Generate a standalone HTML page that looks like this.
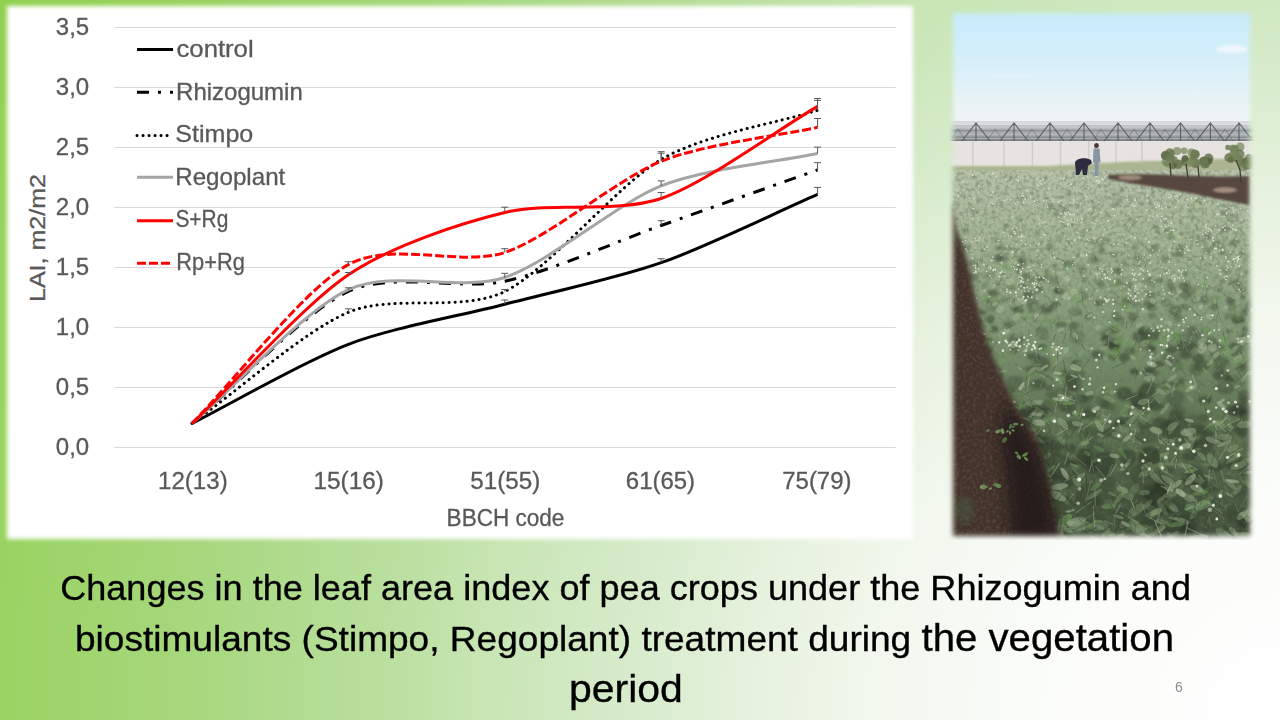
<!DOCTYPE html>
<html><head><meta charset="utf-8"><title>LAI of pea crops</title>
<style>
html,body{margin:0;padding:0;}
body{width:1280px;height:720px;overflow:hidden;position:relative;background:radial-gradient(circle 1470px at 1280px 720px, #ffffff 0px, #fafcf8 250px, #f2f8ee 400px, #e7f2df 520px, #d6ebca 660px, #c8e5b3 800px, #b9df9e 900px, #a6d77c 1100px, #9bd363 1280px, #92d050 1470px);}
.box{position:absolute;left:7px;top:6px;width:906px;height:533px;background:#fff;filter:blur(2px);}
svg{position:absolute;left:0;top:0;}
</style></head><body>
<div class="box"></div>
<svg width="1280" height="720" viewBox="0 0 1280 720">
<defs>
<filter id="soft" x="-10%" y="-10%" width="120%" height="120%"><feGaussianBlur stdDeviation="2.6"/></filter>
<filter id="b05"><feGaussianBlur stdDeviation="0.5"/></filter>
<filter id="b1"><feGaussianBlur stdDeviation="1"/></filter>
<filter id="b2" x="-20%" y="-20%" width="140%" height="140%"><feGaussianBlur stdDeviation="2.5"/></filter>
<filter id="b4" x="-40%" y="-30%" width="180%" height="160%"><feGaussianBlur stdDeviation="7"/></filter>
<filter id="noise" x="0" y="0" width="100%" height="100%">
 <feTurbulence type="fractalNoise" baseFrequency="0.25" numOctaves="3" seed="3" result="n"/>
 <feColorMatrix in="n" type="matrix" values="0 0 0 0 0.16  0 0 0 0 0.2  0 0 0 0 0.13  0 0 0 1.4 -0.6" />
</filter>
<filter id="snoise" x="0" y="0" width="100%" height="100%">
 <feTurbulence type="fractalNoise" baseFrequency="0.3" numOctaves="2" seed="5" result="n"/>
 <feColorMatrix in="n" type="matrix" values="0 0 0 0 0.12  0 0 0 0 0.08  0 0 0 0 0.07  0 0 0 1.6 -0.7" />
</filter>
<mask id="pm"><rect x="953" y="13.3" width="297" height="522.7" fill="#fff" filter="url(#soft)"/></mask>
<clipPath id="fc"><rect x="945" y="170" width="312" height="370"/></clipPath>
<linearGradient id="sky" x1="0" y1="0" x2="0" y2="1">
<stop offset="0" stop-color="#c5ebfc"/><stop offset="0.45" stop-color="#d5effa"/><stop offset="0.8" stop-color="#e8f3f6"/><stop offset="1" stop-color="#f0f5f4"/>
</linearGradient>
<linearGradient id="field" x1="0" y1="0" x2="0" y2="1">
<stop offset="0" stop-color="#b6c2aa"/><stop offset="0.2" stop-color="#a2b393"/><stop offset="0.45" stop-color="#7c9470"/><stop offset="0.7" stop-color="#5a6f4e"/><stop offset="1" stop-color="#3e4a37"/>
</linearGradient>
</defs>
<g mask="url(#pm)">
<rect x="945" y="5" width="312" height="118" fill="url(#sky)"/>
<ellipse cx="1232" cy="49" rx="16" ry="4" fill="#eef6fb" filter="url(#b1)"/>
<ellipse cx="1010" cy="76" rx="22" ry="1.5" fill="#e6f3fa" filter="url(#b1)"/>
<rect x="945" y="121.5" width="312" height="20" fill="#a7abaf"/>
<rect x="945" y="121.5" width="312" height="4" fill="#d9dcde"/>
<rect x="945" y="125.5" width="312" height="3" fill="#c3c6c9"/>
<rect x="945" y="130" width="312" height="1.2" fill="#8d9196"/>
<rect x="945" y="133.5" width="312" height="1.5" fill="#b4b7ba"/>
<rect x="945" y="136.5" width="312" height="1.3" fill="#868a8f"/>
<rect x="945" y="139.3" width="312" height="1.8" fill="#7b7f84"/>
<path d="M962.0,141 L976.0,123 L990.0,141 M976.0,123 L976.0,141 M1000.0,141 L1014.0,123 L1028.0,141 M1014.0,123 L1014.0,141 M1036.0,141 L1050.0,123 L1064.0,141 M1050.0,123 L1050.0,141 M1070.0,141 L1084.0,123 L1098.0,141 M1084.0,123 L1084.0,141 M1104.0,141 L1118.0,123 L1132.0,141 M1118.0,123 L1118.0,141 M1136.0,141 L1150.0,123 L1164.0,141 M1150.0,123 L1150.0,141 M1166.5,141 L1180.5,123 L1194.5,141 M1180.5,123 L1180.5,141 M1196.4,141 L1210.4,123 L1224.4,141 M1210.4,123 L1210.4,141 M1225.0,141 L1239.0,123 L1253.0,141 M1239.0,123 L1239.0,141" fill="none" stroke="#4c525a" stroke-width="1.1" opacity="0.85"/>
<path d="M950.0,141 L958.0,129 L966.0,141 M987.0,141 L995.0,129 L1003.0,141 M1024.0,141 L1032.0,129 L1040.0,141 M1059.0,141 L1067.0,129 L1075.0,141 M1093.0,141 L1101.0,129 L1109.0,141 M1126.0,141 L1134.0,129 L1142.0,141 M1157.0,141 L1165.0,129 L1173.0,141 M1187.0,141 L1195.0,129 L1203.0,141 M1217.0,141 L1225.0,129 L1233.0,141" fill="none" stroke="#5c626a" stroke-width="0.9" opacity="0.6"/>
<rect x="945" y="141" width="312" height="28" fill="#e6e3e0"/>
<rect x="972.2" y="141" width="1.4" height="28" fill="#cfccc9"/>
<rect x="1003.2" y="141" width="1.4" height="28" fill="#cfccc9"/>
<rect x="1031.7" y="141" width="1.4" height="28" fill="#cfccc9"/>
<rect x="1059.8" y="141" width="1.4" height="28" fill="#cfccc9"/>
<rect x="1087.95" y="141" width="1.4" height="28" fill="#cfccc9"/>
<rect x="1115.2" y="141" width="1.4" height="28" fill="#cfccc9"/>
<rect x="1141.2" y="141" width="1.4" height="28" fill="#cfccc9"/>
<path d="M945,166 L1050,166 C1100,162 1180,160 1257,158 L1257,178 L945,178 Z" fill="#acb592" filter="url(#b1)"/>
<g clip-path="url(#fc)">
<rect x="945" y="170" width="312" height="370" fill="url(#field)"/>
<rect x="945" y="170" width="312" height="370" filter="url(#noise)"/>
<g filter="url(#b1)"><ellipse cx="992.1" cy="292.8" rx="5.0" ry="2.7" fill="#2f3829" opacity="0.29"/><ellipse cx="1228.8" cy="389.4" rx="5.3" ry="2.9" fill="#4b5a43" opacity="0.38"/><ellipse cx="1077.4" cy="205.8" rx="3.0" ry="1.7" fill="#44523c" opacity="0.26"/><ellipse cx="964.3" cy="389.5" rx="7.3" ry="3.8" fill="#44523c" opacity="0.37"/><ellipse cx="1035.4" cy="492.2" rx="6.7" ry="3.7" fill="#36422f" opacity="0.64"/><ellipse cx="977.2" cy="426.4" rx="8.2" ry="4.9" fill="#3d4a37" opacity="0.55"/><ellipse cx="963.6" cy="195.4" rx="1.6" ry="1.4" fill="#4b5a43" opacity="0.27"/><ellipse cx="1233.1" cy="345.7" rx="5.1" ry="3.2" fill="#44523c" opacity="0.47"/><ellipse cx="1124.2" cy="263.0" rx="3.8" ry="3.6" fill="#4b5a43" opacity="0.29"/><ellipse cx="981.8" cy="537.6" rx="9.8" ry="8.6" fill="#44523c" opacity="0.82"/><ellipse cx="1245.1" cy="329.3" rx="3.6" ry="2.8" fill="#36422f" opacity="0.37"/><ellipse cx="1100.0" cy="302.6" rx="5.8" ry="3.1" fill="#3d4a37" opacity="0.45"/><ellipse cx="1152.2" cy="348.8" rx="3.8" ry="3.2" fill="#2f3829" opacity="0.54"/><ellipse cx="1033.8" cy="478.6" rx="8.2" ry="6.8" fill="#3d4a37" opacity="0.73"/><ellipse cx="1135.6" cy="304.6" rx="4.7" ry="2.9" fill="#36422f" opacity="0.31"/><ellipse cx="1067.0" cy="264.4" rx="4.9" ry="2.7" fill="#4b5a43" opacity="0.31"/><ellipse cx="987.7" cy="275.6" rx="3.8" ry="3.0" fill="#4b5a43" opacity="0.42"/><ellipse cx="1063.7" cy="426.7" rx="6.1" ry="3.3" fill="#44523c" opacity="0.46"/><ellipse cx="1096.3" cy="259.0" rx="3.9" ry="2.5" fill="#3d4a37" opacity="0.26"/><ellipse cx="1135.3" cy="371.4" rx="5.5" ry="3.1" fill="#2f3829" opacity="0.57"/><ellipse cx="1175.8" cy="416.3" rx="7.2" ry="6.8" fill="#2f3829" opacity="0.49"/><ellipse cx="977.3" cy="320.8" rx="5.7" ry="3.0" fill="#3d4a37" opacity="0.49"/><ellipse cx="979.3" cy="336.4" rx="6.0" ry="3.3" fill="#2f3829" opacity="0.34"/><ellipse cx="1058.4" cy="209.8" rx="1.5" ry="1.4" fill="#2f3829" opacity="0.24"/><ellipse cx="1243.1" cy="408.6" rx="7.9" ry="5.8" fill="#3d4a37" opacity="0.60"/><ellipse cx="1090.4" cy="542.4" rx="10.4" ry="5.7" fill="#3d4a37" opacity="0.77"/><ellipse cx="1094.3" cy="448.2" rx="9.5" ry="7.2" fill="#44523c" opacity="0.69"/><ellipse cx="990.7" cy="369.0" rx="6.6" ry="3.4" fill="#2f3829" opacity="0.41"/><ellipse cx="973.4" cy="411.8" rx="9.4" ry="7.2" fill="#44523c" opacity="0.48"/><ellipse cx="1114.0" cy="255.1" rx="3.6" ry="2.9" fill="#2f3829" opacity="0.36"/><ellipse cx="1211.0" cy="539.4" rx="13.1" ry="11.9" fill="#44523c" opacity="0.58"/><ellipse cx="1173.1" cy="355.8" rx="8.4" ry="7.5" fill="#4b5a43" opacity="0.39"/><ellipse cx="1243.4" cy="430.3" rx="7.5" ry="7.3" fill="#36422f" opacity="0.66"/><ellipse cx="1013.8" cy="308.0" rx="3.8" ry="2.3" fill="#44523c" opacity="0.38"/><ellipse cx="1135.4" cy="539.5" rx="6.3" ry="6.0" fill="#36422f" opacity="0.78"/><ellipse cx="1151.1" cy="203.6" rx="3.1" ry="2.7" fill="#44523c" opacity="0.24"/><ellipse cx="1191.2" cy="238.6" rx="2.7" ry="2.5" fill="#4b5a43" opacity="0.28"/><ellipse cx="971.5" cy="449.3" rx="6.0" ry="6.0" fill="#3d4a37" opacity="0.46"/><ellipse cx="1196.6" cy="509.5" rx="7.0" ry="6.4" fill="#4b5a43" opacity="0.69"/><ellipse cx="1116.2" cy="302.7" rx="3.3" ry="1.7" fill="#3d4a37" opacity="0.38"/><ellipse cx="1080.3" cy="520.2" rx="13.0" ry="11.9" fill="#44523c" opacity="0.50"/><ellipse cx="1101.4" cy="251.4" rx="4.2" ry="2.8" fill="#2f3829" opacity="0.29"/><ellipse cx="1228.9" cy="220.9" rx="2.4" ry="1.8" fill="#2f3829" opacity="0.31"/><ellipse cx="1203.1" cy="364.8" rx="8.1" ry="4.6" fill="#44523c" opacity="0.46"/><ellipse cx="1082.3" cy="179.0" rx="1.3" ry="0.6" fill="#44523c" opacity="0.18"/><ellipse cx="1171.3" cy="348.6" rx="6.1" ry="4.1" fill="#2f3829" opacity="0.44"/><ellipse cx="1187.3" cy="352.0" rx="7.7" ry="4.1" fill="#44523c" opacity="0.39"/><ellipse cx="1103.4" cy="460.1" rx="9.0" ry="7.9" fill="#3d4a37" opacity="0.56"/><ellipse cx="1102.7" cy="400.5" rx="7.2" ry="6.1" fill="#4b5a43" opacity="0.50"/><ellipse cx="1103.4" cy="473.1" rx="7.1" ry="5.4" fill="#36422f" opacity="0.72"/><ellipse cx="1008.2" cy="505.0" rx="9.2" ry="6.5" fill="#4b5a43" opacity="0.62"/><ellipse cx="1020.1" cy="199.1" rx="1.5" ry="1.2" fill="#3d4a37" opacity="0.28"/><ellipse cx="1168.4" cy="229.6" rx="3.3" ry="1.9" fill="#44523c" opacity="0.34"/><ellipse cx="1242.2" cy="253.9" rx="3.3" ry="2.4" fill="#44523c" opacity="0.26"/><ellipse cx="1105.9" cy="333.0" rx="4.8" ry="2.8" fill="#36422f" opacity="0.33"/><ellipse cx="1050.4" cy="308.5" rx="4.7" ry="4.0" fill="#4b5a43" opacity="0.35"/><ellipse cx="1104.8" cy="404.7" rx="4.7" ry="4.7" fill="#44523c" opacity="0.62"/><ellipse cx="1027.9" cy="211.1" rx="1.6" ry="1.4" fill="#36422f" opacity="0.29"/><ellipse cx="1210.1" cy="477.8" rx="10.3" ry="10.0" fill="#4b5a43" opacity="0.49"/><ellipse cx="1123.0" cy="514.9" rx="11.5" ry="6.3" fill="#3d4a37" opacity="0.74"/><ellipse cx="1224.3" cy="240.4" rx="2.6" ry="1.3" fill="#3d4a37" opacity="0.34"/><ellipse cx="1212.1" cy="203.2" rx="1.5" ry="1.4" fill="#4b5a43" opacity="0.18"/><ellipse cx="1075.3" cy="542.9" rx="14.1" ry="11.4" fill="#3d4a37" opacity="0.69"/><ellipse cx="979.1" cy="260.9" rx="2.7" ry="1.4" fill="#44523c" opacity="0.39"/><ellipse cx="1110.7" cy="406.5" rx="5.5" ry="4.0" fill="#44523c" opacity="0.45"/><ellipse cx="1255.3" cy="471.8" rx="5.6" ry="2.8" fill="#2f3829" opacity="0.61"/><ellipse cx="1093.1" cy="242.7" rx="4.4" ry="2.4" fill="#4b5a43" opacity="0.32"/><ellipse cx="1222.3" cy="375.6" rx="8.9" ry="5.9" fill="#44523c" opacity="0.58"/><ellipse cx="1204.7" cy="299.8" rx="5.4" ry="4.4" fill="#4b5a43" opacity="0.46"/><ellipse cx="1206.1" cy="538.2" rx="6.4" ry="5.2" fill="#36422f" opacity="0.65"/><ellipse cx="1152.6" cy="192.7" rx="1.9" ry="1.4" fill="#36422f" opacity="0.24"/><ellipse cx="959.1" cy="430.4" rx="5.9" ry="3.7" fill="#3d4a37" opacity="0.47"/><ellipse cx="1248.5" cy="530.7" rx="10.7" ry="6.6" fill="#36422f" opacity="0.57"/><ellipse cx="1049.6" cy="240.2" rx="2.1" ry="1.4" fill="#44523c" opacity="0.25"/><ellipse cx="973.3" cy="461.5" rx="10.8" ry="6.2" fill="#2f3829" opacity="0.45"/><ellipse cx="1039.9" cy="180.4" rx="1.4" ry="1.1" fill="#2f3829" opacity="0.25"/><ellipse cx="1223.6" cy="229.9" rx="3.6" ry="2.9" fill="#36422f" opacity="0.31"/><ellipse cx="1033.7" cy="356.3" rx="6.6" ry="3.8" fill="#2f3829" opacity="0.47"/><ellipse cx="1198.4" cy="445.7" rx="5.8" ry="4.4" fill="#2f3829" opacity="0.58"/><ellipse cx="950.0" cy="475.2" rx="10.3" ry="9.2" fill="#44523c" opacity="0.47"/><ellipse cx="1143.8" cy="187.6" rx="2.6" ry="1.8" fill="#4b5a43" opacity="0.23"/><ellipse cx="1140.4" cy="406.2" rx="8.3" ry="6.2" fill="#3d4a37" opacity="0.50"/><ellipse cx="1235.9" cy="198.2" rx="2.9" ry="1.6" fill="#2f3829" opacity="0.19"/><ellipse cx="1023.7" cy="446.8" rx="5.4" ry="3.4" fill="#44523c" opacity="0.48"/><ellipse cx="1088.6" cy="414.4" rx="9.5" ry="5.1" fill="#36422f" opacity="0.59"/><ellipse cx="1145.5" cy="402.1" rx="4.7" ry="2.7" fill="#36422f" opacity="0.54"/><ellipse cx="1138.8" cy="430.4" rx="5.5" ry="4.1" fill="#4b5a43" opacity="0.48"/><ellipse cx="1161.0" cy="422.7" rx="8.7" ry="5.6" fill="#2f3829" opacity="0.47"/><ellipse cx="1184.4" cy="345.8" rx="8.1" ry="6.2" fill="#36422f" opacity="0.53"/><ellipse cx="950.5" cy="521.2" rx="9.7" ry="8.8" fill="#4b5a43" opacity="0.82"/><ellipse cx="1231.0" cy="316.3" rx="6.8" ry="3.7" fill="#3d4a37" opacity="0.32"/><ellipse cx="1242.3" cy="367.5" rx="4.5" ry="4.1" fill="#2f3829" opacity="0.41"/><ellipse cx="1058.9" cy="214.0" rx="2.6" ry="2.4" fill="#4b5a43" opacity="0.20"/><ellipse cx="1098.4" cy="173.3" rx="1.5" ry="1.0" fill="#44523c" opacity="0.20"/><ellipse cx="982.7" cy="312.3" rx="4.3" ry="2.8" fill="#36422f" opacity="0.45"/><ellipse cx="1234.0" cy="216.8" rx="3.1" ry="2.9" fill="#36422f" opacity="0.23"/><ellipse cx="1066.7" cy="196.2" rx="2.8" ry="1.5" fill="#4b5a43" opacity="0.26"/><ellipse cx="1032.6" cy="490.6" rx="6.0" ry="5.0" fill="#44523c" opacity="0.54"/><ellipse cx="1104.4" cy="271.1" rx="3.0" ry="2.0" fill="#4b5a43" opacity="0.39"/><ellipse cx="1141.8" cy="474.9" rx="11.9" ry="11.5" fill="#2f3829" opacity="0.51"/><ellipse cx="1236.2" cy="202.1" rx="2.1" ry="1.7" fill="#44523c" opacity="0.26"/><ellipse cx="960.3" cy="278.8" rx="5.6" ry="3.1" fill="#4b5a43" opacity="0.33"/><ellipse cx="1024.8" cy="277.1" rx="4.9" ry="4.0" fill="#4b5a43" opacity="0.37"/><ellipse cx="1118.9" cy="284.2" rx="3.9" ry="2.3" fill="#44523c" opacity="0.27"/><ellipse cx="1198.3" cy="358.7" rx="6.3" ry="4.6" fill="#36422f" opacity="0.56"/><ellipse cx="988.6" cy="339.8" rx="4.2" ry="2.3" fill="#36422f" opacity="0.43"/><ellipse cx="1059.9" cy="291.1" rx="5.5" ry="3.3" fill="#3d4a37" opacity="0.40"/><ellipse cx="1074.1" cy="326.0" rx="5.4" ry="3.7" fill="#36422f" opacity="0.45"/><ellipse cx="1124.2" cy="357.8" rx="5.4" ry="4.5" fill="#2f3829" opacity="0.47"/><ellipse cx="1012.4" cy="493.8" rx="7.7" ry="4.8" fill="#4b5a43" opacity="0.67"/><ellipse cx="1042.3" cy="333.1" rx="6.8" ry="6.7" fill="#44523c" opacity="0.32"/><ellipse cx="1224.5" cy="436.6" rx="7.8" ry="6.2" fill="#3d4a37" opacity="0.43"/><ellipse cx="1234.6" cy="519.0" rx="10.2" ry="7.5" fill="#4b5a43" opacity="0.57"/><ellipse cx="993.2" cy="212.7" rx="2.6" ry="2.2" fill="#4b5a43" opacity="0.20"/><ellipse cx="945.4" cy="461.8" rx="6.0" ry="4.7" fill="#3d4a37" opacity="0.62"/><ellipse cx="984.9" cy="285.3" rx="3.5" ry="2.8" fill="#3d4a37" opacity="0.28"/><ellipse cx="1239.4" cy="284.0" rx="3.2" ry="2.0" fill="#2f3829" opacity="0.26"/><ellipse cx="1255.9" cy="372.5" rx="5.3" ry="3.5" fill="#44523c" opacity="0.46"/><ellipse cx="1022.1" cy="259.6" rx="5.0" ry="4.3" fill="#36422f" opacity="0.25"/><ellipse cx="1221.1" cy="244.4" rx="3.7" ry="2.0" fill="#44523c" opacity="0.32"/><ellipse cx="1015.8" cy="517.1" rx="6.2" ry="4.2" fill="#4b5a43" opacity="0.61"/><ellipse cx="947.1" cy="319.8" rx="4.3" ry="4.0" fill="#3d4a37" opacity="0.34"/><ellipse cx="1042.3" cy="533.8" rx="13.0" ry="8.0" fill="#44523c" opacity="0.59"/><ellipse cx="979.0" cy="503.7" rx="10.6" ry="8.5" fill="#44523c" opacity="0.63"/><ellipse cx="962.6" cy="511.6" rx="10.6" ry="10.1" fill="#3d4a37" opacity="0.55"/><ellipse cx="989.3" cy="535.3" rx="6.7" ry="3.5" fill="#4b5a43" opacity="0.66"/><ellipse cx="1043.0" cy="437.6" rx="5.5" ry="3.0" fill="#44523c" opacity="0.50"/><ellipse cx="1237.0" cy="241.2" rx="3.9" ry="2.0" fill="#4b5a43" opacity="0.34"/><ellipse cx="1083.0" cy="539.4" rx="7.2" ry="3.9" fill="#3d4a37" opacity="0.63"/><ellipse cx="983.6" cy="528.4" rx="14.0" ry="8.5" fill="#36422f" opacity="0.75"/><ellipse cx="1195.8" cy="287.1" rx="2.9" ry="2.5" fill="#44523c" opacity="0.33"/><ellipse cx="1005.2" cy="515.0" rx="8.8" ry="8.4" fill="#3d4a37" opacity="0.69"/><ellipse cx="1140.1" cy="264.5" rx="3.5" ry="2.4" fill="#4b5a43" opacity="0.25"/><ellipse cx="1025.2" cy="515.2" rx="11.9" ry="11.3" fill="#36422f" opacity="0.60"/><ellipse cx="1242.6" cy="296.9" rx="2.9" ry="2.5" fill="#36422f" opacity="0.44"/><ellipse cx="1170.1" cy="282.9" rx="4.6" ry="4.1" fill="#3d4a37" opacity="0.26"/><ellipse cx="1093.3" cy="259.2" rx="5.0" ry="4.9" fill="#4b5a43" opacity="0.36"/><ellipse cx="1199.2" cy="512.8" rx="6.9" ry="5.2" fill="#3d4a37" opacity="0.74"/><ellipse cx="1201.7" cy="447.5" rx="10.0" ry="8.1" fill="#36422f" opacity="0.66"/><ellipse cx="1189.6" cy="343.9" rx="6.2" ry="4.7" fill="#4b5a43" opacity="0.48"/><ellipse cx="965.2" cy="264.2" rx="2.4" ry="1.8" fill="#36422f" opacity="0.27"/><ellipse cx="977.8" cy="331.1" rx="3.6" ry="2.9" fill="#44523c" opacity="0.33"/><ellipse cx="1166.4" cy="357.9" rx="5.8" ry="3.6" fill="#4b5a43" opacity="0.44"/><ellipse cx="1018.3" cy="504.4" rx="9.9" ry="8.8" fill="#3d4a37" opacity="0.72"/><ellipse cx="1032.2" cy="281.6" rx="3.4" ry="2.2" fill="#36422f" opacity="0.29"/><ellipse cx="1021.5" cy="264.3" rx="2.7" ry="2.6" fill="#2f3829" opacity="0.27"/><ellipse cx="1023.5" cy="196.2" rx="1.7" ry="1.3" fill="#3d4a37" opacity="0.25"/><ellipse cx="976.9" cy="541.6" rx="10.3" ry="9.4" fill="#4b5a43" opacity="0.82"/><ellipse cx="1036.6" cy="187.1" rx="1.3" ry="0.8" fill="#2f3829" opacity="0.19"/><ellipse cx="1105.0" cy="200.0" rx="1.7" ry="1.3" fill="#3d4a37" opacity="0.19"/><ellipse cx="1138.4" cy="394.4" rx="5.4" ry="3.7" fill="#44523c" opacity="0.38"/><ellipse cx="956.9" cy="545.0" rx="12.6" ry="12.1" fill="#3d4a37" opacity="0.80"/><ellipse cx="1061.0" cy="324.6" rx="5.8" ry="3.1" fill="#3d4a37" opacity="0.46"/><ellipse cx="964.7" cy="376.4" rx="4.4" ry="3.1" fill="#2f3829" opacity="0.39"/><ellipse cx="1148.8" cy="371.2" rx="5.9" ry="3.7" fill="#36422f" opacity="0.50"/><ellipse cx="961.0" cy="327.9" rx="6.4" ry="6.0" fill="#4b5a43" opacity="0.39"/><ellipse cx="1255.9" cy="494.4" rx="8.4" ry="5.0" fill="#4b5a43" opacity="0.53"/><ellipse cx="1226.3" cy="174.2" rx="1.5" ry="1.4" fill="#4b5a43" opacity="0.21"/><ellipse cx="1186.2" cy="308.0" rx="3.4" ry="1.8" fill="#44523c" opacity="0.41"/><ellipse cx="972.8" cy="511.4" rx="10.8" ry="7.4" fill="#2f3829" opacity="0.54"/><ellipse cx="995.5" cy="301.8" rx="3.5" ry="1.9" fill="#4b5a43" opacity="0.37"/><ellipse cx="1246.7" cy="472.2" rx="6.7" ry="3.8" fill="#3d4a37" opacity="0.73"/><ellipse cx="961.7" cy="352.1" rx="7.9" ry="5.5" fill="#2f3829" opacity="0.48"/><ellipse cx="1144.8" cy="504.4" rx="12.4" ry="10.0" fill="#2f3829" opacity="0.74"/><ellipse cx="1002.1" cy="481.3" rx="7.0" ry="4.9" fill="#2f3829" opacity="0.50"/><ellipse cx="991.6" cy="306.0" rx="6.6" ry="6.0" fill="#44523c" opacity="0.29"/><ellipse cx="1181.3" cy="381.8" rx="4.2" ry="3.9" fill="#3d4a37" opacity="0.45"/><ellipse cx="1209.9" cy="342.0" rx="6.9" ry="5.7" fill="#36422f" opacity="0.44"/><ellipse cx="1150.6" cy="330.8" rx="5.2" ry="3.7" fill="#3d4a37" opacity="0.31"/><ellipse cx="1090.2" cy="539.8" rx="10.0" ry="8.1" fill="#4b5a43" opacity="0.79"/><ellipse cx="1069.9" cy="474.3" rx="5.8" ry="4.0" fill="#36422f" opacity="0.47"/><ellipse cx="1104.2" cy="336.9" rx="3.5" ry="2.9" fill="#3d4a37" opacity="0.50"/><ellipse cx="1169.8" cy="289.0" rx="2.9" ry="2.6" fill="#4b5a43" opacity="0.38"/><ellipse cx="953.1" cy="464.5" rx="5.7" ry="4.6" fill="#3d4a37" opacity="0.49"/><ellipse cx="1098.5" cy="538.2" rx="14.3" ry="13.7" fill="#44523c" opacity="0.74"/><ellipse cx="1014.0" cy="441.0" rx="10.2" ry="8.3" fill="#36422f" opacity="0.46"/><ellipse cx="1030.8" cy="506.4" rx="12.1" ry="6.9" fill="#2f3829" opacity="0.78"/><ellipse cx="1129.7" cy="351.1" rx="6.5" ry="4.0" fill="#36422f" opacity="0.33"/><ellipse cx="995.3" cy="239.9" rx="4.3" ry="3.6" fill="#4b5a43" opacity="0.24"/><ellipse cx="980.9" cy="464.8" rx="8.9" ry="7.3" fill="#36422f" opacity="0.72"/><ellipse cx="1107.7" cy="341.0" rx="6.5" ry="6.2" fill="#36422f" opacity="0.53"/><ellipse cx="1068.0" cy="406.9" rx="9.0" ry="5.7" fill="#36422f" opacity="0.53"/><ellipse cx="1183.6" cy="306.4" rx="4.6" ry="2.7" fill="#3d4a37" opacity="0.34"/><ellipse cx="1041.7" cy="364.5" rx="8.6" ry="8.0" fill="#36422f" opacity="0.51"/><ellipse cx="1014.2" cy="450.7" rx="6.9" ry="5.6" fill="#4b5a43" opacity="0.57"/><ellipse cx="986.2" cy="506.0" rx="7.6" ry="6.3" fill="#3d4a37" opacity="0.49"/><ellipse cx="1039.8" cy="383.5" rx="6.8" ry="5.2" fill="#4b5a43" opacity="0.50"/><ellipse cx="1008.7" cy="391.7" rx="7.6" ry="5.6" fill="#44523c" opacity="0.37"/><ellipse cx="1165.7" cy="471.0" rx="8.5" ry="4.5" fill="#44523c" opacity="0.70"/><ellipse cx="1070.4" cy="463.7" rx="7.0" ry="3.5" fill="#2f3829" opacity="0.70"/><ellipse cx="1125.5" cy="393.8" rx="7.5" ry="5.7" fill="#4b5a43" opacity="0.43"/><ellipse cx="958.7" cy="509.0" rx="10.0" ry="7.0" fill="#44523c" opacity="0.53"/><ellipse cx="977.7" cy="512.1" rx="10.7" ry="8.9" fill="#44523c" opacity="0.53"/><ellipse cx="1134.7" cy="246.4" rx="3.4" ry="2.8" fill="#2f3829" opacity="0.25"/><ellipse cx="1038.7" cy="287.4" rx="2.8" ry="2.6" fill="#4b5a43" opacity="0.39"/><ellipse cx="1208.5" cy="174.4" rx="1.9" ry="1.4" fill="#4b5a43" opacity="0.17"/><ellipse cx="1026.6" cy="543.7" rx="11.8" ry="6.6" fill="#36422f" opacity="0.76"/><ellipse cx="1117.8" cy="271.2" rx="3.8" ry="3.4" fill="#2f3829" opacity="0.41"/><ellipse cx="1234.7" cy="282.3" rx="5.6" ry="3.0" fill="#2f3829" opacity="0.26"/><ellipse cx="1018.7" cy="269.1" rx="4.7" ry="4.5" fill="#36422f" opacity="0.28"/><ellipse cx="1132.6" cy="317.0" rx="4.6" ry="4.2" fill="#2f3829" opacity="0.38"/><ellipse cx="1162.7" cy="485.2" rx="11.8" ry="8.5" fill="#44523c" opacity="0.63"/><ellipse cx="1011.1" cy="286.8" rx="4.8" ry="2.6" fill="#44523c" opacity="0.29"/><ellipse cx="978.3" cy="182.0" rx="2.4" ry="1.6" fill="#44523c" opacity="0.24"/><ellipse cx="988.2" cy="183.5" rx="2.0" ry="1.1" fill="#3d4a37" opacity="0.24"/><ellipse cx="1129.2" cy="196.5" rx="1.9" ry="1.7" fill="#2f3829" opacity="0.28"/><ellipse cx="1215.8" cy="196.6" rx="2.9" ry="2.8" fill="#3d4a37" opacity="0.20"/><ellipse cx="955.6" cy="247.8" rx="4.6" ry="4.4" fill="#3d4a37" opacity="0.35"/><ellipse cx="1034.7" cy="407.6" rx="4.9" ry="2.7" fill="#44523c" opacity="0.46"/><ellipse cx="1026.5" cy="297.5" rx="4.1" ry="3.9" fill="#3d4a37" opacity="0.40"/><ellipse cx="1045.1" cy="309.3" rx="6.7" ry="5.0" fill="#36422f" opacity="0.40"/><ellipse cx="1073.8" cy="183.6" rx="1.7" ry="1.5" fill="#36422f" opacity="0.21"/><ellipse cx="1121.6" cy="189.9" rx="2.3" ry="2.1" fill="#2f3829" opacity="0.26"/><ellipse cx="945.4" cy="235.5" rx="2.4" ry="2.1" fill="#3d4a37" opacity="0.21"/><ellipse cx="1098.3" cy="355.1" rx="7.4" ry="4.4" fill="#4b5a43" opacity="0.46"/><ellipse cx="1105.7" cy="529.0" rx="10.9" ry="6.3" fill="#44523c" opacity="0.81"/><ellipse cx="996.7" cy="258.4" rx="4.9" ry="4.4" fill="#4b5a43" opacity="0.36"/><ellipse cx="1190.5" cy="432.0" rx="8.7" ry="5.9" fill="#4b5a43" opacity="0.66"/><ellipse cx="1177.5" cy="504.7" rx="9.0" ry="7.4" fill="#36422f" opacity="0.54"/><ellipse cx="1226.2" cy="270.2" rx="3.9" ry="2.7" fill="#44523c" opacity="0.40"/><ellipse cx="1130.4" cy="219.3" rx="3.1" ry="2.5" fill="#3d4a37" opacity="0.24"/><ellipse cx="993.5" cy="293.8" rx="5.8" ry="4.8" fill="#36422f" opacity="0.30"/><ellipse cx="1186.3" cy="335.7" rx="5.9" ry="3.3" fill="#4b5a43" opacity="0.44"/><ellipse cx="1103.4" cy="431.8" rx="6.4" ry="5.6" fill="#2f3829" opacity="0.45"/><ellipse cx="1022.2" cy="230.2" rx="2.6" ry="1.9" fill="#44523c" opacity="0.24"/><ellipse cx="1025.7" cy="528.5" rx="13.9" ry="13.9" fill="#44523c" opacity="0.82"/><ellipse cx="1064.9" cy="209.9" rx="3.4" ry="3.1" fill="#36422f" opacity="0.24"/><ellipse cx="1144.1" cy="245.2" rx="2.3" ry="1.4" fill="#4b5a43" opacity="0.29"/><ellipse cx="1211.6" cy="176.7" rx="1.6" ry="1.0" fill="#36422f" opacity="0.20"/><ellipse cx="1133.4" cy="224.9" rx="2.6" ry="2.3" fill="#4b5a43" opacity="0.30"/><ellipse cx="1146.9" cy="391.1" rx="8.8" ry="7.3" fill="#2f3829" opacity="0.57"/><ellipse cx="1145.2" cy="425.5" rx="7.4" ry="4.9" fill="#3d4a37" opacity="0.64"/><ellipse cx="1069.8" cy="262.4" rx="4.4" ry="2.5" fill="#4b5a43" opacity="0.32"/><ellipse cx="1212.9" cy="179.3" rx="1.8" ry="1.5" fill="#44523c" opacity="0.25"/><ellipse cx="948.3" cy="294.4" rx="5.7" ry="5.5" fill="#3d4a37" opacity="0.28"/><ellipse cx="995.2" cy="374.7" rx="7.9" ry="7.7" fill="#2f3829" opacity="0.43"/><ellipse cx="1087.5" cy="488.0" rx="7.1" ry="5.2" fill="#3d4a37" opacity="0.66"/><ellipse cx="1107.8" cy="481.2" rx="8.4" ry="8.2" fill="#44523c" opacity="0.75"/><ellipse cx="1105.3" cy="240.6" rx="4.3" ry="3.7" fill="#2f3829" opacity="0.27"/><ellipse cx="1030.6" cy="193.1" rx="1.9" ry="1.0" fill="#4b5a43" opacity="0.28"/><ellipse cx="1155.6" cy="406.5" rx="7.7" ry="4.3" fill="#36422f" opacity="0.57"/><ellipse cx="1109.4" cy="522.6" rx="7.8" ry="7.0" fill="#4b5a43" opacity="0.64"/><ellipse cx="1235.0" cy="233.4" rx="2.0" ry="1.8" fill="#44523c" opacity="0.28"/><ellipse cx="1015.5" cy="381.6" rx="9.1" ry="6.2" fill="#4b5a43" opacity="0.47"/><ellipse cx="1116.1" cy="281.8" rx="3.0" ry="2.7" fill="#36422f" opacity="0.39"/><ellipse cx="1164.7" cy="258.0" rx="4.2" ry="4.1" fill="#44523c" opacity="0.31"/><ellipse cx="1194.3" cy="472.4" rx="7.9" ry="6.5" fill="#36422f" opacity="0.59"/><ellipse cx="1143.8" cy="331.8" rx="6.1" ry="4.2" fill="#36422f" opacity="0.48"/><ellipse cx="1203.3" cy="193.3" rx="2.7" ry="2.4" fill="#44523c" opacity="0.23"/><ellipse cx="1126.7" cy="300.7" rx="5.3" ry="3.2" fill="#3d4a37" opacity="0.40"/><ellipse cx="976.7" cy="265.3" rx="2.7" ry="1.7" fill="#4b5a43" opacity="0.30"/><ellipse cx="1227.1" cy="228.9" rx="3.6" ry="2.1" fill="#2f3829" opacity="0.34"/><ellipse cx="1226.3" cy="205.7" rx="2.5" ry="2.0" fill="#36422f" opacity="0.21"/><ellipse cx="1110.6" cy="430.4" rx="9.4" ry="6.7" fill="#3d4a37" opacity="0.55"/><ellipse cx="1018.1" cy="270.7" rx="2.8" ry="2.1" fill="#3d4a37" opacity="0.33"/><ellipse cx="1163.5" cy="509.7" rx="7.8" ry="4.5" fill="#2f3829" opacity="0.76"/><ellipse cx="1207.3" cy="174.5" rx="1.6" ry="1.2" fill="#36422f" opacity="0.24"/><ellipse cx="1075.7" cy="311.9" rx="6.8" ry="3.6" fill="#36422f" opacity="0.41"/><ellipse cx="1135.2" cy="182.6" rx="2.1" ry="2.0" fill="#36422f" opacity="0.25"/><ellipse cx="1096.1" cy="207.1" rx="2.9" ry="1.7" fill="#44523c" opacity="0.28"/><ellipse cx="1050.6" cy="405.2" rx="9.3" ry="6.4" fill="#4b5a43" opacity="0.58"/><ellipse cx="1229.6" cy="378.7" rx="5.4" ry="3.7" fill="#36422f" opacity="0.48"/><ellipse cx="1036.4" cy="480.4" rx="11.4" ry="8.0" fill="#2f3829" opacity="0.75"/><ellipse cx="1052.6" cy="497.6" rx="7.2" ry="5.4" fill="#3d4a37" opacity="0.57"/><ellipse cx="1038.4" cy="290.3" rx="4.7" ry="3.9" fill="#3d4a37" opacity="0.34"/><ellipse cx="1071.7" cy="378.8" rx="7.0" ry="4.9" fill="#3d4a37" opacity="0.35"/><ellipse cx="1232.5" cy="242.8" rx="3.6" ry="2.9" fill="#2f3829" opacity="0.35"/><ellipse cx="1137.4" cy="400.2" rx="7.8" ry="6.6" fill="#2f3829" opacity="0.59"/><ellipse cx="957.3" cy="203.0" rx="2.5" ry="2.1" fill="#44523c" opacity="0.19"/><ellipse cx="956.5" cy="239.6" rx="3.9" ry="3.7" fill="#3d4a37" opacity="0.27"/><ellipse cx="1190.4" cy="478.8" rx="9.5" ry="6.0" fill="#36422f" opacity="0.51"/><ellipse cx="951.4" cy="184.8" rx="2.0" ry="1.5" fill="#3d4a37" opacity="0.22"/><ellipse cx="1202.3" cy="366.8" rx="7.7" ry="5.4" fill="#4b5a43" opacity="0.44"/><ellipse cx="1065.8" cy="177.3" rx="1.8" ry="1.7" fill="#44523c" opacity="0.21"/><ellipse cx="976.8" cy="325.8" rx="5.9" ry="3.6" fill="#44523c" opacity="0.43"/><ellipse cx="947.9" cy="331.3" rx="6.2" ry="6.1" fill="#3d4a37" opacity="0.35"/><ellipse cx="1092.4" cy="217.3" rx="2.2" ry="1.7" fill="#4b5a43" opacity="0.29"/><ellipse cx="960.6" cy="241.9" rx="4.0" ry="3.4" fill="#44523c" opacity="0.33"/><ellipse cx="1141.1" cy="203.4" rx="2.7" ry="2.0" fill="#36422f" opacity="0.29"/><ellipse cx="955.0" cy="191.6" rx="1.3" ry="1.2" fill="#2f3829" opacity="0.18"/><ellipse cx="1172.6" cy="288.0" rx="3.2" ry="3.0" fill="#4b5a43" opacity="0.37"/><ellipse cx="1241.0" cy="290.0" rx="5.2" ry="3.8" fill="#44523c" opacity="0.29"/><ellipse cx="1058.3" cy="469.4" rx="9.8" ry="8.0" fill="#4b5a43" opacity="0.58"/><ellipse cx="1086.3" cy="462.2" rx="7.0" ry="6.2" fill="#36422f" opacity="0.52"/><ellipse cx="1248.9" cy="194.6" rx="2.4" ry="2.2" fill="#36422f" opacity="0.27"/><ellipse cx="949.8" cy="442.7" rx="5.9" ry="5.4" fill="#2f3829" opacity="0.53"/><ellipse cx="1062.5" cy="503.3" rx="11.0" ry="8.8" fill="#44523c" opacity="0.73"/><ellipse cx="945.5" cy="277.7" rx="3.3" ry="2.4" fill="#2f3829" opacity="0.41"/><ellipse cx="1189.3" cy="456.7" rx="7.0" ry="4.0" fill="#2f3829" opacity="0.47"/><ellipse cx="1193.7" cy="535.8" rx="10.8" ry="9.6" fill="#4b5a43" opacity="0.62"/><ellipse cx="1117.7" cy="203.7" rx="2.9" ry="1.7" fill="#44523c" opacity="0.22"/><ellipse cx="1068.4" cy="193.5" rx="2.4" ry="2.3" fill="#2f3829" opacity="0.26"/><ellipse cx="1088.4" cy="467.3" rx="5.9" ry="5.3" fill="#3d4a37" opacity="0.51"/><ellipse cx="1224.8" cy="388.2" rx="8.9" ry="6.8" fill="#4b5a43" opacity="0.48"/><ellipse cx="1011.4" cy="247.3" rx="2.3" ry="2.1" fill="#36422f" opacity="0.28"/><ellipse cx="1070.6" cy="382.5" rx="6.8" ry="3.9" fill="#3d4a37" opacity="0.58"/><ellipse cx="1215.3" cy="356.0" rx="5.4" ry="4.0" fill="#3d4a37" opacity="0.37"/><ellipse cx="1052.6" cy="394.8" rx="7.1" ry="3.6" fill="#3d4a37" opacity="0.42"/><ellipse cx="1121.4" cy="496.8" rx="10.1" ry="6.1" fill="#36422f" opacity="0.60"/><ellipse cx="1184.4" cy="525.0" rx="12.7" ry="12.5" fill="#36422f" opacity="0.77"/><ellipse cx="1255.3" cy="298.4" rx="4.2" ry="2.1" fill="#3d4a37" opacity="0.38"/><ellipse cx="1088.0" cy="496.8" rx="12.8" ry="12.3" fill="#3d4a37" opacity="0.74"/><ellipse cx="1232.7" cy="410.7" rx="8.6" ry="4.7" fill="#36422f" opacity="0.53"/><ellipse cx="1243.4" cy="411.0" rx="8.4" ry="5.8" fill="#4b5a43" opacity="0.60"/><ellipse cx="1018.4" cy="310.3" rx="5.8" ry="3.4" fill="#36422f" opacity="0.47"/><ellipse cx="1117.5" cy="194.1" rx="1.3" ry="1.2" fill="#36422f" opacity="0.26"/><ellipse cx="1146.8" cy="436.7" rx="11.1" ry="5.9" fill="#44523c" opacity="0.50"/><ellipse cx="1007.1" cy="174.2" rx="1.9" ry="1.5" fill="#4b5a43" opacity="0.23"/><ellipse cx="1046.1" cy="211.3" rx="2.0" ry="1.1" fill="#4b5a43" opacity="0.24"/><ellipse cx="1197.0" cy="336.6" rx="7.4" ry="7.0" fill="#4b5a43" opacity="0.46"/><ellipse cx="956.2" cy="244.8" rx="4.5" ry="2.7" fill="#2f3829" opacity="0.35"/><ellipse cx="988.6" cy="503.5" rx="9.2" ry="5.0" fill="#4b5a43" opacity="0.74"/><ellipse cx="1086.1" cy="406.4" rx="6.3" ry="5.8" fill="#4b5a43" opacity="0.41"/><ellipse cx="1048.6" cy="308.5" rx="5.8" ry="3.4" fill="#4b5a43" opacity="0.39"/><ellipse cx="1216.7" cy="226.0" rx="2.3" ry="1.6" fill="#44523c" opacity="0.21"/><ellipse cx="1037.5" cy="385.0" rx="8.4" ry="5.3" fill="#3d4a37" opacity="0.44"/><ellipse cx="980.6" cy="508.9" rx="13.5" ry="7.1" fill="#44523c" opacity="0.66"/><ellipse cx="982.2" cy="483.6" rx="11.0" ry="10.8" fill="#4b5a43" opacity="0.76"/><ellipse cx="1233.6" cy="544.3" rx="7.2" ry="4.6" fill="#44523c" opacity="0.53"/><ellipse cx="1036.6" cy="443.0" rx="11.3" ry="5.7" fill="#2f3829" opacity="0.51"/><ellipse cx="945.6" cy="224.3" rx="3.6" ry="2.7" fill="#44523c" opacity="0.25"/><ellipse cx="1072.6" cy="187.1" rx="1.6" ry="0.9" fill="#44523c" opacity="0.22"/><ellipse cx="999.8" cy="257.9" rx="3.9" ry="3.6" fill="#2f3829" opacity="0.35"/><ellipse cx="999.7" cy="456.0" rx="6.0" ry="5.0" fill="#44523c" opacity="0.59"/><ellipse cx="965.5" cy="247.5" rx="4.0" ry="2.8" fill="#3d4a37" opacity="0.30"/><ellipse cx="1032.9" cy="301.7" rx="5.2" ry="5.1" fill="#3d4a37" opacity="0.28"/><ellipse cx="1093.7" cy="511.5" rx="12.7" ry="8.1" fill="#44523c" opacity="0.66"/><ellipse cx="956.4" cy="539.7" rx="12.2" ry="9.6" fill="#3d4a37" opacity="0.63"/><ellipse cx="1247.2" cy="519.7" rx="6.6" ry="4.5" fill="#44523c" opacity="0.76"/><ellipse cx="1045.1" cy="494.8" rx="11.0" ry="7.6" fill="#3d4a37" opacity="0.56"/><ellipse cx="1173.1" cy="212.2" rx="2.4" ry="1.2" fill="#2f3829" opacity="0.21"/><ellipse cx="972.6" cy="262.8" rx="4.1" ry="2.4" fill="#36422f" opacity="0.28"/><ellipse cx="954.4" cy="476.8" rx="6.1" ry="5.2" fill="#44523c" opacity="0.53"/><ellipse cx="1143.7" cy="484.3" rx="8.9" ry="5.5" fill="#4b5a43" opacity="0.49"/><ellipse cx="1168.7" cy="496.3" rx="6.0" ry="3.4" fill="#4b5a43" opacity="0.65"/><ellipse cx="979.3" cy="456.0" rx="5.9" ry="5.6" fill="#2f3829" opacity="0.60"/><ellipse cx="990.9" cy="493.2" rx="9.9" ry="8.7" fill="#44523c" opacity="0.76"/><ellipse cx="1143.1" cy="178.9" rx="2.0" ry="1.6" fill="#2f3829" opacity="0.21"/><ellipse cx="1238.7" cy="319.6" rx="6.3" ry="4.2" fill="#44523c" opacity="0.46"/><ellipse cx="1208.0" cy="438.9" rx="8.5" ry="8.4" fill="#36422f" opacity="0.64"/><ellipse cx="961.7" cy="488.2" rx="9.4" ry="9.2" fill="#36422f" opacity="0.54"/><ellipse cx="1142.4" cy="329.5" rx="4.8" ry="3.7" fill="#3d4a37" opacity="0.37"/><ellipse cx="1153.8" cy="246.9" rx="2.6" ry="1.9" fill="#4b5a43" opacity="0.34"/><ellipse cx="1142.6" cy="521.5" rx="12.5" ry="11.8" fill="#3d4a37" opacity="0.50"/><ellipse cx="1027.9" cy="411.3" rx="8.4" ry="5.4" fill="#2f3829" opacity="0.59"/><ellipse cx="976.4" cy="185.3" rx="1.3" ry="0.7" fill="#44523c" opacity="0.27"/><ellipse cx="1040.3" cy="279.2" rx="4.6" ry="2.6" fill="#2f3829" opacity="0.42"/><ellipse cx="1226.2" cy="515.6" rx="6.6" ry="5.3" fill="#44523c" opacity="0.63"/><ellipse cx="1221.2" cy="362.8" rx="8.2" ry="6.5" fill="#36422f" opacity="0.39"/><ellipse cx="1115.5" cy="204.8" rx="3.0" ry="2.4" fill="#2f3829" opacity="0.21"/><ellipse cx="1116.2" cy="316.2" rx="4.5" ry="4.3" fill="#36422f" opacity="0.41"/><ellipse cx="1041.9" cy="346.9" rx="4.6" ry="2.8" fill="#2f3829" opacity="0.44"/><ellipse cx="1068.7" cy="533.7" rx="13.9" ry="8.1" fill="#44523c" opacity="0.61"/><ellipse cx="1029.2" cy="293.4" rx="5.9" ry="3.6" fill="#3d4a37" opacity="0.41"/><ellipse cx="965.8" cy="231.1" rx="3.9" ry="2.8" fill="#3d4a37" opacity="0.28"/><ellipse cx="1055.5" cy="483.2" rx="11.0" ry="8.4" fill="#44523c" opacity="0.58"/><ellipse cx="988.8" cy="421.3" rx="5.8" ry="4.7" fill="#36422f" opacity="0.61"/><ellipse cx="1175.5" cy="365.1" rx="7.5" ry="6.6" fill="#4b5a43" opacity="0.40"/><ellipse cx="1142.2" cy="407.2" rx="8.5" ry="6.0" fill="#3d4a37" opacity="0.38"/><ellipse cx="1127.8" cy="457.6" rx="8.5" ry="8.3" fill="#2f3829" opacity="0.47"/><ellipse cx="1032.1" cy="489.0" rx="10.2" ry="5.6" fill="#4b5a43" opacity="0.67"/><ellipse cx="1055.0" cy="279.4" rx="3.7" ry="2.8" fill="#2f3829" opacity="0.32"/><ellipse cx="1190.6" cy="292.1" rx="5.7" ry="4.3" fill="#4b5a43" opacity="0.32"/><ellipse cx="1195.5" cy="372.3" rx="6.1" ry="4.2" fill="#44523c" opacity="0.37"/><ellipse cx="1046.0" cy="515.2" rx="12.6" ry="11.6" fill="#36422f" opacity="0.55"/><ellipse cx="1229.1" cy="331.1" rx="3.3" ry="1.7" fill="#2f3829" opacity="0.49"/><ellipse cx="1112.4" cy="283.8" rx="3.6" ry="2.9" fill="#4b5a43" opacity="0.35"/><ellipse cx="1158.8" cy="364.9" rx="5.7" ry="3.9" fill="#2f3829" opacity="0.49"/><ellipse cx="948.2" cy="341.0" rx="3.7" ry="2.3" fill="#4b5a43" opacity="0.40"/><ellipse cx="1120.1" cy="321.5" rx="5.5" ry="5.2" fill="#4b5a43" opacity="0.39"/><ellipse cx="1139.9" cy="336.2" rx="7.7" ry="5.2" fill="#2f3829" opacity="0.47"/><ellipse cx="1058.2" cy="206.4" rx="2.1" ry="1.1" fill="#36422f" opacity="0.25"/><ellipse cx="1224.1" cy="213.2" rx="2.9" ry="2.7" fill="#2f3829" opacity="0.31"/><ellipse cx="993.8" cy="329.0" rx="4.5" ry="3.4" fill="#2f3829" opacity="0.49"/><ellipse cx="963.8" cy="325.8" rx="5.6" ry="3.1" fill="#2f3829" opacity="0.50"/><ellipse cx="958.2" cy="409.4" rx="6.8" ry="6.1" fill="#36422f" opacity="0.56"/><ellipse cx="1231.1" cy="378.2" rx="6.0" ry="3.3" fill="#3d4a37" opacity="0.51"/><ellipse cx="1100.3" cy="245.4" rx="3.5" ry="2.2" fill="#2f3829" opacity="0.30"/><ellipse cx="1006.9" cy="225.6" rx="3.1" ry="1.8" fill="#2f3829" opacity="0.31"/><ellipse cx="976.2" cy="211.8" rx="1.9" ry="1.4" fill="#4b5a43" opacity="0.27"/><ellipse cx="964.4" cy="472.9" rx="5.4" ry="4.8" fill="#36422f" opacity="0.49"/><ellipse cx="1030.9" cy="260.9" rx="2.3" ry="1.9" fill="#2f3829" opacity="0.25"/><ellipse cx="1139.7" cy="243.5" rx="2.0" ry="1.2" fill="#4b5a43" opacity="0.31"/><ellipse cx="1082.2" cy="529.9" rx="11.2" ry="7.0" fill="#3d4a37" opacity="0.55"/><ellipse cx="999.1" cy="390.9" rx="4.2" ry="3.9" fill="#4b5a43" opacity="0.44"/><ellipse cx="1244.5" cy="396.8" rx="7.0" ry="6.8" fill="#44523c" opacity="0.54"/><ellipse cx="1127.5" cy="423.7" rx="7.1" ry="5.0" fill="#4b5a43" opacity="0.40"/><ellipse cx="972.3" cy="495.8" rx="6.9" ry="4.8" fill="#3d4a37" opacity="0.77"/><ellipse cx="1120.2" cy="280.4" rx="2.9" ry="2.2" fill="#4b5a43" opacity="0.32"/><ellipse cx="1244.9" cy="414.9" rx="7.0" ry="6.7" fill="#2f3829" opacity="0.45"/><ellipse cx="1033.5" cy="243.3" rx="2.6" ry="1.3" fill="#3d4a37" opacity="0.27"/><ellipse cx="1165.2" cy="230.1" rx="2.0" ry="1.3" fill="#44523c" opacity="0.29"/><ellipse cx="1193.0" cy="346.2" rx="4.6" ry="3.1" fill="#44523c" opacity="0.48"/><ellipse cx="1244.0" cy="312.6" rx="3.8" ry="3.7" fill="#2f3829" opacity="0.33"/><ellipse cx="1155.7" cy="492.2" rx="12.6" ry="12.6" fill="#2f3829" opacity="0.74"/><ellipse cx="1059.8" cy="391.2" rx="5.5" ry="4.4" fill="#44523c" opacity="0.40"/><ellipse cx="1156.5" cy="452.0" rx="5.6" ry="5.2" fill="#4b5a43" opacity="0.43"/><ellipse cx="990.3" cy="439.9" rx="4.9" ry="4.2" fill="#44523c" opacity="0.63"/><ellipse cx="1003.8" cy="258.4" rx="4.8" ry="2.6" fill="#36422f" opacity="0.36"/><ellipse cx="1005.2" cy="454.9" rx="9.9" ry="5.4" fill="#36422f" opacity="0.46"/><ellipse cx="1033.1" cy="439.3" rx="7.4" ry="7.1" fill="#44523c" opacity="0.67"/><ellipse cx="1059.4" cy="237.8" rx="3.9" ry="3.3" fill="#4b5a43" opacity="0.22"/><ellipse cx="1089.3" cy="434.5" rx="11.1" ry="7.8" fill="#3d4a37" opacity="0.46"/><ellipse cx="1229.8" cy="215.0" rx="3.1" ry="2.6" fill="#3d4a37" opacity="0.25"/><ellipse cx="1079.4" cy="399.0" rx="8.5" ry="4.9" fill="#3d4a37" opacity="0.51"/><ellipse cx="1238.8" cy="406.8" rx="7.6" ry="4.7" fill="#4b5a43" opacity="0.56"/><ellipse cx="1080.7" cy="267.0" rx="4.4" ry="3.0" fill="#3d4a37" opacity="0.26"/><ellipse cx="1149.5" cy="456.9" rx="11.2" ry="10.5" fill="#2f3829" opacity="0.60"/><ellipse cx="1021.3" cy="189.7" rx="1.4" ry="1.2" fill="#44523c" opacity="0.26"/><ellipse cx="1230.1" cy="300.9" rx="4.4" ry="3.8" fill="#2f3829" opacity="0.43"/><ellipse cx="973.1" cy="276.9" rx="5.6" ry="4.0" fill="#36422f" opacity="0.37"/><ellipse cx="1204.0" cy="447.5" rx="9.1" ry="6.6" fill="#3d4a37" opacity="0.61"/><ellipse cx="1155.0" cy="248.8" rx="4.4" ry="3.9" fill="#4b5a43" opacity="0.34"/><ellipse cx="1164.3" cy="188.3" rx="2.4" ry="1.5" fill="#2f3829" opacity="0.19"/><ellipse cx="1018.6" cy="463.3" rx="7.0" ry="6.9" fill="#44523c" opacity="0.54"/><ellipse cx="1007.8" cy="325.5" rx="4.5" ry="2.5" fill="#4b5a43" opacity="0.44"/><ellipse cx="1020.4" cy="260.7" rx="3.8" ry="2.7" fill="#36422f" opacity="0.35"/><ellipse cx="1165.8" cy="221.8" rx="3.0" ry="1.8" fill="#3d4a37" opacity="0.27"/><ellipse cx="997.8" cy="455.7" rx="9.6" ry="7.7" fill="#4b5a43" opacity="0.67"/><ellipse cx="1009.4" cy="323.5" rx="6.0" ry="3.1" fill="#4b5a43" opacity="0.34"/><ellipse cx="1032.6" cy="194.5" rx="1.6" ry="1.4" fill="#4b5a43" opacity="0.29"/><ellipse cx="1083.9" cy="232.2" rx="3.2" ry="2.0" fill="#2f3829" opacity="0.22"/><ellipse cx="1254.5" cy="176.0" rx="2.0" ry="1.1" fill="#36422f" opacity="0.26"/><ellipse cx="978.9" cy="382.2" rx="6.6" ry="4.7" fill="#44523c" opacity="0.54"/><ellipse cx="1057.1" cy="292.0" rx="3.0" ry="1.9" fill="#2f3829" opacity="0.44"/><ellipse cx="1023.4" cy="415.4" rx="6.0" ry="3.4" fill="#3d4a37" opacity="0.40"/><ellipse cx="990.3" cy="319.4" rx="4.6" ry="4.5" fill="#2f3829" opacity="0.46"/><ellipse cx="997.6" cy="517.7" rx="12.2" ry="11.2" fill="#2f3829" opacity="0.59"/><ellipse cx="1202.5" cy="240.8" rx="2.8" ry="1.9" fill="#2f3829" opacity="0.35"/><ellipse cx="1024.1" cy="484.5" rx="5.9" ry="3.3" fill="#4b5a43" opacity="0.73"/><ellipse cx="1099.2" cy="524.5" rx="10.1" ry="5.9" fill="#36422f" opacity="0.69"/><ellipse cx="989.3" cy="405.7" rx="5.7" ry="3.2" fill="#4b5a43" opacity="0.40"/><ellipse cx="1082.1" cy="186.9" rx="1.4" ry="1.2" fill="#3d4a37" opacity="0.17"/><ellipse cx="1205.1" cy="399.8" rx="7.2" ry="4.1" fill="#3d4a37" opacity="0.54"/><ellipse cx="1076.4" cy="364.0" rx="5.4" ry="3.9" fill="#44523c" opacity="0.54"/><ellipse cx="1037.3" cy="233.3" rx="2.9" ry="2.3" fill="#36422f" opacity="0.29"/><ellipse cx="1114.3" cy="346.9" rx="5.9" ry="4.2" fill="#2f3829" opacity="0.52"/><ellipse cx="1249.0" cy="494.8" rx="12.9" ry="10.4" fill="#3d4a37" opacity="0.69"/><ellipse cx="1150.4" cy="295.7" rx="4.8" ry="3.4" fill="#36422f" opacity="0.36"/><ellipse cx="1038.4" cy="413.5" rx="6.5" ry="6.1" fill="#3d4a37" opacity="0.61"/><ellipse cx="1175.8" cy="255.0" rx="4.1" ry="2.4" fill="#2f3829" opacity="0.29"/><ellipse cx="1074.9" cy="388.6" rx="7.0" ry="5.5" fill="#4b5a43" opacity="0.43"/><ellipse cx="1247.2" cy="256.8" rx="2.8" ry="2.4" fill="#44523c" opacity="0.37"/><ellipse cx="974.6" cy="266.6" rx="3.9" ry="2.5" fill="#4b5a43" opacity="0.28"/><ellipse cx="1113.9" cy="342.9" rx="6.6" ry="5.7" fill="#2f3829" opacity="0.44"/><ellipse cx="1157.0" cy="489.6" rx="11.5" ry="6.5" fill="#2f3829" opacity="0.63"/><ellipse cx="1181.2" cy="438.5" rx="5.6" ry="5.5" fill="#2f3829" opacity="0.44"/><ellipse cx="1067.3" cy="481.7" rx="6.7" ry="6.6" fill="#2f3829" opacity="0.60"/><ellipse cx="1061.5" cy="206.7" rx="2.6" ry="1.8" fill="#3d4a37" opacity="0.23"/><ellipse cx="1130.4" cy="177.7" rx="1.3" ry="0.8" fill="#44523c" opacity="0.20"/><ellipse cx="1138.8" cy="503.5" rx="12.5" ry="9.7" fill="#36422f" opacity="0.53"/><ellipse cx="1051.5" cy="450.0" rx="10.1" ry="8.5" fill="#36422f" opacity="0.46"/><ellipse cx="1175.0" cy="311.1" rx="6.7" ry="5.8" fill="#3d4a37" opacity="0.44"/><ellipse cx="1056.0" cy="303.8" rx="4.1" ry="3.3" fill="#3d4a37" opacity="0.45"/><ellipse cx="1024.4" cy="423.9" rx="5.8" ry="4.2" fill="#2f3829" opacity="0.51"/><ellipse cx="1097.3" cy="467.1" rx="5.8" ry="3.6" fill="#44523c" opacity="0.60"/><ellipse cx="1159.4" cy="280.2" rx="3.8" ry="2.2" fill="#36422f" opacity="0.35"/><ellipse cx="1197.2" cy="429.2" rx="10.6" ry="5.4" fill="#36422f" opacity="0.67"/><ellipse cx="1096.0" cy="353.7" rx="3.7" ry="3.4" fill="#3d4a37" opacity="0.37"/><ellipse cx="1157.0" cy="477.2" rx="8.2" ry="6.1" fill="#44523c" opacity="0.66"/><ellipse cx="1016.5" cy="339.3" rx="7.7" ry="5.8" fill="#36422f" opacity="0.38"/><ellipse cx="1223.9" cy="252.7" rx="3.8" ry="2.0" fill="#44523c" opacity="0.36"/><ellipse cx="1048.4" cy="443.3" rx="7.9" ry="7.7" fill="#36422f" opacity="0.42"/><ellipse cx="1049.1" cy="388.0" rx="4.2" ry="3.1" fill="#2f3829" opacity="0.37"/><ellipse cx="1154.3" cy="226.4" rx="2.3" ry="1.5" fill="#2f3829" opacity="0.34"/><ellipse cx="1123.9" cy="305.1" rx="5.1" ry="2.9" fill="#3d4a37" opacity="0.45"/><ellipse cx="974.7" cy="508.7" rx="7.4" ry="5.3" fill="#2f3829" opacity="0.68"/><ellipse cx="1032.9" cy="307.4" rx="6.0" ry="5.6" fill="#44523c" opacity="0.41"/><ellipse cx="1183.2" cy="285.4" rx="5.1" ry="3.9" fill="#44523c" opacity="0.32"/><ellipse cx="1071.7" cy="377.4" rx="4.2" ry="2.8" fill="#36422f" opacity="0.56"/><ellipse cx="1102.2" cy="463.9" rx="11.4" ry="10.3" fill="#36422f" opacity="0.48"/><ellipse cx="1222.3" cy="248.6" rx="3.9" ry="2.7" fill="#4b5a43" opacity="0.31"/><ellipse cx="997.7" cy="284.8" rx="2.8" ry="1.8" fill="#36422f" opacity="0.31"/><ellipse cx="1150.6" cy="385.3" rx="9.2" ry="5.0" fill="#44523c" opacity="0.50"/><ellipse cx="1000.8" cy="201.9" rx="2.4" ry="2.4" fill="#36422f" opacity="0.30"/><ellipse cx="1170.0" cy="429.5" rx="10.4" ry="9.6" fill="#36422f" opacity="0.64"/><ellipse cx="1025.4" cy="274.9" rx="2.5" ry="1.5" fill="#36422f" opacity="0.29"/><ellipse cx="959.9" cy="179.5" rx="1.7" ry="1.6" fill="#36422f" opacity="0.25"/><ellipse cx="1006.4" cy="413.7" rx="8.8" ry="8.7" fill="#2f3829" opacity="0.40"/><ellipse cx="1199.7" cy="199.4" rx="2.3" ry="2.0" fill="#3d4a37" opacity="0.20"/><ellipse cx="1218.1" cy="372.3" rx="7.1" ry="6.9" fill="#44523c" opacity="0.42"/><ellipse cx="953.5" cy="495.7" rx="9.3" ry="7.5" fill="#36422f" opacity="0.52"/><ellipse cx="1193.4" cy="494.0" rx="6.3" ry="5.1" fill="#4b5a43" opacity="0.77"/><ellipse cx="1238.4" cy="321.0" rx="6.7" ry="3.4" fill="#36422f" opacity="0.41"/><ellipse cx="962.5" cy="540.3" rx="11.5" ry="9.9" fill="#36422f" opacity="0.56"/><ellipse cx="1010.7" cy="178.9" rx="1.8" ry="1.6" fill="#36422f" opacity="0.24"/><ellipse cx="1113.1" cy="329.9" rx="5.8" ry="4.5" fill="#2f3829" opacity="0.42"/><ellipse cx="1138.0" cy="257.8" rx="4.5" ry="3.4" fill="#3d4a37" opacity="0.36"/><ellipse cx="1186.1" cy="287.4" rx="6.0" ry="4.4" fill="#36422f" opacity="0.33"/><ellipse cx="1030.5" cy="369.6" rx="5.1" ry="4.0" fill="#3d4a37" opacity="0.49"/><ellipse cx="1058.1" cy="460.8" rx="11.9" ry="7.3" fill="#3d4a37" opacity="0.70"/><ellipse cx="983.1" cy="405.0" rx="7.5" ry="4.5" fill="#44523c" opacity="0.44"/><ellipse cx="1175.1" cy="398.1" rx="9.3" ry="8.7" fill="#44523c" opacity="0.50"/><ellipse cx="1166.4" cy="302.9" rx="4.5" ry="4.2" fill="#44523c" opacity="0.40"/><ellipse cx="1194.8" cy="300.4" rx="4.5" ry="3.0" fill="#3d4a37" opacity="0.30"/><ellipse cx="965.4" cy="445.6" rx="9.2" ry="6.4" fill="#36422f" opacity="0.43"/><ellipse cx="1072.9" cy="382.4" rx="8.9" ry="8.7" fill="#44523c" opacity="0.36"/><ellipse cx="1166.3" cy="179.7" rx="1.4" ry="0.9" fill="#36422f" opacity="0.24"/><ellipse cx="1038.1" cy="411.7" rx="10.3" ry="6.3" fill="#2f3829" opacity="0.59"/><ellipse cx="1236.4" cy="350.1" rx="7.1" ry="7.0" fill="#44523c" opacity="0.50"/><ellipse cx="1048.4" cy="277.4" rx="4.1" ry="3.8" fill="#44523c" opacity="0.31"/><ellipse cx="1243.5" cy="399.6" rx="5.5" ry="2.9" fill="#44523c" opacity="0.59"/><ellipse cx="959.4" cy="446.3" rx="10.0" ry="7.2" fill="#4b5a43" opacity="0.66"/><ellipse cx="1037.9" cy="543.1" rx="6.6" ry="3.6" fill="#3d4a37" opacity="0.56"/><ellipse cx="1101.8" cy="284.9" rx="3.8" ry="3.3" fill="#4b5a43" opacity="0.38"/><ellipse cx="1050.9" cy="205.7" rx="3.2" ry="2.7" fill="#36422f" opacity="0.31"/><ellipse cx="1018.2" cy="184.3" rx="2.3" ry="1.9" fill="#3d4a37" opacity="0.18"/><ellipse cx="1124.4" cy="394.0" rx="8.1" ry="7.0" fill="#3d4a37" opacity="0.61"/><ellipse cx="1219.1" cy="290.1" rx="3.1" ry="2.3" fill="#44523c" opacity="0.36"/><ellipse cx="1014.9" cy="173.0" rx="1.6" ry="1.3" fill="#2f3829" opacity="0.20"/><ellipse cx="1055.3" cy="213.9" rx="2.6" ry="2.5" fill="#36422f" opacity="0.32"/><ellipse cx="1248.3" cy="490.2" rx="7.2" ry="3.9" fill="#44523c" opacity="0.47"/><ellipse cx="1246.5" cy="272.3" rx="3.0" ry="1.6" fill="#2f3829" opacity="0.41"/><ellipse cx="1046.6" cy="271.7" rx="2.5" ry="1.8" fill="#36422f" opacity="0.34"/><ellipse cx="1251.5" cy="429.5" rx="10.1" ry="8.7" fill="#4b5a43" opacity="0.52"/><ellipse cx="1064.5" cy="373.4" rx="4.6" ry="4.1" fill="#4b5a43" opacity="0.53"/><ellipse cx="1143.1" cy="507.0" rx="7.7" ry="5.8" fill="#36422f" opacity="0.70"/><ellipse cx="1254.2" cy="444.3" rx="10.3" ry="8.6" fill="#3d4a37" opacity="0.65"/><ellipse cx="1228.5" cy="464.4" rx="5.5" ry="4.7" fill="#36422f" opacity="0.64"/><ellipse cx="1153.4" cy="337.0" rx="5.4" ry="4.2" fill="#4b5a43" opacity="0.47"/><ellipse cx="1104.2" cy="490.3" rx="10.0" ry="10.0" fill="#44523c" opacity="0.72"/><ellipse cx="1216.3" cy="467.2" rx="7.7" ry="4.1" fill="#2f3829" opacity="0.52"/><ellipse cx="1202.8" cy="418.0" rx="5.0" ry="4.5" fill="#44523c" opacity="0.63"/><ellipse cx="1026.8" cy="457.5" rx="10.8" ry="10.0" fill="#36422f" opacity="0.58"/><ellipse cx="1014.0" cy="349.8" rx="4.2" ry="4.0" fill="#2f3829" opacity="0.40"/><ellipse cx="997.8" cy="248.4" rx="3.0" ry="2.5" fill="#44523c" opacity="0.35"/><ellipse cx="1144.8" cy="343.7" rx="7.2" ry="6.8" fill="#3d4a37" opacity="0.39"/><ellipse cx="1214.4" cy="306.9" rx="4.6" ry="3.2" fill="#36422f" opacity="0.35"/><ellipse cx="1151.9" cy="308.1" rx="4.9" ry="3.2" fill="#3d4a37" opacity="0.34"/><ellipse cx="1084.2" cy="280.4" rx="2.9" ry="2.4" fill="#44523c" opacity="0.39"/><ellipse cx="1157.2" cy="227.9" rx="2.6" ry="2.0" fill="#44523c" opacity="0.29"/><ellipse cx="1195.1" cy="367.2" rx="5.1" ry="3.9" fill="#3d4a37" opacity="0.47"/><ellipse cx="1000.7" cy="193.5" rx="2.4" ry="1.6" fill="#36422f" opacity="0.20"/><ellipse cx="1081.7" cy="271.0" rx="4.0" ry="3.0" fill="#3d4a37" opacity="0.28"/><ellipse cx="1192.2" cy="329.8" rx="5.9" ry="4.0" fill="#3d4a37" opacity="0.45"/><ellipse cx="958.0" cy="312.1" rx="6.0" ry="5.9" fill="#4b5a43" opacity="0.41"/><ellipse cx="1054.9" cy="474.4" rx="8.1" ry="6.4" fill="#2f3829" opacity="0.50"/><ellipse cx="1167.1" cy="534.3" rx="9.3" ry="7.7" fill="#36422f" opacity="0.79"/><ellipse cx="1084.0" cy="201.8" rx="2.1" ry="1.5" fill="#3d4a37" opacity="0.19"/><ellipse cx="1236.7" cy="382.2" rx="7.7" ry="5.6" fill="#4b5a43" opacity="0.40"/><ellipse cx="1069.1" cy="196.3" rx="1.5" ry="1.3" fill="#3d4a37" opacity="0.25"/><ellipse cx="1070.3" cy="448.2" rx="5.2" ry="4.4" fill="#2f3829" opacity="0.51"/><ellipse cx="1088.5" cy="316.5" rx="3.4" ry="3.1" fill="#2f3829" opacity="0.45"/><ellipse cx="972.5" cy="209.9" rx="3.0" ry="2.3" fill="#3d4a37" opacity="0.29"/><ellipse cx="1049.7" cy="246.5" rx="4.3" ry="3.4" fill="#4b5a43" opacity="0.35"/><ellipse cx="1072.0" cy="224.3" rx="1.8" ry="1.5" fill="#36422f" opacity="0.25"/><ellipse cx="946.9" cy="365.3" rx="8.7" ry="5.5" fill="#36422f" opacity="0.36"/><ellipse cx="1152.2" cy="315.1" rx="4.2" ry="2.9" fill="#4b5a43" opacity="0.42"/><ellipse cx="1022.5" cy="286.5" rx="3.9" ry="2.8" fill="#2f3829" opacity="0.31"/><ellipse cx="961.3" cy="247.3" rx="3.5" ry="2.4" fill="#4b5a43" opacity="0.32"/><ellipse cx="989.1" cy="436.8" rx="10.7" ry="7.2" fill="#4b5a43" opacity="0.66"/><ellipse cx="961.0" cy="379.4" rx="5.6" ry="4.3" fill="#4b5a43" opacity="0.58"/><ellipse cx="956.0" cy="479.1" rx="7.0" ry="5.0" fill="#44523c" opacity="0.66"/><ellipse cx="1129.7" cy="471.3" rx="8.5" ry="8.2" fill="#4b5a43" opacity="0.50"/><ellipse cx="1001.2" cy="247.8" rx="4.4" ry="2.5" fill="#44523c" opacity="0.36"/><ellipse cx="1131.0" cy="198.8" rx="1.6" ry="1.6" fill="#2f3829" opacity="0.27"/><ellipse cx="1013.9" cy="233.2" rx="3.6" ry="3.1" fill="#44523c" opacity="0.29"/><ellipse cx="1187.6" cy="231.3" rx="3.5" ry="2.7" fill="#4b5a43" opacity="0.22"/><ellipse cx="1241.7" cy="464.5" rx="8.1" ry="6.7" fill="#36422f" opacity="0.64"/><ellipse cx="1077.5" cy="337.0" rx="7.2" ry="6.9" fill="#44523c" opacity="0.32"/><ellipse cx="1036.6" cy="483.9" rx="7.2" ry="5.7" fill="#36422f" opacity="0.67"/><ellipse cx="1041.6" cy="440.3" rx="6.5" ry="5.0" fill="#44523c" opacity="0.45"/><ellipse cx="1250.8" cy="470.2" rx="8.0" ry="4.2" fill="#4b5a43" opacity="0.49"/><ellipse cx="1149.3" cy="280.6" rx="4.8" ry="2.9" fill="#44523c" opacity="0.38"/><ellipse cx="1156.8" cy="332.3" rx="3.8" ry="3.4" fill="#3d4a37" opacity="0.44"/><ellipse cx="1149.7" cy="250.5" rx="3.5" ry="1.9" fill="#4b5a43" opacity="0.28"/><ellipse cx="1099.9" cy="451.9" rx="11.2" ry="6.1" fill="#4b5a43" opacity="0.50"/><ellipse cx="1127.2" cy="285.0" rx="5.2" ry="3.1" fill="#4b5a43" opacity="0.31"/><ellipse cx="1208.8" cy="505.1" rx="7.5" ry="7.3" fill="#3d4a37" opacity="0.66"/><ellipse cx="945.4" cy="209.5" rx="1.9" ry="1.1" fill="#36422f" opacity="0.19"/><ellipse cx="1085.3" cy="296.3" rx="3.6" ry="3.2" fill="#44523c" opacity="0.29"/><ellipse cx="1197.4" cy="482.3" rx="10.7" ry="7.8" fill="#2f3829" opacity="0.49"/><ellipse cx="1067.7" cy="232.2" rx="1.9" ry="1.0" fill="#2f3829" opacity="0.22"/><ellipse cx="986.2" cy="413.3" rx="7.9" ry="5.3" fill="#36422f" opacity="0.57"/><ellipse cx="1057.1" cy="445.9" rx="9.3" ry="5.1" fill="#3d4a37" opacity="0.65"/><ellipse cx="1094.8" cy="497.8" rx="6.8" ry="3.7" fill="#44523c" opacity="0.51"/><ellipse cx="1112.2" cy="357.1" rx="4.2" ry="3.1" fill="#44523c" opacity="0.46"/><ellipse cx="1024.9" cy="187.7" rx="2.6" ry="1.7" fill="#2f3829" opacity="0.19"/><ellipse cx="1019.8" cy="219.4" rx="3.5" ry="2.6" fill="#3d4a37" opacity="0.20"/><ellipse cx="1097.4" cy="523.9" rx="12.5" ry="9.8" fill="#44523c" opacity="0.52"/><ellipse cx="1207.4" cy="235.9" rx="4.3" ry="3.1" fill="#2f3829" opacity="0.29"/><ellipse cx="1222.8" cy="280.9" rx="2.8" ry="2.2" fill="#44523c" opacity="0.30"/><ellipse cx="1105.0" cy="461.1" rx="10.8" ry="9.8" fill="#3d4a37" opacity="0.61"/><ellipse cx="957.9" cy="538.6" rx="11.5" ry="9.7" fill="#36422f" opacity="0.62"/><ellipse cx="1089.1" cy="474.3" rx="11.9" ry="6.0" fill="#4b5a43" opacity="0.68"/><ellipse cx="1191.0" cy="184.0" rx="1.3" ry="1.0" fill="#44523c" opacity="0.18"/><ellipse cx="988.8" cy="300.4" rx="3.5" ry="2.2" fill="#36422f" opacity="0.41"/><ellipse cx="945.9" cy="196.9" rx="2.8" ry="1.5" fill="#2f3829" opacity="0.27"/><ellipse cx="1179.5" cy="510.7" rx="10.9" ry="6.5" fill="#3d4a37" opacity="0.75"/><ellipse cx="973.8" cy="465.4" rx="10.2" ry="6.9" fill="#44523c" opacity="0.67"/><ellipse cx="1185.9" cy="355.7" rx="6.0" ry="3.8" fill="#36422f" opacity="0.53"/><ellipse cx="1204.7" cy="449.9" rx="10.3" ry="8.2" fill="#4b5a43" opacity="0.53"/><ellipse cx="1237.5" cy="410.6" rx="7.4" ry="6.5" fill="#2f3829" opacity="0.52"/><ellipse cx="981.1" cy="524.8" rx="13.9" ry="12.4" fill="#36422f" opacity="0.74"/><ellipse cx="1019.9" cy="488.1" rx="9.9" ry="7.7" fill="#4b5a43" opacity="0.64"/><ellipse cx="1222.5" cy="520.1" rx="6.4" ry="5.3" fill="#4b5a43" opacity="0.75"/><ellipse cx="1238.8" cy="426.7" rx="9.8" ry="6.9" fill="#3d4a37" opacity="0.46"/><ellipse cx="1192.0" cy="422.6" rx="8.6" ry="8.2" fill="#4b5a43" opacity="0.61"/><ellipse cx="1097.6" cy="173.7" rx="1.0" ry="0.5" fill="#4b5a43" opacity="0.20"/><ellipse cx="1087.7" cy="397.6" rx="6.1" ry="3.7" fill="#36422f" opacity="0.47"/><ellipse cx="955.2" cy="345.8" rx="5.0" ry="5.0" fill="#44523c" opacity="0.47"/><ellipse cx="1151.2" cy="336.9" rx="6.9" ry="3.9" fill="#3d4a37" opacity="0.39"/><ellipse cx="1066.6" cy="506.4" rx="8.4" ry="4.8" fill="#44523c" opacity="0.55"/><ellipse cx="1135.4" cy="503.9" rx="12.7" ry="8.8" fill="#4b5a43" opacity="0.58"/><ellipse cx="1191.7" cy="498.8" rx="10.3" ry="9.6" fill="#44523c" opacity="0.59"/><ellipse cx="1211.3" cy="175.4" rx="1.1" ry="0.7" fill="#2f3829" opacity="0.24"/><ellipse cx="1054.9" cy="265.6" rx="2.6" ry="2.0" fill="#2f3829" opacity="0.35"/><ellipse cx="1180.0" cy="222.4" rx="2.2" ry="1.6" fill="#2f3829" opacity="0.28"/><ellipse cx="1243.8" cy="337.6" rx="5.0" ry="4.1" fill="#4b5a43" opacity="0.51"/><ellipse cx="963.6" cy="473.6" rx="10.0" ry="7.5" fill="#3d4a37" opacity="0.46"/><ellipse cx="1158.3" cy="483.4" rx="9.5" ry="6.9" fill="#2f3829" opacity="0.73"/><ellipse cx="1178.9" cy="443.9" rx="5.1" ry="3.4" fill="#44523c" opacity="0.42"/><ellipse cx="1029.7" cy="521.3" rx="7.5" ry="7.2" fill="#2f3829" opacity="0.51"/><ellipse cx="1178.2" cy="318.3" rx="5.7" ry="3.6" fill="#44523c" opacity="0.35"/><ellipse cx="1076.3" cy="375.0" rx="9.0" ry="7.4" fill="#4b5a43" opacity="0.46"/><ellipse cx="1057.4" cy="535.5" rx="13.7" ry="9.1" fill="#2f3829" opacity="0.67"/><ellipse cx="1111.1" cy="190.0" rx="2.6" ry="1.6" fill="#3d4a37" opacity="0.19"/><ellipse cx="998.3" cy="447.4" rx="7.0" ry="3.7" fill="#36422f" opacity="0.69"/><ellipse cx="1057.4" cy="461.9" rx="9.9" ry="6.3" fill="#4b5a43" opacity="0.49"/><ellipse cx="1081.7" cy="291.7" rx="3.1" ry="1.9" fill="#4b5a43" opacity="0.33"/><ellipse cx="1092.4" cy="467.9" rx="6.0" ry="5.8" fill="#2f3829" opacity="0.57"/><ellipse cx="1143.8" cy="484.2" rx="11.2" ry="7.4" fill="#44523c" opacity="0.54"/><ellipse cx="1151.3" cy="371.8" rx="8.2" ry="5.8" fill="#3d4a37" opacity="0.41"/><ellipse cx="1231.3" cy="307.3" rx="5.0" ry="3.2" fill="#3d4a37" opacity="0.33"/><ellipse cx="957.9" cy="459.7" rx="10.8" ry="8.4" fill="#36422f" opacity="0.61"/><ellipse cx="1250.9" cy="306.2" rx="6.3" ry="5.9" fill="#3d4a37" opacity="0.42"/><ellipse cx="1073.8" cy="424.9" rx="9.6" ry="5.3" fill="#36422f" opacity="0.44"/><ellipse cx="1170.6" cy="237.8" rx="3.8" ry="2.1" fill="#4b5a43" opacity="0.27"/><ellipse cx="1176.6" cy="522.8" rx="8.8" ry="6.1" fill="#36422f" opacity="0.61"/><ellipse cx="1216.9" cy="241.3" rx="3.3" ry="2.5" fill="#36422f" opacity="0.24"/><ellipse cx="965.6" cy="298.3" rx="4.3" ry="3.2" fill="#2f3829" opacity="0.40"/><ellipse cx="1070.9" cy="387.5" rx="7.2" ry="4.6" fill="#44523c" opacity="0.40"/><ellipse cx="1180.3" cy="422.5" rx="7.6" ry="7.3" fill="#3d4a37" opacity="0.59"/><ellipse cx="1147.4" cy="478.2" rx="11.7" ry="6.6" fill="#4b5a43" opacity="0.63"/><ellipse cx="966.0" cy="274.6" rx="4.4" ry="4.0" fill="#36422f" opacity="0.35"/><ellipse cx="1041.5" cy="509.2" rx="8.7" ry="6.8" fill="#3d4a37" opacity="0.60"/><ellipse cx="967.5" cy="432.9" rx="10.0" ry="6.6" fill="#3d4a37" opacity="0.53"/><ellipse cx="1084.4" cy="457.0" rx="8.5" ry="8.4" fill="#2f3829" opacity="0.59"/><ellipse cx="957.4" cy="473.2" rx="11.2" ry="6.2" fill="#44523c" opacity="0.53"/><ellipse cx="1246.0" cy="521.2" rx="10.3" ry="6.3" fill="#2f3829" opacity="0.75"/><ellipse cx="1206.9" cy="250.0" rx="4.3" ry="3.3" fill="#3d4a37" opacity="0.26"/><ellipse cx="1198.0" cy="236.5" rx="2.5" ry="1.7" fill="#36422f" opacity="0.32"/><ellipse cx="1069.8" cy="390.2" rx="6.9" ry="5.5" fill="#44523c" opacity="0.53"/><ellipse cx="962.1" cy="500.9" rx="8.6" ry="6.6" fill="#36422f" opacity="0.49"/><ellipse cx="986.7" cy="350.2" rx="5.7" ry="4.8" fill="#2f3829" opacity="0.42"/><ellipse cx="1004.3" cy="299.4" rx="4.3" ry="2.7" fill="#44523c" opacity="0.29"/><ellipse cx="950.2" cy="506.7" rx="11.8" ry="10.6" fill="#44523c" opacity="0.72"/><ellipse cx="1180.7" cy="247.0" rx="4.3" ry="2.8" fill="#3d4a37" opacity="0.36"/><ellipse cx="1169.5" cy="441.5" rx="5.3" ry="3.2" fill="#3d4a37" opacity="0.64"/><ellipse cx="1178.2" cy="411.3" rx="7.6" ry="5.9" fill="#44523c" opacity="0.53"/><ellipse cx="1055.6" cy="289.7" rx="3.0" ry="2.6" fill="#36422f" opacity="0.34"/><ellipse cx="1167.5" cy="183.0" rx="2.2" ry="1.5" fill="#44523c" opacity="0.20"/><ellipse cx="1096.6" cy="501.8" rx="6.4" ry="4.3" fill="#36422f" opacity="0.62"/><ellipse cx="985.0" cy="478.6" rx="6.2" ry="4.8" fill="#2f3829" opacity="0.57"/><ellipse cx="1149.8" cy="304.0" rx="6.4" ry="3.8" fill="#36422f" opacity="0.46"/><ellipse cx="1081.3" cy="537.7" rx="12.4" ry="8.6" fill="#4b5a43" opacity="0.55"/><ellipse cx="1011.8" cy="176.8" rx="1.8" ry="1.2" fill="#3d4a37" opacity="0.24"/><ellipse cx="971.8" cy="535.0" rx="12.7" ry="7.6" fill="#2f3829" opacity="0.69"/><ellipse cx="1045.9" cy="198.5" rx="2.4" ry="2.3" fill="#4b5a43" opacity="0.27"/><ellipse cx="947.3" cy="509.2" rx="7.4" ry="5.0" fill="#3d4a37" opacity="0.51"/><ellipse cx="1239.8" cy="499.3" rx="9.1" ry="7.1" fill="#4b5a43" opacity="0.71"/><ellipse cx="1169.4" cy="384.7" rx="8.7" ry="5.1" fill="#44523c" opacity="0.53"/><ellipse cx="1219.8" cy="347.1" rx="6.3" ry="3.5" fill="#4b5a43" opacity="0.45"/><ellipse cx="1019.4" cy="195.4" rx="2.9" ry="1.8" fill="#4b5a43" opacity="0.24"/><ellipse cx="1014.9" cy="450.0" rx="9.9" ry="8.2" fill="#44523c" opacity="0.45"/><ellipse cx="1195.4" cy="536.1" rx="6.6" ry="3.4" fill="#44523c" opacity="0.82"/><ellipse cx="1186.9" cy="529.9" rx="6.5" ry="5.1" fill="#2f3829" opacity="0.81"/><ellipse cx="992.9" cy="270.1" rx="2.4" ry="2.1" fill="#3d4a37" opacity="0.37"/><ellipse cx="975.1" cy="501.1" rx="6.8" ry="5.2" fill="#2f3829" opacity="0.63"/><ellipse cx="1190.5" cy="211.5" rx="3.3" ry="3.2" fill="#3d4a37" opacity="0.20"/><ellipse cx="1147.3" cy="183.1" rx="1.2" ry="0.9" fill="#2f3829" opacity="0.23"/><ellipse cx="969.2" cy="470.2" rx="5.7" ry="4.4" fill="#36422f" opacity="0.58"/><ellipse cx="1119.7" cy="422.2" rx="5.9" ry="3.5" fill="#2f3829" opacity="0.61"/><ellipse cx="983.1" cy="342.8" rx="6.4" ry="3.9" fill="#4b5a43" opacity="0.53"/><ellipse cx="971.9" cy="400.5" rx="7.2" ry="6.1" fill="#3d4a37" opacity="0.56"/><ellipse cx="1209.7" cy="488.9" rx="6.3" ry="4.3" fill="#36422f" opacity="0.56"/><ellipse cx="1099.2" cy="282.3" rx="4.5" ry="3.0" fill="#44523c" opacity="0.26"/><ellipse cx="980.5" cy="200.0" rx="2.6" ry="2.1" fill="#2f3829" opacity="0.23"/><ellipse cx="1233.2" cy="538.9" rx="11.1" ry="6.7" fill="#3d4a37" opacity="0.82"/><ellipse cx="1168.6" cy="484.3" rx="5.7" ry="4.8" fill="#4b5a43" opacity="0.70"/><ellipse cx="1138.0" cy="192.4" rx="1.7" ry="1.1" fill="#44523c" opacity="0.20"/><ellipse cx="1053.7" cy="284.1" rx="3.7" ry="2.0" fill="#4b5a43" opacity="0.29"/><ellipse cx="1149.6" cy="525.1" rx="9.9" ry="8.1" fill="#36422f" opacity="0.59"/><ellipse cx="1073.7" cy="265.2" rx="2.4" ry="1.4" fill="#36422f" opacity="0.39"/><ellipse cx="1185.4" cy="294.6" rx="5.5" ry="5.2" fill="#3d4a37" opacity="0.37"/><ellipse cx="1202.5" cy="211.1" rx="2.1" ry="1.7" fill="#36422f" opacity="0.20"/><ellipse cx="1087.9" cy="217.5" rx="2.0" ry="1.1" fill="#2f3829" opacity="0.23"/><ellipse cx="1235.6" cy="514.2" rx="10.0" ry="8.9" fill="#3d4a37" opacity="0.69"/><ellipse cx="1180.6" cy="253.3" rx="4.6" ry="4.0" fill="#4b5a43" opacity="0.34"/><ellipse cx="1000.0" cy="541.2" rx="10.0" ry="8.4" fill="#36422f" opacity="0.77"/><ellipse cx="1025.2" cy="264.7" rx="2.4" ry="2.0" fill="#44523c" opacity="0.35"/><ellipse cx="1149.7" cy="402.6" rx="8.5" ry="4.9" fill="#3d4a37" opacity="0.53"/><ellipse cx="1039.8" cy="431.2" rx="5.1" ry="2.7" fill="#3d4a37" opacity="0.42"/><ellipse cx="1118.9" cy="199.8" rx="2.6" ry="2.2" fill="#2f3829" opacity="0.26"/><ellipse cx="1185.1" cy="274.0" rx="3.0" ry="1.6" fill="#36422f" opacity="0.32"/><ellipse cx="999.0" cy="431.9" rx="11.0" ry="10.3" fill="#4b5a43" opacity="0.50"/><ellipse cx="954.6" cy="482.4" rx="11.5" ry="7.0" fill="#44523c" opacity="0.70"/><ellipse cx="1031.6" cy="422.2" rx="4.6" ry="2.8" fill="#3d4a37" opacity="0.44"/><ellipse cx="1128.1" cy="417.9" rx="8.5" ry="5.0" fill="#44523c" opacity="0.52"/><ellipse cx="962.9" cy="484.2" rx="7.3" ry="4.0" fill="#2f3829" opacity="0.52"/></g>
<g filter="url(#b05)"><ellipse cx="949.6" cy="196.2" rx="2.0" ry="0.9" fill="#77a060" opacity="0.49" transform="rotate(-39 949.6 196.2)"/><ellipse cx="1175.0" cy="309.8" rx="3.1" ry="1.5" fill="#7f9670" opacity="0.62" transform="rotate(-40 1175.0 309.8)"/><ellipse cx="1235.9" cy="455.8" rx="3.5" ry="1.1" fill="#77a060" opacity="0.60" transform="rotate(47 1235.9 455.8)"/><ellipse cx="947.4" cy="270.1" rx="1.8" ry="1.1" fill="#8aa07a" opacity="0.31" transform="rotate(-7 947.4 270.1)"/><ellipse cx="1088.5" cy="215.2" rx="2.2" ry="1.0" fill="#b4c3a6" opacity="0.62" transform="rotate(49 1088.5 215.2)"/><ellipse cx="963.9" cy="330.8" rx="2.8" ry="1.5" fill="#7f9670" opacity="0.63" transform="rotate(7 963.9 330.8)"/><ellipse cx="1014.4" cy="198.7" rx="1.9" ry="1.3" fill="#77a060" opacity="0.34" transform="rotate(53 1014.4 198.7)"/><ellipse cx="1019.8" cy="367.8" rx="3.1" ry="1.2" fill="#a9ba98" opacity="0.47" transform="rotate(54 1019.8 367.8)"/><ellipse cx="986.1" cy="464.8" rx="7.8" ry="2.6" fill="#b4c3a6" opacity="0.53" transform="rotate(-46 986.1 464.8)"/><ellipse cx="1095.3" cy="539.1" rx="5.3" ry="2.2" fill="#748c64" opacity="0.62" transform="rotate(22 1095.3 539.1)"/><ellipse cx="1147.3" cy="184.0" rx="1.6" ry="1.2" fill="#b4c3a6" opacity="0.35" transform="rotate(36 1147.3 184.0)"/><ellipse cx="1176.0" cy="524.7" rx="9.4" ry="2.4" fill="#6a9254" opacity="0.54" transform="rotate(-5 1176.0 524.7)"/><ellipse cx="1085.2" cy="442.0" rx="7.5" ry="2.5" fill="#6a9254" opacity="0.41" transform="rotate(-36 1085.2 442.0)"/><ellipse cx="952.8" cy="196.7" rx="1.1" ry="0.6" fill="#7f9670" opacity="0.47" transform="rotate(1 952.8 196.7)"/><ellipse cx="1098.5" cy="525.7" rx="10.3" ry="5.1" fill="#8aa07a" opacity="0.37" transform="rotate(-5 1098.5 525.7)"/><ellipse cx="1244.9" cy="256.4" rx="2.1" ry="1.3" fill="#9fb28f" opacity="0.55" transform="rotate(8 1244.9 256.4)"/><ellipse cx="1019.4" cy="459.2" rx="7.8" ry="3.0" fill="#5f8a4c" opacity="0.46" transform="rotate(25 1019.4 459.2)"/><ellipse cx="1020.0" cy="223.4" rx="1.3" ry="1.2" fill="#a9ba98" opacity="0.65" transform="rotate(-44 1020.0 223.4)"/><ellipse cx="1180.0" cy="291.8" rx="2.2" ry="1.4" fill="#b4c3a6" opacity="0.58" transform="rotate(-30 1180.0 291.8)"/><ellipse cx="1014.6" cy="384.7" rx="3.3" ry="0.9" fill="#5f8a4c" opacity="0.44" transform="rotate(50 1014.6 384.7)"/><ellipse cx="950.5" cy="210.8" rx="1.4" ry="0.8" fill="#6a9254" opacity="0.45" transform="rotate(4 950.5 210.8)"/><ellipse cx="1196.8" cy="488.6" rx="7.4" ry="2.8" fill="#a9ba98" opacity="0.47" transform="rotate(22 1196.8 488.6)"/><ellipse cx="1107.8" cy="309.8" rx="3.6" ry="2.2" fill="#8aa07a" opacity="0.50" transform="rotate(-38 1107.8 309.8)"/><ellipse cx="1024.8" cy="430.2" rx="4.2" ry="1.8" fill="#748c64" opacity="0.59" transform="rotate(-53 1024.8 430.2)"/><ellipse cx="1011.2" cy="426.5" rx="4.6" ry="2.0" fill="#8aa07a" opacity="0.54" transform="rotate(18 1011.2 426.5)"/><ellipse cx="1244.0" cy="239.2" rx="2.8" ry="1.5" fill="#7f9670" opacity="0.49" transform="rotate(-12 1244.0 239.2)"/><ellipse cx="1178.1" cy="222.0" rx="1.7" ry="1.3" fill="#b4c3a6" opacity="0.57" transform="rotate(-45 1178.1 222.0)"/><ellipse cx="1012.1" cy="255.0" rx="2.0" ry="0.8" fill="#b4c3a6" opacity="0.52" transform="rotate(18 1012.1 255.0)"/><ellipse cx="1086.7" cy="347.2" rx="3.5" ry="2.3" fill="#8aa07a" opacity="0.41" transform="rotate(37 1086.7 347.2)"/><ellipse cx="1156.1" cy="430.5" rx="6.9" ry="3.2" fill="#9fb28f" opacity="0.57" transform="rotate(17 1156.1 430.5)"/><ellipse cx="1164.9" cy="408.7" rx="7.3" ry="2.1" fill="#8aa07a" opacity="0.53" transform="rotate(-52 1164.9 408.7)"/><ellipse cx="1152.8" cy="341.7" rx="5.0" ry="2.1" fill="#5f8a4c" opacity="0.49" transform="rotate(27 1152.8 341.7)"/><ellipse cx="966.9" cy="273.6" rx="1.6" ry="0.8" fill="#7f9670" opacity="0.36" transform="rotate(-39 966.9 273.6)"/><ellipse cx="1190.0" cy="507.9" rx="5.2" ry="1.5" fill="#a9ba98" opacity="0.64" transform="rotate(-20 1190.0 507.9)"/><ellipse cx="1044.9" cy="366.8" rx="4.1" ry="1.3" fill="#a9ba98" opacity="0.62" transform="rotate(-28 1044.9 366.8)"/><ellipse cx="961.3" cy="195.6" rx="2.2" ry="1.0" fill="#77a060" opacity="0.42" transform="rotate(-1 961.3 195.6)"/><ellipse cx="1234.8" cy="242.3" rx="2.4" ry="1.0" fill="#9fb28f" opacity="0.45" transform="rotate(-25 1234.8 242.3)"/><ellipse cx="1042.2" cy="178.2" rx="0.8" ry="0.5" fill="#a9ba98" opacity="0.37" transform="rotate(25 1042.2 178.2)"/><ellipse cx="1191.9" cy="471.9" rx="4.7" ry="1.2" fill="#748c64" opacity="0.45" transform="rotate(52 1191.9 471.9)"/><ellipse cx="1207.1" cy="252.5" rx="2.4" ry="1.9" fill="#748c64" opacity="0.49" transform="rotate(27 1207.1 252.5)"/><ellipse cx="1171.0" cy="183.5" rx="1.0" ry="0.5" fill="#748c64" opacity="0.46" transform="rotate(-37 1171.0 183.5)"/><ellipse cx="1252.7" cy="240.6" rx="3.3" ry="2.8" fill="#a9ba98" opacity="0.38" transform="rotate(33 1252.7 240.6)"/><ellipse cx="1168.5" cy="480.5" rx="9.0" ry="2.9" fill="#8aa07a" opacity="0.48" transform="rotate(33 1168.5 480.5)"/><ellipse cx="1036.6" cy="289.7" rx="2.6" ry="1.4" fill="#9fb28f" opacity="0.61" transform="rotate(-5 1036.6 289.7)"/><ellipse cx="982.3" cy="245.7" rx="2.4" ry="1.6" fill="#9fb28f" opacity="0.47" transform="rotate(-23 982.3 245.7)"/><ellipse cx="1150.6" cy="200.0" rx="1.8" ry="1.1" fill="#9fb28f" opacity="0.48" transform="rotate(-6 1150.6 200.0)"/><ellipse cx="1237.7" cy="489.9" rx="6.1" ry="2.4" fill="#748c64" opacity="0.63" transform="rotate(-47 1237.7 489.9)"/><ellipse cx="1143.7" cy="342.0" rx="3.2" ry="1.3" fill="#5f8a4c" opacity="0.35" transform="rotate(-4 1143.7 342.0)"/><ellipse cx="1038.6" cy="403.0" rx="3.1" ry="0.9" fill="#8aa07a" opacity="0.48" transform="rotate(24 1038.6 403.0)"/><ellipse cx="1174.6" cy="439.0" rx="3.3" ry="0.9" fill="#748c64" opacity="0.34" transform="rotate(-40 1174.6 439.0)"/><ellipse cx="1204.9" cy="370.4" rx="3.2" ry="1.1" fill="#8aa07a" opacity="0.55" transform="rotate(47 1204.9 370.4)"/><ellipse cx="1117.2" cy="342.9" rx="2.6" ry="2.2" fill="#5f8a4c" opacity="0.62" transform="rotate(-3 1117.2 342.9)"/><ellipse cx="1133.5" cy="528.7" rx="5.8" ry="2.6" fill="#748c64" opacity="0.58" transform="rotate(50 1133.5 528.7)"/><ellipse cx="1215.6" cy="355.2" rx="4.3" ry="2.1" fill="#9fb28f" opacity="0.46" transform="rotate(-42 1215.6 355.2)"/><ellipse cx="1045.2" cy="490.7" rx="4.6" ry="1.2" fill="#7f9670" opacity="0.53" transform="rotate(-60 1045.2 490.7)"/><ellipse cx="1052.3" cy="258.4" rx="3.2" ry="1.7" fill="#a9ba98" opacity="0.63" transform="rotate(-21 1052.3 258.4)"/><ellipse cx="1200.5" cy="488.5" rx="5.2" ry="1.7" fill="#8aa07a" opacity="0.44" transform="rotate(53 1200.5 488.5)"/><ellipse cx="1155.8" cy="176.7" rx="1.5" ry="1.2" fill="#7f9670" opacity="0.59" transform="rotate(17 1155.8 176.7)"/><ellipse cx="1222.5" cy="191.5" rx="1.0" ry="0.5" fill="#9fb28f" opacity="0.53" transform="rotate(-14 1222.5 191.5)"/><ellipse cx="986.7" cy="485.2" rx="6.7" ry="2.0" fill="#77a060" opacity="0.61" transform="rotate(-22 986.7 485.2)"/><ellipse cx="1212.4" cy="460.8" rx="8.5" ry="3.9" fill="#7f9670" opacity="0.58" transform="rotate(58 1212.4 460.8)"/><ellipse cx="1091.7" cy="524.9" rx="6.9" ry="2.1" fill="#5f8a4c" opacity="0.42" transform="rotate(-48 1091.7 524.9)"/><ellipse cx="953.1" cy="294.0" rx="4.0" ry="2.1" fill="#a9ba98" opacity="0.47" transform="rotate(-54 953.1 294.0)"/><ellipse cx="1144.7" cy="492.7" rx="5.5" ry="2.6" fill="#748c64" opacity="0.52" transform="rotate(-4 1144.7 492.7)"/><ellipse cx="1173.9" cy="507.6" rx="5.7" ry="2.8" fill="#7f9670" opacity="0.51" transform="rotate(48 1173.9 507.6)"/><ellipse cx="1084.2" cy="197.5" rx="0.9" ry="0.8" fill="#a9ba98" opacity="0.43" transform="rotate(-16 1084.2 197.5)"/><ellipse cx="1162.1" cy="529.6" rx="4.8" ry="1.2" fill="#9fb28f" opacity="0.50" transform="rotate(-44 1162.1 529.6)"/><ellipse cx="1002.3" cy="544.5" rx="6.1" ry="2.6" fill="#7f9670" opacity="0.38" transform="rotate(36 1002.3 544.5)"/><ellipse cx="1220.5" cy="253.7" rx="3.6" ry="2.2" fill="#748c64" opacity="0.33" transform="rotate(-10 1220.5 253.7)"/><ellipse cx="1254.4" cy="294.1" rx="3.2" ry="2.9" fill="#748c64" opacity="0.30" transform="rotate(45 1254.4 294.1)"/><ellipse cx="1062.9" cy="397.6" rx="6.4" ry="2.5" fill="#a9ba98" opacity="0.62" transform="rotate(31 1062.9 397.6)"/><ellipse cx="1057.9" cy="495.9" rx="9.1" ry="3.9" fill="#9fb28f" opacity="0.60" transform="rotate(26 1057.9 495.9)"/><ellipse cx="1089.3" cy="252.2" rx="1.7" ry="0.9" fill="#b4c3a6" opacity="0.58" transform="rotate(-9 1089.3 252.2)"/><ellipse cx="1025.9" cy="396.6" rx="4.0" ry="1.8" fill="#8aa07a" opacity="0.32" transform="rotate(36 1025.9 396.6)"/><ellipse cx="996.6" cy="508.9" rx="8.6" ry="2.5" fill="#7f9670" opacity="0.38" transform="rotate(45 996.6 508.9)"/><ellipse cx="1170.1" cy="536.1" rx="4.8" ry="2.2" fill="#7f9670" opacity="0.40" transform="rotate(51 1170.1 536.1)"/><ellipse cx="1239.6" cy="191.6" rx="1.4" ry="0.6" fill="#9fb28f" opacity="0.54" transform="rotate(-43 1239.6 191.6)"/><ellipse cx="1144.3" cy="343.6" rx="5.8" ry="3.3" fill="#7f9670" opacity="0.65" transform="rotate(-33 1144.3 343.6)"/><ellipse cx="1056.2" cy="496.2" rx="6.3" ry="1.9" fill="#8aa07a" opacity="0.33" transform="rotate(-22 1056.2 496.2)"/><ellipse cx="1002.3" cy="360.2" rx="4.2" ry="1.4" fill="#77a060" opacity="0.47" transform="rotate(2 1002.3 360.2)"/><ellipse cx="1103.8" cy="348.0" rx="4.1" ry="2.1" fill="#8aa07a" opacity="0.64" transform="rotate(-12 1103.8 348.0)"/><ellipse cx="1077.7" cy="304.1" rx="2.9" ry="2.2" fill="#7f9670" opacity="0.46" transform="rotate(40 1077.7 304.1)"/><ellipse cx="958.0" cy="376.4" rx="5.8" ry="2.0" fill="#748c64" opacity="0.62" transform="rotate(-8 958.0 376.4)"/><ellipse cx="1117.9" cy="283.2" rx="3.4" ry="2.6" fill="#6a9254" opacity="0.52" transform="rotate(21 1117.9 283.2)"/><ellipse cx="1046.9" cy="320.7" rx="3.9" ry="2.0" fill="#6a9254" opacity="0.49" transform="rotate(-12 1046.9 320.7)"/><ellipse cx="981.0" cy="240.0" rx="3.1" ry="2.5" fill="#b4c3a6" opacity="0.58" transform="rotate(-7 981.0 240.0)"/><ellipse cx="1107.7" cy="274.5" rx="1.6" ry="1.1" fill="#77a060" opacity="0.52" transform="rotate(-3 1107.7 274.5)"/><ellipse cx="1065.8" cy="296.1" rx="3.5" ry="2.8" fill="#b4c3a6" opacity="0.58" transform="rotate(-52 1065.8 296.1)"/><ellipse cx="1141.0" cy="474.3" rx="3.5" ry="1.5" fill="#8aa07a" opacity="0.36" transform="rotate(-57 1141.0 474.3)"/><ellipse cx="963.6" cy="244.0" rx="3.0" ry="1.4" fill="#a9ba98" opacity="0.45" transform="rotate(-45 963.6 244.0)"/><ellipse cx="1228.0" cy="534.3" rx="4.7" ry="1.4" fill="#7f9670" opacity="0.57" transform="rotate(41 1228.0 534.3)"/><ellipse cx="1100.0" cy="186.9" rx="1.6" ry="1.0" fill="#748c64" opacity="0.56" transform="rotate(12 1100.0 186.9)"/><ellipse cx="956.9" cy="536.3" rx="4.4" ry="1.3" fill="#9fb28f" opacity="0.54" transform="rotate(-4 956.9 536.3)"/><ellipse cx="1006.6" cy="212.0" rx="1.6" ry="1.4" fill="#a9ba98" opacity="0.64" transform="rotate(-8 1006.6 212.0)"/><ellipse cx="1024.0" cy="317.8" rx="2.7" ry="2.4" fill="#5f8a4c" opacity="0.62" transform="rotate(-40 1024.0 317.8)"/><ellipse cx="1192.6" cy="505.0" rx="7.5" ry="1.9" fill="#748c64" opacity="0.54" transform="rotate(-7 1192.6 505.0)"/><ellipse cx="1124.6" cy="467.0" rx="5.9" ry="2.2" fill="#8aa07a" opacity="0.53" transform="rotate(-42 1124.6 467.0)"/><ellipse cx="1190.4" cy="189.9" rx="1.4" ry="0.9" fill="#7f9670" opacity="0.54" transform="rotate(-59 1190.4 189.9)"/><ellipse cx="1190.2" cy="471.2" rx="6.3" ry="1.9" fill="#77a060" opacity="0.55" transform="rotate(-14 1190.2 471.2)"/><ellipse cx="1049.1" cy="419.2" rx="5.2" ry="1.8" fill="#6a9254" opacity="0.41" transform="rotate(-28 1049.1 419.2)"/><ellipse cx="1192.2" cy="509.1" rx="8.6" ry="3.5" fill="#5f8a4c" opacity="0.41" transform="rotate(7 1192.2 509.1)"/><ellipse cx="1050.1" cy="470.8" rx="6.6" ry="3.0" fill="#6a9254" opacity="0.47" transform="rotate(-54 1050.1 470.8)"/><ellipse cx="970.8" cy="331.7" rx="3.5" ry="1.9" fill="#748c64" opacity="0.63" transform="rotate(-50 970.8 331.7)"/><ellipse cx="977.1" cy="461.9" rx="4.8" ry="2.2" fill="#77a060" opacity="0.61" transform="rotate(-50 977.1 461.9)"/><ellipse cx="1059.9" cy="339.4" rx="2.3" ry="1.9" fill="#7f9670" opacity="0.53" transform="rotate(-27 1059.9 339.4)"/><ellipse cx="1232.0" cy="310.2" rx="4.8" ry="4.3" fill="#748c64" opacity="0.54" transform="rotate(18 1232.0 310.2)"/><ellipse cx="1145.6" cy="275.6" rx="2.4" ry="1.8" fill="#7f9670" opacity="0.32" transform="rotate(40 1145.6 275.6)"/><ellipse cx="1037.1" cy="474.6" rx="6.8" ry="3.2" fill="#7f9670" opacity="0.42" transform="rotate(43 1037.1 474.6)"/><ellipse cx="1103.0" cy="268.9" rx="2.6" ry="1.1" fill="#a9ba98" opacity="0.38" transform="rotate(12 1103.0 268.9)"/><ellipse cx="970.1" cy="498.8" rx="5.4" ry="2.4" fill="#7f9670" opacity="0.53" transform="rotate(17 970.1 498.8)"/><ellipse cx="1026.2" cy="484.7" rx="4.5" ry="2.2" fill="#7f9670" opacity="0.39" transform="rotate(-33 1026.2 484.7)"/><ellipse cx="1136.2" cy="510.1" rx="9.7" ry="4.8" fill="#748c64" opacity="0.52" transform="rotate(-35 1136.2 510.1)"/><ellipse cx="1091.5" cy="327.3" rx="3.1" ry="1.3" fill="#748c64" opacity="0.46" transform="rotate(39 1091.5 327.3)"/><ellipse cx="1233.0" cy="530.8" rx="5.0" ry="2.4" fill="#8aa07a" opacity="0.61" transform="rotate(48 1233.0 530.8)"/><ellipse cx="1236.2" cy="347.1" rx="4.3" ry="1.9" fill="#748c64" opacity="0.41" transform="rotate(-19 1236.2 347.1)"/><ellipse cx="1063.5" cy="207.6" rx="1.1" ry="1.0" fill="#8aa07a" opacity="0.64" transform="rotate(-14 1063.5 207.6)"/><ellipse cx="1042.9" cy="376.2" rx="2.7" ry="0.9" fill="#b4c3a6" opacity="0.46" transform="rotate(33 1042.9 376.2)"/><ellipse cx="1162.0" cy="521.9" rx="7.0" ry="2.4" fill="#748c64" opacity="0.53" transform="rotate(13 1162.0 521.9)"/><ellipse cx="1247.4" cy="284.0" rx="2.3" ry="2.1" fill="#a9ba98" opacity="0.37" transform="rotate(-51 1247.4 284.0)"/><ellipse cx="1151.7" cy="364.1" rx="5.4" ry="2.7" fill="#b4c3a6" opacity="0.62" transform="rotate(21 1151.7 364.1)"/><ellipse cx="945.6" cy="438.0" rx="3.4" ry="1.4" fill="#77a060" opacity="0.61" transform="rotate(2 945.6 438.0)"/><ellipse cx="1166.6" cy="302.6" rx="3.4" ry="1.7" fill="#7f9670" opacity="0.62" transform="rotate(-33 1166.6 302.6)"/><ellipse cx="982.9" cy="250.5" rx="2.6" ry="2.0" fill="#5f8a4c" opacity="0.64" transform="rotate(-11 982.9 250.5)"/><ellipse cx="966.0" cy="432.1" rx="7.2" ry="2.7" fill="#9fb28f" opacity="0.61" transform="rotate(-9 966.0 432.1)"/><ellipse cx="951.9" cy="496.8" rx="3.9" ry="1.1" fill="#748c64" opacity="0.53" transform="rotate(27 951.9 496.8)"/><ellipse cx="1057.0" cy="377.6" rx="6.3" ry="1.7" fill="#a9ba98" opacity="0.35" transform="rotate(36 1057.0 377.6)"/><ellipse cx="1041.5" cy="218.5" rx="2.0" ry="0.9" fill="#8aa07a" opacity="0.49" transform="rotate(-58 1041.5 218.5)"/><ellipse cx="1076.9" cy="193.7" rx="1.1" ry="0.9" fill="#b4c3a6" opacity="0.38" transform="rotate(-49 1076.9 193.7)"/><ellipse cx="1065.9" cy="350.1" rx="3.5" ry="2.8" fill="#9fb28f" opacity="0.65" transform="rotate(-54 1065.9 350.1)"/><ellipse cx="1019.5" cy="540.4" rx="4.4" ry="1.4" fill="#8aa07a" opacity="0.33" transform="rotate(-49 1019.5 540.4)"/><ellipse cx="1077.2" cy="414.0" rx="4.3" ry="1.3" fill="#6a9254" opacity="0.54" transform="rotate(-8 1077.2 414.0)"/><ellipse cx="978.1" cy="519.5" rx="7.1" ry="3.3" fill="#8aa07a" opacity="0.34" transform="rotate(18 978.1 519.5)"/><ellipse cx="1140.1" cy="230.4" rx="1.3" ry="0.8" fill="#a9ba98" opacity="0.48" transform="rotate(30 1140.1 230.4)"/><ellipse cx="1071.2" cy="243.3" rx="1.8" ry="0.9" fill="#b4c3a6" opacity="0.33" transform="rotate(48 1071.2 243.3)"/><ellipse cx="1014.5" cy="173.3" rx="1.0" ry="0.5" fill="#9fb28f" opacity="0.40" transform="rotate(-16 1014.5 173.3)"/><ellipse cx="1151.4" cy="264.6" rx="2.3" ry="1.0" fill="#8aa07a" opacity="0.32" transform="rotate(-50 1151.4 264.6)"/><ellipse cx="1004.9" cy="193.2" rx="1.2" ry="0.8" fill="#9fb28f" opacity="0.47" transform="rotate(-37 1004.9 193.2)"/><ellipse cx="1099.6" cy="421.8" rx="6.8" ry="1.8" fill="#77a060" opacity="0.34" transform="rotate(-8 1099.6 421.8)"/><ellipse cx="952.8" cy="418.2" rx="3.8" ry="1.0" fill="#748c64" opacity="0.58" transform="rotate(36 952.8 418.2)"/><ellipse cx="1014.0" cy="261.5" rx="3.7" ry="2.0" fill="#b4c3a6" opacity="0.44" transform="rotate(39 1014.0 261.5)"/><ellipse cx="1081.6" cy="232.4" rx="1.5" ry="0.7" fill="#8aa07a" opacity="0.60" transform="rotate(16 1081.6 232.4)"/><ellipse cx="1217.1" cy="230.0" rx="2.5" ry="1.1" fill="#9fb28f" opacity="0.38" transform="rotate(-42 1217.1 230.0)"/><ellipse cx="971.3" cy="498.0" rx="5.5" ry="2.6" fill="#5f8a4c" opacity="0.58" transform="rotate(11 971.3 498.0)"/><ellipse cx="1146.0" cy="533.6" rx="10.2" ry="4.4" fill="#748c64" opacity="0.37" transform="rotate(-45 1146.0 533.6)"/><ellipse cx="1119.4" cy="304.3" rx="4.8" ry="3.4" fill="#7f9670" opacity="0.48" transform="rotate(-10 1119.4 304.3)"/><ellipse cx="1002.9" cy="419.7" rx="5.5" ry="1.9" fill="#748c64" opacity="0.46" transform="rotate(-3 1002.9 419.7)"/><ellipse cx="1217.0" cy="434.7" rx="5.8" ry="1.8" fill="#748c64" opacity="0.31" transform="rotate(-22 1217.0 434.7)"/><ellipse cx="1172.5" cy="426.3" rx="7.2" ry="3.1" fill="#7f9670" opacity="0.56" transform="rotate(-35 1172.5 426.3)"/><ellipse cx="1189.7" cy="259.2" rx="3.0" ry="2.2" fill="#748c64" opacity="0.31" transform="rotate(6 1189.7 259.2)"/><ellipse cx="1072.8" cy="299.5" rx="3.1" ry="2.2" fill="#77a060" opacity="0.58" transform="rotate(-32 1072.8 299.5)"/><ellipse cx="978.9" cy="297.7" rx="4.1" ry="3.2" fill="#8aa07a" opacity="0.37" transform="rotate(48 978.9 297.7)"/><ellipse cx="985.9" cy="188.1" rx="1.2" ry="0.7" fill="#77a060" opacity="0.45" transform="rotate(-22 985.9 188.1)"/><ellipse cx="1002.2" cy="535.4" rx="5.1" ry="2.4" fill="#6a9254" opacity="0.42" transform="rotate(47 1002.2 535.4)"/><ellipse cx="1005.0" cy="331.4" rx="4.8" ry="2.8" fill="#b4c3a6" opacity="0.45" transform="rotate(-12 1005.0 331.4)"/><ellipse cx="1024.6" cy="394.0" rx="2.8" ry="0.8" fill="#7f9670" opacity="0.56" transform="rotate(-21 1024.6 394.0)"/><ellipse cx="955.9" cy="219.3" rx="2.3" ry="1.2" fill="#748c64" opacity="0.51" transform="rotate(-25 955.9 219.3)"/><ellipse cx="1211.9" cy="246.7" rx="3.3" ry="1.7" fill="#748c64" opacity="0.61" transform="rotate(-45 1211.9 246.7)"/><ellipse cx="1106.0" cy="385.2" rx="6.2" ry="2.0" fill="#7f9670" opacity="0.37" transform="rotate(-10 1106.0 385.2)"/><ellipse cx="1226.5" cy="307.5" rx="2.3" ry="2.0" fill="#b4c3a6" opacity="0.39" transform="rotate(10 1226.5 307.5)"/><ellipse cx="956.8" cy="312.7" rx="4.4" ry="3.6" fill="#9fb28f" opacity="0.47" transform="rotate(58 956.8 312.7)"/><ellipse cx="1063.7" cy="192.3" rx="1.1" ry="0.8" fill="#8aa07a" opacity="0.49" transform="rotate(-14 1063.7 192.3)"/><ellipse cx="977.6" cy="470.3" rx="4.9" ry="2.3" fill="#7f9670" opacity="0.41" transform="rotate(23 977.6 470.3)"/><ellipse cx="1227.4" cy="197.2" rx="1.1" ry="0.4" fill="#b4c3a6" opacity="0.40" transform="rotate(24 1227.4 197.2)"/><ellipse cx="1251.3" cy="364.5" rx="3.1" ry="1.2" fill="#8aa07a" opacity="0.40" transform="rotate(-34 1251.3 364.5)"/><ellipse cx="1209.5" cy="316.6" rx="3.9" ry="2.7" fill="#a9ba98" opacity="0.52" transform="rotate(26 1209.5 316.6)"/><ellipse cx="1059.2" cy="486.6" rx="9.3" ry="3.1" fill="#9fb28f" opacity="0.60" transform="rotate(-10 1059.2 486.6)"/><ellipse cx="1057.6" cy="528.9" rx="6.6" ry="2.2" fill="#748c64" opacity="0.49" transform="rotate(-29 1057.6 528.9)"/><ellipse cx="1164.8" cy="236.3" rx="1.5" ry="1.3" fill="#6a9254" opacity="0.31" transform="rotate(-34 1164.8 236.3)"/><ellipse cx="1157.9" cy="530.3" rx="8.3" ry="2.2" fill="#7f9670" opacity="0.49" transform="rotate(-39 1157.9 530.3)"/><ellipse cx="1198.1" cy="241.5" rx="2.3" ry="1.7" fill="#748c64" opacity="0.48" transform="rotate(-22 1198.1 241.5)"/><ellipse cx="986.8" cy="377.4" rx="4.5" ry="1.4" fill="#b4c3a6" opacity="0.41" transform="rotate(57 986.8 377.4)"/><ellipse cx="1238.4" cy="465.7" rx="7.9" ry="3.5" fill="#8aa07a" opacity="0.50" transform="rotate(-16 1238.4 465.7)"/><ellipse cx="1247.6" cy="339.3" rx="5.1" ry="3.7" fill="#9fb28f" opacity="0.52" transform="rotate(11 1247.6 339.3)"/><ellipse cx="1104.8" cy="429.0" rx="3.8" ry="1.5" fill="#9fb28f" opacity="0.31" transform="rotate(-32 1104.8 429.0)"/><ellipse cx="1202.7" cy="204.4" rx="1.6" ry="0.8" fill="#b4c3a6" opacity="0.61" transform="rotate(-19 1202.7 204.4)"/><ellipse cx="1050.0" cy="181.7" rx="0.8" ry="0.3" fill="#7f9670" opacity="0.32" transform="rotate(24 1050.0 181.7)"/><ellipse cx="1038.8" cy="422.5" rx="6.5" ry="3.2" fill="#b4c3a6" opacity="0.51" transform="rotate(6 1038.8 422.5)"/><ellipse cx="963.4" cy="174.1" rx="0.9" ry="0.5" fill="#5f8a4c" opacity="0.49" transform="rotate(13 963.4 174.1)"/><ellipse cx="989.8" cy="493.5" rx="7.8" ry="3.8" fill="#77a060" opacity="0.59" transform="rotate(-34 989.8 493.5)"/><ellipse cx="1242.5" cy="273.0" rx="2.9" ry="1.3" fill="#a9ba98" opacity="0.38" transform="rotate(-34 1242.5 273.0)"/><ellipse cx="1059.9" cy="527.9" rx="7.2" ry="3.1" fill="#9fb28f" opacity="0.58" transform="rotate(-12 1059.9 527.9)"/><ellipse cx="1099.8" cy="231.7" rx="2.9" ry="2.5" fill="#a9ba98" opacity="0.45" transform="rotate(-38 1099.8 231.7)"/><ellipse cx="1010.4" cy="534.0" rx="10.2" ry="2.8" fill="#748c64" opacity="0.58" transform="rotate(-27 1010.4 534.0)"/><ellipse cx="1095.5" cy="409.1" rx="4.6" ry="2.1" fill="#b4c3a6" opacity="0.58" transform="rotate(-24 1095.5 409.1)"/><ellipse cx="988.0" cy="467.8" rx="6.4" ry="2.1" fill="#5f8a4c" opacity="0.57" transform="rotate(44 988.0 467.8)"/><ellipse cx="1156.6" cy="465.3" rx="7.8" ry="2.2" fill="#8aa07a" opacity="0.37" transform="rotate(-11 1156.6 465.3)"/><ellipse cx="991.5" cy="362.1" rx="3.3" ry="1.4" fill="#7f9670" opacity="0.33" transform="rotate(41 991.5 362.1)"/><ellipse cx="1128.0" cy="232.1" rx="1.6" ry="1.1" fill="#7f9670" opacity="0.31" transform="rotate(52 1128.0 232.1)"/><ellipse cx="957.0" cy="246.3" rx="2.9" ry="2.0" fill="#7f9670" opacity="0.60" transform="rotate(58 957.0 246.3)"/><ellipse cx="1130.5" cy="407.1" rx="7.1" ry="1.9" fill="#7f9670" opacity="0.47" transform="rotate(17 1130.5 407.1)"/><ellipse cx="992.9" cy="429.8" rx="5.8" ry="1.5" fill="#9fb28f" opacity="0.60" transform="rotate(-30 992.9 429.8)"/><ellipse cx="1023.8" cy="203.4" rx="1.0" ry="0.7" fill="#b4c3a6" opacity="0.62" transform="rotate(-33 1023.8 203.4)"/><ellipse cx="1219.0" cy="262.5" rx="2.5" ry="1.9" fill="#6a9254" opacity="0.42" transform="rotate(-47 1219.0 262.5)"/><ellipse cx="1188.5" cy="432.0" rx="8.0" ry="3.9" fill="#b4c3a6" opacity="0.44" transform="rotate(-13 1188.5 432.0)"/><ellipse cx="967.7" cy="288.6" rx="4.3" ry="2.8" fill="#8aa07a" opacity="0.50" transform="rotate(4 967.7 288.6)"/><ellipse cx="1030.6" cy="454.6" rx="7.7" ry="3.0" fill="#6a9254" opacity="0.53" transform="rotate(-5 1030.6 454.6)"/><ellipse cx="1021.5" cy="386.4" rx="5.0" ry="1.8" fill="#b4c3a6" opacity="0.61" transform="rotate(-59 1021.5 386.4)"/><ellipse cx="1097.3" cy="268.6" rx="1.9" ry="1.0" fill="#77a060" opacity="0.45" transform="rotate(16 1097.3 268.6)"/><ellipse cx="989.5" cy="520.2" rx="6.4" ry="2.1" fill="#8aa07a" opacity="0.45" transform="rotate(12 989.5 520.2)"/><ellipse cx="985.0" cy="297.6" rx="3.7" ry="2.0" fill="#77a060" opacity="0.58" transform="rotate(23 985.0 297.6)"/><ellipse cx="973.6" cy="232.6" rx="2.4" ry="2.2" fill="#9fb28f" opacity="0.62" transform="rotate(25 973.6 232.6)"/><ellipse cx="1143.6" cy="401.8" rx="6.1" ry="3.0" fill="#b4c3a6" opacity="0.41" transform="rotate(-14 1143.6 401.8)"/><ellipse cx="1016.2" cy="334.4" rx="5.5" ry="3.1" fill="#8aa07a" opacity="0.44" transform="rotate(31 1016.2 334.4)"/><ellipse cx="979.2" cy="276.0" rx="1.7" ry="1.1" fill="#6a9254" opacity="0.35" transform="rotate(-13 979.2 276.0)"/><ellipse cx="1057.8" cy="399.4" rx="5.4" ry="1.7" fill="#b4c3a6" opacity="0.61" transform="rotate(7 1057.8 399.4)"/><ellipse cx="955.6" cy="327.3" rx="3.6" ry="3.1" fill="#748c64" opacity="0.45" transform="rotate(32 955.6 327.3)"/><ellipse cx="1194.7" cy="210.2" rx="1.6" ry="1.1" fill="#77a060" opacity="0.43" transform="rotate(36 1194.7 210.2)"/><ellipse cx="953.5" cy="205.1" rx="1.7" ry="1.2" fill="#5f8a4c" opacity="0.37" transform="rotate(2 953.5 205.1)"/><ellipse cx="1201.2" cy="223.1" rx="1.8" ry="1.0" fill="#a9ba98" opacity="0.50" transform="rotate(57 1201.2 223.1)"/><ellipse cx="1149.8" cy="374.6" rx="3.8" ry="1.6" fill="#b4c3a6" opacity="0.32" transform="rotate(11 1149.8 374.6)"/><ellipse cx="1031.7" cy="440.9" rx="5.7" ry="1.9" fill="#8aa07a" opacity="0.46" transform="rotate(6 1031.7 440.9)"/><ellipse cx="1103.9" cy="410.1" rx="3.3" ry="1.2" fill="#8aa07a" opacity="0.34" transform="rotate(0 1103.9 410.1)"/><ellipse cx="1061.6" cy="440.4" rx="5.2" ry="2.6" fill="#748c64" opacity="0.61" transform="rotate(53 1061.6 440.4)"/><ellipse cx="1199.1" cy="267.9" rx="3.0" ry="1.5" fill="#5f8a4c" opacity="0.34" transform="rotate(37 1199.1 267.9)"/><ellipse cx="1025.3" cy="177.7" rx="1.4" ry="0.8" fill="#7f9670" opacity="0.44" transform="rotate(-39 1025.3 177.7)"/><ellipse cx="1038.7" cy="414.7" rx="6.7" ry="1.7" fill="#748c64" opacity="0.54" transform="rotate(-37 1038.7 414.7)"/><ellipse cx="1067.0" cy="530.1" rx="6.7" ry="2.2" fill="#748c64" opacity="0.64" transform="rotate(19 1067.0 530.1)"/><ellipse cx="1068.5" cy="321.1" rx="3.3" ry="1.6" fill="#8aa07a" opacity="0.65" transform="rotate(-4 1068.5 321.1)"/><ellipse cx="1020.1" cy="485.0" rx="7.8" ry="2.5" fill="#77a060" opacity="0.61" transform="rotate(34 1020.1 485.0)"/><ellipse cx="1042.5" cy="349.3" rx="3.6" ry="2.9" fill="#5f8a4c" opacity="0.53" transform="rotate(-40 1042.5 349.3)"/><ellipse cx="1122.2" cy="230.1" rx="1.6" ry="0.9" fill="#a9ba98" opacity="0.35" transform="rotate(6 1122.2 230.1)"/><ellipse cx="1198.4" cy="537.3" rx="10.4" ry="2.6" fill="#a9ba98" opacity="0.44" transform="rotate(-8 1198.4 537.3)"/><ellipse cx="948.9" cy="313.7" rx="4.7" ry="2.7" fill="#a9ba98" opacity="0.44" transform="rotate(-31 948.9 313.7)"/><ellipse cx="1089.1" cy="393.4" rx="4.5" ry="2.2" fill="#b4c3a6" opacity="0.40" transform="rotate(-15 1089.1 393.4)"/><ellipse cx="1221.6" cy="541.1" rx="4.9" ry="2.3" fill="#9fb28f" opacity="0.51" transform="rotate(-2 1221.6 541.1)"/><ellipse cx="1069.4" cy="226.6" rx="2.8" ry="1.7" fill="#a9ba98" opacity="0.37" transform="rotate(25 1069.4 226.6)"/><ellipse cx="1188.1" cy="385.8" rx="5.3" ry="1.8" fill="#77a060" opacity="0.50" transform="rotate(51 1188.1 385.8)"/><ellipse cx="976.9" cy="310.4" rx="3.0" ry="2.2" fill="#5f8a4c" opacity="0.39" transform="rotate(-27 976.9 310.4)"/><ellipse cx="1108.4" cy="332.4" rx="3.7" ry="2.3" fill="#7f9670" opacity="0.54" transform="rotate(-39 1108.4 332.4)"/><ellipse cx="1176.8" cy="214.3" rx="2.1" ry="1.6" fill="#a9ba98" opacity="0.47" transform="rotate(-20 1176.8 214.3)"/><ellipse cx="1256.0" cy="526.1" rx="6.8" ry="1.8" fill="#7f9670" opacity="0.58" transform="rotate(-6 1256.0 526.1)"/><ellipse cx="954.6" cy="197.1" rx="2.1" ry="1.6" fill="#7f9670" opacity="0.44" transform="rotate(42 954.6 197.1)"/><ellipse cx="1127.9" cy="462.9" rx="4.7" ry="2.2" fill="#8aa07a" opacity="0.32" transform="rotate(-59 1127.9 462.9)"/><ellipse cx="1190.8" cy="185.9" rx="1.3" ry="0.6" fill="#6a9254" opacity="0.33" transform="rotate(-53 1190.8 185.9)"/><ellipse cx="1206.0" cy="329.7" rx="4.5" ry="3.9" fill="#5f8a4c" opacity="0.43" transform="rotate(-22 1206.0 329.7)"/><ellipse cx="1141.0" cy="529.6" rx="6.6" ry="2.5" fill="#748c64" opacity="0.43" transform="rotate(-11 1141.0 529.6)"/><ellipse cx="1173.2" cy="210.1" rx="2.2" ry="1.6" fill="#9fb28f" opacity="0.46" transform="rotate(32 1173.2 210.1)"/><ellipse cx="1039.9" cy="488.1" rx="7.1" ry="3.2" fill="#748c64" opacity="0.62" transform="rotate(47 1039.9 488.1)"/><ellipse cx="1125.0" cy="264.3" rx="2.4" ry="1.3" fill="#748c64" opacity="0.32" transform="rotate(-23 1125.0 264.3)"/><ellipse cx="1202.7" cy="259.6" rx="2.4" ry="2.0" fill="#5f8a4c" opacity="0.31" transform="rotate(-5 1202.7 259.6)"/><ellipse cx="1171.8" cy="378.0" rx="6.5" ry="1.7" fill="#748c64" opacity="0.62" transform="rotate(-25 1171.8 378.0)"/><ellipse cx="991.1" cy="420.5" rx="6.3" ry="2.6" fill="#7f9670" opacity="0.31" transform="rotate(36 991.1 420.5)"/><ellipse cx="1063.9" cy="260.8" rx="2.0" ry="1.5" fill="#748c64" opacity="0.57" transform="rotate(14 1063.9 260.8)"/><ellipse cx="1196.3" cy="224.9" rx="2.6" ry="1.2" fill="#8aa07a" opacity="0.63" transform="rotate(-42 1196.3 224.9)"/><ellipse cx="1208.4" cy="339.2" rx="5.6" ry="3.0" fill="#748c64" opacity="0.39" transform="rotate(-1 1208.4 339.2)"/><ellipse cx="995.9" cy="521.3" rx="9.2" ry="3.1" fill="#748c64" opacity="0.32" transform="rotate(-41 995.9 521.3)"/><ellipse cx="1039.7" cy="221.9" rx="2.3" ry="1.6" fill="#b4c3a6" opacity="0.48" transform="rotate(-43 1039.7 221.9)"/><ellipse cx="1201.1" cy="478.0" rx="4.7" ry="1.2" fill="#6a9254" opacity="0.62" transform="rotate(50 1201.1 478.0)"/><ellipse cx="1225.3" cy="268.3" rx="2.0" ry="1.2" fill="#8aa07a" opacity="0.64" transform="rotate(-44 1225.3 268.3)"/><ellipse cx="1165.3" cy="241.1" rx="2.1" ry="1.0" fill="#8aa07a" opacity="0.40" transform="rotate(-30 1165.3 241.1)"/><ellipse cx="987.2" cy="374.5" rx="6.0" ry="2.8" fill="#9fb28f" opacity="0.31" transform="rotate(-36 987.2 374.5)"/><ellipse cx="947.0" cy="286.2" rx="2.6" ry="2.0" fill="#5f8a4c" opacity="0.46" transform="rotate(38 947.0 286.2)"/><ellipse cx="978.2" cy="231.5" rx="1.8" ry="1.5" fill="#a9ba98" opacity="0.63" transform="rotate(-59 978.2 231.5)"/><ellipse cx="1070.2" cy="511.0" rx="4.6" ry="1.3" fill="#b4c3a6" opacity="0.52" transform="rotate(-12 1070.2 511.0)"/><ellipse cx="1128.4" cy="247.0" rx="2.3" ry="1.3" fill="#8aa07a" opacity="0.54" transform="rotate(-45 1128.4 247.0)"/><ellipse cx="1036.4" cy="315.6" rx="2.9" ry="2.2" fill="#b4c3a6" opacity="0.46" transform="rotate(-37 1036.4 315.6)"/><ellipse cx="1193.2" cy="498.6" rx="5.5" ry="2.2" fill="#a9ba98" opacity="0.46" transform="rotate(44 1193.2 498.6)"/><ellipse cx="1025.7" cy="267.6" rx="1.8" ry="1.2" fill="#7f9670" opacity="0.48" transform="rotate(-37 1025.7 267.6)"/><ellipse cx="1219.6" cy="174.3" rx="1.5" ry="1.3" fill="#9fb28f" opacity="0.34" transform="rotate(16 1219.6 174.3)"/><ellipse cx="1233.0" cy="448.2" rx="6.6" ry="3.0" fill="#8aa07a" opacity="0.41" transform="rotate(-25 1233.0 448.2)"/><ellipse cx="1186.7" cy="496.9" rx="7.2" ry="2.9" fill="#7f9670" opacity="0.62" transform="rotate(45 1186.7 496.9)"/><ellipse cx="1254.2" cy="326.2" rx="2.2" ry="1.8" fill="#77a060" opacity="0.61" transform="rotate(45 1254.2 326.2)"/><ellipse cx="951.3" cy="331.3" rx="5.5" ry="4.2" fill="#748c64" opacity="0.56" transform="rotate(-49 951.3 331.3)"/><ellipse cx="1014.0" cy="536.8" rx="6.5" ry="2.7" fill="#748c64" opacity="0.63" transform="rotate(-16 1014.0 536.8)"/><ellipse cx="966.5" cy="212.1" rx="1.8" ry="1.3" fill="#8aa07a" opacity="0.53" transform="rotate(8 966.5 212.1)"/><ellipse cx="1019.8" cy="408.0" rx="5.7" ry="1.9" fill="#77a060" opacity="0.39" transform="rotate(-1 1019.8 408.0)"/><ellipse cx="1250.5" cy="338.5" rx="4.2" ry="2.1" fill="#a9ba98" opacity="0.32" transform="rotate(-24 1250.5 338.5)"/><ellipse cx="1012.2" cy="201.3" rx="1.6" ry="0.9" fill="#77a060" opacity="0.49" transform="rotate(-55 1012.2 201.3)"/><ellipse cx="1153.3" cy="196.7" rx="1.8" ry="1.1" fill="#5f8a4c" opacity="0.41" transform="rotate(-52 1153.3 196.7)"/><ellipse cx="1149.2" cy="378.4" rx="3.5" ry="1.2" fill="#7f9670" opacity="0.60" transform="rotate(27 1149.2 378.4)"/><ellipse cx="1252.2" cy="310.5" rx="2.8" ry="1.7" fill="#b4c3a6" opacity="0.63" transform="rotate(48 1252.2 310.5)"/><ellipse cx="986.9" cy="455.1" rx="7.1" ry="3.5" fill="#7f9670" opacity="0.37" transform="rotate(21 986.9 455.1)"/><ellipse cx="1144.3" cy="370.6" rx="2.9" ry="1.0" fill="#b4c3a6" opacity="0.30" transform="rotate(44 1144.3 370.6)"/><ellipse cx="1169.3" cy="463.9" rx="5.0" ry="2.0" fill="#8aa07a" opacity="0.37" transform="rotate(7 1169.3 463.9)"/><ellipse cx="1056.1" cy="350.2" rx="4.9" ry="4.2" fill="#a9ba98" opacity="0.50" transform="rotate(30 1056.1 350.2)"/><ellipse cx="1161.1" cy="391.8" rx="5.4" ry="2.1" fill="#8aa07a" opacity="0.57" transform="rotate(31 1161.1 391.8)"/><ellipse cx="956.4" cy="354.5" rx="5.2" ry="2.7" fill="#7f9670" opacity="0.54" transform="rotate(-25 956.4 354.5)"/><ellipse cx="987.7" cy="428.7" rx="6.7" ry="2.5" fill="#7f9670" opacity="0.40" transform="rotate(-38 987.7 428.7)"/><ellipse cx="1253.2" cy="510.6" rx="6.3" ry="1.8" fill="#748c64" opacity="0.37" transform="rotate(-10 1253.2 510.6)"/><ellipse cx="1061.5" cy="278.5" rx="3.2" ry="2.8" fill="#9fb28f" opacity="0.44" transform="rotate(17 1061.5 278.5)"/><ellipse cx="1223.4" cy="341.7" rx="4.9" ry="3.7" fill="#77a060" opacity="0.39" transform="rotate(54 1223.4 341.7)"/><ellipse cx="949.1" cy="528.8" rx="6.1" ry="2.0" fill="#8aa07a" opacity="0.39" transform="rotate(28 949.1 528.8)"/><ellipse cx="1033.0" cy="413.4" rx="5.3" ry="1.8" fill="#b4c3a6" opacity="0.34" transform="rotate(-46 1033.0 413.4)"/><ellipse cx="1023.0" cy="239.0" rx="2.4" ry="1.5" fill="#9fb28f" opacity="0.48" transform="rotate(39 1023.0 239.0)"/><ellipse cx="1076.3" cy="187.8" rx="1.5" ry="0.8" fill="#b4c3a6" opacity="0.42" transform="rotate(-44 1076.3 187.8)"/><ellipse cx="1134.8" cy="502.3" rx="4.3" ry="1.7" fill="#6a9254" opacity="0.37" transform="rotate(-44 1134.8 502.3)"/><ellipse cx="1099.2" cy="425.9" rx="7.2" ry="2.6" fill="#9fb28f" opacity="0.52" transform="rotate(58 1099.2 425.9)"/><ellipse cx="1166.8" cy="242.0" rx="1.4" ry="0.7" fill="#a9ba98" opacity="0.48" transform="rotate(47 1166.8 242.0)"/><ellipse cx="1142.0" cy="527.7" rx="7.3" ry="3.2" fill="#8aa07a" opacity="0.38" transform="rotate(-4 1142.0 527.7)"/><ellipse cx="1050.4" cy="519.7" rx="6.4" ry="1.9" fill="#8aa07a" opacity="0.61" transform="rotate(5 1050.4 519.7)"/><ellipse cx="981.6" cy="523.1" rx="9.3" ry="3.1" fill="#748c64" opacity="0.57" transform="rotate(-42 981.6 523.1)"/><ellipse cx="1119.3" cy="243.0" rx="2.6" ry="1.5" fill="#a9ba98" opacity="0.56" transform="rotate(-55 1119.3 243.0)"/><ellipse cx="1064.9" cy="520.2" rx="8.9" ry="4.1" fill="#77a060" opacity="0.59" transform="rotate(-37 1064.9 520.2)"/><ellipse cx="1008.7" cy="238.2" rx="1.9" ry="1.3" fill="#9fb28f" opacity="0.63" transform="rotate(55 1008.7 238.2)"/><ellipse cx="1164.7" cy="202.8" rx="2.0" ry="1.4" fill="#b4c3a6" opacity="0.45" transform="rotate(11 1164.7 202.8)"/><ellipse cx="1030.9" cy="475.9" rx="3.7" ry="1.3" fill="#7f9670" opacity="0.39" transform="rotate(-35 1030.9 475.9)"/><ellipse cx="1020.9" cy="493.7" rx="3.8" ry="1.4" fill="#8aa07a" opacity="0.35" transform="rotate(54 1020.9 493.7)"/><ellipse cx="1075.8" cy="173.2" rx="0.7" ry="0.6" fill="#9fb28f" opacity="0.59" transform="rotate(28 1075.8 173.2)"/><ellipse cx="1162.0" cy="187.8" rx="1.4" ry="0.9" fill="#9fb28f" opacity="0.44" transform="rotate(45 1162.0 187.8)"/><ellipse cx="1235.5" cy="359.8" rx="3.5" ry="1.0" fill="#9fb28f" opacity="0.43" transform="rotate(42 1235.5 359.8)"/><ellipse cx="1002.1" cy="371.5" rx="4.6" ry="1.3" fill="#a9ba98" opacity="0.41" transform="rotate(-10 1002.1 371.5)"/><ellipse cx="1232.3" cy="184.9" rx="1.3" ry="1.1" fill="#748c64" opacity="0.37" transform="rotate(-11 1232.3 184.9)"/><ellipse cx="1142.5" cy="452.0" rx="4.0" ry="1.3" fill="#8aa07a" opacity="0.36" transform="rotate(39 1142.5 452.0)"/><ellipse cx="1250.1" cy="472.1" rx="4.1" ry="1.4" fill="#9fb28f" opacity="0.56" transform="rotate(2 1250.1 472.1)"/><ellipse cx="1125.6" cy="524.1" rx="4.9" ry="1.8" fill="#b4c3a6" opacity="0.51" transform="rotate(31 1125.6 524.1)"/><ellipse cx="985.2" cy="385.6" rx="4.4" ry="1.7" fill="#748c64" opacity="0.48" transform="rotate(-42 985.2 385.6)"/><ellipse cx="1037.8" cy="269.4" rx="3.0" ry="1.9" fill="#a9ba98" opacity="0.44" transform="rotate(-6 1037.8 269.4)"/><ellipse cx="1059.5" cy="392.7" rx="3.7" ry="1.4" fill="#5f8a4c" opacity="0.40" transform="rotate(-21 1059.5 392.7)"/><ellipse cx="1223.5" cy="193.8" rx="1.9" ry="1.0" fill="#9fb28f" opacity="0.61" transform="rotate(48 1223.5 193.8)"/><ellipse cx="981.4" cy="337.7" rx="2.8" ry="2.3" fill="#77a060" opacity="0.34" transform="rotate(11 981.4 337.7)"/><ellipse cx="1168.1" cy="539.5" rx="7.1" ry="3.1" fill="#9fb28f" opacity="0.38" transform="rotate(-7 1168.1 539.5)"/><ellipse cx="1190.9" cy="388.3" rx="6.7" ry="2.4" fill="#9fb28f" opacity="0.51" transform="rotate(-30 1190.9 388.3)"/><ellipse cx="1172.8" cy="518.4" rx="4.7" ry="1.3" fill="#748c64" opacity="0.61" transform="rotate(13 1172.8 518.4)"/><ellipse cx="1172.1" cy="487.2" rx="6.6" ry="2.6" fill="#7f9670" opacity="0.41" transform="rotate(-47 1172.1 487.2)"/><ellipse cx="1139.5" cy="325.1" rx="4.2" ry="2.4" fill="#a9ba98" opacity="0.41" transform="rotate(-35 1139.5 325.1)"/><ellipse cx="1112.2" cy="494.1" rx="4.5" ry="1.6" fill="#748c64" opacity="0.54" transform="rotate(27 1112.2 494.1)"/><ellipse cx="1163.8" cy="281.4" rx="2.2" ry="1.6" fill="#8aa07a" opacity="0.35" transform="rotate(-34 1163.8 281.4)"/><ellipse cx="1068.3" cy="295.9" rx="4.0" ry="2.4" fill="#8aa07a" opacity="0.35" transform="rotate(-16 1068.3 295.9)"/><ellipse cx="1202.8" cy="190.1" rx="1.6" ry="0.8" fill="#77a060" opacity="0.54" transform="rotate(-14 1202.8 190.1)"/><ellipse cx="987.2" cy="273.3" rx="3.8" ry="2.2" fill="#8aa07a" opacity="0.48" transform="rotate(12 987.2 273.3)"/><ellipse cx="1145.9" cy="223.2" rx="2.8" ry="2.2" fill="#9fb28f" opacity="0.55" transform="rotate(-8 1145.9 223.2)"/><ellipse cx="1026.1" cy="197.7" rx="1.2" ry="0.9" fill="#8aa07a" opacity="0.51" transform="rotate(58 1026.1 197.7)"/><ellipse cx="1190.6" cy="479.6" rx="7.4" ry="3.0" fill="#9fb28f" opacity="0.61" transform="rotate(-46 1190.6 479.6)"/><ellipse cx="996.3" cy="188.6" rx="1.1" ry="0.7" fill="#5f8a4c" opacity="0.60" transform="rotate(-37 996.3 188.6)"/><ellipse cx="1114.8" cy="354.3" rx="5.4" ry="3.4" fill="#77a060" opacity="0.39" transform="rotate(42 1114.8 354.3)"/><ellipse cx="1148.8" cy="215.7" rx="1.6" ry="1.4" fill="#a9ba98" opacity="0.56" transform="rotate(54 1148.8 215.7)"/><ellipse cx="1133.9" cy="489.9" rx="7.7" ry="3.8" fill="#748c64" opacity="0.33" transform="rotate(-55 1133.9 489.9)"/><ellipse cx="1054.2" cy="400.4" rx="3.6" ry="1.7" fill="#6a9254" opacity="0.52" transform="rotate(55 1054.2 400.4)"/><ellipse cx="1037.1" cy="364.5" rx="4.7" ry="1.8" fill="#7f9670" opacity="0.38" transform="rotate(-3 1037.1 364.5)"/><ellipse cx="1171.8" cy="378.5" rx="6.3" ry="2.1" fill="#a9ba98" opacity="0.31" transform="rotate(-43 1171.8 378.5)"/><ellipse cx="1189.0" cy="396.6" rx="3.3" ry="1.2" fill="#5f8a4c" opacity="0.64" transform="rotate(-41 1189.0 396.6)"/><ellipse cx="1147.4" cy="504.7" rx="7.0" ry="2.5" fill="#8aa07a" opacity="0.36" transform="rotate(-45 1147.4 504.7)"/><ellipse cx="1117.0" cy="315.6" rx="3.7" ry="2.2" fill="#6a9254" opacity="0.49" transform="rotate(13 1117.0 315.6)"/><ellipse cx="1178.0" cy="342.4" rx="2.6" ry="2.0" fill="#748c64" opacity="0.50" transform="rotate(-46 1178.0 342.4)"/><ellipse cx="975.4" cy="267.3" rx="3.6" ry="2.0" fill="#748c64" opacity="0.33" transform="rotate(-38 975.4 267.3)"/><ellipse cx="1076.5" cy="521.5" rx="9.9" ry="4.2" fill="#9fb28f" opacity="0.57" transform="rotate(-15 1076.5 521.5)"/><ellipse cx="992.9" cy="300.1" rx="4.3" ry="2.7" fill="#77a060" opacity="0.41" transform="rotate(25 992.9 300.1)"/><ellipse cx="1043.1" cy="209.8" rx="1.1" ry="0.8" fill="#748c64" opacity="0.60" transform="rotate(31 1043.1 209.8)"/><ellipse cx="1058.1" cy="379.1" rx="3.7" ry="1.6" fill="#77a060" opacity="0.52" transform="rotate(19 1058.1 379.1)"/><ellipse cx="957.6" cy="332.6" rx="5.3" ry="2.9" fill="#6a9254" opacity="0.44" transform="rotate(7 957.6 332.6)"/><ellipse cx="1232.0" cy="205.6" rx="1.1" ry="0.5" fill="#748c64" opacity="0.52" transform="rotate(40 1232.0 205.6)"/><ellipse cx="1019.3" cy="172.4" rx="0.8" ry="0.6" fill="#7f9670" opacity="0.43" transform="rotate(46 1019.3 172.4)"/><ellipse cx="1210.8" cy="227.6" rx="2.7" ry="2.1" fill="#8aa07a" opacity="0.58" transform="rotate(-59 1210.8 227.6)"/><ellipse cx="1017.4" cy="484.1" rx="5.4" ry="2.5" fill="#6a9254" opacity="0.43" transform="rotate(22 1017.4 484.1)"/><ellipse cx="1120.6" cy="340.1" rx="5.1" ry="3.4" fill="#6a9254" opacity="0.55" transform="rotate(56 1120.6 340.1)"/><ellipse cx="1117.2" cy="435.1" rx="5.8" ry="2.9" fill="#8aa07a" opacity="0.43" transform="rotate(18 1117.2 435.1)"/><ellipse cx="983.4" cy="188.9" rx="0.9" ry="0.6" fill="#b4c3a6" opacity="0.53" transform="rotate(18 983.4 188.9)"/><ellipse cx="1113.2" cy="337.9" rx="5.1" ry="4.5" fill="#748c64" opacity="0.51" transform="rotate(-18 1113.2 337.9)"/><ellipse cx="1243.3" cy="535.9" rx="8.8" ry="3.8" fill="#a9ba98" opacity="0.48" transform="rotate(5 1243.3 535.9)"/><ellipse cx="1152.8" cy="515.0" rx="5.2" ry="1.6" fill="#8aa07a" opacity="0.31" transform="rotate(-53 1152.8 515.0)"/><ellipse cx="1038.8" cy="369.0" rx="5.2" ry="2.0" fill="#8aa07a" opacity="0.57" transform="rotate(16 1038.8 369.0)"/><ellipse cx="1086.7" cy="235.4" rx="2.9" ry="1.7" fill="#9fb28f" opacity="0.41" transform="rotate(16 1086.7 235.4)"/><ellipse cx="953.6" cy="361.1" rx="5.2" ry="2.3" fill="#6a9254" opacity="0.39" transform="rotate(58 953.6 361.1)"/><ellipse cx="947.0" cy="213.5" rx="1.6" ry="0.9" fill="#7f9670" opacity="0.63" transform="rotate(46 947.0 213.5)"/><ellipse cx="1168.9" cy="295.2" rx="4.1" ry="1.9" fill="#6a9254" opacity="0.51" transform="rotate(39 1168.9 295.2)"/><ellipse cx="1114.4" cy="195.5" rx="1.8" ry="1.6" fill="#6a9254" opacity="0.30" transform="rotate(-34 1114.4 195.5)"/><ellipse cx="1025.5" cy="324.6" rx="3.2" ry="2.1" fill="#9fb28f" opacity="0.39" transform="rotate(7 1025.5 324.6)"/><ellipse cx="1125.2" cy="306.5" rx="4.7" ry="4.1" fill="#77a060" opacity="0.62" transform="rotate(31 1125.2 306.5)"/><ellipse cx="952.7" cy="301.2" rx="2.7" ry="1.1" fill="#a9ba98" opacity="0.38" transform="rotate(25 952.7 301.2)"/><ellipse cx="974.7" cy="415.4" rx="7.2" ry="3.5" fill="#8aa07a" opacity="0.33" transform="rotate(29 974.7 415.4)"/><ellipse cx="1209.6" cy="464.4" rx="5.8" ry="1.9" fill="#748c64" opacity="0.49" transform="rotate(2 1209.6 464.4)"/><ellipse cx="1172.8" cy="538.0" rx="8.5" ry="3.8" fill="#748c64" opacity="0.50" transform="rotate(-50 1172.8 538.0)"/><ellipse cx="1114.3" cy="537.3" rx="9.7" ry="3.4" fill="#77a060" opacity="0.42" transform="rotate(42 1114.3 537.3)"/><ellipse cx="1005.1" cy="282.4" rx="3.5" ry="2.8" fill="#7f9670" opacity="0.39" transform="rotate(37 1005.1 282.4)"/><ellipse cx="1220.1" cy="493.4" rx="4.7" ry="1.5" fill="#748c64" opacity="0.60" transform="rotate(-53 1220.1 493.4)"/><ellipse cx="1020.4" cy="270.3" rx="1.8" ry="1.1" fill="#5f8a4c" opacity="0.54" transform="rotate(-47 1020.4 270.3)"/><ellipse cx="1082.0" cy="255.2" rx="3.6" ry="2.0" fill="#b4c3a6" opacity="0.63" transform="rotate(35 1082.0 255.2)"/><ellipse cx="994.1" cy="347.7" rx="3.7" ry="2.3" fill="#748c64" opacity="0.52" transform="rotate(-6 994.1 347.7)"/><ellipse cx="977.8" cy="514.5" rx="8.5" ry="3.5" fill="#7f9670" opacity="0.33" transform="rotate(-11 977.8 514.5)"/><ellipse cx="1062.8" cy="536.3" rx="5.0" ry="1.4" fill="#8aa07a" opacity="0.40" transform="rotate(12 1062.8 536.3)"/><ellipse cx="994.8" cy="506.7" rx="6.0" ry="2.6" fill="#6a9254" opacity="0.39" transform="rotate(60 994.8 506.7)"/><ellipse cx="1237.9" cy="318.0" rx="3.4" ry="2.5" fill="#6a9254" opacity="0.38" transform="rotate(40 1237.9 318.0)"/><ellipse cx="967.2" cy="295.5" rx="2.1" ry="1.0" fill="#748c64" opacity="0.46" transform="rotate(-12 967.2 295.5)"/><ellipse cx="1107.6" cy="388.2" rx="3.5" ry="1.6" fill="#6a9254" opacity="0.37" transform="rotate(-10 1107.6 388.2)"/><ellipse cx="1056.6" cy="530.1" rx="8.0" ry="3.9" fill="#7f9670" opacity="0.63" transform="rotate(29 1056.6 530.1)"/><ellipse cx="963.1" cy="487.4" rx="7.4" ry="3.6" fill="#7f9670" opacity="0.31" transform="rotate(57 963.1 487.4)"/><ellipse cx="1177.8" cy="483.7" rx="5.6" ry="2.4" fill="#9fb28f" opacity="0.56" transform="rotate(-43 1177.8 483.7)"/><ellipse cx="1204.2" cy="185.2" rx="1.5" ry="1.1" fill="#b4c3a6" opacity="0.57" transform="rotate(44 1204.2 185.2)"/><ellipse cx="1034.7" cy="346.7" rx="5.5" ry="2.3" fill="#7f9670" opacity="0.62" transform="rotate(38 1034.7 346.7)"/><ellipse cx="1075.3" cy="173.6" rx="0.7" ry="0.6" fill="#6a9254" opacity="0.58" transform="rotate(-46 1075.3 173.6)"/><ellipse cx="974.0" cy="177.0" rx="1.6" ry="1.3" fill="#7f9670" opacity="0.44" transform="rotate(-33 974.0 177.0)"/><ellipse cx="1134.6" cy="428.0" rx="6.4" ry="3.2" fill="#748c64" opacity="0.50" transform="rotate(33 1134.6 428.0)"/><ellipse cx="1245.6" cy="517.8" rx="4.4" ry="1.5" fill="#8aa07a" opacity="0.65" transform="rotate(43 1245.6 517.8)"/><ellipse cx="1152.6" cy="301.0" rx="3.3" ry="2.7" fill="#b4c3a6" opacity="0.48" transform="rotate(32 1152.6 301.0)"/><ellipse cx="1074.0" cy="297.5" rx="4.0" ry="3.0" fill="#77a060" opacity="0.31" transform="rotate(-19 1074.0 297.5)"/><ellipse cx="1016.6" cy="316.6" rx="5.0" ry="2.9" fill="#a9ba98" opacity="0.41" transform="rotate(-45 1016.6 316.6)"/><ellipse cx="1168.7" cy="190.2" rx="1.7" ry="1.2" fill="#9fb28f" opacity="0.34" transform="rotate(46 1168.7 190.2)"/><ellipse cx="1138.7" cy="369.4" rx="4.2" ry="1.7" fill="#748c64" opacity="0.60" transform="rotate(52 1138.7 369.4)"/><ellipse cx="1027.4" cy="236.2" rx="2.2" ry="1.0" fill="#9fb28f" opacity="0.38" transform="rotate(-24 1027.4 236.2)"/><ellipse cx="1152.3" cy="509.5" rx="7.3" ry="3.6" fill="#748c64" opacity="0.30" transform="rotate(35 1152.3 509.5)"/><ellipse cx="979.9" cy="219.3" rx="1.4" ry="1.1" fill="#a9ba98" opacity="0.36" transform="rotate(-41 979.9 219.3)"/><ellipse cx="1059.1" cy="374.2" rx="5.9" ry="1.9" fill="#5f8a4c" opacity="0.39" transform="rotate(-10 1059.1 374.2)"/><ellipse cx="1046.1" cy="306.2" rx="1.9" ry="1.6" fill="#8aa07a" opacity="0.53" transform="rotate(18 1046.1 306.2)"/><ellipse cx="1092.2" cy="201.9" rx="1.9" ry="1.5" fill="#7f9670" opacity="0.34" transform="rotate(0 1092.2 201.9)"/><ellipse cx="981.6" cy="381.3" rx="3.9" ry="1.8" fill="#748c64" opacity="0.51" transform="rotate(4 981.6 381.3)"/><ellipse cx="1006.1" cy="417.4" rx="5.6" ry="1.9" fill="#7f9670" opacity="0.36" transform="rotate(-36 1006.1 417.4)"/><ellipse cx="1200.5" cy="492.8" rx="8.5" ry="2.4" fill="#77a060" opacity="0.44" transform="rotate(-10 1200.5 492.8)"/><ellipse cx="1073.2" cy="266.4" rx="2.5" ry="1.7" fill="#b4c3a6" opacity="0.35" transform="rotate(19 1073.2 266.4)"/><ellipse cx="1188.4" cy="225.0" rx="2.4" ry="2.1" fill="#7f9670" opacity="0.37" transform="rotate(-38 1188.4 225.0)"/><ellipse cx="1091.3" cy="317.7" rx="4.2" ry="2.4" fill="#7f9670" opacity="0.32" transform="rotate(52 1091.3 317.7)"/><ellipse cx="1155.3" cy="178.6" rx="1.3" ry="1.2" fill="#7f9670" opacity="0.57" transform="rotate(-31 1155.3 178.6)"/><ellipse cx="1110.3" cy="391.8" rx="4.2" ry="2.1" fill="#8aa07a" opacity="0.50" transform="rotate(23 1110.3 391.8)"/><ellipse cx="1157.6" cy="232.5" rx="2.9" ry="2.3" fill="#6a9254" opacity="0.64" transform="rotate(31 1157.6 232.5)"/><ellipse cx="1122.4" cy="252.7" rx="2.4" ry="1.2" fill="#6a9254" opacity="0.56" transform="rotate(-51 1122.4 252.7)"/><ellipse cx="1073.8" cy="465.3" rx="4.8" ry="1.5" fill="#77a060" opacity="0.58" transform="rotate(20 1073.8 465.3)"/><ellipse cx="1238.4" cy="356.8" rx="4.1" ry="1.9" fill="#b4c3a6" opacity="0.36" transform="rotate(-24 1238.4 356.8)"/><ellipse cx="968.4" cy="354.6" rx="5.7" ry="3.5" fill="#77a060" opacity="0.48" transform="rotate(4 968.4 354.6)"/><ellipse cx="986.7" cy="316.9" rx="2.0" ry="1.4" fill="#77a060" opacity="0.35" transform="rotate(33 986.7 316.9)"/><ellipse cx="1073.6" cy="291.6" rx="3.4" ry="2.8" fill="#a9ba98" opacity="0.62" transform="rotate(-33 1073.6 291.6)"/><ellipse cx="985.8" cy="295.4" rx="3.4" ry="2.4" fill="#7f9670" opacity="0.52" transform="rotate(11 985.8 295.4)"/><ellipse cx="1049.3" cy="480.9" rx="3.7" ry="1.8" fill="#748c64" opacity="0.50" transform="rotate(-23 1049.3 480.9)"/><ellipse cx="1097.9" cy="327.4" rx="3.3" ry="2.2" fill="#9fb28f" opacity="0.61" transform="rotate(-33 1097.9 327.4)"/><ellipse cx="1096.9" cy="273.1" rx="4.0" ry="1.9" fill="#a9ba98" opacity="0.65" transform="rotate(1 1096.9 273.1)"/><ellipse cx="1024.8" cy="429.4" rx="3.4" ry="1.3" fill="#b4c3a6" opacity="0.58" transform="rotate(47 1024.8 429.4)"/><ellipse cx="1025.4" cy="350.3" rx="2.9" ry="1.9" fill="#a9ba98" opacity="0.54" transform="rotate(-36 1025.4 350.3)"/><ellipse cx="1132.9" cy="357.5" rx="3.2" ry="1.6" fill="#b4c3a6" opacity="0.39" transform="rotate(27 1132.9 357.5)"/><ellipse cx="1135.2" cy="361.8" rx="5.7" ry="2.3" fill="#7f9670" opacity="0.39" transform="rotate(49 1135.2 361.8)"/><ellipse cx="1137.2" cy="412.4" rx="7.1" ry="3.1" fill="#a9ba98" opacity="0.35" transform="rotate(5 1137.2 412.4)"/><ellipse cx="1205.1" cy="287.2" rx="4.3" ry="3.7" fill="#6a9254" opacity="0.38" transform="rotate(-29 1205.1 287.2)"/><ellipse cx="1188.2" cy="230.2" rx="2.8" ry="1.3" fill="#a9ba98" opacity="0.61" transform="rotate(-6 1188.2 230.2)"/><ellipse cx="1087.4" cy="211.1" rx="1.8" ry="1.4" fill="#b4c3a6" opacity="0.63" transform="rotate(-12 1087.4 211.1)"/><ellipse cx="1095.7" cy="460.1" rx="3.7" ry="1.7" fill="#6a9254" opacity="0.38" transform="rotate(-33 1095.7 460.1)"/><ellipse cx="971.9" cy="189.8" rx="0.9" ry="0.5" fill="#77a060" opacity="0.33" transform="rotate(24 971.9 189.8)"/><ellipse cx="984.0" cy="477.8" rx="6.4" ry="2.1" fill="#8aa07a" opacity="0.33" transform="rotate(-50 984.0 477.8)"/><ellipse cx="1050.3" cy="321.3" rx="2.8" ry="2.0" fill="#7f9670" opacity="0.64" transform="rotate(44 1050.3 321.3)"/><ellipse cx="1192.1" cy="218.4" rx="2.3" ry="1.5" fill="#5f8a4c" opacity="0.47" transform="rotate(-34 1192.1 218.4)"/><ellipse cx="946.5" cy="430.2" rx="3.7" ry="1.1" fill="#7f9670" opacity="0.33" transform="rotate(9 946.5 430.2)"/><ellipse cx="1231.1" cy="250.1" rx="1.6" ry="0.9" fill="#9fb28f" opacity="0.59" transform="rotate(-38 1231.1 250.1)"/><ellipse cx="1076.5" cy="244.9" rx="2.4" ry="1.0" fill="#a9ba98" opacity="0.53" transform="rotate(-50 1076.5 244.9)"/><ellipse cx="1023.3" cy="211.9" rx="2.3" ry="1.5" fill="#a9ba98" opacity="0.50" transform="rotate(-31 1023.3 211.9)"/><ellipse cx="1211.9" cy="382.9" rx="4.2" ry="1.2" fill="#748c64" opacity="0.52" transform="rotate(10 1211.9 382.9)"/><ellipse cx="1092.7" cy="291.9" rx="3.8" ry="1.5" fill="#8aa07a" opacity="0.49" transform="rotate(-0 1092.7 291.9)"/><ellipse cx="1229.5" cy="494.8" rx="4.2" ry="1.3" fill="#a9ba98" opacity="0.49" transform="rotate(32 1229.5 494.8)"/><ellipse cx="1055.9" cy="358.3" rx="3.3" ry="0.9" fill="#77a060" opacity="0.39" transform="rotate(16 1055.9 358.3)"/><ellipse cx="1212.2" cy="181.2" rx="1.5" ry="0.8" fill="#748c64" opacity="0.40" transform="rotate(-15 1212.2 181.2)"/><ellipse cx="972.8" cy="257.6" rx="2.5" ry="2.0" fill="#9fb28f" opacity="0.39" transform="rotate(-56 972.8 257.6)"/><ellipse cx="1123.7" cy="410.7" rx="7.1" ry="2.4" fill="#77a060" opacity="0.31" transform="rotate(-56 1123.7 410.7)"/><ellipse cx="1240.3" cy="192.0" rx="1.3" ry="0.7" fill="#6a9254" opacity="0.52" transform="rotate(1 1240.3 192.0)"/><ellipse cx="1234.3" cy="349.4" rx="5.1" ry="2.3" fill="#9fb28f" opacity="0.43" transform="rotate(-48 1234.3 349.4)"/><ellipse cx="958.5" cy="403.4" rx="4.5" ry="1.3" fill="#a9ba98" opacity="0.32" transform="rotate(49 958.5 403.4)"/><ellipse cx="996.3" cy="375.3" rx="5.4" ry="2.7" fill="#5f8a4c" opacity="0.64" transform="rotate(-28 996.3 375.3)"/><ellipse cx="1073.6" cy="530.2" rx="8.3" ry="2.2" fill="#8aa07a" opacity="0.30" transform="rotate(7 1073.6 530.2)"/><ellipse cx="1137.7" cy="527.8" rx="9.6" ry="4.6" fill="#7f9670" opacity="0.56" transform="rotate(48 1137.7 527.8)"/><ellipse cx="1224.6" cy="437.1" rx="7.4" ry="3.4" fill="#a9ba98" opacity="0.33" transform="rotate(5 1224.6 437.1)"/><ellipse cx="1098.5" cy="521.2" rx="4.4" ry="1.3" fill="#748c64" opacity="0.56" transform="rotate(5 1098.5 521.2)"/><ellipse cx="1038.3" cy="267.3" rx="2.1" ry="1.4" fill="#77a060" opacity="0.55" transform="rotate(-33 1038.3 267.3)"/><ellipse cx="1096.0" cy="230.9" rx="2.4" ry="1.0" fill="#a9ba98" opacity="0.39" transform="rotate(33 1096.0 230.9)"/><ellipse cx="971.8" cy="286.0" rx="3.0" ry="2.5" fill="#7f9670" opacity="0.65" transform="rotate(54 971.8 286.0)"/><ellipse cx="1194.9" cy="331.8" rx="2.8" ry="2.0" fill="#b4c3a6" opacity="0.35" transform="rotate(-23 1194.9 331.8)"/><ellipse cx="1122.3" cy="489.6" rx="6.6" ry="2.7" fill="#8aa07a" opacity="0.63" transform="rotate(21 1122.3 489.6)"/><ellipse cx="1025.0" cy="314.7" rx="3.6" ry="1.6" fill="#8aa07a" opacity="0.60" transform="rotate(-26 1025.0 314.7)"/><ellipse cx="1148.1" cy="472.2" rx="6.8" ry="3.1" fill="#748c64" opacity="0.59" transform="rotate(-33 1148.1 472.2)"/><ellipse cx="1060.2" cy="176.3" rx="1.2" ry="1.0" fill="#8aa07a" opacity="0.47" transform="rotate(5 1060.2 176.3)"/><ellipse cx="966.8" cy="500.2" rx="5.9" ry="2.7" fill="#8aa07a" opacity="0.53" transform="rotate(36 966.8 500.2)"/><ellipse cx="952.1" cy="194.7" rx="1.7" ry="1.2" fill="#9fb28f" opacity="0.48" transform="rotate(-47 952.1 194.7)"/><ellipse cx="968.3" cy="306.0" rx="3.4" ry="3.0" fill="#8aa07a" opacity="0.63" transform="rotate(43 968.3 306.0)"/><ellipse cx="1169.7" cy="495.0" rx="7.2" ry="2.5" fill="#748c64" opacity="0.53" transform="rotate(-9 1169.7 495.0)"/><ellipse cx="1109.4" cy="399.0" rx="6.6" ry="2.6" fill="#7f9670" opacity="0.58" transform="rotate(27 1109.4 399.0)"/><ellipse cx="1098.6" cy="388.8" rx="3.5" ry="1.4" fill="#7f9670" opacity="0.37" transform="rotate(-53 1098.6 388.8)"/><ellipse cx="1175.5" cy="381.3" rx="3.3" ry="1.4" fill="#6a9254" opacity="0.63" transform="rotate(6 1175.5 381.3)"/><ellipse cx="1196.6" cy="479.5" rx="7.1" ry="2.6" fill="#8aa07a" opacity="0.32" transform="rotate(29 1196.6 479.5)"/><ellipse cx="1095.2" cy="246.6" rx="2.5" ry="1.1" fill="#748c64" opacity="0.33" transform="rotate(54 1095.2 246.6)"/><ellipse cx="1066.1" cy="305.8" rx="4.5" ry="3.0" fill="#8aa07a" opacity="0.49" transform="rotate(38 1066.1 305.8)"/><ellipse cx="1149.0" cy="378.2" rx="5.4" ry="2.4" fill="#9fb28f" opacity="0.48" transform="rotate(-8 1149.0 378.2)"/><ellipse cx="1236.7" cy="194.0" rx="1.0" ry="0.9" fill="#9fb28f" opacity="0.49" transform="rotate(43 1236.7 194.0)"/><ellipse cx="978.9" cy="359.4" rx="4.2" ry="1.1" fill="#748c64" opacity="0.60" transform="rotate(2 978.9 359.4)"/><ellipse cx="1188.7" cy="434.5" rx="7.7" ry="2.6" fill="#8aa07a" opacity="0.54" transform="rotate(51 1188.7 434.5)"/><ellipse cx="1080.1" cy="283.9" rx="2.5" ry="1.7" fill="#9fb28f" opacity="0.47" transform="rotate(16 1080.1 283.9)"/><ellipse cx="1014.8" cy="295.2" rx="3.5" ry="2.0" fill="#8aa07a" opacity="0.45" transform="rotate(-25 1014.8 295.2)"/><ellipse cx="1054.0" cy="351.7" rx="4.6" ry="3.9" fill="#7f9670" opacity="0.62" transform="rotate(-32 1054.0 351.7)"/><ellipse cx="1002.1" cy="263.7" rx="1.8" ry="1.4" fill="#8aa07a" opacity="0.33" transform="rotate(-51 1002.1 263.7)"/><ellipse cx="1215.4" cy="356.0" rx="5.2" ry="2.5" fill="#8aa07a" opacity="0.47" transform="rotate(-46 1215.4 356.0)"/><ellipse cx="1069.7" cy="199.7" rx="1.0" ry="0.8" fill="#9fb28f" opacity="0.65" transform="rotate(-57 1069.7 199.7)"/><ellipse cx="965.1" cy="493.9" rx="8.8" ry="4.1" fill="#8aa07a" opacity="0.63" transform="rotate(-57 965.1 493.9)"/><ellipse cx="1249.5" cy="220.3" rx="2.6" ry="1.8" fill="#8aa07a" opacity="0.35" transform="rotate(10 1249.5 220.3)"/><ellipse cx="1098.9" cy="421.0" rx="3.9" ry="1.3" fill="#748c64" opacity="0.61" transform="rotate(9 1098.9 421.0)"/><ellipse cx="1204.2" cy="275.3" rx="2.1" ry="1.5" fill="#8aa07a" opacity="0.32" transform="rotate(-41 1204.2 275.3)"/><ellipse cx="1181.7" cy="520.4" rx="8.0" ry="2.5" fill="#7f9670" opacity="0.58" transform="rotate(16 1181.7 520.4)"/><ellipse cx="970.6" cy="184.0" rx="1.6" ry="1.0" fill="#b4c3a6" opacity="0.41" transform="rotate(58 970.6 184.0)"/><ellipse cx="956.6" cy="434.5" rx="6.5" ry="2.2" fill="#748c64" opacity="0.50" transform="rotate(-26 956.6 434.5)"/><ellipse cx="1236.3" cy="241.8" rx="3.0" ry="1.8" fill="#748c64" opacity="0.53" transform="rotate(5 1236.3 241.8)"/><ellipse cx="1212.3" cy="222.1" rx="2.8" ry="1.8" fill="#a9ba98" opacity="0.38" transform="rotate(56 1212.3 222.1)"/><ellipse cx="1119.9" cy="214.0" rx="1.7" ry="0.8" fill="#8aa07a" opacity="0.60" transform="rotate(58 1119.9 214.0)"/><ellipse cx="1240.3" cy="251.8" rx="1.6" ry="0.7" fill="#5f8a4c" opacity="0.50" transform="rotate(-34 1240.3 251.8)"/><ellipse cx="999.2" cy="433.7" rx="6.5" ry="2.7" fill="#748c64" opacity="0.40" transform="rotate(-12 999.2 433.7)"/><ellipse cx="1202.5" cy="505.5" rx="8.4" ry="4.1" fill="#7f9670" opacity="0.64" transform="rotate(-19 1202.5 505.5)"/><ellipse cx="1156.8" cy="478.6" rx="8.2" ry="3.0" fill="#8aa07a" opacity="0.40" transform="rotate(41 1156.8 478.6)"/><ellipse cx="1012.5" cy="403.7" rx="7.2" ry="2.0" fill="#748c64" opacity="0.59" transform="rotate(46 1012.5 403.7)"/><ellipse cx="986.8" cy="255.9" rx="3.1" ry="2.3" fill="#748c64" opacity="0.31" transform="rotate(-17 986.8 255.9)"/><ellipse cx="979.5" cy="445.7" rx="5.3" ry="2.3" fill="#9fb28f" opacity="0.34" transform="rotate(51 979.5 445.7)"/><ellipse cx="1114.4" cy="455.9" rx="5.2" ry="2.2" fill="#9fb28f" opacity="0.56" transform="rotate(12 1114.4 455.9)"/><ellipse cx="1090.7" cy="307.2" rx="2.5" ry="1.2" fill="#7f9670" opacity="0.42" transform="rotate(2 1090.7 307.2)"/><ellipse cx="1085.0" cy="443.1" rx="4.7" ry="2.2" fill="#8aa07a" opacity="0.44" transform="rotate(-8 1085.0 443.1)"/><ellipse cx="1212.6" cy="347.5" rx="5.0" ry="3.9" fill="#b4c3a6" opacity="0.40" transform="rotate(5 1212.6 347.5)"/><ellipse cx="1009.5" cy="529.7" rx="4.4" ry="1.1" fill="#7f9670" opacity="0.48" transform="rotate(-27 1009.5 529.7)"/><ellipse cx="999.4" cy="362.6" rx="3.6" ry="1.0" fill="#7f9670" opacity="0.59" transform="rotate(19 999.4 362.6)"/><ellipse cx="1131.9" cy="175.8" rx="1.5" ry="0.9" fill="#748c64" opacity="0.36" transform="rotate(33 1131.9 175.8)"/><ellipse cx="1073.5" cy="369.1" rx="2.8" ry="0.9" fill="#9fb28f" opacity="0.45" transform="rotate(-4 1073.5 369.1)"/><ellipse cx="1119.6" cy="497.4" rx="8.1" ry="2.6" fill="#748c64" opacity="0.58" transform="rotate(-51 1119.6 497.4)"/><ellipse cx="992.4" cy="436.2" rx="5.5" ry="2.7" fill="#9fb28f" opacity="0.60" transform="rotate(-16 992.4 436.2)"/><ellipse cx="956.7" cy="527.1" rx="10.1" ry="4.4" fill="#a9ba98" opacity="0.36" transform="rotate(-59 956.7 527.1)"/><ellipse cx="1056.6" cy="218.2" rx="1.2" ry="0.8" fill="#9fb28f" opacity="0.34" transform="rotate(34 1056.6 218.2)"/><ellipse cx="967.6" cy="362.7" rx="4.3" ry="1.3" fill="#9fb28f" opacity="0.48" transform="rotate(-21 967.6 362.7)"/><ellipse cx="1006.2" cy="254.1" rx="2.8" ry="1.6" fill="#748c64" opacity="0.63" transform="rotate(-17 1006.2 254.1)"/><ellipse cx="1034.3" cy="306.3" rx="3.0" ry="2.6" fill="#77a060" opacity="0.51" transform="rotate(55 1034.3 306.3)"/><ellipse cx="1015.2" cy="269.7" rx="3.6" ry="2.9" fill="#9fb28f" opacity="0.39" transform="rotate(-50 1015.2 269.7)"/><ellipse cx="1105.5" cy="174.4" rx="1.2" ry="1.0" fill="#6a9254" opacity="0.39" transform="rotate(11 1105.5 174.4)"/><ellipse cx="1009.3" cy="268.8" rx="2.1" ry="1.8" fill="#7f9670" opacity="0.56" transform="rotate(-28 1009.3 268.8)"/><ellipse cx="947.7" cy="378.6" rx="6.4" ry="2.4" fill="#9fb28f" opacity="0.64" transform="rotate(31 947.7 378.6)"/><ellipse cx="1118.4" cy="361.5" rx="4.1" ry="1.8" fill="#7f9670" opacity="0.41" transform="rotate(43 1118.4 361.5)"/><ellipse cx="966.9" cy="501.0" rx="8.7" ry="3.0" fill="#5f8a4c" opacity="0.37" transform="rotate(53 966.9 501.0)"/><ellipse cx="1245.1" cy="514.2" rx="5.9" ry="2.2" fill="#8aa07a" opacity="0.52" transform="rotate(5 1245.1 514.2)"/><ellipse cx="1099.6" cy="527.2" rx="5.0" ry="2.0" fill="#7f9670" opacity="0.48" transform="rotate(20 1099.6 527.2)"/><ellipse cx="1083.4" cy="174.7" rx="1.6" ry="0.8" fill="#7f9670" opacity="0.40" transform="rotate(-5 1083.4 174.7)"/><ellipse cx="1038.0" cy="228.0" rx="2.2" ry="1.4" fill="#9fb28f" opacity="0.63" transform="rotate(-15 1038.0 228.0)"/><ellipse cx="1241.6" cy="340.0" rx="4.1" ry="3.1" fill="#a9ba98" opacity="0.55" transform="rotate(-10 1241.6 340.0)"/><ellipse cx="1197.2" cy="201.1" rx="1.7" ry="1.2" fill="#5f8a4c" opacity="0.55" transform="rotate(40 1197.2 201.1)"/><ellipse cx="1171.6" cy="508.5" rx="4.1" ry="1.9" fill="#8aa07a" opacity="0.38" transform="rotate(37 1171.6 508.5)"/><ellipse cx="1000.3" cy="335.6" rx="2.5" ry="2.1" fill="#9fb28f" opacity="0.32" transform="rotate(-6 1000.3 335.6)"/><ellipse cx="1222.3" cy="221.9" rx="1.3" ry="1.0" fill="#77a060" opacity="0.56" transform="rotate(9 1222.3 221.9)"/><ellipse cx="1112.2" cy="191.5" rx="1.5" ry="1.0" fill="#b4c3a6" opacity="0.53" transform="rotate(42 1112.2 191.5)"/><ellipse cx="1222.9" cy="534.5" rx="9.0" ry="4.4" fill="#748c64" opacity="0.51" transform="rotate(43 1222.9 534.5)"/><ellipse cx="1060.1" cy="279.5" rx="3.5" ry="2.0" fill="#7f9670" opacity="0.47" transform="rotate(-28 1060.1 279.5)"/><ellipse cx="1068.8" cy="398.8" rx="4.8" ry="1.5" fill="#8aa07a" opacity="0.40" transform="rotate(-38 1068.8 398.8)"/><ellipse cx="1210.0" cy="214.0" rx="2.5" ry="1.2" fill="#9fb28f" opacity="0.64" transform="rotate(59 1210.0 214.0)"/><ellipse cx="965.8" cy="285.3" rx="2.4" ry="1.5" fill="#b4c3a6" opacity="0.59" transform="rotate(8 965.8 285.3)"/><ellipse cx="1201.8" cy="456.4" rx="6.0" ry="2.7" fill="#9fb28f" opacity="0.34" transform="rotate(46 1201.8 456.4)"/><ellipse cx="1196.0" cy="187.9" rx="1.8" ry="1.3" fill="#b4c3a6" opacity="0.33" transform="rotate(-54 1196.0 187.9)"/><ellipse cx="1014.1" cy="528.1" rx="9.8" ry="4.4" fill="#a9ba98" opacity="0.45" transform="rotate(30 1014.1 528.1)"/><ellipse cx="1096.2" cy="282.2" rx="2.7" ry="2.4" fill="#748c64" opacity="0.53" transform="rotate(38 1096.2 282.2)"/><ellipse cx="1049.8" cy="236.3" rx="2.4" ry="2.2" fill="#9fb28f" opacity="0.47" transform="rotate(31 1049.8 236.3)"/><ellipse cx="1031.6" cy="370.8" rx="4.6" ry="2.1" fill="#9fb28f" opacity="0.53" transform="rotate(-42 1031.6 370.8)"/><ellipse cx="1164.6" cy="369.1" rx="5.3" ry="1.3" fill="#5f8a4c" opacity="0.46" transform="rotate(-59 1164.6 369.1)"/><ellipse cx="1078.8" cy="188.2" rx="1.7" ry="1.0" fill="#a9ba98" opacity="0.47" transform="rotate(-25 1078.8 188.2)"/><ellipse cx="1174.0" cy="544.2" rx="6.6" ry="2.1" fill="#6a9254" opacity="0.57" transform="rotate(40 1174.0 544.2)"/><ellipse cx="979.3" cy="366.9" rx="5.8" ry="2.0" fill="#748c64" opacity="0.45" transform="rotate(-4 979.3 366.9)"/><ellipse cx="1224.0" cy="443.6" rx="7.9" ry="2.1" fill="#b4c3a6" opacity="0.35" transform="rotate(-22 1224.0 443.6)"/><ellipse cx="1152.6" cy="513.1" rx="6.9" ry="2.9" fill="#7f9670" opacity="0.39" transform="rotate(-21 1152.6 513.1)"/><ellipse cx="1206.6" cy="180.9" rx="1.6" ry="1.3" fill="#b4c3a6" opacity="0.39" transform="rotate(-11 1206.6 180.9)"/><ellipse cx="1221.8" cy="172.6" rx="0.6" ry="0.3" fill="#b4c3a6" opacity="0.52" transform="rotate(28 1221.8 172.6)"/><ellipse cx="1146.1" cy="402.6" rx="6.3" ry="2.0" fill="#5f8a4c" opacity="0.36" transform="rotate(-51 1146.1 402.6)"/><ellipse cx="1170.9" cy="488.8" rx="4.8" ry="2.4" fill="#a9ba98" opacity="0.40" transform="rotate(-41 1170.9 488.8)"/><ellipse cx="1064.0" cy="224.4" rx="2.6" ry="1.1" fill="#5f8a4c" opacity="0.40" transform="rotate(47 1064.0 224.4)"/><ellipse cx="956.8" cy="451.3" rx="6.1" ry="2.6" fill="#7f9670" opacity="0.43" transform="rotate(36 956.8 451.3)"/><ellipse cx="980.7" cy="434.2" rx="3.7" ry="1.6" fill="#748c64" opacity="0.39" transform="rotate(26 980.7 434.2)"/><ellipse cx="1006.6" cy="427.1" rx="3.2" ry="1.5" fill="#7f9670" opacity="0.36" transform="rotate(8 1006.6 427.1)"/><ellipse cx="985.3" cy="500.1" rx="6.2" ry="2.3" fill="#8aa07a" opacity="0.57" transform="rotate(-56 985.3 500.1)"/><ellipse cx="1074.1" cy="376.1" rx="3.9" ry="1.2" fill="#b4c3a6" opacity="0.58" transform="rotate(21 1074.1 376.1)"/><ellipse cx="1105.3" cy="255.7" rx="1.6" ry="0.8" fill="#b4c3a6" opacity="0.46" transform="rotate(50 1105.3 255.7)"/><ellipse cx="1100.3" cy="434.9" rx="3.6" ry="1.7" fill="#a9ba98" opacity="0.44" transform="rotate(20 1100.3 434.9)"/><ellipse cx="1122.8" cy="453.8" rx="7.2" ry="2.1" fill="#5f8a4c" opacity="0.50" transform="rotate(52 1122.8 453.8)"/><ellipse cx="1187.6" cy="271.0" rx="3.5" ry="2.4" fill="#77a060" opacity="0.52" transform="rotate(49 1187.6 271.0)"/><ellipse cx="1186.8" cy="205.3" rx="1.0" ry="0.7" fill="#7f9670" opacity="0.40" transform="rotate(27 1186.8 205.3)"/><ellipse cx="1200.2" cy="202.9" rx="2.2" ry="1.5" fill="#5f8a4c" opacity="0.61" transform="rotate(53 1200.2 202.9)"/><ellipse cx="1010.2" cy="299.8" rx="2.3" ry="1.1" fill="#748c64" opacity="0.42" transform="rotate(57 1010.2 299.8)"/><ellipse cx="1064.1" cy="239.6" rx="2.7" ry="2.2" fill="#a9ba98" opacity="0.31" transform="rotate(-44 1064.1 239.6)"/><ellipse cx="980.7" cy="473.7" rx="5.1" ry="1.5" fill="#7f9670" opacity="0.48" transform="rotate(-37 980.7 473.7)"/><ellipse cx="1125.7" cy="187.3" rx="1.6" ry="1.3" fill="#5f8a4c" opacity="0.36" transform="rotate(-51 1125.7 187.3)"/><ellipse cx="1244.7" cy="377.6" rx="5.8" ry="1.8" fill="#8aa07a" opacity="0.63" transform="rotate(-57 1244.7 377.6)"/><ellipse cx="1165.5" cy="346.7" rx="3.4" ry="2.3" fill="#b4c3a6" opacity="0.33" transform="rotate(-10 1165.5 346.7)"/><ellipse cx="1069.5" cy="540.1" rx="7.4" ry="2.0" fill="#5f8a4c" opacity="0.30" transform="rotate(28 1069.5 540.1)"/><ellipse cx="1017.1" cy="263.0" rx="2.8" ry="2.5" fill="#9fb28f" opacity="0.34" transform="rotate(45 1017.1 263.0)"/><ellipse cx="976.1" cy="535.8" rx="6.3" ry="2.3" fill="#6a9254" opacity="0.63" transform="rotate(43 976.1 535.8)"/><ellipse cx="1188.6" cy="185.0" rx="1.5" ry="1.2" fill="#a9ba98" opacity="0.30" transform="rotate(-12 1188.6 185.0)"/><ellipse cx="1075.4" cy="367.6" rx="6.4" ry="3.1" fill="#a9ba98" opacity="0.59" transform="rotate(21 1075.4 367.6)"/><ellipse cx="1075.5" cy="336.2" rx="3.8" ry="1.8" fill="#b4c3a6" opacity="0.57" transform="rotate(51 1075.5 336.2)"/><ellipse cx="1116.5" cy="350.2" rx="4.1" ry="3.1" fill="#5f8a4c" opacity="0.60" transform="rotate(-1 1116.5 350.2)"/><ellipse cx="1224.0" cy="173.9" rx="0.8" ry="0.7" fill="#b4c3a6" opacity="0.39" transform="rotate(28 1224.0 173.9)"/><ellipse cx="1217.1" cy="227.1" rx="2.1" ry="1.3" fill="#7f9670" opacity="0.48" transform="rotate(8 1217.1 227.1)"/><ellipse cx="1191.2" cy="245.7" rx="2.3" ry="1.8" fill="#5f8a4c" opacity="0.42" transform="rotate(-56 1191.2 245.7)"/><ellipse cx="1128.5" cy="251.1" rx="2.8" ry="1.3" fill="#77a060" opacity="0.55" transform="rotate(42 1128.5 251.1)"/><ellipse cx="1200.9" cy="307.0" rx="2.7" ry="1.9" fill="#b4c3a6" opacity="0.62" transform="rotate(-58 1200.9 307.0)"/><ellipse cx="1126.6" cy="438.7" rx="5.6" ry="2.1" fill="#b4c3a6" opacity="0.44" transform="rotate(-37 1126.6 438.7)"/><ellipse cx="1160.8" cy="499.8" rx="4.8" ry="2.2" fill="#8aa07a" opacity="0.47" transform="rotate(-46 1160.8 499.8)"/><ellipse cx="949.0" cy="255.8" rx="2.5" ry="1.6" fill="#5f8a4c" opacity="0.44" transform="rotate(-0 949.0 255.8)"/><ellipse cx="1180.0" cy="211.2" rx="1.8" ry="0.9" fill="#6a9254" opacity="0.45" transform="rotate(-27 1180.0 211.2)"/><ellipse cx="1000.1" cy="309.0" rx="4.3" ry="3.4" fill="#9fb28f" opacity="0.63" transform="rotate(-58 1000.1 309.0)"/><ellipse cx="1041.7" cy="260.7" rx="3.4" ry="1.6" fill="#7f9670" opacity="0.58" transform="rotate(-54 1041.7 260.7)"/><ellipse cx="1013.1" cy="352.2" rx="2.8" ry="1.4" fill="#748c64" opacity="0.50" transform="rotate(-49 1013.1 352.2)"/><ellipse cx="1170.3" cy="222.0" rx="2.8" ry="2.2" fill="#a9ba98" opacity="0.64" transform="rotate(-35 1170.3 222.0)"/><ellipse cx="1004.7" cy="266.9" rx="3.0" ry="2.1" fill="#7f9670" opacity="0.49" transform="rotate(-22 1004.7 266.9)"/><ellipse cx="1241.1" cy="421.4" rx="3.2" ry="0.8" fill="#9fb28f" opacity="0.36" transform="rotate(-53 1241.1 421.4)"/><ellipse cx="1005.9" cy="266.0" rx="3.8" ry="2.4" fill="#77a060" opacity="0.42" transform="rotate(-27 1005.9 266.0)"/><ellipse cx="1112.7" cy="299.3" rx="3.9" ry="1.7" fill="#748c64" opacity="0.51" transform="rotate(30 1112.7 299.3)"/><ellipse cx="1014.4" cy="394.3" rx="3.1" ry="0.9" fill="#7f9670" opacity="0.30" transform="rotate(-6 1014.4 394.3)"/><ellipse cx="1056.7" cy="299.0" rx="3.8" ry="2.9" fill="#8aa07a" opacity="0.46" transform="rotate(-8 1056.7 299.0)"/><ellipse cx="1187.9" cy="305.3" rx="4.5" ry="2.5" fill="#7f9670" opacity="0.37" transform="rotate(-39 1187.9 305.3)"/><ellipse cx="993.2" cy="274.8" rx="2.8" ry="1.2" fill="#748c64" opacity="0.57" transform="rotate(41 993.2 274.8)"/><ellipse cx="1229.5" cy="224.3" rx="1.9" ry="1.0" fill="#9fb28f" opacity="0.35" transform="rotate(2 1229.5 224.3)"/><ellipse cx="1181.8" cy="209.9" rx="1.9" ry="1.6" fill="#b4c3a6" opacity="0.31" transform="rotate(-44 1181.8 209.9)"/><ellipse cx="1118.0" cy="178.8" rx="1.3" ry="0.6" fill="#7f9670" opacity="0.47" transform="rotate(-2 1118.0 178.8)"/><ellipse cx="1190.4" cy="399.0" rx="4.5" ry="1.9" fill="#7f9670" opacity="0.59" transform="rotate(53 1190.4 399.0)"/><ellipse cx="1230.5" cy="426.3" rx="3.6" ry="1.8" fill="#8aa07a" opacity="0.58" transform="rotate(31 1230.5 426.3)"/><ellipse cx="1108.4" cy="317.8" rx="4.5" ry="1.9" fill="#748c64" opacity="0.31" transform="rotate(43 1108.4 317.8)"/><ellipse cx="1165.2" cy="385.3" rx="4.0" ry="1.5" fill="#7f9670" opacity="0.43" transform="rotate(-2 1165.2 385.3)"/><ellipse cx="1029.2" cy="484.8" rx="5.2" ry="1.6" fill="#7f9670" opacity="0.42" transform="rotate(-49 1029.2 484.8)"/><ellipse cx="1238.4" cy="228.5" rx="1.6" ry="1.2" fill="#77a060" opacity="0.64" transform="rotate(10 1238.4 228.5)"/><ellipse cx="954.0" cy="343.2" rx="3.1" ry="1.8" fill="#7f9670" opacity="0.38" transform="rotate(-44 954.0 343.2)"/><ellipse cx="1045.6" cy="514.6" rx="5.8" ry="2.4" fill="#748c64" opacity="0.33" transform="rotate(-2 1045.6 514.6)"/><ellipse cx="1237.4" cy="455.1" rx="5.2" ry="1.9" fill="#748c64" opacity="0.51" transform="rotate(-40 1237.4 455.1)"/><ellipse cx="1170.2" cy="391.2" rx="7.0" ry="1.8" fill="#7f9670" opacity="0.52" transform="rotate(-28 1170.2 391.2)"/><ellipse cx="1033.3" cy="519.5" rx="5.7" ry="1.6" fill="#7f9670" opacity="0.64" transform="rotate(-33 1033.3 519.5)"/><ellipse cx="1083.8" cy="235.8" rx="1.8" ry="1.3" fill="#6a9254" opacity="0.54" transform="rotate(-58 1083.8 235.8)"/><ellipse cx="1095.9" cy="334.6" rx="2.6" ry="1.4" fill="#748c64" opacity="0.64" transform="rotate(57 1095.9 334.6)"/><ellipse cx="1145.7" cy="328.9" rx="2.5" ry="1.8" fill="#77a060" opacity="0.35" transform="rotate(-40 1145.7 328.9)"/><ellipse cx="1162.6" cy="508.4" rx="8.4" ry="2.7" fill="#7f9670" opacity="0.34" transform="rotate(57 1162.6 508.4)"/><ellipse cx="1036.2" cy="290.2" rx="2.0" ry="1.5" fill="#9fb28f" opacity="0.42" transform="rotate(37 1036.2 290.2)"/><ellipse cx="1058.9" cy="533.3" rx="5.5" ry="2.5" fill="#8aa07a" opacity="0.46" transform="rotate(-42 1058.9 533.3)"/><ellipse cx="1013.9" cy="485.2" rx="4.1" ry="1.8" fill="#8aa07a" opacity="0.56" transform="rotate(39 1013.9 485.2)"/><ellipse cx="1242.5" cy="514.8" rx="7.1" ry="3.2" fill="#9fb28f" opacity="0.41" transform="rotate(-41 1242.5 514.8)"/><ellipse cx="1087.6" cy="185.9" rx="1.1" ry="0.8" fill="#6a9254" opacity="0.54" transform="rotate(21 1087.6 185.9)"/><ellipse cx="973.5" cy="354.1" rx="5.5" ry="4.3" fill="#748c64" opacity="0.36" transform="rotate(-9 973.5 354.1)"/><ellipse cx="1122.8" cy="289.0" rx="3.6" ry="3.1" fill="#748c64" opacity="0.57" transform="rotate(-15 1122.8 289.0)"/><ellipse cx="1062.8" cy="423.3" rx="7.3" ry="3.4" fill="#8aa07a" opacity="0.63" transform="rotate(47 1062.8 423.3)"/><ellipse cx="1180.8" cy="384.8" rx="3.8" ry="1.3" fill="#5f8a4c" opacity="0.37" transform="rotate(-11 1180.8 384.8)"/><ellipse cx="1085.0" cy="188.4" rx="1.5" ry="0.8" fill="#7f9670" opacity="0.55" transform="rotate(-34 1085.0 188.4)"/><ellipse cx="1105.5" cy="358.3" rx="3.8" ry="1.9" fill="#8aa07a" opacity="0.52" transform="rotate(49 1105.5 358.3)"/><ellipse cx="1185.6" cy="238.2" rx="2.0" ry="1.4" fill="#748c64" opacity="0.41" transform="rotate(12 1185.6 238.2)"/><ellipse cx="1206.2" cy="244.8" rx="3.1" ry="2.1" fill="#7f9670" opacity="0.40" transform="rotate(-59 1206.2 244.8)"/><ellipse cx="1108.8" cy="506.1" rx="7.7" ry="2.7" fill="#77a060" opacity="0.47" transform="rotate(-6 1108.8 506.1)"/><ellipse cx="1021.4" cy="522.6" rx="9.0" ry="4.2" fill="#6a9254" opacity="0.44" transform="rotate(-53 1021.4 522.6)"/><ellipse cx="1191.7" cy="541.0" rx="7.8" ry="2.7" fill="#7f9670" opacity="0.61" transform="rotate(-0 1191.7 541.0)"/><ellipse cx="1023.2" cy="253.6" rx="3.3" ry="2.4" fill="#748c64" opacity="0.53" transform="rotate(57 1023.2 253.6)"/><ellipse cx="1164.6" cy="454.5" rx="4.8" ry="2.1" fill="#9fb28f" opacity="0.39" transform="rotate(-17 1164.6 454.5)"/><ellipse cx="1178.8" cy="448.9" rx="5.2" ry="1.8" fill="#5f8a4c" opacity="0.54" transform="rotate(32 1178.8 448.9)"/><ellipse cx="1077.2" cy="423.7" rx="5.5" ry="2.6" fill="#8aa07a" opacity="0.62" transform="rotate(12 1077.2 423.7)"/><ellipse cx="1139.5" cy="175.6" rx="1.1" ry="0.7" fill="#6a9254" opacity="0.47" transform="rotate(-34 1139.5 175.6)"/><ellipse cx="978.3" cy="244.8" rx="3.0" ry="1.6" fill="#9fb28f" opacity="0.36" transform="rotate(-25 978.3 244.8)"/><ellipse cx="1144.7" cy="311.1" rx="3.0" ry="2.2" fill="#a9ba98" opacity="0.45" transform="rotate(-0 1144.7 311.1)"/><ellipse cx="1208.9" cy="211.2" rx="1.5" ry="0.8" fill="#a9ba98" opacity="0.54" transform="rotate(-41 1208.9 211.2)"/><ellipse cx="962.4" cy="324.7" rx="2.4" ry="1.4" fill="#5f8a4c" opacity="0.46" transform="rotate(-22 962.4 324.7)"/><ellipse cx="1237.2" cy="360.3" rx="6.2" ry="2.4" fill="#77a060" opacity="0.50" transform="rotate(-19 1237.2 360.3)"/><ellipse cx="1216.4" cy="297.4" rx="4.4" ry="1.9" fill="#5f8a4c" opacity="0.37" transform="rotate(-3 1216.4 297.4)"/><ellipse cx="1125.4" cy="277.9" rx="3.6" ry="1.7" fill="#7f9670" opacity="0.38" transform="rotate(16 1125.4 277.9)"/><ellipse cx="1095.8" cy="486.6" rx="6.8" ry="2.5" fill="#77a060" opacity="0.44" transform="rotate(-36 1095.8 486.6)"/><ellipse cx="1241.7" cy="343.7" rx="2.6" ry="1.5" fill="#9fb28f" opacity="0.41" transform="rotate(-2 1241.7 343.7)"/><ellipse cx="1160.5" cy="191.4" rx="1.5" ry="1.2" fill="#748c64" opacity="0.61" transform="rotate(-0 1160.5 191.4)"/><ellipse cx="1174.7" cy="278.0" rx="4.1" ry="3.6" fill="#b4c3a6" opacity="0.62" transform="rotate(54 1174.7 278.0)"/><ellipse cx="967.8" cy="499.6" rx="7.3" ry="3.6" fill="#77a060" opacity="0.44" transform="rotate(45 967.8 499.6)"/><ellipse cx="1112.4" cy="291.9" rx="3.4" ry="2.1" fill="#5f8a4c" opacity="0.34" transform="rotate(19 1112.4 291.9)"/><ellipse cx="961.3" cy="339.1" rx="4.6" ry="3.8" fill="#a9ba98" opacity="0.46" transform="rotate(-41 961.3 339.1)"/><ellipse cx="1118.6" cy="490.9" rx="7.9" ry="2.6" fill="#748c64" opacity="0.32" transform="rotate(-40 1118.6 490.9)"/><ellipse cx="1013.5" cy="409.3" rx="3.0" ry="1.0" fill="#9fb28f" opacity="0.41" transform="rotate(1 1013.5 409.3)"/><ellipse cx="1180.6" cy="492.8" rx="5.8" ry="2.9" fill="#b4c3a6" opacity="0.63" transform="rotate(37 1180.6 492.8)"/><ellipse cx="1105.6" cy="215.0" rx="2.7" ry="1.9" fill="#6a9254" opacity="0.35" transform="rotate(40 1105.6 215.0)"/><ellipse cx="1244.5" cy="424.5" rx="7.7" ry="3.6" fill="#7f9670" opacity="0.61" transform="rotate(-8 1244.5 424.5)"/><ellipse cx="1209.8" cy="362.9" rx="3.9" ry="1.9" fill="#a9ba98" opacity="0.48" transform="rotate(-40 1209.8 362.9)"/><ellipse cx="1150.2" cy="250.2" rx="1.9" ry="0.8" fill="#748c64" opacity="0.43" transform="rotate(-25 1150.2 250.2)"/><ellipse cx="1076.3" cy="525.8" rx="10.1" ry="4.5" fill="#b4c3a6" opacity="0.33" transform="rotate(11 1076.3 525.8)"/><ellipse cx="1205.3" cy="277.9" rx="2.7" ry="2.4" fill="#7f9670" opacity="0.63" transform="rotate(-15 1205.3 277.9)"/><ellipse cx="1172.2" cy="429.9" rx="6.3" ry="1.7" fill="#7f9670" opacity="0.37" transform="rotate(-52 1172.2 429.9)"/><ellipse cx="978.1" cy="375.0" rx="6.0" ry="1.5" fill="#5f8a4c" opacity="0.60" transform="rotate(50 978.1 375.0)"/><ellipse cx="1118.6" cy="516.8" rx="6.0" ry="1.6" fill="#9fb28f" opacity="0.40" transform="rotate(18 1118.6 516.8)"/><ellipse cx="993.2" cy="524.7" rx="9.8" ry="2.7" fill="#748c64" opacity="0.53" transform="rotate(-40 993.2 524.7)"/><ellipse cx="1040.5" cy="411.2" rx="7.2" ry="1.9" fill="#748c64" opacity="0.46" transform="rotate(36 1040.5 411.2)"/><ellipse cx="1094.2" cy="494.6" rx="9.0" ry="2.4" fill="#748c64" opacity="0.49" transform="rotate(-34 1094.2 494.6)"/><ellipse cx="981.5" cy="414.7" rx="5.9" ry="2.6" fill="#8aa07a" opacity="0.59" transform="rotate(-6 981.5 414.7)"/><ellipse cx="1252.5" cy="372.0" rx="6.2" ry="2.7" fill="#a9ba98" opacity="0.56" transform="rotate(-17 1252.5 372.0)"/><ellipse cx="1087.5" cy="453.4" rx="3.9" ry="1.9" fill="#5f8a4c" opacity="0.53" transform="rotate(36 1087.5 453.4)"/><ellipse cx="1202.2" cy="348.5" rx="5.7" ry="4.3" fill="#b4c3a6" opacity="0.44" transform="rotate(-44 1202.2 348.5)"/><ellipse cx="1149.9" cy="200.7" rx="2.2" ry="1.5" fill="#8aa07a" opacity="0.55" transform="rotate(-34 1149.9 200.7)"/><ellipse cx="978.4" cy="521.0" rx="7.9" ry="2.7" fill="#748c64" opacity="0.48" transform="rotate(31 978.4 521.0)"/><ellipse cx="1068.7" cy="403.2" rx="6.7" ry="1.8" fill="#77a060" opacity="0.61" transform="rotate(-3 1068.7 403.2)"/><ellipse cx="1079.2" cy="363.5" rx="2.4" ry="0.9" fill="#77a060" opacity="0.55" transform="rotate(-1 1079.2 363.5)"/><ellipse cx="1223.1" cy="329.7" rx="3.5" ry="1.9" fill="#6a9254" opacity="0.33" transform="rotate(-22 1223.1 329.7)"/><ellipse cx="1179.8" cy="366.3" rx="4.4" ry="1.8" fill="#5f8a4c" opacity="0.58" transform="rotate(24 1179.8 366.3)"/><ellipse cx="1067.2" cy="354.0" rx="5.2" ry="3.6" fill="#8aa07a" opacity="0.44" transform="rotate(7 1067.2 354.0)"/><ellipse cx="982.0" cy="394.4" rx="4.2" ry="1.2" fill="#8aa07a" opacity="0.54" transform="rotate(-5 982.0 394.4)"/><ellipse cx="999.4" cy="513.6" rx="6.0" ry="2.4" fill="#6a9254" opacity="0.43" transform="rotate(-45 999.4 513.6)"/><ellipse cx="1252.1" cy="515.7" rx="9.3" ry="3.3" fill="#748c64" opacity="0.55" transform="rotate(-42 1252.1 515.7)"/><ellipse cx="1163.7" cy="457.2" rx="6.3" ry="1.8" fill="#6a9254" opacity="0.56" transform="rotate(46 1163.7 457.2)"/><ellipse cx="1184.8" cy="446.4" rx="6.7" ry="3.0" fill="#9fb28f" opacity="0.61" transform="rotate(-16 1184.8 446.4)"/><ellipse cx="1128.2" cy="342.9" rx="5.1" ry="3.1" fill="#6a9254" opacity="0.45" transform="rotate(43 1128.2 342.9)"/><ellipse cx="1000.0" cy="543.4" rx="4.2" ry="1.9" fill="#77a060" opacity="0.44" transform="rotate(5 1000.0 543.4)"/><ellipse cx="971.6" cy="426.9" rx="4.6" ry="1.8" fill="#b4c3a6" opacity="0.35" transform="rotate(-15 971.6 426.9)"/><ellipse cx="1216.9" cy="422.9" rx="7.0" ry="2.6" fill="#77a060" opacity="0.42" transform="rotate(-15 1216.9 422.9)"/><ellipse cx="1246.5" cy="460.4" rx="6.2" ry="2.5" fill="#748c64" opacity="0.53" transform="rotate(-11 1246.5 460.4)"/><ellipse cx="1071.6" cy="314.3" rx="4.2" ry="2.6" fill="#748c64" opacity="0.33" transform="rotate(-58 1071.6 314.3)"/><ellipse cx="1005.3" cy="523.1" rx="9.1" ry="2.8" fill="#7f9670" opacity="0.38" transform="rotate(58 1005.3 523.1)"/><ellipse cx="1124.3" cy="228.2" rx="1.5" ry="1.3" fill="#8aa07a" opacity="0.44" transform="rotate(-10 1124.3 228.2)"/><ellipse cx="1033.9" cy="436.3" rx="4.9" ry="2.1" fill="#8aa07a" opacity="0.39" transform="rotate(-38 1033.9 436.3)"/><ellipse cx="1230.3" cy="238.2" rx="1.3" ry="1.1" fill="#7f9670" opacity="0.43" transform="rotate(-38 1230.3 238.2)"/><ellipse cx="965.4" cy="498.4" rx="9.1" ry="4.1" fill="#748c64" opacity="0.37" transform="rotate(-36 965.4 498.4)"/><ellipse cx="1196.1" cy="450.2" rx="4.9" ry="1.7" fill="#5f8a4c" opacity="0.56" transform="rotate(-21 1196.1 450.2)"/><ellipse cx="1122.2" cy="429.4" rx="7.5" ry="3.1" fill="#748c64" opacity="0.55" transform="rotate(1 1122.2 429.4)"/><ellipse cx="1202.6" cy="341.1" rx="4.8" ry="3.1" fill="#b4c3a6" opacity="0.37" transform="rotate(-28 1202.6 341.1)"/><ellipse cx="1167.2" cy="441.9" rx="7.8" ry="3.4" fill="#a9ba98" opacity="0.39" transform="rotate(-1 1167.2 441.9)"/><ellipse cx="954.6" cy="337.7" rx="3.0" ry="2.3" fill="#748c64" opacity="0.48" transform="rotate(7 954.6 337.7)"/><ellipse cx="1122.1" cy="286.3" rx="2.9" ry="1.2" fill="#a9ba98" opacity="0.50" transform="rotate(-27 1122.1 286.3)"/><ellipse cx="1090.2" cy="314.4" rx="2.9" ry="1.4" fill="#748c64" opacity="0.57" transform="rotate(-58 1090.2 314.4)"/><ellipse cx="1238.3" cy="329.9" rx="2.1" ry="0.9" fill="#8aa07a" opacity="0.34" transform="rotate(9 1238.3 329.9)"/><ellipse cx="1025.4" cy="404.8" rx="4.4" ry="1.2" fill="#6a9254" opacity="0.47" transform="rotate(-17 1025.4 404.8)"/><ellipse cx="1080.5" cy="476.6" rx="5.7" ry="2.4" fill="#9fb28f" opacity="0.34" transform="rotate(-35 1080.5 476.6)"/><ellipse cx="1046.6" cy="421.3" rx="3.2" ry="1.1" fill="#8aa07a" opacity="0.44" transform="rotate(51 1046.6 421.3)"/><ellipse cx="1256.6" cy="430.4" rx="4.7" ry="2.0" fill="#748c64" opacity="0.43" transform="rotate(-39 1256.6 430.4)"/><ellipse cx="1029.1" cy="374.3" rx="6.2" ry="1.9" fill="#5f8a4c" opacity="0.43" transform="rotate(-49 1029.1 374.3)"/><ellipse cx="1014.5" cy="478.1" rx="4.8" ry="2.0" fill="#a9ba98" opacity="0.59" transform="rotate(18 1014.5 478.1)"/><ellipse cx="1183.1" cy="285.4" rx="3.1" ry="1.7" fill="#5f8a4c" opacity="0.34" transform="rotate(33 1183.1 285.4)"/><ellipse cx="1047.5" cy="190.2" rx="0.8" ry="0.5" fill="#748c64" opacity="0.48" transform="rotate(-55 1047.5 190.2)"/><ellipse cx="1204.2" cy="503.6" rx="7.3" ry="3.6" fill="#6a9254" opacity="0.47" transform="rotate(-8 1204.2 503.6)"/><ellipse cx="1037.5" cy="402.3" rx="5.8" ry="2.7" fill="#a9ba98" opacity="0.30" transform="rotate(-4 1037.5 402.3)"/><ellipse cx="954.3" cy="336.7" rx="2.5" ry="1.0" fill="#6a9254" opacity="0.47" transform="rotate(24 954.3 336.7)"/><ellipse cx="1106.0" cy="194.1" rx="1.8" ry="1.0" fill="#b4c3a6" opacity="0.33" transform="rotate(-24 1106.0 194.1)"/><ellipse cx="1035.4" cy="210.3" rx="1.3" ry="0.5" fill="#77a060" opacity="0.65" transform="rotate(-4 1035.4 210.3)"/><ellipse cx="1180.8" cy="234.5" rx="2.5" ry="1.1" fill="#748c64" opacity="0.48" transform="rotate(-47 1180.8 234.5)"/><ellipse cx="968.5" cy="202.8" rx="1.4" ry="1.1" fill="#748c64" opacity="0.33" transform="rotate(-4 968.5 202.8)"/><ellipse cx="1000.0" cy="183.1" rx="1.2" ry="0.8" fill="#77a060" opacity="0.54" transform="rotate(4 1000.0 183.1)"/><ellipse cx="950.3" cy="295.3" rx="3.8" ry="1.8" fill="#748c64" opacity="0.40" transform="rotate(16 950.3 295.3)"/><ellipse cx="956.1" cy="360.0" rx="3.7" ry="1.6" fill="#5f8a4c" opacity="0.43" transform="rotate(24 956.1 360.0)"/><ellipse cx="1240.6" cy="324.5" rx="3.5" ry="2.2" fill="#7f9670" opacity="0.56" transform="rotate(-17 1240.6 324.5)"/><ellipse cx="1014.1" cy="439.7" rx="4.5" ry="1.3" fill="#7f9670" opacity="0.45" transform="rotate(27 1014.1 439.7)"/><ellipse cx="1159.1" cy="447.0" rx="3.9" ry="1.2" fill="#7f9670" opacity="0.35" transform="rotate(-8 1159.1 447.0)"/><ellipse cx="1065.3" cy="194.3" rx="2.1" ry="1.8" fill="#9fb28f" opacity="0.32" transform="rotate(24 1065.3 194.3)"/><ellipse cx="1142.3" cy="420.3" rx="5.4" ry="2.4" fill="#77a060" opacity="0.32" transform="rotate(57 1142.3 420.3)"/><ellipse cx="1039.1" cy="439.8" rx="5.9" ry="2.0" fill="#7f9670" opacity="0.47" transform="rotate(34 1039.1 439.8)"/><ellipse cx="1247.7" cy="265.3" rx="2.0" ry="1.1" fill="#6a9254" opacity="0.41" transform="rotate(51 1247.7 265.3)"/><ellipse cx="1056.8" cy="361.4" rx="6.2" ry="1.8" fill="#8aa07a" opacity="0.62" transform="rotate(-57 1056.8 361.4)"/><ellipse cx="1176.0" cy="336.2" rx="4.1" ry="3.6" fill="#5f8a4c" opacity="0.62" transform="rotate(5 1176.0 336.2)"/><ellipse cx="1233.9" cy="261.2" rx="2.4" ry="1.4" fill="#5f8a4c" opacity="0.46" transform="rotate(55 1233.9 261.2)"/><ellipse cx="1133.7" cy="539.9" rx="5.8" ry="2.7" fill="#748c64" opacity="0.46" transform="rotate(-24 1133.7 539.9)"/><ellipse cx="1250.9" cy="339.4" rx="3.3" ry="2.2" fill="#8aa07a" opacity="0.35" transform="rotate(-17 1250.9 339.4)"/><ellipse cx="1169.8" cy="296.6" rx="2.9" ry="2.2" fill="#8aa07a" opacity="0.37" transform="rotate(-22 1169.8 296.6)"/><ellipse cx="1165.8" cy="338.7" rx="3.8" ry="2.4" fill="#6a9254" opacity="0.55" transform="rotate(-52 1165.8 338.7)"/><ellipse cx="1168.7" cy="218.9" rx="1.1" ry="0.9" fill="#8aa07a" opacity="0.60" transform="rotate(-11 1168.7 218.9)"/><ellipse cx="1080.4" cy="300.2" rx="4.1" ry="2.6" fill="#7f9670" opacity="0.56" transform="rotate(2 1080.4 300.2)"/><ellipse cx="1099.1" cy="448.8" rx="6.2" ry="2.4" fill="#5f8a4c" opacity="0.53" transform="rotate(27 1099.1 448.8)"/><ellipse cx="1220.3" cy="424.3" rx="6.7" ry="2.5" fill="#8aa07a" opacity="0.40" transform="rotate(31 1220.3 424.3)"/><ellipse cx="1020.8" cy="180.4" rx="1.4" ry="0.8" fill="#6a9254" opacity="0.56" transform="rotate(-39 1020.8 180.4)"/><ellipse cx="1017.2" cy="198.2" rx="1.7" ry="1.1" fill="#748c64" opacity="0.56" transform="rotate(23 1017.2 198.2)"/><ellipse cx="1078.2" cy="240.7" rx="1.7" ry="1.0" fill="#7f9670" opacity="0.35" transform="rotate(57 1078.2 240.7)"/><ellipse cx="1232.7" cy="376.3" rx="5.3" ry="1.5" fill="#748c64" opacity="0.60" transform="rotate(44 1232.7 376.3)"/><ellipse cx="1151.1" cy="379.2" rx="5.5" ry="2.8" fill="#7f9670" opacity="0.62" transform="rotate(-19 1151.1 379.2)"/><ellipse cx="1021.1" cy="243.3" rx="2.3" ry="1.1" fill="#9fb28f" opacity="0.54" transform="rotate(-8 1021.1 243.3)"/><ellipse cx="1252.8" cy="251.5" rx="2.3" ry="1.4" fill="#7f9670" opacity="0.31" transform="rotate(44 1252.8 251.5)"/><ellipse cx="1037.1" cy="308.7" rx="4.8" ry="2.8" fill="#7f9670" opacity="0.32" transform="rotate(36 1037.1 308.7)"/><ellipse cx="1030.8" cy="430.2" rx="5.1" ry="2.1" fill="#a9ba98" opacity="0.35" transform="rotate(5 1030.8 430.2)"/><ellipse cx="1167.2" cy="309.7" rx="2.6" ry="1.8" fill="#7f9670" opacity="0.52" transform="rotate(-40 1167.2 309.7)"/><ellipse cx="998.3" cy="417.3" rx="5.5" ry="2.3" fill="#9fb28f" opacity="0.35" transform="rotate(-16 998.3 417.3)"/><ellipse cx="1059.8" cy="381.9" rx="3.7" ry="1.0" fill="#8aa07a" opacity="0.53" transform="rotate(40 1059.8 381.9)"/><ellipse cx="1021.8" cy="301.0" rx="4.3" ry="2.7" fill="#a9ba98" opacity="0.62" transform="rotate(24 1021.8 301.0)"/><ellipse cx="1076.6" cy="482.0" rx="6.0" ry="2.9" fill="#7f9670" opacity="0.40" transform="rotate(40 1076.6 482.0)"/><ellipse cx="988.9" cy="515.4" rx="6.5" ry="2.5" fill="#7f9670" opacity="0.48" transform="rotate(27 988.9 515.4)"/><ellipse cx="1075.0" cy="210.8" rx="2.2" ry="1.2" fill="#b4c3a6" opacity="0.61" transform="rotate(-10 1075.0 210.8)"/><ellipse cx="1123.1" cy="220.6" rx="1.6" ry="0.7" fill="#748c64" opacity="0.44" transform="rotate(-5 1123.1 220.6)"/><ellipse cx="1074.7" cy="413.8" rx="3.3" ry="0.8" fill="#8aa07a" opacity="0.63" transform="rotate(22 1074.7 413.8)"/><ellipse cx="1168.6" cy="207.1" rx="2.5" ry="1.4" fill="#5f8a4c" opacity="0.49" transform="rotate(11 1168.6 207.1)"/><ellipse cx="1221.2" cy="405.2" rx="5.6" ry="2.2" fill="#9fb28f" opacity="0.63" transform="rotate(39 1221.2 405.2)"/><ellipse cx="1080.6" cy="377.2" rx="3.2" ry="1.2" fill="#8aa07a" opacity="0.61" transform="rotate(53 1080.6 377.2)"/><ellipse cx="950.8" cy="310.8" rx="3.2" ry="2.2" fill="#7f9670" opacity="0.48" transform="rotate(-8 950.8 310.8)"/><ellipse cx="1158.0" cy="400.9" rx="3.6" ry="1.1" fill="#748c64" opacity="0.57" transform="rotate(55 1158.0 400.9)"/><ellipse cx="991.3" cy="193.1" rx="1.6" ry="1.2" fill="#7f9670" opacity="0.55" transform="rotate(-19 991.3 193.1)"/><ellipse cx="1146.4" cy="465.5" rx="6.6" ry="2.6" fill="#748c64" opacity="0.54" transform="rotate(-26 1146.4 465.5)"/><ellipse cx="1024.7" cy="512.2" rx="5.7" ry="2.3" fill="#748c64" opacity="0.31" transform="rotate(-49 1024.7 512.2)"/><ellipse cx="1173.7" cy="369.3" rx="2.7" ry="1.3" fill="#b4c3a6" opacity="0.59" transform="rotate(-50 1173.7 369.3)"/><ellipse cx="1078.0" cy="255.2" rx="3.3" ry="1.8" fill="#6a9254" opacity="0.62" transform="rotate(-59 1078.0 255.2)"/><ellipse cx="1156.2" cy="511.8" rx="6.6" ry="3.1" fill="#7f9670" opacity="0.63" transform="rotate(-27 1156.2 511.8)"/><ellipse cx="1231.3" cy="459.8" rx="4.5" ry="2.2" fill="#748c64" opacity="0.42" transform="rotate(-19 1231.3 459.8)"/><ellipse cx="1060.8" cy="272.8" rx="3.1" ry="1.6" fill="#a9ba98" opacity="0.50" transform="rotate(-24 1060.8 272.8)"/><ellipse cx="981.8" cy="172.5" rx="1.5" ry="1.3" fill="#77a060" opacity="0.50" transform="rotate(45 981.8 172.5)"/><ellipse cx="1155.9" cy="366.3" rx="3.6" ry="1.1" fill="#748c64" opacity="0.34" transform="rotate(-28 1155.9 366.3)"/><ellipse cx="1123.1" cy="243.6" rx="1.9" ry="1.0" fill="#77a060" opacity="0.49" transform="rotate(37 1123.1 243.6)"/><ellipse cx="1221.8" cy="400.9" rx="3.6" ry="1.4" fill="#b4c3a6" opacity="0.52" transform="rotate(-34 1221.8 400.9)"/><ellipse cx="1248.4" cy="484.8" rx="8.2" ry="2.5" fill="#77a060" opacity="0.33" transform="rotate(31 1248.4 484.8)"/><ellipse cx="1158.0" cy="203.4" rx="1.4" ry="1.2" fill="#b4c3a6" opacity="0.42" transform="rotate(56 1158.0 203.4)"/><ellipse cx="1163.3" cy="467.9" rx="7.6" ry="3.1" fill="#77a060" opacity="0.41" transform="rotate(54 1163.3 467.9)"/><ellipse cx="1121.3" cy="534.7" rx="6.2" ry="1.9" fill="#748c64" opacity="0.45" transform="rotate(-52 1121.3 534.7)"/><ellipse cx="1060.7" cy="329.5" rx="3.9" ry="1.7" fill="#b4c3a6" opacity="0.40" transform="rotate(-24 1060.7 329.5)"/><ellipse cx="1075.0" cy="310.7" rx="4.9" ry="3.3" fill="#8aa07a" opacity="0.30" transform="rotate(-2 1075.0 310.7)"/><ellipse cx="1148.3" cy="418.2" rx="5.8" ry="1.9" fill="#7f9670" opacity="0.33" transform="rotate(-55 1148.3 418.2)"/><ellipse cx="1123.8" cy="327.0" rx="2.5" ry="1.9" fill="#748c64" opacity="0.31" transform="rotate(54 1123.8 327.0)"/><ellipse cx="1138.9" cy="285.8" rx="4.1" ry="3.2" fill="#b4c3a6" opacity="0.43" transform="rotate(-33 1138.9 285.8)"/><ellipse cx="1252.6" cy="184.6" rx="0.9" ry="0.5" fill="#6a9254" opacity="0.60" transform="rotate(-23 1252.6 184.6)"/><ellipse cx="1162.0" cy="290.4" rx="2.4" ry="1.6" fill="#7f9670" opacity="0.38" transform="rotate(-59 1162.0 290.4)"/><ellipse cx="1138.5" cy="272.4" rx="3.8" ry="1.7" fill="#9fb28f" opacity="0.44" transform="rotate(7 1138.5 272.4)"/><ellipse cx="1170.7" cy="233.7" rx="2.8" ry="1.9" fill="#5f8a4c" opacity="0.59" transform="rotate(-60 1170.7 233.7)"/><ellipse cx="1074.0" cy="279.2" rx="3.2" ry="2.5" fill="#8aa07a" opacity="0.38" transform="rotate(-49 1074.0 279.2)"/><ellipse cx="1143.7" cy="265.7" rx="2.8" ry="1.2" fill="#8aa07a" opacity="0.47" transform="rotate(-1 1143.7 265.7)"/><ellipse cx="1132.1" cy="419.5" rx="7.7" ry="2.5" fill="#7f9670" opacity="0.49" transform="rotate(-39 1132.1 419.5)"/><ellipse cx="1078.0" cy="327.1" rx="3.5" ry="1.9" fill="#748c64" opacity="0.33" transform="rotate(59 1078.0 327.1)"/><ellipse cx="1184.2" cy="465.9" rx="7.6" ry="2.7" fill="#7f9670" opacity="0.54" transform="rotate(11 1184.2 465.9)"/><ellipse cx="958.8" cy="397.7" rx="3.0" ry="1.3" fill="#5f8a4c" opacity="0.50" transform="rotate(-19 958.8 397.7)"/><ellipse cx="1160.6" cy="368.2" rx="4.8" ry="2.1" fill="#7f9670" opacity="0.55" transform="rotate(-12 1160.6 368.2)"/><ellipse cx="1066.6" cy="502.9" rx="3.9" ry="1.4" fill="#5f8a4c" opacity="0.38" transform="rotate(38 1066.6 502.9)"/><ellipse cx="1052.1" cy="504.3" rx="4.0" ry="1.6" fill="#7f9670" opacity="0.31" transform="rotate(52 1052.1 504.3)"/><ellipse cx="1212.9" cy="440.1" rx="7.6" ry="3.2" fill="#b4c3a6" opacity="0.38" transform="rotate(14 1212.9 440.1)"/><ellipse cx="994.7" cy="304.1" rx="2.9" ry="2.1" fill="#9fb28f" opacity="0.61" transform="rotate(-43 994.7 304.1)"/><ellipse cx="1017.7" cy="406.6" rx="6.9" ry="2.1" fill="#77a060" opacity="0.60" transform="rotate(-13 1017.7 406.6)"/><ellipse cx="1081.5" cy="525.5" rx="9.6" ry="4.6" fill="#748c64" opacity="0.53" transform="rotate(-8 1081.5 525.5)"/><ellipse cx="1193.7" cy="514.7" rx="5.6" ry="2.5" fill="#7f9670" opacity="0.38" transform="rotate(-52 1193.7 514.7)"/><ellipse cx="1036.7" cy="414.2" rx="5.3" ry="1.9" fill="#9fb28f" opacity="0.54" transform="rotate(2 1036.7 414.2)"/><ellipse cx="1020.5" cy="219.6" rx="1.7" ry="1.0" fill="#7f9670" opacity="0.36" transform="rotate(-9 1020.5 219.6)"/><ellipse cx="967.1" cy="389.5" rx="3.4" ry="1.1" fill="#a9ba98" opacity="0.58" transform="rotate(-2 967.1 389.5)"/><ellipse cx="948.4" cy="391.8" rx="3.7" ry="1.1" fill="#8aa07a" opacity="0.40" transform="rotate(49 948.4 391.8)"/><ellipse cx="956.8" cy="254.5" rx="2.3" ry="1.3" fill="#7f9670" opacity="0.59" transform="rotate(23 956.8 254.5)"/><ellipse cx="1246.5" cy="473.4" rx="3.7" ry="1.0" fill="#748c64" opacity="0.56" transform="rotate(10 1246.5 473.4)"/><ellipse cx="1173.3" cy="205.3" rx="1.4" ry="0.8" fill="#9fb28f" opacity="0.52" transform="rotate(-24 1173.3 205.3)"/><ellipse cx="1002.8" cy="448.4" rx="7.4" ry="2.7" fill="#748c64" opacity="0.40" transform="rotate(2 1002.8 448.4)"/><ellipse cx="1252.8" cy="336.7" rx="5.2" ry="2.4" fill="#748c64" opacity="0.59" transform="rotate(56 1252.8 336.7)"/><ellipse cx="1102.5" cy="428.0" rx="5.0" ry="1.7" fill="#7f9670" opacity="0.56" transform="rotate(-27 1102.5 428.0)"/><ellipse cx="1188.5" cy="188.8" rx="1.3" ry="0.8" fill="#b4c3a6" opacity="0.63" transform="rotate(-58 1188.5 188.8)"/><ellipse cx="1042.7" cy="207.3" rx="2.3" ry="1.3" fill="#a9ba98" opacity="0.54" transform="rotate(10 1042.7 207.3)"/><ellipse cx="1105.8" cy="532.6" rx="6.3" ry="2.2" fill="#8aa07a" opacity="0.34" transform="rotate(-48 1105.8 532.6)"/><ellipse cx="1230.6" cy="484.1" rx="7.3" ry="2.6" fill="#7f9670" opacity="0.57" transform="rotate(44 1230.6 484.1)"/><ellipse cx="1126.9" cy="415.3" rx="5.1" ry="1.8" fill="#a9ba98" opacity="0.34" transform="rotate(-6 1126.9 415.3)"/><ellipse cx="1065.2" cy="540.6" rx="6.8" ry="2.1" fill="#8aa07a" opacity="0.61" transform="rotate(21 1065.2 540.6)"/><ellipse cx="1013.5" cy="344.4" rx="4.1" ry="3.7" fill="#9fb28f" opacity="0.51" transform="rotate(-19 1013.5 344.4)"/><ellipse cx="1189.2" cy="420.4" rx="4.9" ry="1.6" fill="#a9ba98" opacity="0.62" transform="rotate(16 1189.2 420.4)"/><ellipse cx="1072.2" cy="392.8" rx="4.6" ry="1.6" fill="#748c64" opacity="0.42" transform="rotate(27 1072.2 392.8)"/><ellipse cx="1081.3" cy="352.7" rx="4.4" ry="2.0" fill="#8aa07a" opacity="0.50" transform="rotate(-51 1081.3 352.7)"/><ellipse cx="1105.4" cy="421.4" rx="7.7" ry="3.3" fill="#7f9670" opacity="0.38" transform="rotate(56 1105.4 421.4)"/><ellipse cx="1057.6" cy="373.1" rx="4.4" ry="1.4" fill="#b4c3a6" opacity="0.60" transform="rotate(8 1057.6 373.1)"/><ellipse cx="986.0" cy="343.5" rx="4.9" ry="3.2" fill="#77a060" opacity="0.62" transform="rotate(-29 986.0 343.5)"/><ellipse cx="1197.7" cy="212.9" rx="1.2" ry="0.9" fill="#9fb28f" opacity="0.40" transform="rotate(1 1197.7 212.9)"/><ellipse cx="1039.7" cy="208.6" rx="1.3" ry="1.0" fill="#5f8a4c" opacity="0.38" transform="rotate(25 1039.7 208.6)"/><ellipse cx="1089.7" cy="315.8" rx="3.0" ry="1.5" fill="#b4c3a6" opacity="0.63" transform="rotate(-24 1089.7 315.8)"/><ellipse cx="1142.4" cy="282.0" rx="1.8" ry="1.5" fill="#748c64" opacity="0.63" transform="rotate(41 1142.4 282.0)"/><ellipse cx="1204.1" cy="294.9" rx="3.6" ry="1.5" fill="#748c64" opacity="0.35" transform="rotate(21 1204.1 294.9)"/><ellipse cx="963.9" cy="474.9" rx="3.8" ry="1.7" fill="#748c64" opacity="0.30" transform="rotate(-49 963.9 474.9)"/><ellipse cx="1082.6" cy="358.3" rx="2.7" ry="1.0" fill="#6a9254" opacity="0.32" transform="rotate(56 1082.6 358.3)"/><ellipse cx="1169.6" cy="323.5" rx="2.8" ry="2.5" fill="#b4c3a6" opacity="0.46" transform="rotate(46 1169.6 323.5)"/><ellipse cx="1065.1" cy="473.9" rx="7.2" ry="2.5" fill="#b4c3a6" opacity="0.55" transform="rotate(58 1065.1 473.9)"/><ellipse cx="1151.8" cy="358.7" rx="3.5" ry="1.1" fill="#b4c3a6" opacity="0.50" transform="rotate(-25 1151.8 358.7)"/><ellipse cx="1045.9" cy="476.7" rx="4.7" ry="2.2" fill="#6a9254" opacity="0.58" transform="rotate(-14 1045.9 476.7)"/><ellipse cx="1106.4" cy="269.4" rx="1.6" ry="1.3" fill="#a9ba98" opacity="0.60" transform="rotate(57 1106.4 269.4)"/><ellipse cx="1116.4" cy="341.8" rx="3.5" ry="1.9" fill="#7f9670" opacity="0.48" transform="rotate(-14 1116.4 341.8)"/><ellipse cx="1084.5" cy="218.8" rx="2.3" ry="1.0" fill="#6a9254" opacity="0.46" transform="rotate(-59 1084.5 218.8)"/><ellipse cx="1228.2" cy="208.6" rx="1.1" ry="0.7" fill="#7f9670" opacity="0.51" transform="rotate(26 1228.2 208.6)"/><ellipse cx="1197.1" cy="299.1" rx="3.6" ry="2.2" fill="#9fb28f" opacity="0.64" transform="rotate(-22 1197.1 299.1)"/><ellipse cx="1128.4" cy="435.0" rx="6.7" ry="1.8" fill="#7f9670" opacity="0.32" transform="rotate(49 1128.4 435.0)"/><ellipse cx="1053.8" cy="208.4" rx="2.0" ry="0.9" fill="#5f8a4c" opacity="0.51" transform="rotate(8 1053.8 208.4)"/><ellipse cx="964.7" cy="497.5" rx="5.9" ry="2.4" fill="#8aa07a" opacity="0.54" transform="rotate(20 964.7 497.5)"/><ellipse cx="1123.9" cy="232.6" rx="2.7" ry="2.1" fill="#9fb28f" opacity="0.35" transform="rotate(27 1123.9 232.6)"/><ellipse cx="1196.5" cy="256.6" rx="1.6" ry="1.4" fill="#6a9254" opacity="0.35" transform="rotate(-19 1196.5 256.6)"/><ellipse cx="1040.1" cy="416.3" rx="3.5" ry="1.3" fill="#7f9670" opacity="0.54" transform="rotate(-43 1040.1 416.3)"/><ellipse cx="1168.9" cy="489.5" rx="5.0" ry="1.9" fill="#8aa07a" opacity="0.38" transform="rotate(28 1168.9 489.5)"/><ellipse cx="1130.7" cy="258.9" rx="2.1" ry="1.0" fill="#7f9670" opacity="0.34" transform="rotate(-55 1130.7 258.9)"/><ellipse cx="1127.4" cy="495.8" rx="7.1" ry="3.4" fill="#7f9670" opacity="0.43" transform="rotate(23 1127.4 495.8)"/><ellipse cx="1226.1" cy="199.7" rx="1.3" ry="1.1" fill="#9fb28f" opacity="0.54" transform="rotate(55 1226.1 199.7)"/><ellipse cx="1113.5" cy="281.1" rx="4.2" ry="3.6" fill="#8aa07a" opacity="0.62" transform="rotate(-44 1113.5 281.1)"/><ellipse cx="1132.1" cy="446.8" rx="7.8" ry="2.7" fill="#748c64" opacity="0.39" transform="rotate(42 1132.1 446.8)"/><ellipse cx="1097.7" cy="413.9" rx="3.0" ry="0.9" fill="#7f9670" opacity="0.44" transform="rotate(-58 1097.7 413.9)"/><ellipse cx="1080.7" cy="263.9" rx="3.8" ry="3.2" fill="#8aa07a" opacity="0.65" transform="rotate(-60 1080.7 263.9)"/><ellipse cx="991.5" cy="299.6" rx="2.3" ry="1.2" fill="#7f9670" opacity="0.42" transform="rotate(-34 991.5 299.6)"/><ellipse cx="1102.6" cy="342.8" rx="4.5" ry="2.2" fill="#8aa07a" opacity="0.34" transform="rotate(-17 1102.6 342.8)"/><ellipse cx="971.3" cy="360.5" rx="4.3" ry="1.6" fill="#7f9670" opacity="0.51" transform="rotate(-50 971.3 360.5)"/><ellipse cx="1041.3" cy="515.1" rx="6.4" ry="2.7" fill="#7f9670" opacity="0.35" transform="rotate(37 1041.3 515.1)"/><ellipse cx="1126.8" cy="339.6" rx="3.4" ry="2.7" fill="#7f9670" opacity="0.33" transform="rotate(20 1126.8 339.6)"/><ellipse cx="1045.3" cy="503.8" rx="8.3" ry="2.2" fill="#8aa07a" opacity="0.33" transform="rotate(54 1045.3 503.8)"/><ellipse cx="1241.9" cy="276.2" rx="2.6" ry="1.2" fill="#6a9254" opacity="0.63" transform="rotate(29 1241.9 276.2)"/><ellipse cx="989.2" cy="473.1" rx="4.9" ry="1.4" fill="#748c64" opacity="0.42" transform="rotate(19 989.2 473.1)"/><ellipse cx="1099.4" cy="213.4" rx="1.5" ry="0.9" fill="#748c64" opacity="0.34" transform="rotate(-40 1099.4 213.4)"/><ellipse cx="954.6" cy="402.9" rx="2.9" ry="1.2" fill="#6a9254" opacity="0.56" transform="rotate(-55 954.6 402.9)"/><ellipse cx="1168.7" cy="180.9" rx="1.7" ry="1.0" fill="#b4c3a6" opacity="0.38" transform="rotate(-15 1168.7 180.9)"/><ellipse cx="970.7" cy="271.0" rx="3.2" ry="2.0" fill="#7f9670" opacity="0.44" transform="rotate(-37 970.7 271.0)"/><ellipse cx="988.6" cy="326.9" rx="5.0" ry="2.1" fill="#8aa07a" opacity="0.46" transform="rotate(47 988.6 326.9)"/><ellipse cx="1172.7" cy="387.5" rx="3.8" ry="1.7" fill="#6a9254" opacity="0.60" transform="rotate(8 1172.7 387.5)"/><ellipse cx="1168.5" cy="362.8" rx="4.8" ry="1.7" fill="#a9ba98" opacity="0.56" transform="rotate(42 1168.5 362.8)"/><ellipse cx="1067.1" cy="278.8" rx="3.1" ry="2.8" fill="#b4c3a6" opacity="0.53" transform="rotate(50 1067.1 278.8)"/><ellipse cx="1152.0" cy="283.9" rx="4.1" ry="3.4" fill="#748c64" opacity="0.60" transform="rotate(35 1152.0 283.9)"/><ellipse cx="1047.6" cy="456.1" rx="4.7" ry="2.2" fill="#7f9670" opacity="0.38" transform="rotate(-38 1047.6 456.1)"/><ellipse cx="1006.2" cy="457.6" rx="5.1" ry="1.6" fill="#9fb28f" opacity="0.61" transform="rotate(-8 1006.2 457.6)"/><ellipse cx="1228.2" cy="258.4" rx="3.6" ry="3.1" fill="#7f9670" opacity="0.38" transform="rotate(8 1228.2 258.4)"/><ellipse cx="1216.5" cy="276.6" rx="3.3" ry="2.2" fill="#748c64" opacity="0.37" transform="rotate(47 1216.5 276.6)"/><ellipse cx="1053.9" cy="419.6" rx="3.3" ry="1.6" fill="#a9ba98" opacity="0.40" transform="rotate(-44 1053.9 419.6)"/><ellipse cx="996.2" cy="380.5" rx="3.6" ry="1.5" fill="#7f9670" opacity="0.53" transform="rotate(-43 996.2 380.5)"/><ellipse cx="1232.9" cy="481.1" rx="6.6" ry="1.7" fill="#b4c3a6" opacity="0.56" transform="rotate(7 1232.9 481.1)"/><ellipse cx="1252.8" cy="513.4" rx="8.3" ry="3.9" fill="#8aa07a" opacity="0.31" transform="rotate(37 1252.8 513.4)"/><ellipse cx="1010.7" cy="456.9" rx="8.4" ry="2.8" fill="#9fb28f" opacity="0.49" transform="rotate(58 1010.7 456.9)"/><ellipse cx="957.5" cy="511.5" rx="8.2" ry="2.3" fill="#7f9670" opacity="0.53" transform="rotate(42 957.5 511.5)"/><ellipse cx="1191.8" cy="374.6" rx="2.8" ry="0.9" fill="#7f9670" opacity="0.37" transform="rotate(35 1191.8 374.6)"/><ellipse cx="1237.7" cy="296.0" rx="2.8" ry="2.0" fill="#9fb28f" opacity="0.35" transform="rotate(34 1237.7 296.0)"/><ellipse cx="977.7" cy="397.6" rx="6.6" ry="2.7" fill="#5f8a4c" opacity="0.57" transform="rotate(26 977.7 397.6)"/><ellipse cx="1018.0" cy="473.3" rx="6.2" ry="2.6" fill="#748c64" opacity="0.62" transform="rotate(-20 1018.0 473.3)"/><ellipse cx="1039.1" cy="335.9" rx="2.2" ry="1.5" fill="#7f9670" opacity="0.57" transform="rotate(-43 1039.1 335.9)"/><ellipse cx="982.2" cy="215.8" rx="2.3" ry="1.0" fill="#77a060" opacity="0.59" transform="rotate(11 982.2 215.8)"/><ellipse cx="995.4" cy="370.2" rx="3.4" ry="1.7" fill="#b4c3a6" opacity="0.50" transform="rotate(-8 995.4 370.2)"/><ellipse cx="1200.1" cy="286.5" rx="3.4" ry="1.9" fill="#6a9254" opacity="0.37" transform="rotate(-52 1200.1 286.5)"/><ellipse cx="1008.7" cy="254.2" rx="1.4" ry="0.6" fill="#5f8a4c" opacity="0.33" transform="rotate(-57 1008.7 254.2)"/><ellipse cx="1061.9" cy="491.8" rx="5.7" ry="1.9" fill="#8aa07a" opacity="0.31" transform="rotate(59 1061.9 491.8)"/><ellipse cx="1239.8" cy="263.8" rx="1.9" ry="1.4" fill="#a9ba98" opacity="0.47" transform="rotate(0 1239.8 263.8)"/><ellipse cx="981.6" cy="270.4" rx="2.6" ry="2.1" fill="#9fb28f" opacity="0.49" transform="rotate(48 981.6 270.4)"/><ellipse cx="959.0" cy="444.8" rx="4.7" ry="1.8" fill="#8aa07a" opacity="0.48" transform="rotate(-22 959.0 444.8)"/><ellipse cx="1209.2" cy="395.8" rx="3.7" ry="1.2" fill="#8aa07a" opacity="0.36" transform="rotate(-49 1209.2 395.8)"/><ellipse cx="1118.2" cy="536.3" rx="9.3" ry="2.6" fill="#7f9670" opacity="0.53" transform="rotate(3 1118.2 536.3)"/><ellipse cx="1248.7" cy="227.2" rx="2.6" ry="1.1" fill="#5f8a4c" opacity="0.59" transform="rotate(-9 1248.7 227.2)"/><ellipse cx="1094.1" cy="247.5" rx="2.0" ry="1.1" fill="#8aa07a" opacity="0.38" transform="rotate(28 1094.1 247.5)"/><ellipse cx="1243.4" cy="217.8" rx="1.3" ry="0.6" fill="#a9ba98" opacity="0.38" transform="rotate(-58 1243.4 217.8)"/><ellipse cx="1225.3" cy="294.5" rx="3.8" ry="3.4" fill="#7f9670" opacity="0.60" transform="rotate(-58 1225.3 294.5)"/><ellipse cx="1069.7" cy="266.6" rx="3.2" ry="2.4" fill="#6a9254" opacity="0.40" transform="rotate(-30 1069.7 266.6)"/><ellipse cx="1047.9" cy="217.6" rx="1.2" ry="1.1" fill="#8aa07a" opacity="0.36" transform="rotate(-16 1047.9 217.6)"/><ellipse cx="1009.6" cy="281.8" rx="4.1" ry="3.1" fill="#b4c3a6" opacity="0.49" transform="rotate(-26 1009.6 281.8)"/><ellipse cx="1168.1" cy="385.2" rx="3.6" ry="1.7" fill="#8aa07a" opacity="0.62" transform="rotate(46 1168.1 385.2)"/><ellipse cx="1240.4" cy="376.1" rx="2.7" ry="0.8" fill="#748c64" opacity="0.48" transform="rotate(50 1240.4 376.1)"/><ellipse cx="1087.9" cy="370.7" rx="3.5" ry="0.9" fill="#77a060" opacity="0.46" transform="rotate(26 1087.9 370.7)"/><ellipse cx="947.7" cy="173.4" rx="1.1" ry="0.5" fill="#8aa07a" opacity="0.44" transform="rotate(43 947.7 173.4)"/><ellipse cx="1211.9" cy="229.8" rx="2.0" ry="1.6" fill="#8aa07a" opacity="0.35" transform="rotate(28 1211.9 229.8)"/><ellipse cx="1237.3" cy="386.7" rx="3.0" ry="1.0" fill="#9fb28f" opacity="0.64" transform="rotate(-24 1237.3 386.7)"/><ellipse cx="1205.2" cy="501.5" rx="9.0" ry="2.8" fill="#7f9670" opacity="0.35" transform="rotate(-29 1205.2 501.5)"/><ellipse cx="1117.1" cy="326.3" rx="4.8" ry="4.2" fill="#77a060" opacity="0.48" transform="rotate(-54 1117.1 326.3)"/><ellipse cx="1227.4" cy="351.6" rx="4.7" ry="4.1" fill="#77a060" opacity="0.51" transform="rotate(59 1227.4 351.6)"/></g>
<g opacity="0.5" stroke-linecap="round" filter="url(#b05)"><path d="M1058.6,423.7L1051.1,411.1" stroke="#667a58" stroke-width="0.9"/><path d="M984.8,345.8L986.5,336.7" stroke="#a8b99a" stroke-width="0.8"/><path d="M1187.6,353.2L1195.2,344.4" stroke="#34402f" stroke-width="0.9"/><path d="M1092.9,201.1L1090.3,200.0" stroke="#34402f" stroke-width="0.4"/><path d="M1201.2,491.2L1219.5,483.5" stroke="#6d8060" stroke-width="1.0"/><path d="M1160.7,523.3L1148.1,516.9" stroke="#9cb08c" stroke-width="0.9"/><path d="M1068.2,249.5L1071.1,245.8" stroke="#b7c6a8" stroke-width="0.5"/><path d="M1001.9,251.0L1006.9,248.0" stroke="#4a5840" stroke-width="0.5"/><path d="M1019.7,406.4L1006.2,400.1" stroke="#34402f" stroke-width="0.9"/><path d="M1075.6,272.2L1071.5,270.1" stroke="#55654a" stroke-width="0.6"/><path d="M1094.6,192.9L1095.5,189.8" stroke="#34402f" stroke-width="0.4"/><path d="M1108.6,391.3L1102.1,384.7" stroke="#34402f" stroke-width="0.9"/><path d="M1137.1,212.5L1137.2,209.3" stroke="#667a58" stroke-width="0.5"/><path d="M1011.2,338.4L1013.8,333.4" stroke="#3f4b37" stroke-width="0.7"/><path d="M1131.8,247.5L1129.2,244.1" stroke="#7a8e6a" stroke-width="0.5"/><path d="M1221.7,257.5L1222.7,253.1" stroke="#839773" stroke-width="0.6"/><path d="M1076.0,207.5L1077.5,203.7" stroke="#839773" stroke-width="0.5"/><path d="M1233.0,182.9L1235.0,181.4" stroke="#34402f" stroke-width="0.4"/><path d="M1000.9,274.9L1005.7,273.1" stroke="#34402f" stroke-width="0.7"/><path d="M1003.0,335.7L1003.8,327.4" stroke="#7a8e6a" stroke-width="0.8"/><path d="M1217.1,398.8L1217.2,390.6" stroke="#667a58" stroke-width="1.0"/><path d="M1083.1,469.8L1090.3,455.6" stroke="#34402f" stroke-width="1.0"/><path d="M1059.6,535.1L1062.0,516.6" stroke="#34402f" stroke-width="1.3"/><path d="M1009.0,312.5L1009.6,306.2" stroke="#9cb08c" stroke-width="0.6"/><path d="M1052.3,458.0L1054.1,449.6" stroke="#55654a" stroke-width="1.0"/><path d="M1039.5,499.6L1047.1,483.5" stroke="#7a8e6a" stroke-width="1.0"/><path d="M1253.4,282.9L1252.9,278.7" stroke="#9cb08c" stroke-width="0.6"/><path d="M1004.0,211.2L1005.8,208.2" stroke="#7a8e6a" stroke-width="0.5"/><path d="M1207.1,537.3L1186.6,527.7" stroke="#9cb08c" stroke-width="1.3"/><path d="M1208.8,421.1L1203.9,405.1" stroke="#55654a" stroke-width="1.1"/><path d="M1149.0,180.5L1149.8,178.0" stroke="#3f4b37" stroke-width="0.4"/><path d="M1076.7,242.6L1078.8,237.8" stroke="#839773" stroke-width="0.5"/><path d="M1121.7,446.8L1122.7,433.7" stroke="#55654a" stroke-width="1.1"/><path d="M981.7,263.5L982.5,256.3" stroke="#3f4b37" stroke-width="0.6"/><path d="M1234.2,287.7L1239.3,280.6" stroke="#a8b99a" stroke-width="0.6"/><path d="M1040.1,365.8L1035.6,355.0" stroke="#8e9486" stroke-width="0.9"/><path d="M996.9,391.7L989.5,387.0" stroke="#a8b99a" stroke-width="0.7"/><path d="M1005.7,515.5L990.4,500.4" stroke="#b7c6a8" stroke-width="1.2"/><path d="M1253.4,435.1L1257.0,428.3" stroke="#3f4b37" stroke-width="1.0"/><path d="M990.9,483.8L992.7,470.0" stroke="#34402f" stroke-width="1.1"/><path d="M1050.2,363.0L1048.2,356.3" stroke="#667a58" stroke-width="0.7"/><path d="M967.5,304.5L962.0,299.4" stroke="#b7c6a8" stroke-width="0.6"/><path d="M1048.3,453.0L1058.4,437.6" stroke="#6d8060" stroke-width="0.8"/><path d="M1210.5,414.1L1204.9,408.0" stroke="#3f4b37" stroke-width="0.9"/><path d="M953.0,536.4L942.9,525.0" stroke="#839773" stroke-width="1.0"/><path d="M1006.5,299.2L1014.7,295.7" stroke="#4a5840" stroke-width="0.7"/><path d="M976.5,359.8L967.0,353.0" stroke="#34402f" stroke-width="0.7"/><path d="M1237.6,415.0L1239.6,404.4" stroke="#55654a" stroke-width="0.9"/><path d="M1065.7,265.3L1062.4,259.6" stroke="#3f4b37" stroke-width="0.6"/><path d="M1004.0,325.0L1010.1,322.8" stroke="#4a5840" stroke-width="0.7"/><path d="M1036.7,354.8L1035.3,346.3" stroke="#9cb08c" stroke-width="0.9"/><path d="M1061.3,483.6L1074.6,475.7" stroke="#839773" stroke-width="1.0"/><path d="M1211.0,406.3L1204.7,400.6" stroke="#6d8060" stroke-width="1.0"/><path d="M1046.1,194.7L1043.8,193.1" stroke="#55654a" stroke-width="0.5"/><path d="M949.5,434.1L953.5,422.5" stroke="#7a8e6a" stroke-width="1.1"/><path d="M1015.0,416.9L1023.5,405.0" stroke="#a8b99a" stroke-width="0.9"/><path d="M1011.4,470.0L1023.7,460.2" stroke="#a8b99a" stroke-width="1.0"/><path d="M956.3,180.5L954.7,178.5" stroke="#55654a" stroke-width="0.4"/><path d="M1089.5,274.3L1090.6,269.4" stroke="#667a58" stroke-width="0.6"/><path d="M1178.8,363.5L1172.2,355.5" stroke="#4a5840" stroke-width="0.8"/><path d="M1127.6,292.7L1122.8,286.0" stroke="#839773" stroke-width="0.6"/><path d="M1043.6,503.0L1034.8,485.0" stroke="#55654a" stroke-width="1.2"/><path d="M1194.7,518.9L1195.1,496.6" stroke="#3f4b37" stroke-width="1.2"/><path d="M1057.0,307.7L1060.6,304.5" stroke="#4a5840" stroke-width="0.7"/><path d="M1026.0,455.2L1014.7,451.0" stroke="#55654a" stroke-width="1.0"/><path d="M1007.8,187.7L1007.1,185.1" stroke="#4a5840" stroke-width="0.4"/><path d="M1155.0,508.9L1144.1,493.0" stroke="#34402f" stroke-width="1.0"/><path d="M1088.4,319.5L1092.6,310.0" stroke="#839773" stroke-width="0.7"/><path d="M1043.6,508.8L1042.4,496.5" stroke="#8e9486" stroke-width="1.0"/><path d="M1013.7,257.7L1015.3,251.3" stroke="#34402f" stroke-width="0.6"/><path d="M1164.9,453.7L1156.0,440.3" stroke="#4a5840" stroke-width="1.1"/><path d="M1028.0,385.6L1029.1,377.7" stroke="#b7c6a8" stroke-width="0.8"/><path d="M967.4,230.6L968.4,225.8" stroke="#4a5840" stroke-width="0.5"/><path d="M1172.2,224.7L1169.9,222.1" stroke="#9cb08c" stroke-width="0.5"/><path d="M1018.5,216.4L1022.8,214.6" stroke="#6d8060" stroke-width="0.5"/><path d="M1228.1,411.8L1223.7,401.8" stroke="#7a8e6a" stroke-width="0.9"/><path d="M1068.8,437.0L1061.0,427.0" stroke="#3f4b37" stroke-width="1.0"/><path d="M963.2,511.6L951.8,498.4" stroke="#55654a" stroke-width="1.1"/><path d="M967.6,215.9L966.6,212.3" stroke="#55654a" stroke-width="0.5"/><path d="M992.6,455.8L995.8,446.5" stroke="#a8b99a" stroke-width="0.8"/><path d="M1026.6,405.3L1033.7,396.0" stroke="#7a8e6a" stroke-width="0.8"/><path d="M1187.2,506.7L1189.0,489.5" stroke="#667a58" stroke-width="1.3"/><path d="M1254.5,441.6L1255.7,429.9" stroke="#55654a" stroke-width="1.1"/><path d="M1155.0,284.2L1152.1,279.1" stroke="#a8b99a" stroke-width="0.6"/><path d="M979.9,288.2L980.3,281.6" stroke="#839773" stroke-width="0.6"/><path d="M1226.4,200.4L1224.5,197.5" stroke="#6d8060" stroke-width="0.5"/><path d="M1241.9,185.3L1243.8,183.6" stroke="#34402f" stroke-width="0.4"/><path d="M1163.7,182.6L1163.0,180.0" stroke="#8e9486" stroke-width="0.4"/><path d="M1089.1,440.7L1086.2,427.4" stroke="#34402f" stroke-width="1.1"/><path d="M969.8,368.6L973.1,361.1" stroke="#7a8e6a" stroke-width="0.7"/><path d="M954.8,204.8L957.5,203.9" stroke="#55654a" stroke-width="0.5"/><path d="M1248.3,200.5L1245.2,199.1" stroke="#55654a" stroke-width="0.4"/><path d="M1092.0,532.5L1077.6,526.9" stroke="#839773" stroke-width="1.0"/><path d="M958.9,363.9L966.9,355.0" stroke="#8e9486" stroke-width="0.8"/><path d="M1093.6,221.5L1094.2,216.8" stroke="#667a58" stroke-width="0.5"/><path d="M1163.6,407.5L1164.2,398.4" stroke="#3f4b37" stroke-width="1.0"/><path d="M1204.2,429.7L1211.1,423.6" stroke="#b7c6a8" stroke-width="0.9"/><path d="M1229.9,453.8L1231.0,435.4" stroke="#8e9486" stroke-width="0.8"/><path d="M1054.4,413.9L1056.7,403.0" stroke="#a8b99a" stroke-width="0.9"/><path d="M1084.2,349.4L1081.8,344.2" stroke="#34402f" stroke-width="0.8"/><path d="M1038.2,275.9L1034.5,270.5" stroke="#34402f" stroke-width="0.6"/><path d="M1048.4,444.4L1036.8,434.2" stroke="#34402f" stroke-width="1.1"/><path d="M1004.2,398.2L1014.2,392.6" stroke="#839773" stroke-width="1.0"/><path d="M1086.6,448.6L1082.0,434.3" stroke="#839773" stroke-width="1.0"/><path d="M985.6,494.7L987.7,485.9" stroke="#4a5840" stroke-width="1.2"/><path d="M1005.8,495.5L1007.1,479.0" stroke="#839773" stroke-width="1.1"/><path d="M1151.1,423.7L1140.4,416.0" stroke="#b7c6a8" stroke-width="0.8"/><path d="M1054.4,413.4L1043.1,404.6" stroke="#34402f" stroke-width="1.0"/><path d="M1025.9,355.3L1033.7,350.3" stroke="#55654a" stroke-width="0.8"/><path d="M1016.0,257.6L1016.5,250.5" stroke="#4a5840" stroke-width="0.6"/><path d="M1175.6,308.7L1170.5,303.9" stroke="#3f4b37" stroke-width="0.7"/><path d="M974.6,499.8L977.1,480.4" stroke="#34402f" stroke-width="1.3"/><path d="M1187.9,344.3L1189.0,334.0" stroke="#55654a" stroke-width="0.8"/><path d="M1135.3,223.5L1137.5,219.5" stroke="#4a5840" stroke-width="0.5"/><path d="M952.7,424.3L958.0,419.2" stroke="#4a5840" stroke-width="1.0"/><path d="M1152.6,294.0L1146.6,290.8" stroke="#3f4b37" stroke-width="0.7"/><path d="M1238.5,234.8L1240.8,230.7" stroke="#8e9486" stroke-width="0.5"/><path d="M981.7,367.8L974.1,362.2" stroke="#4a5840" stroke-width="0.9"/><path d="M1085.1,494.1L1084.5,477.9" stroke="#667a58" stroke-width="1.0"/><path d="M1215.1,288.3L1208.3,285.5" stroke="#3f4b37" stroke-width="0.6"/><path d="M1245.6,187.1L1246.6,184.5" stroke="#4a5840" stroke-width="0.4"/><path d="M949.7,530.9L935.9,515.7" stroke="#6d8060" stroke-width="0.9"/><path d="M1156.4,263.2L1159.2,257.0" stroke="#a8b99a" stroke-width="0.6"/><path d="M1046.6,378.0L1035.1,370.5" stroke="#55654a" stroke-width="0.9"/><path d="M1057.7,231.1L1055.6,226.0" stroke="#8e9486" stroke-width="0.5"/><path d="M1239.8,202.0L1237.7,198.9" stroke="#667a58" stroke-width="0.5"/><path d="M1059.3,326.6L1062.3,317.4" stroke="#839773" stroke-width="0.6"/><path d="M962.2,284.0L959.7,278.2" stroke="#9cb08c" stroke-width="0.7"/><path d="M1242.4,336.3L1244.2,326.1" stroke="#55654a" stroke-width="0.8"/><path d="M1177.6,253.4L1181.9,249.2" stroke="#4a5840" stroke-width="0.5"/><path d="M1117.4,245.8L1115.5,241.3" stroke="#55654a" stroke-width="0.5"/><path d="M1100.8,357.0L1099.7,351.0" stroke="#a8b99a" stroke-width="0.8"/><path d="M1239.7,181.2L1239.7,178.7" stroke="#7a8e6a" stroke-width="0.4"/><path d="M1089.1,250.1L1085.6,246.6" stroke="#55654a" stroke-width="0.6"/><path d="M1114.1,529.5L1114.6,514.9" stroke="#6d8060" stroke-width="1.0"/><path d="M1007.0,500.6L1000.0,482.3" stroke="#34402f" stroke-width="1.0"/><path d="M1110.0,245.1L1114.9,242.4" stroke="#3f4b37" stroke-width="0.6"/><path d="M997.3,332.0L1004.3,328.1" stroke="#6d8060" stroke-width="0.6"/><path d="M1093.3,497.1L1102.0,489.5" stroke="#667a58" stroke-width="0.9"/><path d="M1094.3,229.3L1096.5,226.6" stroke="#6d8060" stroke-width="0.5"/><path d="M961.4,513.8L962.8,496.3" stroke="#b7c6a8" stroke-width="1.1"/><path d="M1198.9,356.6L1198.2,349.1" stroke="#34402f" stroke-width="0.7"/><path d="M1051.8,435.6L1047.1,424.3" stroke="#3f4b37" stroke-width="0.9"/><path d="M997.4,438.5L1005.3,424.8" stroke="#3f4b37" stroke-width="0.8"/><path d="M1051.6,305.6L1048.7,297.8" stroke="#4a5840" stroke-width="0.7"/><path d="M1000.4,351.8L1003.3,341.1" stroke="#667a58" stroke-width="0.7"/><path d="M1055.7,435.8L1063.7,427.5" stroke="#9cb08c" stroke-width="0.8"/><path d="M1187.6,471.6L1182.2,464.4" stroke="#a8b99a" stroke-width="1.1"/><path d="M1015.8,330.6L1012.0,323.4" stroke="#9cb08c" stroke-width="0.7"/><path d="M1061.6,228.4L1064.7,226.0" stroke="#34402f" stroke-width="0.5"/><path d="M1255.3,408.3L1254.1,401.4" stroke="#9cb08c" stroke-width="0.8"/><path d="M1029.3,353.3L1036.8,349.6" stroke="#839773" stroke-width="0.7"/><path d="M1142.2,410.6L1146.5,403.1" stroke="#4a5840" stroke-width="0.7"/><path d="M1111.9,368.3L1123.9,362.8" stroke="#34402f" stroke-width="0.8"/><path d="M1022.4,411.7L1027.8,407.0" stroke="#55654a" stroke-width="0.8"/><path d="M1155.0,473.8L1145.0,464.8" stroke="#8e9486" stroke-width="1.2"/><path d="M1053.7,272.8L1048.3,270.3" stroke="#7a8e6a" stroke-width="0.6"/><path d="M1040.8,187.9L1038.5,187.0" stroke="#55654a" stroke-width="0.4"/><path d="M1143.2,220.5L1142.7,215.8" stroke="#839773" stroke-width="0.5"/><path d="M1024.4,387.8L1026.6,380.8" stroke="#a8b99a" stroke-width="0.9"/><path d="M1129.1,475.4L1123.9,465.8" stroke="#34402f" stroke-width="1.2"/><path d="M956.3,389.4L945.4,382.9" stroke="#6d8060" stroke-width="0.8"/><path d="M1083.7,307.3L1079.0,300.6" stroke="#6d8060" stroke-width="0.7"/><path d="M975.4,444.0L983.2,430.5" stroke="#9cb08c" stroke-width="0.8"/><path d="M1183.4,538.7L1177.5,526.2" stroke="#3f4b37" stroke-width="0.9"/><path d="M1069.0,457.5L1063.2,442.6" stroke="#55654a" stroke-width="1.0"/><path d="M1180.2,187.2L1181.4,185.0" stroke="#b7c6a8" stroke-width="0.4"/><path d="M980.0,415.3L983.4,407.9" stroke="#3f4b37" stroke-width="1.1"/><path d="M963.3,227.1L960.4,225.9" stroke="#a8b99a" stroke-width="0.5"/><path d="M969.6,357.1L959.2,351.8" stroke="#3f4b37" stroke-width="0.9"/><path d="M1058.3,189.9L1055.7,188.5" stroke="#667a58" stroke-width="0.4"/><path d="M989.5,538.3L995.2,530.7" stroke="#8e9486" stroke-width="1.2"/><path d="M1065.1,388.3L1053.5,381.9" stroke="#7a8e6a" stroke-width="0.9"/><path d="M1126.3,182.9L1124.5,181.1" stroke="#839773" stroke-width="0.4"/><path d="M992.6,226.1L995.3,224.5" stroke="#667a58" stroke-width="0.5"/><path d="M1129.5,455.3L1133.9,445.6" stroke="#4a5840" stroke-width="1.1"/><path d="M1101.7,243.2L1102.4,239.2" stroke="#b7c6a8" stroke-width="0.6"/><path d="M978.5,229.9L979.1,226.7" stroke="#7a8e6a" stroke-width="0.5"/><path d="M952.9,501.5L966.7,490.7" stroke="#55654a" stroke-width="1.1"/><path d="M963.9,446.5L952.7,440.7" stroke="#34402f" stroke-width="0.8"/><path d="M1233.8,336.3L1235.6,330.1" stroke="#9cb08c" stroke-width="0.8"/><path d="M1223.8,374.4L1227.6,364.1" stroke="#8e9486" stroke-width="0.8"/><path d="M1127.3,417.2L1131.1,407.0" stroke="#34402f" stroke-width="0.8"/><path d="M1227.6,297.4L1224.1,294.2" stroke="#34402f" stroke-width="0.7"/><path d="M1051.3,384.9L1061.8,380.4" stroke="#55654a" stroke-width="0.8"/><path d="M1015.6,485.5L1007.8,471.1" stroke="#9cb08c" stroke-width="1.0"/><path d="M1069.6,366.5L1074.9,359.8" stroke="#34402f" stroke-width="0.7"/><path d="M1222.6,488.2L1221.3,474.0" stroke="#55654a" stroke-width="1.2"/><path d="M1205.4,199.9L1204.9,196.7" stroke="#3f4b37" stroke-width="0.5"/><path d="M978.8,419.1L989.2,411.0" stroke="#4a5840" stroke-width="0.9"/><path d="M1252.0,392.8L1250.2,382.2" stroke="#3f4b37" stroke-width="0.9"/><path d="M1097.8,272.2L1097.3,265.1" stroke="#4a5840" stroke-width="0.6"/><path d="M1255.7,450.5L1244.3,438.4" stroke="#7a8e6a" stroke-width="1.0"/><path d="M1064.5,393.0L1067.8,385.3" stroke="#667a58" stroke-width="1.0"/><path d="M1169.8,273.2L1175.4,269.1" stroke="#7a8e6a" stroke-width="0.6"/><path d="M952.8,460.8L955.7,450.6" stroke="#a8b99a" stroke-width="1.1"/><path d="M1225.3,341.3L1222.9,331.6" stroke="#3f4b37" stroke-width="0.8"/><path d="M977.0,232.0L973.9,229.0" stroke="#4a5840" stroke-width="0.5"/><path d="M1205.3,386.7L1196.3,380.0" stroke="#3f4b37" stroke-width="0.8"/><path d="M1146.8,274.3L1146.7,269.8" stroke="#4a5840" stroke-width="0.7"/><path d="M1045.2,210.2L1047.4,208.5" stroke="#8e9486" stroke-width="0.5"/><path d="M1004.1,503.2L1012.8,493.3" stroke="#34402f" stroke-width="1.2"/><path d="M1038.7,503.1L1041.7,494.5" stroke="#8e9486" stroke-width="0.9"/><path d="M1063.5,478.6L1048.0,472.4" stroke="#34402f" stroke-width="1.1"/><path d="M953.0,450.6L962.1,437.8" stroke="#839773" stroke-width="1.1"/><path d="M1230.9,431.7L1238.8,420.8" stroke="#55654a" stroke-width="1.0"/><path d="M1004.4,196.0L1002.9,193.3" stroke="#7a8e6a" stroke-width="0.4"/><path d="M1216.4,322.7L1210.8,316.7" stroke="#55654a" stroke-width="0.8"/><path d="M1001.3,382.9L1000.1,376.4" stroke="#8e9486" stroke-width="0.8"/><path d="M1082.6,418.3L1088.3,406.4" stroke="#34402f" stroke-width="0.8"/><path d="M995.5,192.4L993.1,190.9" stroke="#55654a" stroke-width="0.4"/><path d="M1184.4,202.8L1187.3,201.1" stroke="#b7c6a8" stroke-width="0.5"/><path d="M1017.6,534.5L1012.5,523.3" stroke="#55654a" stroke-width="1.0"/><path d="M1250.4,260.9L1254.0,257.2" stroke="#55654a" stroke-width="0.6"/><path d="M1140.0,414.5L1153.3,405.4" stroke="#4a5840" stroke-width="0.9"/><path d="M1230.7,520.0L1245.9,506.5" stroke="#4a5840" stroke-width="1.1"/><path d="M960.9,519.7L950.2,509.3" stroke="#8e9486" stroke-width="1.3"/><path d="M1103.8,263.2L1097.4,260.6" stroke="#6d8060" stroke-width="0.6"/><path d="M989.4,352.7L985.0,348.1" stroke="#4a5840" stroke-width="0.8"/><path d="M1044.1,281.5L1047.0,273.6" stroke="#667a58" stroke-width="0.7"/><path d="M1018.0,196.4L1019.3,193.8" stroke="#a8b99a" stroke-width="0.5"/><path d="M1093.4,523.0L1077.7,514.7" stroke="#34402f" stroke-width="1.0"/><path d="M1130.8,444.9L1114.5,437.6" stroke="#3f4b37" stroke-width="0.9"/><path d="M1047.6,183.8L1049.0,181.5" stroke="#3f4b37" stroke-width="0.4"/><path d="M970.4,492.3L971.9,478.8" stroke="#3f4b37" stroke-width="1.1"/><path d="M1194.2,397.3L1200.6,383.9" stroke="#55654a" stroke-width="0.9"/><path d="M1176.3,292.6L1177.6,288.0" stroke="#9cb08c" stroke-width="0.7"/><path d="M980.5,243.6L981.9,238.1" stroke="#667a58" stroke-width="0.6"/><path d="M1109.6,476.2L1116.4,464.1" stroke="#a8b99a" stroke-width="1.1"/><path d="M951.1,496.9L961.2,487.3" stroke="#3f4b37" stroke-width="1.2"/><path d="M946.6,319.9L943.2,315.7" stroke="#55654a" stroke-width="0.8"/><path d="M1098.2,518.0L1089.5,512.7" stroke="#34402f" stroke-width="1.3"/><path d="M1062.7,465.0L1055.4,456.6" stroke="#55654a" stroke-width="1.0"/><path d="M1088.7,290.7L1084.9,282.5" stroke="#6d8060" stroke-width="0.6"/><path d="M1158.9,244.9L1160.9,241.2" stroke="#7a8e6a" stroke-width="0.6"/><path d="M1063.4,269.6L1065.8,262.6" stroke="#4a5840" stroke-width="0.6"/><path d="M1095.8,351.8L1101.0,343.4" stroke="#7a8e6a" stroke-width="0.7"/><path d="M1136.5,510.8L1120.8,498.9" stroke="#4a5840" stroke-width="1.3"/><path d="M1085.4,533.1L1096.8,527.2" stroke="#34402f" stroke-width="1.0"/><path d="M1093.0,434.8L1086.8,423.2" stroke="#4a5840" stroke-width="0.8"/><path d="M950.7,390.5L952.3,382.8" stroke="#8e9486" stroke-width="0.9"/><path d="M1196.5,201.0L1198.6,197.9" stroke="#55654a" stroke-width="0.5"/><path d="M1050.3,474.4L1054.3,457.6" stroke="#34402f" stroke-width="1.2"/><path d="M1162.6,452.4L1155.8,446.3" stroke="#6d8060" stroke-width="0.9"/><path d="M1057.6,404.5L1059.5,396.5" stroke="#4a5840" stroke-width="1.0"/><path d="M976.1,320.2L977.2,314.3" stroke="#667a58" stroke-width="0.7"/><path d="M1013.4,307.2L1009.9,301.0" stroke="#b7c6a8" stroke-width="0.7"/><path d="M1078.6,360.8L1076.2,353.4" stroke="#55654a" stroke-width="0.7"/><path d="M1141.4,307.5L1138.0,299.4" stroke="#4a5840" stroke-width="0.7"/><path d="M973.6,345.0L974.9,335.4" stroke="#55654a" stroke-width="0.8"/><path d="M1153.3,206.7L1151.2,204.4" stroke="#839773" stroke-width="0.5"/><path d="M1067.2,184.6L1069.6,183.2" stroke="#34402f" stroke-width="0.4"/><path d="M1010.5,394.4L1020.3,383.3" stroke="#3f4b37" stroke-width="0.8"/><path d="M1009.1,309.1L1005.9,303.7" stroke="#a8b99a" stroke-width="0.7"/><path d="M956.2,263.6L950.7,261.4" stroke="#b7c6a8" stroke-width="0.6"/><path d="M1090.0,298.7L1094.0,290.4" stroke="#4a5840" stroke-width="0.6"/><path d="M1130.6,357.7L1120.1,353.5" stroke="#55654a" stroke-width="0.7"/><path d="M1023.4,186.3L1020.9,185.2" stroke="#55654a" stroke-width="0.4"/><path d="M1141.5,415.0L1149.8,405.3" stroke="#b7c6a8" stroke-width="0.9"/><path d="M1241.4,387.7L1232.7,383.4" stroke="#8e9486" stroke-width="0.8"/><path d="M1126.8,214.8L1124.4,213.0" stroke="#55654a" stroke-width="0.5"/><path d="M958.9,437.5L965.1,431.3" stroke="#b7c6a8" stroke-width="1.1"/><path d="M1230.0,421.3L1225.3,409.0" stroke="#9cb08c" stroke-width="1.0"/><path d="M1171.4,345.5L1181.1,338.7" stroke="#667a58" stroke-width="0.8"/><path d="M1053.4,299.7L1054.1,292.2" stroke="#8e9486" stroke-width="0.6"/><path d="M1051.0,331.0L1050.9,322.2" stroke="#667a58" stroke-width="0.8"/><path d="M1229.2,284.3L1236.5,280.4" stroke="#3f4b37" stroke-width="0.6"/><path d="M1236.9,291.5L1232.8,285.4" stroke="#3f4b37" stroke-width="0.7"/><path d="M1169.9,192.0L1168.3,189.1" stroke="#667a58" stroke-width="0.4"/><path d="M1237.2,261.0L1241.0,256.2" stroke="#34402f" stroke-width="0.6"/><path d="M1183.0,399.9L1190.6,389.9" stroke="#6d8060" stroke-width="0.9"/><path d="M980.3,417.7L989.0,412.4" stroke="#34402f" stroke-width="1.1"/><path d="M1118.5,356.1L1124.8,352.4" stroke="#55654a" stroke-width="0.7"/><path d="M1250.8,438.6L1253.5,426.2" stroke="#3f4b37" stroke-width="1.0"/><path d="M961.1,190.7L960.3,188.2" stroke="#55654a" stroke-width="0.5"/><path d="M1239.7,408.7L1248.9,401.3" stroke="#4a5840" stroke-width="0.7"/><path d="M967.5,315.9L958.9,310.9" stroke="#34402f" stroke-width="0.8"/><path d="M1018.7,391.5L1013.3,384.1" stroke="#55654a" stroke-width="0.9"/><path d="M1173.7,297.2L1172.7,291.6" stroke="#839773" stroke-width="0.6"/><path d="M1226.2,437.1L1232.2,427.8" stroke="#9cb08c" stroke-width="0.9"/><path d="M1107.4,211.2L1103.9,209.4" stroke="#a8b99a" stroke-width="0.5"/><path d="M1058.4,324.2L1059.0,318.1" stroke="#55654a" stroke-width="0.7"/><path d="M1010.8,394.5L1006.4,385.7" stroke="#7a8e6a" stroke-width="0.8"/><path d="M972.0,360.5L969.7,347.7" stroke="#9cb08c" stroke-width="0.7"/><path d="M1047.3,495.2L1043.3,482.4" stroke="#3f4b37" stroke-width="1.1"/><path d="M1237.3,536.3L1248.2,524.7" stroke="#4a5840" stroke-width="1.2"/><path d="M1203.3,345.3L1207.7,341.3" stroke="#839773" stroke-width="0.8"/><path d="M960.2,298.9L954.5,296.6" stroke="#34402f" stroke-width="0.6"/><path d="M1064.6,234.3L1061.6,232.8" stroke="#4a5840" stroke-width="0.5"/><path d="M1174.3,318.7L1176.9,313.5" stroke="#3f4b37" stroke-width="0.6"/><path d="M1234.5,225.6L1238.9,223.2" stroke="#6d8060" stroke-width="0.5"/><path d="M1120.5,303.3L1125.5,295.0" stroke="#7a8e6a" stroke-width="0.6"/><path d="M1105.0,178.4L1105.3,176.2" stroke="#9cb08c" stroke-width="0.4"/><path d="M1099.2,250.9L1104.7,247.9" stroke="#667a58" stroke-width="0.6"/><path d="M1213.8,310.7L1208.7,306.7" stroke="#4a5840" stroke-width="0.7"/><path d="M1223.2,227.5L1220.5,225.5" stroke="#8e9486" stroke-width="0.5"/><path d="M1165.3,324.9L1166.6,317.6" stroke="#b7c6a8" stroke-width="0.8"/><path d="M1048.1,231.0L1051.5,229.0" stroke="#6d8060" stroke-width="0.5"/><path d="M1239.0,509.8L1246.7,496.2" stroke="#6d8060" stroke-width="1.2"/><path d="M1256.1,417.5L1269.0,408.0" stroke="#4a5840" stroke-width="0.8"/><path d="M1213.1,498.4L1211.4,486.5" stroke="#667a58" stroke-width="0.9"/><path d="M1092.2,323.2L1096.3,315.4" stroke="#4a5840" stroke-width="0.8"/><path d="M1093.7,471.5L1091.4,458.6" stroke="#839773" stroke-width="0.8"/><path d="M1105.5,211.4L1107.1,208.1" stroke="#667a58" stroke-width="0.5"/><path d="M1126.2,287.6L1121.5,285.4" stroke="#a8b99a" stroke-width="0.7"/><path d="M1212.6,249.0L1213.9,242.7" stroke="#34402f" stroke-width="0.6"/><path d="M1183.5,190.2L1180.6,188.9" stroke="#9cb08c" stroke-width="0.4"/><path d="M1148.0,439.0L1154.7,433.7" stroke="#667a58" stroke-width="1.0"/><path d="M952.9,525.5L956.9,513.3" stroke="#8e9486" stroke-width="1.1"/><path d="M1200.3,188.0L1201.5,185.9" stroke="#b7c6a8" stroke-width="0.4"/><path d="M990.5,289.6L996.8,284.7" stroke="#b7c6a8" stroke-width="0.6"/><path d="M1159.1,449.7L1166.3,439.4" stroke="#34402f" stroke-width="0.9"/><path d="M1015.7,280.2L1014.3,275.0" stroke="#a8b99a" stroke-width="0.6"/><path d="M1224.0,305.3L1219.0,299.3" stroke="#667a58" stroke-width="0.7"/><path d="M1062.6,343.2L1066.2,333.2" stroke="#4a5840" stroke-width="0.9"/><path d="M1216.1,352.6L1217.6,342.6" stroke="#55654a" stroke-width="0.9"/><path d="M948.5,324.8L950.8,314.4" stroke="#8e9486" stroke-width="0.7"/><path d="M1168.1,344.3L1174.8,338.4" stroke="#34402f" stroke-width="0.8"/><path d="M1235.0,210.0L1234.9,205.7" stroke="#4a5840" stroke-width="0.5"/><path d="M1107.6,199.0L1110.3,196.6" stroke="#3f4b37" stroke-width="0.4"/><path d="M1045.1,539.5L1024.2,530.0" stroke="#8e9486" stroke-width="1.2"/><path d="M1018.9,231.8L1023.2,228.4" stroke="#55654a" stroke-width="0.5"/><path d="M1162.7,315.6L1158.3,311.5" stroke="#6d8060" stroke-width="0.7"/><path d="M1177.7,493.1L1161.0,486.3" stroke="#a8b99a" stroke-width="1.2"/><path d="M945.2,282.7L947.3,278.4" stroke="#667a58" stroke-width="0.7"/><path d="M1160.5,237.7L1163.2,235.7" stroke="#839773" stroke-width="0.6"/><path d="M1112.3,380.2L1118.1,377.7" stroke="#6d8060" stroke-width="0.9"/><path d="M1003.6,357.8L1001.9,349.8" stroke="#55654a" stroke-width="0.7"/><path d="M1187.3,345.0L1184.6,338.4" stroke="#839773" stroke-width="0.7"/><path d="M1221.3,207.1L1223.4,203.9" stroke="#4a5840" stroke-width="0.5"/><path d="M1215.9,385.0L1209.1,380.9" stroke="#4a5840" stroke-width="0.9"/><path d="M1117.7,253.2L1122.7,250.5" stroke="#3f4b37" stroke-width="0.5"/><path d="M1047.5,439.4L1037.6,434.4" stroke="#34402f" stroke-width="0.8"/><path d="M972.1,352.3L975.2,346.5" stroke="#7a8e6a" stroke-width="0.9"/><path d="M1187.9,351.8L1183.4,342.2" stroke="#8e9486" stroke-width="0.8"/><path d="M1249.3,496.2L1243.3,476.4" stroke="#3f4b37" stroke-width="1.1"/><path d="M975.2,368.8L981.7,365.4" stroke="#7a8e6a" stroke-width="0.7"/><path d="M1127.2,219.1L1128.6,215.3" stroke="#34402f" stroke-width="0.5"/><path d="M1242.7,379.1L1235.9,368.0" stroke="#34402f" stroke-width="0.9"/><path d="M1131.6,528.1L1136.2,512.6" stroke="#667a58" stroke-width="1.2"/><path d="M1218.2,321.6L1215.8,315.7" stroke="#55654a" stroke-width="0.6"/><path d="M959.6,389.4L966.3,381.3" stroke="#4a5840" stroke-width="1.0"/><path d="M1084.7,314.5L1090.4,311.3" stroke="#a8b99a" stroke-width="0.6"/><path d="M1217.5,202.7L1215.9,200.4" stroke="#839773" stroke-width="0.5"/><path d="M1112.9,361.2L1119.4,352.6" stroke="#3f4b37" stroke-width="0.8"/><path d="M1187.3,202.7L1187.6,199.5" stroke="#9cb08c" stroke-width="0.5"/><path d="M985.3,253.9L979.9,251.2" stroke="#9cb08c" stroke-width="0.6"/><path d="M953.9,280.2L958.6,276.1" stroke="#667a58" stroke-width="0.7"/><path d="M1216.7,307.5L1217.1,299.1" stroke="#34402f" stroke-width="0.7"/><path d="M1201.1,316.4L1196.4,313.8" stroke="#3f4b37" stroke-width="0.8"/><path d="M1000.5,356.5L992.2,350.5" stroke="#55654a" stroke-width="0.8"/><path d="M1202.1,210.4L1204.0,208.3" stroke="#9cb08c" stroke-width="0.5"/><path d="M1050.8,309.0L1053.3,303.0" stroke="#3f4b37" stroke-width="0.6"/><path d="M1014.6,390.7L1007.3,386.2" stroke="#4a5840" stroke-width="0.8"/><path d="M1061.8,458.1L1050.0,451.3" stroke="#34402f" stroke-width="0.9"/><path d="M1024.6,517.2L1036.8,505.7" stroke="#34402f" stroke-width="1.0"/><path d="M1207.9,323.8L1215.2,319.7" stroke="#55654a" stroke-width="0.8"/><path d="M1200.6,458.2L1184.8,448.0" stroke="#34402f" stroke-width="1.0"/><path d="M1075.8,512.7L1091.6,501.8" stroke="#839773" stroke-width="1.3"/><path d="M1171.7,461.8L1176.6,454.6" stroke="#a8b99a" stroke-width="1.1"/><path d="M987.1,426.8L985.9,416.6" stroke="#4a5840" stroke-width="0.8"/><path d="M976.5,309.9L975.3,300.9" stroke="#55654a" stroke-width="0.7"/><path d="M980.1,520.2L967.5,510.0" stroke="#34402f" stroke-width="1.1"/><path d="M952.6,454.3L943.4,447.5" stroke="#55654a" stroke-width="1.1"/><path d="M1204.7,182.0L1204.6,179.3" stroke="#a8b99a" stroke-width="0.4"/><path d="M1078.1,401.6L1074.1,391.4" stroke="#7a8e6a" stroke-width="1.0"/><path d="M1162.2,474.0L1160.2,455.7" stroke="#8e9486" stroke-width="1.1"/><path d="M1110.1,288.9L1114.0,286.7" stroke="#9cb08c" stroke-width="0.7"/><path d="M1035.9,331.4L1041.4,325.0" stroke="#3f4b37" stroke-width="0.8"/><path d="M1111.2,224.9L1110.2,220.7" stroke="#6d8060" stroke-width="0.5"/><path d="M1078.1,302.4L1082.9,299.9" stroke="#3f4b37" stroke-width="0.7"/><path d="M1209.6,409.0L1202.8,404.2" stroke="#667a58" stroke-width="0.9"/><path d="M1226.5,463.5L1232.5,458.3" stroke="#839773" stroke-width="1.1"/><path d="M1240.1,322.9L1240.4,316.1" stroke="#55654a" stroke-width="0.7"/><path d="M1193.7,321.7L1190.8,314.3" stroke="#a8b99a" stroke-width="0.8"/><path d="M1177.8,249.0L1181.0,245.5" stroke="#839773" stroke-width="0.5"/><path d="M1007.4,348.4L1014.8,339.6" stroke="#b7c6a8" stroke-width="0.7"/><path d="M1019.6,413.9L1024.6,400.7" stroke="#34402f" stroke-width="1.1"/><path d="M1186.3,262.7L1191.0,259.5" stroke="#55654a" stroke-width="0.6"/><path d="M1030.2,281.0L1033.8,276.6" stroke="#34402f" stroke-width="0.6"/><path d="M1214.8,246.6L1216.5,241.8" stroke="#34402f" stroke-width="0.6"/><path d="M1187.0,188.0L1186.1,185.7" stroke="#34402f" stroke-width="0.4"/><path d="M980.6,480.5L972.1,466.1" stroke="#4a5840" stroke-width="0.9"/><path d="M972.5,281.4L969.3,277.6" stroke="#34402f" stroke-width="0.6"/><path d="M1110.9,199.6L1109.8,196.2" stroke="#34402f" stroke-width="0.5"/><path d="M956.2,447.5L960.1,433.1" stroke="#a8b99a" stroke-width="0.9"/><path d="M1071.4,518.5L1091.6,510.2" stroke="#4a5840" stroke-width="0.9"/><path d="M1075.4,236.1L1073.8,230.5" stroke="#7a8e6a" stroke-width="0.6"/><path d="M1175.6,387.7L1182.3,380.1" stroke="#3f4b37" stroke-width="1.0"/><path d="M1144.7,186.8L1146.1,184.9" stroke="#34402f" stroke-width="0.4"/><path d="M1226.1,265.3L1226.8,260.1" stroke="#9cb08c" stroke-width="0.6"/><path d="M1195.5,383.9L1192.4,375.5" stroke="#b7c6a8" stroke-width="1.0"/><path d="M995.7,409.7L992.9,401.4" stroke="#7a8e6a" stroke-width="0.9"/><path d="M1245.1,397.5L1236.5,390.4" stroke="#34402f" stroke-width="0.7"/><path d="M1014.6,260.9L1011.3,257.8" stroke="#3f4b37" stroke-width="0.6"/><path d="M1032.2,525.8L1015.5,510.4" stroke="#9cb08c" stroke-width="1.3"/><path d="M1052.3,256.8L1053.2,251.2" stroke="#3f4b37" stroke-width="0.6"/><path d="M1146.8,516.3L1140.7,501.7" stroke="#6d8060" stroke-width="1.3"/><path d="M1050.4,362.5L1049.1,354.5" stroke="#6d8060" stroke-width="0.9"/><path d="M980.4,205.8L981.2,202.6" stroke="#a8b99a" stroke-width="0.5"/><path d="M981.8,411.1L973.4,404.5" stroke="#34402f" stroke-width="0.8"/><path d="M1021.0,208.6L1019.1,205.1" stroke="#9cb08c" stroke-width="0.5"/><path d="M1021.5,515.3L1032.0,511.3" stroke="#55654a" stroke-width="1.3"/><path d="M1015.9,206.5L1012.6,204.3" stroke="#55654a" stroke-width="0.5"/><path d="M1101.3,221.5L1101.9,217.4" stroke="#4a5840" stroke-width="0.5"/><path d="M1115.8,360.9L1110.3,355.1" stroke="#4a5840" stroke-width="0.8"/><path d="M949.7,355.3L950.4,349.5" stroke="#7a8e6a" stroke-width="0.7"/><path d="M1082.5,537.0L1081.1,524.7" stroke="#55654a" stroke-width="1.0"/><path d="M1033.4,485.0L1023.8,467.4" stroke="#55654a" stroke-width="0.8"/><path d="M1009.0,440.9L1014.7,432.9" stroke="#4a5840" stroke-width="1.1"/><path d="M1159.1,194.1L1156.8,191.8" stroke="#34402f" stroke-width="0.4"/><path d="M1204.0,347.0L1205.8,340.0" stroke="#55654a" stroke-width="0.8"/><path d="M1124.2,395.3L1119.4,384.5" stroke="#6d8060" stroke-width="0.9"/><path d="M1203.5,219.3L1205.4,215.9" stroke="#b7c6a8" stroke-width="0.5"/><path d="M1192.0,319.6L1197.7,315.5" stroke="#667a58" stroke-width="0.6"/><path d="M1154.3,505.2L1169.1,497.0" stroke="#3f4b37" stroke-width="1.1"/><path d="M1215.7,214.1L1212.1,212.4" stroke="#7a8e6a" stroke-width="0.5"/><path d="M951.6,384.3L945.6,380.8" stroke="#4a5840" stroke-width="0.8"/><path d="M1101.5,291.9L1098.7,283.4" stroke="#667a58" stroke-width="0.7"/><path d="M1236.3,246.3L1232.9,244.4" stroke="#3f4b37" stroke-width="0.6"/><path d="M1195.2,513.5L1189.8,504.5" stroke="#839773" stroke-width="1.0"/><path d="M1096.1,389.5L1104.2,380.9" stroke="#667a58" stroke-width="0.8"/><path d="M1224.3,279.2L1226.6,275.6" stroke="#55654a" stroke-width="0.6"/><path d="M1040.7,239.5L1044.2,237.0" stroke="#7a8e6a" stroke-width="0.5"/><path d="M1001.1,425.2L989.3,419.2" stroke="#8e9486" stroke-width="1.0"/><path d="M967.6,272.1L962.9,268.0" stroke="#a8b99a" stroke-width="0.5"/><path d="M1185.3,291.2L1187.9,283.3" stroke="#55654a" stroke-width="0.6"/><path d="M952.4,202.2L955.4,200.9" stroke="#6d8060" stroke-width="0.5"/><path d="M991.0,351.3L996.9,341.5" stroke="#3f4b37" stroke-width="0.7"/><path d="M1115.4,190.0L1113.6,187.6" stroke="#667a58" stroke-width="0.4"/><path d="M1104.6,305.5L1103.4,297.4" stroke="#839773" stroke-width="0.7"/><path d="M1097.6,259.5L1096.0,253.3" stroke="#b7c6a8" stroke-width="0.6"/><path d="M1112.0,228.8L1114.6,226.3" stroke="#4a5840" stroke-width="0.5"/><path d="M1067.2,479.3L1082.7,467.7" stroke="#4a5840" stroke-width="1.1"/><path d="M1198.1,192.5L1195.1,191.3" stroke="#4a5840" stroke-width="0.4"/><path d="M962.7,317.5L966.4,313.2" stroke="#a8b99a" stroke-width="0.7"/><path d="M1116.2,270.4L1119.6,264.9" stroke="#6d8060" stroke-width="0.6"/><path d="M1082.7,415.4L1072.7,402.7" stroke="#7a8e6a" stroke-width="0.7"/><path d="M1000.0,215.3L998.1,212.2" stroke="#3f4b37" stroke-width="0.5"/><path d="M1223.6,190.6L1221.1,188.7" stroke="#b7c6a8" stroke-width="0.5"/><path d="M1196.1,300.8L1195.1,296.1" stroke="#4a5840" stroke-width="0.7"/><path d="M1062.3,434.7L1058.2,423.6" stroke="#8e9486" stroke-width="1.0"/><path d="M968.6,406.4L963.5,398.8" stroke="#3f4b37" stroke-width="1.0"/><path d="M1127.5,261.2L1127.5,254.7" stroke="#7a8e6a" stroke-width="0.6"/><path d="M1101.9,357.6L1098.7,349.6" stroke="#3f4b37" stroke-width="0.8"/><path d="M1097.3,242.0L1096.8,238.6" stroke="#55654a" stroke-width="0.5"/><path d="M1026.4,305.7L1031.5,299.6" stroke="#55654a" stroke-width="0.7"/><path d="M1164.1,335.5L1173.5,331.1" stroke="#839773" stroke-width="0.6"/><path d="M972.6,190.1L974.2,187.4" stroke="#4a5840" stroke-width="0.4"/><path d="M1062.4,211.9L1064.3,209.5" stroke="#34402f" stroke-width="0.5"/><path d="M1059.3,312.4L1057.8,304.8" stroke="#b7c6a8" stroke-width="0.8"/><path d="M977.9,540.0L970.3,518.4" stroke="#839773" stroke-width="1.0"/><path d="M1026.1,200.1L1027.7,196.8" stroke="#34402f" stroke-width="0.4"/><path d="M1240.0,336.1L1246.1,332.7" stroke="#6d8060" stroke-width="0.6"/><path d="M1057.1,500.8L1063.5,491.4" stroke="#3f4b37" stroke-width="1.1"/><path d="M1171.1,492.3L1157.4,477.7" stroke="#4a5840" stroke-width="1.1"/><path d="M1205.5,521.6L1213.4,503.9" stroke="#34402f" stroke-width="0.9"/><path d="M1232.7,258.2L1233.2,251.1" stroke="#b7c6a8" stroke-width="0.6"/><path d="M1083.0,328.2L1080.9,322.4" stroke="#4a5840" stroke-width="0.7"/><path d="M1171.8,396.2L1174.9,382.9" stroke="#9cb08c" stroke-width="0.9"/><path d="M1238.9,474.3L1254.0,463.0" stroke="#a8b99a" stroke-width="0.9"/><path d="M1002.7,424.7L1004.9,411.7" stroke="#7a8e6a" stroke-width="0.9"/><path d="M1161.8,347.9L1156.0,336.9" stroke="#55654a" stroke-width="0.9"/><path d="M1007.2,278.4L1006.8,272.2" stroke="#7a8e6a" stroke-width="0.6"/><path d="M987.6,227.2L990.2,225.3" stroke="#55654a" stroke-width="0.5"/><path d="M1077.0,464.7L1077.6,453.0" stroke="#4a5840" stroke-width="1.1"/><path d="M1239.6,348.3L1248.5,343.0" stroke="#4a5840" stroke-width="0.7"/><path d="M1222.6,308.6L1226.2,302.0" stroke="#a8b99a" stroke-width="0.6"/><path d="M1247.7,449.0L1251.4,436.4" stroke="#55654a" stroke-width="1.0"/><path d="M1150.5,470.5L1164.6,457.4" stroke="#55654a" stroke-width="1.1"/><path d="M1248.5,360.8L1253.2,356.7" stroke="#6d8060" stroke-width="0.9"/><path d="M1216.8,483.1L1212.9,469.7" stroke="#839773" stroke-width="0.8"/><path d="M1074.7,386.1L1076.4,374.4" stroke="#3f4b37" stroke-width="0.8"/><path d="M1198.0,534.8L1200.8,524.5" stroke="#3f4b37" stroke-width="1.0"/><path d="M1026.6,420.4L1023.2,410.8" stroke="#3f4b37" stroke-width="1.1"/><path d="M959.5,378.2L955.5,367.5" stroke="#34402f" stroke-width="0.9"/><path d="M1077.8,274.7L1081.8,272.5" stroke="#55654a" stroke-width="0.6"/><path d="M1028.7,305.7L1025.0,298.5" stroke="#667a58" stroke-width="0.7"/><path d="M1012.0,302.2L1017.5,298.5" stroke="#4a5840" stroke-width="0.7"/><path d="M1155.0,242.0L1151.7,239.1" stroke="#b7c6a8" stroke-width="0.5"/><path d="M1053.6,472.5L1043.9,457.9" stroke="#34402f" stroke-width="1.2"/><path d="M1162.9,337.4L1170.3,334.2" stroke="#55654a" stroke-width="0.7"/><path d="M959.7,389.3L970.9,383.8" stroke="#3f4b37" stroke-width="0.8"/><path d="M1234.6,313.5L1234.4,307.5" stroke="#667a58" stroke-width="0.7"/><path d="M1027.7,396.6L1018.2,389.6" stroke="#4a5840" stroke-width="0.9"/><path d="M1103.0,472.5L1114.6,458.3" stroke="#3f4b37" stroke-width="1.1"/><path d="M1054.4,279.8L1053.4,272.3" stroke="#8e9486" stroke-width="0.7"/><path d="M1213.6,307.7L1221.8,304.2" stroke="#8e9486" stroke-width="0.6"/><path d="M967.6,318.3L964.3,311.1" stroke="#7a8e6a" stroke-width="0.8"/><path d="M1230.5,207.4L1232.4,205.4" stroke="#7a8e6a" stroke-width="0.5"/><path d="M1150.3,476.7L1158.1,473.7" stroke="#7a8e6a" stroke-width="1.0"/><path d="M1061.5,259.9L1057.5,258.0" stroke="#34402f" stroke-width="0.5"/><path d="M978.0,351.1L981.9,339.7" stroke="#34402f" stroke-width="0.8"/><path d="M1056.3,393.5L1063.4,386.1" stroke="#6d8060" stroke-width="1.0"/><path d="M945.2,526.5L930.1,517.1" stroke="#55654a" stroke-width="1.1"/><path d="M1100.7,464.6L1101.1,455.6" stroke="#6d8060" stroke-width="1.2"/><path d="M1205.7,192.1L1206.8,189.1" stroke="#6d8060" stroke-width="0.5"/><path d="M1241.5,359.3L1238.7,352.2" stroke="#a8b99a" stroke-width="0.8"/><path d="M1030.4,232.1L1031.0,228.4" stroke="#a8b99a" stroke-width="0.5"/><path d="M1118.0,351.3L1117.5,344.9" stroke="#3f4b37" stroke-width="0.7"/><path d="M1144.5,262.5L1143.3,256.4" stroke="#6d8060" stroke-width="0.5"/><path d="M993.0,426.7L1003.3,422.3" stroke="#55654a" stroke-width="0.8"/><path d="M1206.8,186.4L1205.3,183.9" stroke="#4a5840" stroke-width="0.4"/><path d="M1091.1,285.9L1087.3,279.8" stroke="#6d8060" stroke-width="0.6"/><path d="M977.7,286.6L979.8,279.8" stroke="#4a5840" stroke-width="0.6"/><path d="M991.2,319.2L993.3,309.4" stroke="#667a58" stroke-width="0.8"/><path d="M1132.9,398.9L1126.5,394.8" stroke="#4a5840" stroke-width="0.9"/><path d="M1114.5,450.3L1102.5,442.5" stroke="#4a5840" stroke-width="1.0"/><path d="M1064.7,464.2L1068.5,452.1" stroke="#9cb08c" stroke-width="1.0"/><path d="M1001.1,335.5L1002.9,327.6" stroke="#4a5840" stroke-width="0.7"/><path d="M1095.4,196.8L1094.3,194.1" stroke="#8e9486" stroke-width="0.4"/><path d="M1203.5,205.6L1205.4,202.0" stroke="#667a58" stroke-width="0.5"/><path d="M1117.4,272.3L1121.4,270.6" stroke="#a8b99a" stroke-width="0.6"/><path d="M1192.9,233.5L1193.9,229.3" stroke="#4a5840" stroke-width="0.5"/><path d="M984.9,270.1L988.0,264.4" stroke="#3f4b37" stroke-width="0.6"/><path d="M1042.5,277.7L1037.3,275.0" stroke="#4a5840" stroke-width="0.6"/><path d="M1046.7,296.5L1043.5,291.9" stroke="#8e9486" stroke-width="0.6"/><path d="M1077.6,313.8L1076.9,304.3" stroke="#667a58" stroke-width="0.7"/><path d="M1255.5,175.4L1254.0,173.7" stroke="#9cb08c" stroke-width="0.4"/><path d="M1126.0,461.8L1129.6,452.5" stroke="#3f4b37" stroke-width="1.0"/><path d="M945.3,472.6L957.8,466.6" stroke="#7a8e6a" stroke-width="1.1"/><path d="M1038.8,498.9L1048.5,484.2" stroke="#a8b99a" stroke-width="1.0"/><path d="M1118.1,526.8L1104.5,520.6" stroke="#9cb08c" stroke-width="1.0"/><path d="M1122.1,361.7L1123.5,352.9" stroke="#55654a" stroke-width="0.8"/><path d="M1216.7,323.0L1217.5,313.8" stroke="#4a5840" stroke-width="0.7"/><path d="M1123.4,184.6L1125.6,183.7" stroke="#3f4b37" stroke-width="0.4"/><path d="M1126.2,247.1L1123.1,243.3" stroke="#667a58" stroke-width="0.6"/><path d="M1075.4,197.7L1074.8,194.7" stroke="#6d8060" stroke-width="0.4"/><path d="M1153.3,308.7L1158.2,303.6" stroke="#9cb08c" stroke-width="0.7"/><path d="M1028.0,318.0L1024.1,311.6" stroke="#7a8e6a" stroke-width="0.8"/><path d="M1112.5,189.5L1112.8,186.7" stroke="#9cb08c" stroke-width="0.4"/><path d="M1192.0,447.7L1196.1,432.1" stroke="#839773" stroke-width="1.1"/><path d="M1040.2,364.4L1035.8,360.4" stroke="#3f4b37" stroke-width="0.9"/><path d="M1050.6,429.0L1045.8,420.4" stroke="#4a5840" stroke-width="1.0"/><path d="M1175.1,317.6L1168.4,313.7" stroke="#a8b99a" stroke-width="0.7"/><path d="M1008.4,322.7L1009.7,312.7" stroke="#6d8060" stroke-width="0.7"/><path d="M980.7,191.4L981.5,188.9" stroke="#b7c6a8" stroke-width="0.4"/><path d="M1208.5,404.2L1211.3,394.0" stroke="#34402f" stroke-width="1.0"/><path d="M1092.1,214.8L1094.3,210.8" stroke="#4a5840" stroke-width="0.5"/><path d="M957.7,503.8L965.1,483.8" stroke="#34402f" stroke-width="1.1"/><path d="M946.7,324.0L940.6,317.5" stroke="#4a5840" stroke-width="0.7"/><path d="M995.8,285.2L991.4,281.7" stroke="#8e9486" stroke-width="0.7"/><path d="M985.8,254.8L986.9,248.7" stroke="#b7c6a8" stroke-width="0.5"/><path d="M1239.3,514.1L1235.4,504.0" stroke="#7a8e6a" stroke-width="1.1"/><path d="M1001.5,292.7L1006.0,286.7" stroke="#839773" stroke-width="0.6"/><path d="M1004.0,503.8L1009.2,491.4" stroke="#a8b99a" stroke-width="1.2"/><path d="M1021.4,438.9L1015.4,430.3" stroke="#3f4b37" stroke-width="1.1"/><path d="M1072.3,415.7L1066.2,402.5" stroke="#3f4b37" stroke-width="1.1"/><path d="M1170.1,215.2L1169.4,210.7" stroke="#b7c6a8" stroke-width="0.5"/><path d="M1201.2,333.4L1195.6,325.9" stroke="#a8b99a" stroke-width="0.7"/><path d="M1064.5,376.5L1071.1,366.6" stroke="#839773" stroke-width="0.7"/><path d="M972.9,205.4L972.4,202.6" stroke="#9cb08c" stroke-width="0.5"/><path d="M948.3,478.6L941.1,471.4" stroke="#4a5840" stroke-width="0.9"/><path d="M1243.1,524.5L1250.8,516.2" stroke="#4a5840" stroke-width="1.2"/><path d="M1095.2,505.5L1095.0,489.6" stroke="#a8b99a" stroke-width="0.9"/><path d="M1242.8,467.0L1240.0,448.6" stroke="#4a5840" stroke-width="0.8"/><path d="M1253.2,474.2L1247.5,466.8" stroke="#8e9486" stroke-width="1.0"/><path d="M1057.7,361.3L1057.8,351.9" stroke="#3f4b37" stroke-width="0.9"/><path d="M977.5,482.6L967.7,475.4" stroke="#4a5840" stroke-width="1.2"/><path d="M1082.4,193.5L1083.7,191.1" stroke="#9cb08c" stroke-width="0.4"/><path d="M1254.3,530.8L1245.9,521.5" stroke="#34402f" stroke-width="0.9"/><path d="M1136.6,532.6L1129.2,524.6" stroke="#55654a" stroke-width="1.0"/><path d="M1076.4,235.1L1079.0,230.1" stroke="#3f4b37" stroke-width="0.5"/><path d="M1254.1,426.7L1265.6,418.5" stroke="#34402f" stroke-width="1.1"/><path d="M1136.9,381.6L1135.2,371.8" stroke="#667a58" stroke-width="0.8"/><path d="M1118.8,297.6L1114.2,293.2" stroke="#3f4b37" stroke-width="0.7"/><path d="M1129.1,427.1L1135.0,414.5" stroke="#9cb08c" stroke-width="1.0"/><path d="M1057.6,410.8L1048.5,398.2" stroke="#839773" stroke-width="0.8"/><path d="M953.3,451.8L957.4,439.1" stroke="#4a5840" stroke-width="0.8"/><path d="M1058.0,434.3L1067.7,428.6" stroke="#b7c6a8" stroke-width="1.0"/><path d="M1059.7,360.6L1065.1,352.8" stroke="#a8b99a" stroke-width="0.9"/><path d="M1201.1,266.7L1199.9,261.0" stroke="#55654a" stroke-width="0.6"/><path d="M1104.5,374.0L1096.2,368.1" stroke="#55654a" stroke-width="0.8"/><path d="M1099.6,359.1L1090.6,355.7" stroke="#667a58" stroke-width="0.8"/><path d="M993.7,507.7L994.2,486.7" stroke="#7a8e6a" stroke-width="0.9"/><path d="M1235.3,270.6L1241.2,267.1" stroke="#4a5840" stroke-width="0.6"/><path d="M1216.0,441.3L1215.9,425.1" stroke="#b7c6a8" stroke-width="1.1"/><path d="M983.2,453.8L981.8,437.4" stroke="#7a8e6a" stroke-width="1.1"/><path d="M1130.1,327.4L1134.8,318.9" stroke="#34402f" stroke-width="0.6"/><path d="M1223.0,354.3L1225.7,349.2" stroke="#4a5840" stroke-width="0.9"/><path d="M1207.3,246.6L1202.6,244.6" stroke="#6d8060" stroke-width="0.6"/><path d="M1054.0,383.2L1047.3,374.3" stroke="#55654a" stroke-width="0.8"/><path d="M1135.7,356.6L1140.8,344.8" stroke="#55654a" stroke-width="0.8"/><path d="M993.1,446.6L985.0,430.8" stroke="#3f4b37" stroke-width="1.1"/><path d="M1230.5,255.6L1233.8,250.2" stroke="#55654a" stroke-width="0.6"/><path d="M1166.8,444.1L1166.1,436.1" stroke="#6d8060" stroke-width="0.9"/><path d="M1133.5,319.2L1138.6,317.2" stroke="#3f4b37" stroke-width="0.7"/><path d="M1220.3,354.2L1226.7,351.1" stroke="#a8b99a" stroke-width="0.8"/><path d="M1142.0,245.7L1138.7,242.6" stroke="#7a8e6a" stroke-width="0.5"/><path d="M1143.3,282.7L1148.5,275.9" stroke="#9cb08c" stroke-width="0.7"/><path d="M1125.1,230.6L1127.4,227.0" stroke="#6d8060" stroke-width="0.5"/><path d="M1181.2,344.2L1179.5,335.1" stroke="#34402f" stroke-width="0.8"/><path d="M1000.8,245.9L1003.9,243.9" stroke="#34402f" stroke-width="0.5"/><path d="M1211.2,288.8L1218.6,285.7" stroke="#55654a" stroke-width="0.6"/><path d="M946.8,465.3L954.7,458.8" stroke="#3f4b37" stroke-width="1.1"/><path d="M1167.0,493.8L1171.4,482.3" stroke="#b7c6a8" stroke-width="1.2"/><path d="M1141.6,183.6L1139.7,182.2" stroke="#4a5840" stroke-width="0.4"/><path d="M1068.3,384.2L1066.6,375.8" stroke="#34402f" stroke-width="0.9"/><path d="M1219.9,320.3L1225.3,316.1" stroke="#839773" stroke-width="0.7"/><path d="M1174.4,261.1L1169.7,258.0" stroke="#55654a" stroke-width="0.5"/><path d="M1149.5,261.2L1143.9,257.6" stroke="#55654a" stroke-width="0.6"/><path d="M1185.1,534.9L1187.7,523.5" stroke="#a8b99a" stroke-width="1.3"/><path d="M1133.3,443.0L1135.6,429.4" stroke="#a8b99a" stroke-width="1.0"/><path d="M1175.0,200.2L1172.7,197.4" stroke="#4a5840" stroke-width="0.5"/><path d="M1182.2,482.5L1191.3,478.4" stroke="#3f4b37" stroke-width="0.9"/><path d="M1242.7,334.9L1247.3,331.9" stroke="#4a5840" stroke-width="0.8"/><path d="M1153.1,384.8L1150.6,377.4" stroke="#34402f" stroke-width="0.9"/><path d="M1142.1,410.5L1152.2,400.8" stroke="#9cb08c" stroke-width="1.0"/><path d="M1147.2,393.3L1152.7,381.5" stroke="#a8b99a" stroke-width="1.0"/><path d="M1110.0,269.0L1109.5,264.9" stroke="#4a5840" stroke-width="0.6"/><path d="M983.1,451.8L981.8,443.2" stroke="#4a5840" stroke-width="0.8"/><path d="M1135.9,354.4L1142.5,350.0" stroke="#839773" stroke-width="0.8"/><path d="M1022.8,197.6L1021.0,194.7" stroke="#6d8060" stroke-width="0.5"/><path d="M1105.5,406.0L1094.7,401.7" stroke="#4a5840" stroke-width="1.0"/><path d="M1072.2,323.0L1070.8,316.9" stroke="#4a5840" stroke-width="0.6"/><path d="M1168.4,442.4L1167.1,427.2" stroke="#34402f" stroke-width="1.1"/><path d="M1200.9,432.2L1208.5,421.9" stroke="#55654a" stroke-width="1.0"/><path d="M993.6,236.5L992.1,232.9" stroke="#b7c6a8" stroke-width="0.5"/><path d="M988.6,276.3L986.2,271.3" stroke="#839773" stroke-width="0.6"/><path d="M1215.3,311.1L1212.6,303.5" stroke="#55654a" stroke-width="0.7"/><path d="M946.7,454.7L953.1,447.4" stroke="#55654a" stroke-width="1.1"/><path d="M1202.0,261.9L1202.9,255.7" stroke="#667a58" stroke-width="0.6"/><path d="M992.0,519.6L996.4,498.9" stroke="#55654a" stroke-width="1.3"/><path d="M1047.7,457.1L1042.3,442.0" stroke="#3f4b37" stroke-width="1.1"/><path d="M1000.2,501.3L994.8,487.5" stroke="#b7c6a8" stroke-width="0.9"/><path d="M999.0,235.4L997.8,229.8" stroke="#a8b99a" stroke-width="0.5"/><path d="M1098.8,305.2L1096.4,301.0" stroke="#34402f" stroke-width="0.8"/><path d="M997.8,187.3L996.5,185.0" stroke="#8e9486" stroke-width="0.4"/><path d="M1190.8,342.9L1182.7,339.8" stroke="#b7c6a8" stroke-width="0.7"/><path d="M1026.6,278.4L1031.9,274.8" stroke="#4a5840" stroke-width="0.6"/><path d="M1251.8,338.5L1249.3,333.7" stroke="#7a8e6a" stroke-width="0.7"/><path d="M1014.8,389.5L1021.0,380.6" stroke="#55654a" stroke-width="0.8"/><path d="M1246.3,359.5L1242.4,350.0" stroke="#a8b99a" stroke-width="0.7"/><path d="M1012.3,392.6L1016.9,379.0" stroke="#3f4b37" stroke-width="0.7"/><path d="M1241.9,366.8L1250.8,357.9" stroke="#34402f" stroke-width="0.7"/><path d="M1157.8,480.2L1160.4,472.0" stroke="#55654a" stroke-width="0.8"/><path d="M1123.8,533.9L1119.5,525.8" stroke="#6d8060" stroke-width="1.3"/><path d="M1222.7,417.5L1229.5,404.9" stroke="#4a5840" stroke-width="1.0"/><path d="M1047.1,522.9L1027.6,514.7" stroke="#3f4b37" stroke-width="1.1"/><path d="M1224.3,481.4L1221.1,470.6" stroke="#839773" stroke-width="1.2"/><path d="M973.0,426.9L986.3,420.3" stroke="#7a8e6a" stroke-width="1.1"/><path d="M1152.4,360.7L1156.2,351.9" stroke="#4a5840" stroke-width="0.9"/><path d="M1087.8,206.3L1088.9,202.5" stroke="#a8b99a" stroke-width="0.5"/><path d="M1086.5,484.6L1086.3,475.6" stroke="#34402f" stroke-width="1.2"/><path d="M1164.1,454.7L1168.0,436.6" stroke="#55654a" stroke-width="0.9"/><path d="M1176.4,202.4L1174.1,200.5" stroke="#667a58" stroke-width="0.5"/><path d="M1233.1,370.1L1245.3,364.4" stroke="#3f4b37" stroke-width="0.8"/><path d="M1193.4,452.1L1184.7,438.5" stroke="#9cb08c" stroke-width="1.1"/><path d="M1171.0,297.1L1173.6,293.1" stroke="#9cb08c" stroke-width="0.6"/><path d="M1043.9,305.7L1038.2,301.1" stroke="#7a8e6a" stroke-width="0.6"/><path d="M1193.0,516.0L1208.8,504.2" stroke="#34402f" stroke-width="0.9"/><path d="M1041.3,224.7L1045.8,222.2" stroke="#8e9486" stroke-width="0.5"/><path d="M1045.4,378.2L1054.4,367.3" stroke="#55654a" stroke-width="0.8"/><path d="M1257.0,424.8L1267.8,415.7" stroke="#7a8e6a" stroke-width="1.0"/><path d="M1202.6,304.0L1198.2,298.7" stroke="#8e9486" stroke-width="0.7"/><path d="M974.4,426.5L976.9,418.0" stroke="#9cb08c" stroke-width="1.1"/><path d="M1211.4,465.1L1203.0,460.9" stroke="#55654a" stroke-width="1.1"/><path d="M1099.3,245.5L1102.2,243.3" stroke="#7a8e6a" stroke-width="0.6"/><path d="M1132.1,535.2L1113.6,524.5" stroke="#34402f" stroke-width="1.0"/><path d="M1098.6,479.0L1096.9,462.8" stroke="#4a5840" stroke-width="1.1"/><path d="M1140.2,259.5L1140.5,255.6" stroke="#b7c6a8" stroke-width="0.6"/><path d="M1143.8,264.9L1140.3,260.3" stroke="#8e9486" stroke-width="0.5"/><path d="M1178.3,285.6L1175.8,277.5" stroke="#667a58" stroke-width="0.6"/><path d="M1042.5,214.5L1043.8,211.1" stroke="#7a8e6a" stroke-width="0.5"/><path d="M1053.5,508.8L1048.1,493.5" stroke="#a8b99a" stroke-width="0.9"/><path d="M1094.5,481.2L1087.8,468.3" stroke="#4a5840" stroke-width="1.2"/><path d="M1066.8,502.2L1073.8,493.4" stroke="#9cb08c" stroke-width="1.0"/><path d="M1231.8,498.1L1226.6,487.1" stroke="#55654a" stroke-width="1.2"/><path d="M1069.9,436.8L1076.4,427.1" stroke="#34402f" stroke-width="1.0"/><path d="M1068.9,442.6L1065.2,433.8" stroke="#34402f" stroke-width="0.9"/><path d="M1116.2,511.0L1109.5,502.9" stroke="#55654a" stroke-width="0.9"/><path d="M1228.6,359.8L1231.2,347.2" stroke="#7a8e6a" stroke-width="0.7"/><path d="M1222.6,513.6L1207.7,502.6" stroke="#a8b99a" stroke-width="1.0"/><path d="M1199.5,366.5L1211.8,361.1" stroke="#55654a" stroke-width="0.8"/><path d="M1238.2,254.7L1243.8,252.1" stroke="#6d8060" stroke-width="0.6"/><path d="M994.4,482.2L1004.6,477.1" stroke="#839773" stroke-width="1.1"/><path d="M1027.3,324.5L1024.6,319.1" stroke="#3f4b37" stroke-width="0.6"/><path d="M1050.2,244.0L1053.7,239.1" stroke="#a8b99a" stroke-width="0.6"/><path d="M1208.9,480.9L1209.4,470.0" stroke="#b7c6a8" stroke-width="1.0"/><path d="M1172.2,196.6L1173.5,193.6" stroke="#3f4b37" stroke-width="0.4"/><path d="M1078.8,432.3L1083.3,420.7" stroke="#b7c6a8" stroke-width="1.0"/><path d="M1151.9,190.6L1151.7,188.0" stroke="#3f4b37" stroke-width="0.4"/><path d="M1227.4,285.6L1230.8,282.3" stroke="#55654a" stroke-width="0.7"/><path d="M1107.2,257.3L1105.3,253.6" stroke="#3f4b37" stroke-width="0.5"/><path d="M1215.0,360.9L1210.8,352.7" stroke="#4a5840" stroke-width="0.8"/><path d="M1006.8,188.0L1006.9,185.5" stroke="#55654a" stroke-width="0.4"/><path d="M1070.2,336.9L1071.3,329.0" stroke="#34402f" stroke-width="0.8"/><path d="M1219.3,514.8L1211.4,506.4" stroke="#34402f" stroke-width="1.1"/><path d="M1102.6,380.4L1103.4,368.4" stroke="#8e9486" stroke-width="0.8"/><path d="M1049.5,342.7L1039.2,336.5" stroke="#55654a" stroke-width="0.8"/><path d="M1145.8,306.4L1149.0,301.3" stroke="#839773" stroke-width="0.7"/><path d="M1026.3,416.2L1023.8,409.1" stroke="#34402f" stroke-width="1.0"/><path d="M1219.9,368.6L1218.4,362.5" stroke="#839773" stroke-width="0.8"/><path d="M1242.5,376.1L1250.6,367.6" stroke="#4a5840" stroke-width="1.0"/><path d="M1253.0,446.1L1260.4,430.9" stroke="#839773" stroke-width="1.0"/><path d="M1035.8,258.5L1038.6,256.0" stroke="#55654a" stroke-width="0.5"/><path d="M1083.5,421.3L1091.8,417.2" stroke="#667a58" stroke-width="0.9"/><path d="M1248.7,316.6L1244.7,310.6" stroke="#34402f" stroke-width="0.6"/><path d="M969.7,346.8L974.9,344.2" stroke="#55654a" stroke-width="0.7"/><path d="M1138.1,315.1L1137.1,309.3" stroke="#55654a" stroke-width="0.6"/><path d="M1151.7,184.1L1153.5,182.5" stroke="#6d8060" stroke-width="0.4"/><path d="M1199.9,485.8L1213.7,472.2" stroke="#667a58" stroke-width="0.9"/><path d="M1020.4,182.3L1022.2,180.8" stroke="#9cb08c" stroke-width="0.4"/><path d="M1215.8,210.9L1214.2,207.0" stroke="#839773" stroke-width="0.5"/><path d="M1248.4,206.2L1246.2,204.5" stroke="#34402f" stroke-width="0.5"/><path d="M1154.3,502.1L1166.6,494.1" stroke="#3f4b37" stroke-width="1.0"/><path d="M1082.8,519.3L1069.8,509.4" stroke="#3f4b37" stroke-width="1.2"/><path d="M1007.5,231.7L1008.3,226.4" stroke="#839773" stroke-width="0.5"/><path d="M983.0,343.1L985.2,336.0" stroke="#3f4b37" stroke-width="0.8"/><path d="M1002.6,223.5L999.4,219.9" stroke="#55654a" stroke-width="0.5"/><path d="M1100.6,438.2L1114.1,428.1" stroke="#7a8e6a" stroke-width="0.8"/><path d="M1068.7,376.3L1065.1,370.6" stroke="#55654a" stroke-width="0.7"/><path d="M1002.1,400.9L1007.5,392.5" stroke="#9cb08c" stroke-width="1.0"/><path d="M1234.8,248.6L1236.5,245.4" stroke="#4a5840" stroke-width="0.6"/><path d="M1104.6,262.7L1103.5,257.3" stroke="#7a8e6a" stroke-width="0.6"/><path d="M1011.1,423.6L1009.7,412.7" stroke="#667a58" stroke-width="0.9"/><path d="M1220.7,320.0L1217.5,309.8" stroke="#4a5840" stroke-width="0.7"/><path d="M972.3,474.0L965.0,464.2" stroke="#4a5840" stroke-width="0.9"/><path d="M988.8,378.7L982.5,366.1" stroke="#6d8060" stroke-width="0.8"/><path d="M1171.3,520.0L1172.5,499.0" stroke="#4a5840" stroke-width="0.9"/><path d="M1075.5,525.6L1093.3,514.0" stroke="#8e9486" stroke-width="1.0"/><path d="M1017.2,419.0L1014.3,412.3" stroke="#667a58" stroke-width="0.8"/><path d="M1088.3,241.2L1093.5,238.1" stroke="#34402f" stroke-width="0.6"/><path d="M1253.2,420.7L1260.3,413.9" stroke="#a8b99a" stroke-width="1.1"/><path d="M1135.4,254.8L1135.0,251.1" stroke="#34402f" stroke-width="0.5"/><path d="M1071.8,181.1L1073.4,179.5" stroke="#a8b99a" stroke-width="0.4"/><path d="M1176.8,422.3L1168.8,412.2" stroke="#55654a" stroke-width="1.0"/><path d="M999.9,227.1L1004.3,224.5" stroke="#8e9486" stroke-width="0.5"/><path d="M958.6,193.9L958.1,191.0" stroke="#55654a" stroke-width="0.5"/><path d="M983.5,527.8L968.6,521.6" stroke="#7a8e6a" stroke-width="1.4"/><path d="M996.3,455.9L994.5,440.4" stroke="#34402f" stroke-width="1.1"/><path d="M1134.7,509.3L1130.7,499.2" stroke="#b7c6a8" stroke-width="1.0"/><path d="M1196.8,231.3L1197.0,226.0" stroke="#34402f" stroke-width="0.5"/><path d="M1098.7,205.0L1101.0,202.2" stroke="#4a5840" stroke-width="0.5"/><path d="M1005.7,180.9L1006.5,178.5" stroke="#839773" stroke-width="0.4"/><path d="M1089.5,471.6L1092.1,461.8" stroke="#b7c6a8" stroke-width="0.9"/><path d="M1234.3,386.6L1243.5,377.3" stroke="#a8b99a" stroke-width="0.7"/><path d="M1205.0,442.8L1199.2,436.5" stroke="#55654a" stroke-width="1.1"/><path d="M1115.2,538.7L1119.5,519.6" stroke="#3f4b37" stroke-width="1.2"/><path d="M1190.9,441.0L1189.0,424.6" stroke="#8e9486" stroke-width="0.9"/><path d="M1149.8,529.5L1136.9,520.9" stroke="#3f4b37" stroke-width="1.1"/><path d="M1066.2,407.5L1066.0,397.0" stroke="#7a8e6a" stroke-width="0.9"/><path d="M1115.2,330.0L1110.3,327.5" stroke="#a8b99a" stroke-width="0.8"/><path d="M1254.0,422.3L1259.2,410.6" stroke="#34402f" stroke-width="0.7"/><path d="M1043.5,527.8L1059.8,518.9" stroke="#55654a" stroke-width="1.3"/><path d="M1121.1,373.1L1113.8,365.6" stroke="#839773" stroke-width="0.8"/><path d="M1053.0,379.8L1040.9,372.5" stroke="#34402f" stroke-width="0.7"/><path d="M1203.1,224.5L1202.1,219.6" stroke="#34402f" stroke-width="0.5"/><path d="M1133.3,518.0L1125.5,508.8" stroke="#34402f" stroke-width="1.2"/><path d="M1116.8,261.9L1117.5,255.8" stroke="#8e9486" stroke-width="0.6"/><path d="M1230.4,354.0L1229.3,347.8" stroke="#839773" stroke-width="0.7"/><path d="M997.0,379.7L986.8,370.9" stroke="#9cb08c" stroke-width="0.9"/><path d="M1056.4,276.2L1054.7,271.3" stroke="#55654a" stroke-width="0.6"/><path d="M1036.9,203.5L1038.2,200.2" stroke="#3f4b37" stroke-width="0.5"/><path d="M1196.3,312.3L1188.9,305.9" stroke="#3f4b37" stroke-width="0.7"/><path d="M1051.0,494.8L1052.2,482.9" stroke="#55654a" stroke-width="1.0"/><path d="M1183.4,349.2L1183.9,337.7" stroke="#7a8e6a" stroke-width="0.7"/><path d="M968.3,301.2L968.4,295.7" stroke="#667a58" stroke-width="0.6"/><path d="M988.0,306.6L990.7,301.6" stroke="#b7c6a8" stroke-width="0.7"/><path d="M1014.2,462.0L1029.2,455.1" stroke="#839773" stroke-width="0.9"/><path d="M1138.6,438.5L1141.1,422.1" stroke="#55654a" stroke-width="0.9"/><path d="M1002.3,228.8L1002.7,225.5" stroke="#9cb08c" stroke-width="0.5"/><path d="M1137.6,221.9L1134.5,219.3" stroke="#3f4b37" stroke-width="0.5"/><path d="M982.3,524.9L967.5,510.6" stroke="#9cb08c" stroke-width="1.2"/><path d="M1030.0,279.2L1028.6,273.1" stroke="#34402f" stroke-width="0.7"/><path d="M1067.8,389.9L1062.5,376.3" stroke="#8e9486" stroke-width="0.9"/><path d="M1027.5,234.0L1030.8,229.5" stroke="#3f4b37" stroke-width="0.5"/><path d="M1186.5,286.4L1185.3,281.8" stroke="#3f4b37" stroke-width="0.6"/><path d="M1048.6,241.1L1051.1,237.4" stroke="#4a5840" stroke-width="0.6"/><path d="M1008.6,188.7L1007.8,186.1" stroke="#4a5840" stroke-width="0.4"/><path d="M1006.0,329.1L1015.4,323.8" stroke="#3f4b37" stroke-width="0.8"/><path d="M1171.2,343.1L1165.8,333.9" stroke="#a8b99a" stroke-width="0.6"/><path d="M1166.8,391.0L1174.4,383.4" stroke="#6d8060" stroke-width="0.9"/><path d="M1112.5,248.0L1110.4,242.8" stroke="#6d8060" stroke-width="0.5"/><path d="M1001.5,251.4L1003.2,248.0" stroke="#b7c6a8" stroke-width="0.6"/><path d="M1163.7,202.2L1164.7,199.4" stroke="#55654a" stroke-width="0.5"/><path d="M1087.2,308.2L1082.8,306.2" stroke="#55654a" stroke-width="0.8"/><path d="M1189.1,346.8L1186.7,340.0" stroke="#55654a" stroke-width="0.9"/><path d="M984.5,283.9L987.7,279.7" stroke="#839773" stroke-width="0.6"/><path d="M1157.2,383.9L1151.8,378.3" stroke="#b7c6a8" stroke-width="0.8"/><path d="M1145.4,448.0L1150.4,432.8" stroke="#4a5840" stroke-width="1.1"/><path d="M1186.6,409.9L1182.7,404.0" stroke="#6d8060" stroke-width="0.7"/><path d="M1234.1,306.5L1233.4,300.5" stroke="#667a58" stroke-width="0.6"/><path d="M1021.2,469.7L1015.9,457.4" stroke="#55654a" stroke-width="1.0"/><path d="M1019.5,485.9L1002.5,475.7" stroke="#3f4b37" stroke-width="0.9"/><path d="M1136.2,377.1L1147.7,372.6" stroke="#9cb08c" stroke-width="0.7"/><path d="M1010.4,179.9L1012.7,178.9" stroke="#34402f" stroke-width="0.4"/><path d="M1032.1,407.1L1024.0,399.7" stroke="#a8b99a" stroke-width="0.9"/><path d="M1192.9,515.0L1199.9,507.8" stroke="#3f4b37" stroke-width="1.0"/><path d="M1105.9,230.6L1109.4,227.3" stroke="#3f4b37" stroke-width="0.5"/><path d="M1126.6,399.4L1137.4,394.8" stroke="#b7c6a8" stroke-width="0.9"/><path d="M991.8,305.1L985.9,297.3" stroke="#55654a" stroke-width="0.6"/><path d="M1110.4,537.0L1125.2,531.5" stroke="#34402f" stroke-width="1.3"/><path d="M1164.0,271.4L1160.5,264.6" stroke="#55654a" stroke-width="0.6"/><path d="M999.5,227.7L997.8,223.4" stroke="#b7c6a8" stroke-width="0.5"/><path d="M1256.3,368.3L1253.9,359.7" stroke="#34402f" stroke-width="0.7"/><path d="M960.1,413.9L972.6,407.0" stroke="#9cb08c" stroke-width="0.8"/><path d="M1248.1,285.6L1244.8,281.2" stroke="#4a5840" stroke-width="0.6"/><path d="M1235.7,496.9L1250.6,487.8" stroke="#34402f" stroke-width="1.0"/><path d="M1158.4,306.3L1153.6,304.3" stroke="#7a8e6a" stroke-width="0.7"/><path d="M1165.1,539.3L1155.5,524.9" stroke="#3f4b37" stroke-width="1.0"/><path d="M962.1,501.8L964.6,484.4" stroke="#4a5840" stroke-width="0.9"/><path d="M1097.6,240.3L1093.5,236.0" stroke="#a8b99a" stroke-width="0.5"/><path d="M998.6,285.0L1002.0,277.9" stroke="#4a5840" stroke-width="0.7"/><path d="M1037.3,247.2L1033.4,242.2" stroke="#34402f" stroke-width="0.6"/><path d="M1197.2,337.3L1193.7,329.6" stroke="#34402f" stroke-width="0.9"/><path d="M999.8,446.5L984.5,439.1" stroke="#8e9486" stroke-width="1.0"/><path d="M1162.5,510.2L1177.8,500.3" stroke="#4a5840" stroke-width="1.3"/><path d="M1052.4,372.9L1055.3,365.7" stroke="#34402f" stroke-width="0.7"/><path d="M1016.4,217.6L1018.5,214.2" stroke="#8e9486" stroke-width="0.5"/><path d="M1190.2,293.9L1188.0,289.6" stroke="#8e9486" stroke-width="0.7"/><path d="M1140.4,343.3L1136.9,332.2" stroke="#7a8e6a" stroke-width="0.7"/><path d="M1138.0,287.2L1136.8,281.9" stroke="#8e9486" stroke-width="0.7"/><path d="M1143.4,482.6L1142.6,467.7" stroke="#8e9486" stroke-width="1.2"/><path d="M1150.1,411.4L1140.7,399.2" stroke="#667a58" stroke-width="0.9"/><path d="M1003.5,525.7L1010.9,519.4" stroke="#6d8060" stroke-width="0.9"/><path d="M1032.3,364.3L1028.5,355.2" stroke="#4a5840" stroke-width="0.8"/><path d="M1148.1,499.8L1160.6,492.1" stroke="#3f4b37" stroke-width="1.1"/><path d="M1217.9,247.4L1219.0,242.1" stroke="#6d8060" stroke-width="0.5"/><path d="M979.8,430.3L973.5,418.6" stroke="#55654a" stroke-width="1.0"/><path d="M994.4,321.3L998.7,316.5" stroke="#a8b99a" stroke-width="0.8"/><path d="M1172.7,497.2L1175.6,483.1" stroke="#4a5840" stroke-width="1.0"/><path d="M959.0,430.6L964.2,420.3" stroke="#a8b99a" stroke-width="1.0"/><path d="M1096.1,240.0L1101.0,236.7" stroke="#34402f" stroke-width="0.6"/><path d="M1114.3,176.0L1112.6,174.3" stroke="#667a58" stroke-width="0.4"/><path d="M997.6,526.3L1008.5,521.8" stroke="#34402f" stroke-width="0.9"/><path d="M1014.0,309.3L1022.2,305.6" stroke="#3f4b37" stroke-width="0.7"/><path d="M1135.2,255.1L1130.1,251.3" stroke="#8e9486" stroke-width="0.6"/><path d="M965.3,491.2L969.0,482.8" stroke="#a8b99a" stroke-width="0.9"/><path d="M1095.2,513.6L1082.9,503.3" stroke="#3f4b37" stroke-width="1.1"/><path d="M1092.2,496.3L1101.5,488.7" stroke="#8e9486" stroke-width="0.9"/><path d="M1058.9,215.3L1061.4,213.7" stroke="#b7c6a8" stroke-width="0.5"/><path d="M1009.3,278.9L1008.1,273.5" stroke="#b7c6a8" stroke-width="0.6"/><path d="M987.9,487.7L972.5,478.7" stroke="#34402f" stroke-width="1.2"/><path d="M1155.2,417.5L1147.7,405.4" stroke="#839773" stroke-width="0.9"/><path d="M1050.5,234.1L1054.7,230.7" stroke="#667a58" stroke-width="0.5"/><path d="M1154.6,459.3L1155.6,451.4" stroke="#3f4b37" stroke-width="0.9"/><path d="M964.9,226.0L964.2,221.7" stroke="#6d8060" stroke-width="0.5"/><path d="M1082.8,429.5L1093.5,421.7" stroke="#b7c6a8" stroke-width="0.8"/><path d="M1020.8,247.8L1023.5,244.2" stroke="#4a5840" stroke-width="0.6"/><path d="M1138.3,308.9L1135.7,302.8" stroke="#8e9486" stroke-width="0.7"/><path d="M1163.9,382.8L1161.7,374.1" stroke="#667a58" stroke-width="0.9"/><path d="M1149.9,287.4L1153.2,281.0" stroke="#839773" stroke-width="0.6"/><path d="M1101.0,227.2L1103.2,224.6" stroke="#34402f" stroke-width="0.5"/><path d="M1010.0,324.1L1006.3,319.9" stroke="#6d8060" stroke-width="0.6"/><path d="M945.4,241.2L950.1,238.3" stroke="#839773" stroke-width="0.6"/><path d="M1032.5,295.9L1039.2,291.0" stroke="#839773" stroke-width="0.7"/><path d="M1131.2,352.7L1136.6,341.3" stroke="#3f4b37" stroke-width="0.9"/><path d="M1159.4,442.0L1158.2,433.0" stroke="#a8b99a" stroke-width="1.0"/><path d="M1167.3,425.9L1169.8,417.7" stroke="#34402f" stroke-width="1.1"/><path d="M1143.5,229.1L1144.5,225.0" stroke="#b7c6a8" stroke-width="0.5"/><path d="M980.4,456.1L972.7,444.5" stroke="#55654a" stroke-width="1.0"/><path d="M1102.3,426.2L1103.4,412.1" stroke="#839773" stroke-width="1.0"/><path d="M971.6,362.9L964.6,359.8" stroke="#839773" stroke-width="0.9"/><path d="M1238.5,425.5L1239.0,414.2" stroke="#667a58" stroke-width="1.1"/><path d="M1199.9,373.0L1192.4,369.1" stroke="#6d8060" stroke-width="0.9"/><path d="M1088.8,317.9L1092.7,311.9" stroke="#667a58" stroke-width="0.7"/><path d="M1122.9,433.0L1118.6,421.3" stroke="#a8b99a" stroke-width="1.0"/><path d="M1025.0,389.7L1026.8,376.4" stroke="#34402f" stroke-width="0.8"/><path d="M962.0,315.5L964.1,310.8" stroke="#8e9486" stroke-width="0.8"/><path d="M1178.2,517.0L1166.8,509.6" stroke="#34402f" stroke-width="1.2"/><path d="M1197.6,469.6L1189.7,465.1" stroke="#b7c6a8" stroke-width="1.0"/><path d="M1244.9,265.9L1244.3,260.1" stroke="#667a58" stroke-width="0.6"/><path d="M1249.5,321.1L1251.1,315.6" stroke="#34402f" stroke-width="0.8"/><path d="M1188.4,385.5L1183.6,381.0" stroke="#839773" stroke-width="0.8"/><path d="M957.2,480.1L971.4,468.7" stroke="#7a8e6a" stroke-width="1.1"/><path d="M954.1,239.7L951.5,237.4" stroke="#a8b99a" stroke-width="0.5"/><path d="M1136.3,186.5L1138.8,185.5" stroke="#7a8e6a" stroke-width="0.4"/><path d="M1145.4,266.4L1146.7,260.7" stroke="#55654a" stroke-width="0.5"/><path d="M1227.2,457.5L1242.5,448.4" stroke="#a8b99a" stroke-width="1.1"/><path d="M1123.6,301.3L1127.9,294.9" stroke="#55654a" stroke-width="0.7"/><path d="M1020.9,204.9L1023.9,202.7" stroke="#9cb08c" stroke-width="0.5"/><path d="M1249.0,300.9L1251.7,294.8" stroke="#8e9486" stroke-width="0.8"/><path d="M1105.5,286.7L1108.8,283.5" stroke="#b7c6a8" stroke-width="0.6"/><path d="M1218.0,190.3L1217.9,187.4" stroke="#34402f" stroke-width="0.4"/><path d="M1252.8,431.4L1243.6,422.0" stroke="#6d8060" stroke-width="1.1"/><path d="M1191.0,216.3L1191.1,213.4" stroke="#8e9486" stroke-width="0.5"/><path d="M1121.2,294.0L1128.4,290.2" stroke="#8e9486" stroke-width="0.7"/><path d="M1009.0,529.3L1013.3,514.5" stroke="#3f4b37" stroke-width="1.2"/><path d="M1113.6,510.8L1108.7,501.0" stroke="#3f4b37" stroke-width="1.3"/><path d="M1105.0,444.4L1104.0,435.0" stroke="#667a58" stroke-width="0.9"/><path d="M1086.0,442.0L1093.2,436.7" stroke="#b7c6a8" stroke-width="0.9"/><path d="M1110.2,242.5L1106.9,239.8" stroke="#6d8060" stroke-width="0.5"/><path d="M1179.5,422.6L1173.1,413.3" stroke="#839773" stroke-width="0.8"/><path d="M1041.5,408.9L1029.3,399.1" stroke="#4a5840" stroke-width="0.9"/><path d="M1163.9,519.8L1178.9,510.9" stroke="#55654a" stroke-width="1.2"/><path d="M1024.3,265.7L1018.6,263.5" stroke="#a8b99a" stroke-width="0.6"/><path d="M986.3,411.7L979.0,405.8" stroke="#667a58" stroke-width="1.0"/><path d="M1247.1,449.0L1244.1,440.0" stroke="#6d8060" stroke-width="1.0"/><path d="M1043.3,266.3L1037.8,263.1" stroke="#34402f" stroke-width="0.6"/><path d="M1095.9,262.2L1095.5,256.0" stroke="#34402f" stroke-width="0.5"/><path d="M1080.1,242.7L1082.1,238.1" stroke="#55654a" stroke-width="0.5"/><path d="M1039.8,388.6L1042.8,380.9" stroke="#839773" stroke-width="1.0"/><path d="M1204.7,284.3L1204.3,279.3" stroke="#3f4b37" stroke-width="0.6"/><path d="M1013.9,269.9L1012.6,265.9" stroke="#34402f" stroke-width="0.6"/><path d="M1031.3,326.0L1033.8,316.1" stroke="#667a58" stroke-width="0.7"/><path d="M1108.2,192.8L1106.1,190.6" stroke="#55654a" stroke-width="0.5"/><path d="M1042.9,268.4L1038.7,264.5" stroke="#34402f" stroke-width="0.6"/><path d="M1244.9,279.0L1238.7,273.8" stroke="#b7c6a8" stroke-width="0.7"/><path d="M1230.1,274.1L1233.1,267.6" stroke="#7a8e6a" stroke-width="0.6"/><path d="M1182.6,200.6L1185.3,198.2" stroke="#9cb08c" stroke-width="0.5"/><path d="M1079.0,223.4L1080.5,220.6" stroke="#4a5840" stroke-width="0.5"/><path d="M1123.0,506.6L1115.9,495.3" stroke="#667a58" stroke-width="0.9"/><path d="M1005.0,249.2L1001.8,247.1" stroke="#6d8060" stroke-width="0.5"/><path d="M1078.1,480.3L1068.9,463.5" stroke="#34402f" stroke-width="1.1"/><path d="M1166.5,444.7L1158.9,437.3" stroke="#34402f" stroke-width="1.1"/><path d="M1079.6,534.5L1087.6,529.2" stroke="#4a5840" stroke-width="1.3"/><path d="M1215.1,457.6L1206.4,451.3" stroke="#667a58" stroke-width="1.0"/><path d="M1094.5,526.9L1093.3,506.6" stroke="#a8b99a" stroke-width="1.0"/><path d="M1047.7,512.3L1048.0,492.3" stroke="#9cb08c" stroke-width="1.2"/><path d="M1254.8,443.2L1255.9,434.5" stroke="#b7c6a8" stroke-width="1.0"/><path d="M1159.3,222.7L1160.3,218.9" stroke="#839773" stroke-width="0.5"/><path d="M1066.9,309.1L1073.0,306.6" stroke="#839773" stroke-width="0.7"/><path d="M982.2,302.7L984.9,298.8" stroke="#4a5840" stroke-width="0.7"/><path d="M1154.1,539.1L1143.1,533.8" stroke="#b7c6a8" stroke-width="0.9"/><path d="M1026.0,369.6L1015.3,364.4" stroke="#3f4b37" stroke-width="0.7"/><path d="M950.2,224.8L953.1,221.5" stroke="#839773" stroke-width="0.5"/><path d="M982.3,514.6L979.4,504.9" stroke="#6d8060" stroke-width="1.2"/><path d="M1170.2,489.1L1155.3,476.0" stroke="#7a8e6a" stroke-width="1.2"/><path d="M1100.8,219.2L1103.2,215.2" stroke="#a8b99a" stroke-width="0.5"/><path d="M1014.1,495.9L1016.1,481.5" stroke="#55654a" stroke-width="1.1"/><path d="M1055.6,309.3L1057.2,302.2" stroke="#3f4b37" stroke-width="0.6"/><path d="M1107.4,353.8L1115.0,351.0" stroke="#667a58" stroke-width="0.7"/><path d="M1000.5,459.8L1016.0,453.4" stroke="#55654a" stroke-width="1.1"/><path d="M960.8,456.8L954.2,447.8" stroke="#9cb08c" stroke-width="1.0"/><path d="M1101.2,516.2L1087.9,505.5" stroke="#3f4b37" stroke-width="1.2"/><path d="M1104.8,259.7L1108.9,256.6" stroke="#9cb08c" stroke-width="0.6"/><path d="M1079.9,417.3L1082.6,409.8" stroke="#b7c6a8" stroke-width="1.0"/><path d="M1157.2,295.9L1160.9,289.6" stroke="#4a5840" stroke-width="0.6"/><path d="M1076.5,341.4L1074.6,334.7" stroke="#34402f" stroke-width="0.8"/><path d="M1083.5,339.2L1073.9,332.3" stroke="#a8b99a" stroke-width="0.7"/><path d="M1171.5,297.6L1171.8,289.8" stroke="#3f4b37" stroke-width="0.6"/><path d="M1004.8,289.9L1000.0,287.4" stroke="#55654a" stroke-width="0.6"/><path d="M945.8,179.7L946.8,177.4" stroke="#7a8e6a" stroke-width="0.4"/><path d="M980.2,394.8L990.8,385.7" stroke="#667a58" stroke-width="1.0"/><path d="M1248.3,538.4L1253.1,526.5" stroke="#55654a" stroke-width="1.3"/><path d="M1246.9,198.2L1248.2,194.9" stroke="#6d8060" stroke-width="0.5"/><path d="M1116.5,411.9L1109.7,408.1" stroke="#55654a" stroke-width="0.9"/><path d="M1232.5,260.8L1227.1,258.1" stroke="#7a8e6a" stroke-width="0.6"/><path d="M1210.0,263.4L1210.5,259.5" stroke="#839773" stroke-width="0.6"/><path d="M1138.1,522.7L1120.8,512.5" stroke="#9cb08c" stroke-width="1.2"/><path d="M1074.4,185.0L1077.0,183.8" stroke="#a8b99a" stroke-width="0.4"/><path d="M1139.9,473.5L1148.3,467.7" stroke="#7a8e6a" stroke-width="1.0"/><path d="M1166.1,221.2L1163.2,219.6" stroke="#a8b99a" stroke-width="0.5"/><path d="M1130.4,330.5L1127.8,320.7" stroke="#7a8e6a" stroke-width="0.7"/><path d="M1222.4,310.6L1229.7,303.6" stroke="#a8b99a" stroke-width="0.6"/><path d="M1058.9,286.8L1057.6,281.7" stroke="#34402f" stroke-width="0.7"/><path d="M1111.9,438.8L1118.9,423.5" stroke="#55654a" stroke-width="1.1"/><path d="M1136.1,194.5L1133.3,192.9" stroke="#b7c6a8" stroke-width="0.5"/><path d="M1200.1,314.1L1194.0,306.3" stroke="#a8b99a" stroke-width="0.6"/><path d="M1254.2,331.8L1256.8,320.8" stroke="#3f4b37" stroke-width="0.7"/><path d="M1177.3,300.4L1181.1,293.0" stroke="#55654a" stroke-width="0.7"/><path d="M1144.7,443.2L1134.7,436.1" stroke="#34402f" stroke-width="1.1"/><path d="M1119.1,273.7L1117.4,270.1" stroke="#34402f" stroke-width="0.6"/><path d="M1106.4,400.0L1096.0,392.0" stroke="#839773" stroke-width="1.0"/><path d="M1212.8,261.1L1213.4,256.8" stroke="#3f4b37" stroke-width="0.6"/><path d="M1022.0,396.1L1032.9,389.9" stroke="#3f4b37" stroke-width="1.0"/><path d="M1206.0,524.5L1204.3,505.6" stroke="#3f4b37" stroke-width="1.1"/><path d="M1191.0,187.9L1188.7,186.0" stroke="#55654a" stroke-width="0.4"/><path d="M1125.0,322.3L1125.3,313.8" stroke="#a8b99a" stroke-width="0.8"/><path d="M985.1,271.8L988.7,268.2" stroke="#4a5840" stroke-width="0.6"/><path d="M1216.9,319.6L1213.0,315.4" stroke="#667a58" stroke-width="0.7"/><path d="M1170.7,238.9L1167.3,236.7" stroke="#55654a" stroke-width="0.5"/><path d="M1142.8,217.7L1146.1,216.4" stroke="#a8b99a" stroke-width="0.5"/><path d="M1152.0,396.0L1158.0,392.1" stroke="#a8b99a" stroke-width="1.0"/><path d="M1239.9,237.6L1244.6,234.4" stroke="#34402f" stroke-width="0.6"/><path d="M1205.6,297.4L1207.2,288.8" stroke="#3f4b37" stroke-width="0.7"/><path d="M1252.9,176.4L1253.0,174.2" stroke="#7a8e6a" stroke-width="0.4"/><path d="M957.1,356.4L958.8,346.6" stroke="#8e9486" stroke-width="0.8"/><path d="M1180.9,532.6L1184.9,522.2" stroke="#34402f" stroke-width="0.9"/><path d="M1101.4,184.9L1099.0,183.3" stroke="#b7c6a8" stroke-width="0.4"/><path d="M1125.4,370.3L1129.6,361.1" stroke="#7a8e6a" stroke-width="0.9"/><path d="M1110.4,325.4L1116.6,322.4" stroke="#a8b99a" stroke-width="0.6"/><path d="M1182.3,207.8L1179.7,206.8" stroke="#9cb08c" stroke-width="0.5"/><path d="M1201.6,220.3L1199.7,216.6" stroke="#b7c6a8" stroke-width="0.5"/><path d="M1247.3,248.5L1244.5,244.2" stroke="#3f4b37" stroke-width="0.6"/><path d="M1062.6,222.8L1063.1,219.2" stroke="#9cb08c" stroke-width="0.5"/><path d="M1114.8,390.9L1122.0,386.0" stroke="#55654a" stroke-width="0.9"/><path d="M1135.5,464.9L1149.4,456.1" stroke="#3f4b37" stroke-width="0.9"/><path d="M1044.4,496.1L1040.7,481.4" stroke="#55654a" stroke-width="1.0"/><path d="M1072.4,530.5L1091.4,522.4" stroke="#34402f" stroke-width="0.9"/><path d="M1224.2,300.3L1226.5,295.5" stroke="#7a8e6a" stroke-width="0.8"/><path d="M1065.4,372.8L1063.5,360.1" stroke="#3f4b37" stroke-width="0.9"/><path d="M949.3,396.1L954.0,391.8" stroke="#9cb08c" stroke-width="0.9"/><path d="M1125.6,493.1L1117.0,483.2" stroke="#9cb08c" stroke-width="1.0"/><path d="M1085.9,500.5L1090.8,481.3" stroke="#7a8e6a" stroke-width="1.3"/><path d="M1157.4,189.6L1155.8,187.8" stroke="#b7c6a8" stroke-width="0.4"/><path d="M1086.2,441.7L1089.5,433.7" stroke="#7a8e6a" stroke-width="0.9"/><path d="M1118.8,345.6L1123.7,342.9" stroke="#667a58" stroke-width="0.7"/><path d="M1052.6,323.6L1059.1,316.6" stroke="#55654a" stroke-width="0.8"/><path d="M1246.9,338.9L1251.4,333.9" stroke="#a8b99a" stroke-width="0.7"/><path d="M1206.0,458.1L1203.9,449.6" stroke="#4a5840" stroke-width="1.1"/><path d="M1208.8,236.7L1206.0,232.2" stroke="#8e9486" stroke-width="0.5"/><path d="M1174.5,341.8L1172.1,336.5" stroke="#7a8e6a" stroke-width="0.8"/><path d="M1055.8,278.6L1055.5,270.6" stroke="#6d8060" stroke-width="0.6"/><path d="M1083.0,304.7L1082.1,295.4" stroke="#34402f" stroke-width="0.7"/><path d="M1031.8,188.1L1029.2,187.2" stroke="#3f4b37" stroke-width="0.4"/><path d="M945.5,422.4L944.1,409.4" stroke="#8e9486" stroke-width="1.1"/><path d="M1154.2,349.2L1145.3,343.4" stroke="#34402f" stroke-width="0.7"/><path d="M1243.1,262.7L1245.1,256.6" stroke="#6d8060" stroke-width="0.6"/><path d="M1086.8,249.9L1092.2,247.1" stroke="#b7c6a8" stroke-width="0.6"/><path d="M1041.2,488.6L1041.4,479.3" stroke="#34402f" stroke-width="0.9"/><path d="M1085.2,364.6L1088.9,359.4" stroke="#3f4b37" stroke-width="0.8"/><path d="M1102.0,428.5L1109.8,414.0" stroke="#b7c6a8" stroke-width="1.0"/><path d="M1075.9,431.0L1088.8,420.0" stroke="#8e9486" stroke-width="0.8"/><path d="M985.9,221.7L988.5,218.8" stroke="#55654a" stroke-width="0.5"/><path d="M1227.4,424.7L1239.8,418.8" stroke="#9cb08c" stroke-width="1.1"/><path d="M1156.1,245.1L1152.8,242.6" stroke="#8e9486" stroke-width="0.5"/><path d="M1156.8,278.1L1156.5,270.9" stroke="#a8b99a" stroke-width="0.7"/><path d="M1117.8,427.3L1124.5,424.5" stroke="#7a8e6a" stroke-width="0.9"/><path d="M1037.5,379.7L1044.5,375.7" stroke="#55654a" stroke-width="0.8"/><path d="M1226.4,238.5L1230.0,235.8" stroke="#55654a" stroke-width="0.5"/><path d="M1007.8,231.9L1003.8,229.3" stroke="#34402f" stroke-width="0.5"/><path d="M1094.1,315.7L1085.4,310.5" stroke="#6d8060" stroke-width="0.7"/><path d="M1113.6,494.1L1120.3,478.8" stroke="#4a5840" stroke-width="1.0"/><path d="M1137.6,334.0L1133.9,326.6" stroke="#8e9486" stroke-width="0.7"/><path d="M1067.5,381.4L1076.6,376.7" stroke="#9cb08c" stroke-width="0.9"/><path d="M1179.9,219.2L1178.5,215.3" stroke="#7a8e6a" stroke-width="0.5"/><path d="M1033.6,446.3L1024.6,440.4" stroke="#4a5840" stroke-width="1.1"/><path d="M956.2,213.6L953.8,211.9" stroke="#8e9486" stroke-width="0.5"/><path d="M1131.0,234.9L1136.2,232.4" stroke="#6d8060" stroke-width="0.5"/><path d="M1041.6,240.9L1039.9,237.3" stroke="#a8b99a" stroke-width="0.6"/><path d="M964.1,319.6L957.9,315.7" stroke="#4a5840" stroke-width="0.7"/><path d="M1177.9,416.5L1180.8,400.5" stroke="#55654a" stroke-width="0.7"/><path d="M1233.5,405.5L1229.1,398.5" stroke="#55654a" stroke-width="1.0"/><path d="M972.4,303.1L973.6,294.5" stroke="#34402f" stroke-width="0.7"/><path d="M1161.7,269.7L1166.1,263.8" stroke="#839773" stroke-width="0.6"/><path d="M1239.8,290.6L1239.1,283.1" stroke="#4a5840" stroke-width="0.7"/><path d="M1247.4,428.5L1243.3,414.0" stroke="#667a58" stroke-width="1.0"/><path d="M1045.6,437.7L1050.3,429.6" stroke="#3f4b37" stroke-width="1.0"/><path d="M1128.2,227.3L1124.7,225.8" stroke="#667a58" stroke-width="0.5"/><path d="M1166.2,225.2L1163.0,221.1" stroke="#7a8e6a" stroke-width="0.5"/><path d="M1122.8,310.9L1122.7,302.2" stroke="#55654a" stroke-width="0.7"/><path d="M1191.7,373.9L1184.8,363.8" stroke="#55654a" stroke-width="0.7"/><path d="M1027.0,219.6L1029.0,217.4" stroke="#839773" stroke-width="0.5"/><path d="M1041.0,179.7L1040.7,177.4" stroke="#34402f" stroke-width="0.4"/><path d="M1065.1,230.2L1061.7,226.1" stroke="#4a5840" stroke-width="0.6"/><path d="M1249.8,538.7L1261.1,526.9" stroke="#b7c6a8" stroke-width="1.0"/><path d="M961.8,346.9L963.1,338.5" stroke="#7a8e6a" stroke-width="0.7"/><path d="M1218.1,368.7L1227.9,359.9" stroke="#34402f" stroke-width="0.8"/><path d="M1201.4,350.5L1191.8,342.5" stroke="#34402f" stroke-width="0.9"/><path d="M958.3,318.3L953.1,311.1" stroke="#4a5840" stroke-width="0.6"/><path d="M1136.7,195.7L1137.9,192.5" stroke="#667a58" stroke-width="0.5"/><path d="M1166.5,334.6L1163.4,328.3" stroke="#667a58" stroke-width="0.8"/><path d="M1078.2,327.4L1083.5,320.6" stroke="#839773" stroke-width="0.6"/><path d="M950.0,215.6L947.9,212.7" stroke="#3f4b37" stroke-width="0.5"/><path d="M1143.9,353.8L1136.4,348.6" stroke="#8e9486" stroke-width="0.9"/><path d="M1033.9,322.5L1037.9,316.9" stroke="#34402f" stroke-width="0.7"/><path d="M1032.3,409.9L1019.4,404.5" stroke="#6d8060" stroke-width="0.7"/><path d="M1236.4,389.5L1247.2,384.4" stroke="#6d8060" stroke-width="0.9"/><path d="M1106.0,426.4L1099.8,417.6" stroke="#4a5840" stroke-width="0.8"/><path d="M1135.1,534.5L1135.6,524.4" stroke="#4a5840" stroke-width="1.0"/><path d="M1123.4,521.0L1125.5,510.9" stroke="#3f4b37" stroke-width="1.3"/><path d="M1136.0,200.8L1136.6,198.0" stroke="#7a8e6a" stroke-width="0.5"/><path d="M1114.2,308.9L1115.1,300.2" stroke="#6d8060" stroke-width="0.7"/><path d="M1161.2,435.4L1164.5,428.4" stroke="#4a5840" stroke-width="0.9"/><path d="M1005.8,451.8L1003.8,441.0" stroke="#3f4b37" stroke-width="1.0"/><path d="M994.5,386.9L982.8,382.4" stroke="#9cb08c" stroke-width="1.0"/><path d="M1196.4,220.4L1200.4,218.2" stroke="#55654a" stroke-width="0.5"/><path d="M1154.8,329.7L1148.4,322.4" stroke="#b7c6a8" stroke-width="0.7"/><path d="M1219.0,458.9L1228.4,444.8" stroke="#a8b99a" stroke-width="0.9"/><path d="M987.6,327.3L981.6,322.7" stroke="#55654a" stroke-width="0.7"/><path d="M1028.9,419.9L1015.4,414.9" stroke="#b7c6a8" stroke-width="0.9"/><path d="M1129.9,207.1L1127.6,205.5" stroke="#55654a" stroke-width="0.5"/><path d="M1157.3,337.0L1157.4,330.3" stroke="#55654a" stroke-width="0.7"/><path d="M1143.9,457.9L1155.2,447.4" stroke="#667a58" stroke-width="0.8"/><path d="M1000.9,347.2L995.9,340.6" stroke="#839773" stroke-width="0.7"/><path d="M1234.1,514.2L1242.8,510.8" stroke="#34402f" stroke-width="0.9"/><path d="M1119.3,240.6L1119.4,237.1" stroke="#b7c6a8" stroke-width="0.5"/><path d="M965.4,231.7L970.2,229.1" stroke="#9cb08c" stroke-width="0.6"/><path d="M1165.0,297.6L1157.7,294.9" stroke="#4a5840" stroke-width="0.6"/><path d="M1116.0,512.7L1120.4,505.0" stroke="#8e9486" stroke-width="1.3"/><path d="M956.5,482.4L945.6,466.6" stroke="#4a5840" stroke-width="1.1"/><path d="M1219.9,389.7L1217.2,375.9" stroke="#4a5840" stroke-width="0.8"/><path d="M1069.0,480.6L1071.2,470.8" stroke="#55654a" stroke-width="1.2"/><path d="M1100.8,210.2L1102.8,207.8" stroke="#839773" stroke-width="0.5"/><path d="M1075.1,505.3L1061.9,493.7" stroke="#34402f" stroke-width="1.3"/><path d="M976.0,316.3L974.6,310.9" stroke="#839773" stroke-width="0.6"/><path d="M1086.7,495.6L1077.2,490.9" stroke="#4a5840" stroke-width="1.1"/><path d="M1033.2,288.2L1039.3,284.2" stroke="#a8b99a" stroke-width="0.6"/><path d="M1094.7,279.7L1096.9,275.8" stroke="#3f4b37" stroke-width="0.6"/><path d="M1250.1,408.0L1242.2,401.8" stroke="#3f4b37" stroke-width="0.9"/><path d="M968.1,349.2L960.5,346.4" stroke="#667a58" stroke-width="0.7"/><path d="M1040.9,511.6L1045.3,501.9" stroke="#55654a" stroke-width="0.9"/><path d="M1243.0,188.7L1241.4,186.6" stroke="#7a8e6a" stroke-width="0.4"/><path d="M1035.5,435.5L1044.8,424.6" stroke="#9cb08c" stroke-width="0.9"/><path d="M967.0,509.6L978.4,500.5" stroke="#9cb08c" stroke-width="1.1"/><path d="M1174.4,227.8L1173.1,224.5" stroke="#b7c6a8" stroke-width="0.5"/><path d="M1213.2,478.5L1204.7,475.4" stroke="#b7c6a8" stroke-width="1.2"/><path d="M1250.7,503.5L1268.4,492.1" stroke="#4a5840" stroke-width="1.1"/><path d="M1000.4,306.0L999.2,301.2" stroke="#55654a" stroke-width="0.6"/><path d="M1091.6,363.3L1084.9,357.1" stroke="#55654a" stroke-width="0.7"/><path d="M1036.1,346.2L1042.0,342.2" stroke="#839773" stroke-width="0.9"/><path d="M1218.9,292.9L1217.8,288.2" stroke="#4a5840" stroke-width="0.6"/><path d="M1135.9,252.7L1137.8,247.9" stroke="#7a8e6a" stroke-width="0.6"/><path d="M1028.0,285.2L1032.8,283.0" stroke="#7a8e6a" stroke-width="0.6"/><path d="M966.9,464.6L978.5,459.5" stroke="#667a58" stroke-width="1.2"/><path d="M954.6,324.6L947.2,321.8" stroke="#839773" stroke-width="0.6"/><path d="M981.2,429.2L973.3,420.7" stroke="#4a5840" stroke-width="0.8"/><path d="M1020.1,231.2L1017.0,227.4" stroke="#8e9486" stroke-width="0.5"/><path d="M1086.1,465.7L1072.1,454.6" stroke="#7a8e6a" stroke-width="1.1"/><path d="M1109.3,462.9L1108.9,452.8" stroke="#3f4b37" stroke-width="1.0"/><path d="M1145.7,380.1L1152.5,370.7" stroke="#55654a" stroke-width="0.7"/><path d="M1105.9,480.1L1112.4,464.6" stroke="#839773" stroke-width="0.9"/><path d="M1223.5,442.1L1214.1,427.3" stroke="#4a5840" stroke-width="1.1"/><path d="M1180.4,349.6L1176.9,340.8" stroke="#34402f" stroke-width="0.7"/><path d="M1199.9,391.9L1187.9,383.1" stroke="#b7c6a8" stroke-width="0.7"/><path d="M1197.4,289.6L1194.4,282.7" stroke="#a8b99a" stroke-width="0.7"/><path d="M1007.8,371.6L1002.1,368.4" stroke="#8e9486" stroke-width="0.9"/><path d="M1051.8,455.5L1052.2,439.9" stroke="#34402f" stroke-width="1.1"/><path d="M1135.4,380.6L1136.9,371.8" stroke="#4a5840" stroke-width="1.0"/><path d="M1030.8,425.3L1035.7,419.2" stroke="#8e9486" stroke-width="0.8"/><path d="M1042.7,287.5L1038.2,283.6" stroke="#4a5840" stroke-width="0.7"/><path d="M953.8,342.6L948.0,338.7" stroke="#667a58" stroke-width="0.7"/><path d="M1020.9,222.9L1016.5,220.7" stroke="#b7c6a8" stroke-width="0.5"/><path d="M1069.4,199.7L1068.1,197.4" stroke="#9cb08c" stroke-width="0.5"/><path d="M1123.4,187.7L1121.7,185.2" stroke="#a8b99a" stroke-width="0.4"/><path d="M1083.1,198.8L1083.5,196.1" stroke="#839773" stroke-width="0.5"/><path d="M1255.5,400.3L1251.5,394.7" stroke="#4a5840" stroke-width="0.7"/><path d="M1043.4,451.9L1044.6,440.9" stroke="#55654a" stroke-width="1.0"/><path d="M1175.3,468.0L1176.5,459.3" stroke="#b7c6a8" stroke-width="0.9"/><path d="M1252.5,334.3L1256.6,324.9" stroke="#34402f" stroke-width="0.7"/><path d="M1218.6,328.7L1219.0,322.4" stroke="#b7c6a8" stroke-width="0.6"/><path d="M1237.4,431.6L1232.1,425.5" stroke="#4a5840" stroke-width="1.0"/><path d="M1084.7,200.1L1082.5,197.2" stroke="#3f4b37" stroke-width="0.5"/><path d="M1061.0,440.9L1073.1,429.2" stroke="#4a5840" stroke-width="1.0"/><path d="M972.7,398.5L977.5,392.9" stroke="#b7c6a8" stroke-width="1.0"/><path d="M1089.2,190.2L1090.9,188.5" stroke="#7a8e6a" stroke-width="0.4"/><path d="M1094.6,283.2L1100.7,279.9" stroke="#9cb08c" stroke-width="0.7"/><path d="M1250.8,298.3L1258.3,294.8" stroke="#839773" stroke-width="0.6"/><path d="M1193.3,187.1L1193.0,184.1" stroke="#839773" stroke-width="0.4"/><path d="M1039.4,478.6L1054.7,465.7" stroke="#839773" stroke-width="1.1"/><path d="M1123.4,343.9L1129.2,335.8" stroke="#b7c6a8" stroke-width="0.7"/><path d="M1226.2,392.5L1212.9,387.2" stroke="#3f4b37" stroke-width="0.9"/><path d="M1141.9,320.2L1136.4,317.8" stroke="#7a8e6a" stroke-width="0.6"/><path d="M1150.4,196.6L1152.1,194.2" stroke="#55654a" stroke-width="0.4"/><path d="M977.7,493.9L981.4,486.0" stroke="#667a58" stroke-width="1.0"/><path d="M1037.0,361.4L1033.4,349.1" stroke="#6d8060" stroke-width="0.8"/><path d="M1083.3,367.4L1089.1,360.4" stroke="#55654a" stroke-width="0.9"/><path d="M971.5,313.4L966.5,304.9" stroke="#667a58" stroke-width="0.8"/><path d="M1191.6,258.0L1196.6,256.1" stroke="#667a58" stroke-width="0.6"/><path d="M1207.4,441.5L1198.3,432.6" stroke="#55654a" stroke-width="0.8"/><path d="M1047.8,382.6L1044.1,375.9" stroke="#6d8060" stroke-width="1.0"/><path d="M1213.4,305.1L1210.9,296.0" stroke="#3f4b37" stroke-width="0.6"/><path d="M1216.9,348.8L1208.2,345.3" stroke="#9cb08c" stroke-width="0.7"/><path d="M1043.7,293.1L1040.9,289.5" stroke="#3f4b37" stroke-width="0.7"/><path d="M1035.9,423.5L1026.9,416.7" stroke="#3f4b37" stroke-width="0.8"/><path d="M1200.9,406.0L1199.2,394.5" stroke="#4a5840" stroke-width="0.8"/><path d="M1083.2,315.3L1081.1,309.1" stroke="#8e9486" stroke-width="0.7"/><path d="M1220.4,329.4L1220.2,323.6" stroke="#a8b99a" stroke-width="0.6"/><path d="M1134.6,294.8L1136.3,290.4" stroke="#55654a" stroke-width="0.7"/><path d="M992.0,290.5L994.6,286.8" stroke="#9cb08c" stroke-width="0.7"/><path d="M1108.2,303.9L1106.7,294.6" stroke="#7a8e6a" stroke-width="0.7"/><path d="M1079.7,195.6L1078.1,193.6" stroke="#7a8e6a" stroke-width="0.5"/><path d="M1072.0,247.3L1068.4,242.0" stroke="#34402f" stroke-width="0.6"/><path d="M1050.4,477.2L1059.4,463.2" stroke="#b7c6a8" stroke-width="1.1"/><path d="M983.3,367.2L977.5,361.3" stroke="#34402f" stroke-width="0.7"/><path d="M951.6,458.7L962.9,446.3" stroke="#a8b99a" stroke-width="1.0"/><path d="M1240.7,308.4L1235.0,304.4" stroke="#839773" stroke-width="0.7"/><path d="M1124.2,435.7L1121.4,426.1" stroke="#6d8060" stroke-width="1.1"/><path d="M1150.1,480.7L1148.5,472.4" stroke="#34402f" stroke-width="1.0"/><path d="M1153.5,358.8L1164.3,351.7" stroke="#b7c6a8" stroke-width="0.7"/><path d="M1189.0,344.4L1192.0,335.9" stroke="#a8b99a" stroke-width="0.8"/><path d="M1161.3,475.1L1166.8,466.6" stroke="#4a5840" stroke-width="1.1"/><path d="M974.7,292.3L968.8,288.9" stroke="#b7c6a8" stroke-width="0.6"/><path d="M1068.6,448.5L1069.0,439.5" stroke="#8e9486" stroke-width="0.8"/><path d="M1044.3,206.8L1043.4,203.4" stroke="#4a5840" stroke-width="0.5"/><path d="M1232.0,536.7L1232.3,525.5" stroke="#4a5840" stroke-width="1.2"/><path d="M958.2,311.2L961.6,307.7" stroke="#55654a" stroke-width="0.7"/><path d="M1176.5,293.6L1174.2,287.4" stroke="#34402f" stroke-width="0.7"/><path d="M961.2,388.5L966.2,375.6" stroke="#3f4b37" stroke-width="0.9"/><path d="M999.6,423.3L1007.9,409.5" stroke="#9cb08c" stroke-width="1.0"/><path d="M1037.5,192.8L1038.3,190.2" stroke="#9cb08c" stroke-width="0.4"/><path d="M1232.6,434.7L1224.0,428.1" stroke="#3f4b37" stroke-width="1.1"/><path d="M1033.8,441.2L1035.9,428.7" stroke="#839773" stroke-width="0.9"/><path d="M1251.3,185.9L1252.6,183.6" stroke="#4a5840" stroke-width="0.4"/><path d="M1211.6,463.2L1214.6,451.3" stroke="#34402f" stroke-width="1.0"/><path d="M959.5,500.0L970.2,490.9" stroke="#55654a" stroke-width="0.9"/><path d="M1014.8,254.6L1015.5,250.9" stroke="#4a5840" stroke-width="0.6"/><path d="M1082.5,478.2L1068.7,465.2" stroke="#839773" stroke-width="0.9"/><path d="M1151.2,208.6L1148.5,206.9" stroke="#6d8060" stroke-width="0.5"/><path d="M1017.5,438.2L1018.4,426.7" stroke="#4a5840" stroke-width="1.0"/><path d="M951.7,376.0L941.2,371.2" stroke="#4a5840" stroke-width="0.7"/><path d="M1065.2,396.9L1066.2,387.1" stroke="#b7c6a8" stroke-width="0.8"/><path d="M988.4,207.0L986.4,204.1" stroke="#4a5840" stroke-width="0.5"/><path d="M1201.0,505.0L1201.4,493.3" stroke="#3f4b37" stroke-width="1.0"/><path d="M991.4,262.1L985.9,258.2" stroke="#9cb08c" stroke-width="0.6"/><path d="M1026.0,288.0L1022.9,284.1" stroke="#55654a" stroke-width="0.7"/><path d="M1156.0,525.3L1160.4,510.7" stroke="#8e9486" stroke-width="1.3"/><path d="M1179.4,216.5L1179.6,213.1" stroke="#7a8e6a" stroke-width="0.5"/><path d="M1188.5,192.8L1188.2,190.2" stroke="#6d8060" stroke-width="0.5"/><path d="M954.5,350.9L965.5,346.7" stroke="#6d8060" stroke-width="0.7"/><path d="M1143.5,358.1L1149.1,351.4" stroke="#4a5840" stroke-width="0.8"/><path d="M1100.2,460.2L1108.4,455.6" stroke="#55654a" stroke-width="1.1"/><path d="M1075.4,401.0L1062.2,395.7" stroke="#b7c6a8" stroke-width="0.9"/><path d="M1014.1,302.7L1014.3,297.9" stroke="#4a5840" stroke-width="0.7"/><path d="M953.0,464.9L957.5,455.0" stroke="#9cb08c" stroke-width="1.1"/><path d="M1073.6,452.4L1079.7,439.5" stroke="#3f4b37" stroke-width="0.9"/><path d="M1108.0,346.3L1108.8,338.5" stroke="#b7c6a8" stroke-width="0.8"/><path d="M1209.2,376.7L1216.8,367.2" stroke="#8e9486" stroke-width="0.7"/><path d="M1239.5,276.0L1239.0,270.9" stroke="#55654a" stroke-width="0.7"/><path d="M1171.6,460.1L1180.3,449.6" stroke="#55654a" stroke-width="0.9"/><path d="M1125.6,199.0L1123.9,196.8" stroke="#55654a" stroke-width="0.4"/><path d="M1169.2,366.7L1175.9,359.1" stroke="#8e9486" stroke-width="0.9"/><path d="M1046.1,530.6L1055.8,521.7" stroke="#3f4b37" stroke-width="1.3"/><path d="M1162.2,538.8L1154.9,521.1" stroke="#b7c6a8" stroke-width="1.1"/><path d="M1040.2,456.1L1028.1,446.6" stroke="#34402f" stroke-width="0.9"/><path d="M1007.3,192.6L1007.3,190.0" stroke="#839773" stroke-width="0.5"/><path d="M1225.7,257.4L1228.9,252.6" stroke="#55654a" stroke-width="0.6"/><path d="M1214.4,479.9L1206.4,468.5" stroke="#667a58" stroke-width="1.0"/><path d="M985.6,472.5L982.5,459.2" stroke="#3f4b37" stroke-width="1.1"/><path d="M1193.3,239.7L1190.0,237.8" stroke="#a8b99a" stroke-width="0.5"/><path d="M978.8,368.2L977.6,362.4" stroke="#3f4b37" stroke-width="0.9"/><path d="M969.2,234.2L965.2,230.7" stroke="#839773" stroke-width="0.5"/><path d="M1220.9,291.1L1219.8,282.6" stroke="#7a8e6a" stroke-width="0.7"/><path d="M1142.6,202.7L1145.3,200.7" stroke="#667a58" stroke-width="0.5"/><path d="M1125.5,382.2L1120.7,378.3" stroke="#55654a" stroke-width="0.9"/><path d="M984.6,501.7L977.2,481.8" stroke="#839773" stroke-width="1.0"/><path d="M1208.1,483.8L1212.9,468.9" stroke="#6d8060" stroke-width="0.8"/><path d="M1222.7,441.5L1212.7,437.6" stroke="#34402f" stroke-width="1.0"/><path d="M1038.5,197.3L1039.2,194.2" stroke="#6d8060" stroke-width="0.4"/><path d="M1104.4,430.1L1108.5,420.5" stroke="#3f4b37" stroke-width="0.9"/><path d="M987.2,440.6L981.3,435.0" stroke="#9cb08c" stroke-width="1.0"/><path d="M1170.7,525.0L1174.3,516.6" stroke="#34402f" stroke-width="0.9"/><path d="M1135.4,219.0L1138.6,216.5" stroke="#6d8060" stroke-width="0.5"/><path d="M965.1,205.1L962.4,204.0" stroke="#7a8e6a" stroke-width="0.5"/><path d="M1169.3,522.5L1181.1,512.3" stroke="#667a58" stroke-width="1.0"/><path d="M987.0,182.8L986.5,180.5" stroke="#34402f" stroke-width="0.4"/><path d="M1128.6,520.8L1122.0,504.3" stroke="#4a5840" stroke-width="1.2"/><path d="M1135.2,508.7L1134.3,498.6" stroke="#34402f" stroke-width="1.3"/><path d="M1128.1,525.7L1134.3,513.5" stroke="#839773" stroke-width="1.1"/><path d="M1087.4,483.3L1093.2,475.1" stroke="#4a5840" stroke-width="0.9"/><path d="M952.0,434.4L955.3,419.1" stroke="#839773" stroke-width="0.8"/><path d="M1099.8,200.8L1096.8,199.5" stroke="#55654a" stroke-width="0.5"/><path d="M1180.2,448.0L1169.9,442.9" stroke="#4a5840" stroke-width="1.1"/><path d="M1051.4,328.2L1049.9,319.8" stroke="#4a5840" stroke-width="0.6"/><path d="M1140.9,444.1L1125.6,436.9" stroke="#8e9486" stroke-width="1.1"/><path d="M949.6,190.8L947.7,188.8" stroke="#839773" stroke-width="0.4"/><path d="M956.0,275.2L962.0,270.9" stroke="#6d8060" stroke-width="0.7"/><path d="M1076.1,264.5L1072.7,260.5" stroke="#667a58" stroke-width="0.6"/><path d="M1009.6,189.5L1008.9,187.1" stroke="#667a58" stroke-width="0.4"/><path d="M1108.7,394.0L1109.1,387.5" stroke="#55654a" stroke-width="1.0"/><path d="M1185.9,375.2L1178.5,365.2" stroke="#3f4b37" stroke-width="0.8"/><path d="M992.2,405.3L982.5,397.3" stroke="#7a8e6a" stroke-width="0.9"/><path d="M1128.6,288.7L1133.7,282.0" stroke="#3f4b37" stroke-width="0.6"/><path d="M1099.4,261.8L1096.4,259.0" stroke="#4a5840" stroke-width="0.6"/><path d="M1225.7,342.6L1228.3,336.5" stroke="#667a58" stroke-width="0.9"/><path d="M1172.9,476.4L1158.8,467.8" stroke="#8e9486" stroke-width="1.2"/><path d="M975.5,346.6L979.9,340.3" stroke="#3f4b37" stroke-width="0.9"/><path d="M945.7,489.7L958.2,481.5" stroke="#8e9486" stroke-width="1.1"/><path d="M1210.7,265.2L1206.2,261.8" stroke="#34402f" stroke-width="0.6"/><path d="M1219.8,182.6L1217.8,181.4" stroke="#6d8060" stroke-width="0.4"/><path d="M1064.1,285.5L1069.3,282.2" stroke="#9cb08c" stroke-width="0.6"/><path d="M1188.3,447.1L1196.1,437.3" stroke="#9cb08c" stroke-width="0.9"/><path d="M1248.0,276.8L1251.7,271.6" stroke="#9cb08c" stroke-width="0.6"/><path d="M1049.3,308.8L1048.5,304.1" stroke="#a8b99a" stroke-width="0.7"/><path d="M1172.1,249.7L1173.1,245.2" stroke="#4a5840" stroke-width="0.6"/><path d="M1186.2,306.8L1191.1,303.0" stroke="#6d8060" stroke-width="0.7"/><path d="M1062.6,532.8L1066.5,514.2" stroke="#4a5840" stroke-width="0.9"/><path d="M1032.6,286.9L1028.3,285.0" stroke="#3f4b37" stroke-width="0.6"/><path d="M1249.4,373.5L1251.8,361.2" stroke="#7a8e6a" stroke-width="0.9"/><path d="M977.2,341.6L968.8,338.1" stroke="#667a58" stroke-width="0.7"/><path d="M1005.9,538.0L991.1,523.6" stroke="#34402f" stroke-width="1.1"/><path d="M977.2,411.1L970.3,406.4" stroke="#7a8e6a" stroke-width="1.0"/><path d="M1044.6,510.0L1056.8,493.7" stroke="#3f4b37" stroke-width="1.1"/><path d="M1175.5,538.3L1186.0,520.8" stroke="#34402f" stroke-width="1.3"/><path d="M1119.6,477.4L1128.6,465.8" stroke="#34402f" stroke-width="0.9"/><path d="M986.4,470.4L981.7,464.1" stroke="#34402f" stroke-width="1.2"/><path d="M1012.9,407.8L1004.8,399.6" stroke="#4a5840" stroke-width="1.0"/><path d="M977.6,438.9L971.7,431.3" stroke="#667a58" stroke-width="1.0"/><path d="M953.4,379.2L965.9,372.8" stroke="#8e9486" stroke-width="0.7"/><path d="M1052.7,342.2L1055.7,334.1" stroke="#34402f" stroke-width="0.7"/><path d="M975.0,195.7L976.7,192.7" stroke="#7a8e6a" stroke-width="0.4"/><path d="M1240.1,236.0L1242.5,231.0" stroke="#34402f" stroke-width="0.5"/><path d="M1130.7,384.2L1138.2,377.4" stroke="#8e9486" stroke-width="0.8"/><path d="M1225.7,431.8L1215.1,421.2" stroke="#b7c6a8" stroke-width="0.8"/><path d="M1196.0,494.8L1200.3,482.7" stroke="#6d8060" stroke-width="1.2"/><path d="M987.3,496.3L976.5,491.2" stroke="#55654a" stroke-width="1.1"/><path d="M1082.1,522.6L1076.4,515.4" stroke="#3f4b37" stroke-width="1.0"/><path d="M1213.4,351.8L1207.2,349.3" stroke="#8e9486" stroke-width="0.9"/><path d="M1005.4,209.3L1002.4,206.8" stroke="#55654a" stroke-width="0.5"/><path d="M983.3,304.8L985.8,297.7" stroke="#7a8e6a" stroke-width="0.6"/><path d="M1022.9,441.9L1034.7,433.6" stroke="#b7c6a8" stroke-width="0.9"/><path d="M1223.8,518.7L1209.2,505.6" stroke="#6d8060" stroke-width="1.2"/><path d="M1122.5,309.1L1125.5,299.6" stroke="#667a58" stroke-width="0.7"/><path d="M994.2,409.1L999.8,403.0" stroke="#55654a" stroke-width="1.0"/><path d="M1221.0,423.1L1226.8,417.5" stroke="#b7c6a8" stroke-width="1.1"/><path d="M1105.9,478.5L1095.4,466.2" stroke="#9cb08c" stroke-width="1.0"/><path d="M1039.6,228.9L1042.8,225.8" stroke="#667a58" stroke-width="0.5"/><path d="M1064.9,258.6L1067.1,255.6" stroke="#839773" stroke-width="0.6"/><path d="M1056.7,518.9L1046.2,502.1" stroke="#4a5840" stroke-width="1.1"/><path d="M1231.1,333.8L1228.5,325.4" stroke="#b7c6a8" stroke-width="0.7"/><path d="M1148.8,409.7L1148.5,400.1" stroke="#b7c6a8" stroke-width="1.0"/><path d="M1109.9,216.7L1106.5,213.8" stroke="#34402f" stroke-width="0.5"/><path d="M1250.8,518.7L1265.8,511.4" stroke="#839773" stroke-width="1.2"/><path d="M993.8,288.2L990.2,282.9" stroke="#b7c6a8" stroke-width="0.6"/><path d="M1209.4,418.9L1214.7,410.7" stroke="#55654a" stroke-width="0.9"/><path d="M1108.7,417.6L1101.5,414.8" stroke="#8e9486" stroke-width="1.1"/><path d="M1255.6,394.9L1255.1,387.4" stroke="#34402f" stroke-width="0.9"/><path d="M1126.6,328.0L1126.9,322.0" stroke="#3f4b37" stroke-width="0.8"/></g>
<g fill="#eef0e4" filter="url(#b05)"><circle cx="1057.5" cy="179.9" r="0.5" opacity="0.62"/><circle cx="1063.4" cy="181.5" r="0.5" opacity="0.66"/><circle cx="1062.8" cy="179.2" r="0.6" opacity="0.60"/><circle cx="1072.3" cy="179.4" r="0.5" opacity="0.79"/><circle cx="1067.9" cy="181.6" r="0.5" opacity="0.89"/><circle cx="1063.4" cy="178.4" r="0.6" opacity="0.51"/><circle cx="1061.2" cy="183.8" r="0.6" opacity="0.66"/><circle cx="1064.7" cy="177.9" r="0.5" opacity="0.85"/><circle cx="1063.6" cy="178.6" r="0.6" opacity="0.53"/><circle cx="1121.9" cy="465.1" r="1.8" opacity="0.65"/><circle cx="1099.0" cy="460.3" r="1.7" opacity="0.93"/><circle cx="1127.9" cy="473.5" r="1.6" opacity="0.63"/><circle cx="1190.6" cy="382.0" r="1.4" opacity="0.86"/><circle cx="1191.3" cy="387.4" r="1.6" opacity="0.57"/><circle cx="1046.1" cy="279.7" r="0.9" opacity="0.60"/><circle cx="1039.3" cy="277.3" r="1.1" opacity="0.68"/><circle cx="1032.5" cy="283.2" r="1.0" opacity="0.87"/><circle cx="1035.9" cy="280.2" r="0.8" opacity="0.67"/><circle cx="1036.3" cy="277.5" r="0.9" opacity="0.71"/><circle cx="1048.2" cy="281.4" r="0.8" opacity="0.98"/><circle cx="1044.0" cy="278.2" r="0.9" opacity="0.86"/><circle cx="1036.6" cy="289.5" r="1.1" opacity="0.75"/><circle cx="1036.6" cy="283.5" r="1.0" opacity="0.65"/><circle cx="1034.1" cy="284.3" r="0.9" opacity="0.96"/><circle cx="1042.2" cy="292.0" r="1.1" opacity="0.75"/><circle cx="1034.7" cy="282.8" r="0.8" opacity="0.89"/><circle cx="1037.1" cy="290.2" r="0.9" opacity="0.58"/><circle cx="1039.8" cy="285.8" r="0.9" opacity="0.64"/><circle cx="1034.5" cy="287.1" r="1.1" opacity="0.64"/><circle cx="1054.5" cy="421.3" r="1.8" opacity="0.88"/><circle cx="1020.4" cy="180.4" r="0.5" opacity="0.82"/><circle cx="1017.9" cy="180.9" r="0.6" opacity="0.88"/><circle cx="1016.6" cy="180.0" r="0.5" opacity="0.60"/><circle cx="1020.2" cy="181.8" r="0.5" opacity="0.66"/><circle cx="1017.1" cy="183.1" r="0.5" opacity="0.85"/><circle cx="1026.4" cy="178.6" r="0.5" opacity="0.73"/><circle cx="1012.2" cy="179.6" r="0.5" opacity="0.92"/><circle cx="1018.3" cy="181.8" r="0.5" opacity="0.60"/><circle cx="1163.2" cy="229.3" r="0.7" opacity="0.80"/><circle cx="1156.8" cy="234.0" r="0.8" opacity="0.81"/><circle cx="1025.0" cy="198.2" r="0.6" opacity="0.86"/><circle cx="1023.9" cy="196.0" r="0.6" opacity="0.74"/><circle cx="1028.8" cy="199.6" r="0.6" opacity="0.73"/><circle cx="1027.4" cy="197.7" r="0.6" opacity="0.63"/><circle cx="1021.5" cy="195.7" r="0.6" opacity="0.82"/><circle cx="1018.8" cy="196.2" r="0.6" opacity="0.52"/><circle cx="1023.8" cy="196.2" r="0.6" opacity="0.63"/><circle cx="1018.4" cy="194.6" r="0.6" opacity="0.59"/><circle cx="1114.8" cy="281.1" r="1.0" opacity="0.52"/><circle cx="1110.3" cy="279.4" r="0.7" opacity="0.98"/><circle cx="1111.7" cy="272.9" r="0.8" opacity="0.57"/><circle cx="1115.1" cy="274.7" r="0.8" opacity="0.85"/><circle cx="1109.6" cy="279.5" r="1.1" opacity="0.58"/><circle cx="1107.6" cy="277.9" r="0.9" opacity="0.90"/><circle cx="1114.3" cy="282.4" r="0.9" opacity="0.66"/><circle cx="1104.4" cy="274.4" r="1.0" opacity="0.82"/><circle cx="1102.3" cy="279.1" r="0.8" opacity="0.85"/><circle cx="1080.6" cy="203.1" r="0.7" opacity="0.98"/><circle cx="1073.4" cy="202.7" r="0.6" opacity="0.90"/><circle cx="1073.3" cy="199.2" r="0.6" opacity="0.62"/><circle cx="1074.3" cy="200.0" r="0.6" opacity="0.71"/><circle cx="1077.5" cy="199.0" r="0.6" opacity="0.88"/><circle cx="1073.8" cy="200.2" r="0.6" opacity="0.57"/><circle cx="1069.9" cy="202.3" r="0.6" opacity="0.96"/><circle cx="1167.8" cy="339.8" r="1.1" opacity="0.55"/><circle cx="1162.2" cy="345.1" r="1.1" opacity="0.80"/><circle cx="1166.9" cy="345.9" r="1.3" opacity="0.94"/><circle cx="1168.8" cy="335.8" r="1.1" opacity="0.75"/><circle cx="1177.7" cy="347.9" r="1.1" opacity="0.51"/><circle cx="1168.0" cy="336.8" r="1.2" opacity="0.61"/><circle cx="1012.6" cy="194.3" r="0.6" opacity="0.94"/><circle cx="1014.5" cy="196.3" r="0.6" opacity="0.87"/><circle cx="1010.2" cy="199.3" r="0.6" opacity="0.75"/><circle cx="1007.7" cy="199.4" r="0.6" opacity="0.71"/><circle cx="999.2" cy="197.9" r="0.6" opacity="0.67"/><circle cx="1001.4" cy="200.2" r="0.6" opacity="0.80"/><circle cx="962.7" cy="358.7" r="1.1" opacity="0.52"/><circle cx="967.9" cy="371.6" r="1.4" opacity="0.66"/><circle cx="956.6" cy="366.4" r="1.5" opacity="0.90"/><circle cx="1029.7" cy="266.5" r="0.9" opacity="0.56"/><circle cx="1031.0" cy="270.5" r="0.8" opacity="0.77"/><circle cx="1028.0" cy="267.2" r="0.8" opacity="0.76"/><circle cx="1016.8" cy="269.4" r="0.9" opacity="0.86"/><circle cx="1023.1" cy="263.6" r="0.9" opacity="0.61"/><circle cx="958.7" cy="428.6" r="1.1" opacity="0.84"/><circle cx="971.5" cy="431.6" r="1.3" opacity="0.57"/><circle cx="964.5" cy="432.9" r="1.3" opacity="0.78"/><circle cx="1164.3" cy="330.3" r="1.3" opacity="0.72"/><circle cx="1182.8" cy="330.2" r="1.0" opacity="0.82"/><circle cx="1188.4" cy="326.6" r="0.9" opacity="0.54"/><circle cx="1178.9" cy="325.2" r="1.0" opacity="0.76"/><circle cx="1172.1" cy="332.7" r="0.9" opacity="0.89"/><circle cx="1183.8" cy="322.0" r="1.3" opacity="0.62"/><circle cx="1168.6" cy="330.7" r="0.9" opacity="0.76"/><circle cx="1006.8" cy="229.7" r="0.6" opacity="0.66"/><circle cx="1021.8" cy="233.9" r="0.7" opacity="0.99"/><circle cx="1013.9" cy="231.4" r="0.8" opacity="0.93"/><circle cx="1007.9" cy="230.7" r="0.7" opacity="0.51"/><circle cx="1003.4" cy="232.6" r="0.6" opacity="0.74"/><circle cx="1008.3" cy="235.7" r="0.6" opacity="0.71"/><circle cx="1153.5" cy="330.7" r="1.2" opacity="0.62"/><circle cx="1168.0" cy="329.4" r="1.2" opacity="0.67"/><circle cx="1161.2" cy="326.2" r="1.2" opacity="0.64"/><circle cx="1157.7" cy="327.9" r="1.2" opacity="0.52"/><circle cx="1161.6" cy="319.2" r="1.2" opacity="0.73"/><circle cx="1159.2" cy="330.9" r="1.0" opacity="0.72"/><circle cx="1157.7" cy="326.7" r="1.1" opacity="0.64"/><circle cx="1149.0" cy="335.4" r="1.0" opacity="0.95"/><circle cx="1151.5" cy="328.3" r="0.9" opacity="0.66"/><circle cx="1237.4" cy="260.4" r="0.8" opacity="0.76"/><circle cx="1225.7" cy="256.7" r="0.7" opacity="0.89"/><circle cx="1236.1" cy="265.5" r="0.9" opacity="0.65"/><circle cx="1236.8" cy="252.9" r="0.8" opacity="0.65"/><circle cx="1233.0" cy="259.8" r="0.8" opacity="0.91"/><circle cx="1237.4" cy="261.8" r="0.8" opacity="0.66"/><circle cx="1234.7" cy="258.7" r="0.8" opacity="0.89"/><circle cx="1238.3" cy="259.0" r="0.9" opacity="0.86"/><circle cx="1236.1" cy="257.6" r="0.9" opacity="0.63"/><circle cx="975.6" cy="271.1" r="1.0" opacity="0.64"/><circle cx="975.3" cy="267.7" r="0.8" opacity="0.59"/><circle cx="983.7" cy="264.6" r="1.0" opacity="0.67"/><circle cx="976.0" cy="272.5" r="0.9" opacity="0.80"/><circle cx="990.9" cy="268.0" r="0.9" opacity="0.67"/><circle cx="988.8" cy="267.2" r="0.9" opacity="0.50"/><circle cx="975.7" cy="267.7" r="1.0" opacity="0.63"/><circle cx="975.5" cy="265.5" r="0.9" opacity="0.85"/><circle cx="978.4" cy="268.6" r="0.8" opacity="0.79"/><circle cx="1196.0" cy="173.8" r="0.5" opacity="0.87"/><circle cx="1197.2" cy="175.1" r="0.5" opacity="0.71"/><circle cx="1193.8" cy="174.0" r="0.5" opacity="0.71"/><circle cx="1198.8" cy="167.5" r="0.5" opacity="0.75"/><circle cx="1193.6" cy="172.7" r="0.5" opacity="0.79"/><circle cx="1151.9" cy="280.2" r="0.8" opacity="0.75"/><circle cx="1133.8" cy="278.5" r="0.8" opacity="0.68"/><circle cx="1139.1" cy="274.8" r="0.9" opacity="0.82"/><circle cx="1149.2" cy="274.3" r="1.0" opacity="0.78"/><circle cx="1135.8" cy="279.9" r="1.1" opacity="0.54"/><circle cx="1143.3" cy="278.8" r="0.8" opacity="0.97"/><circle cx="1133.3" cy="279.8" r="0.9" opacity="0.53"/><circle cx="1196.9" cy="486.0" r="1.6" opacity="0.71"/><circle cx="1231.1" cy="177.7" r="0.6" opacity="0.74"/><circle cx="1232.1" cy="183.3" r="0.5" opacity="0.70"/><circle cx="1226.9" cy="181.8" r="0.5" opacity="0.51"/><circle cx="1227.9" cy="180.2" r="0.5" opacity="0.60"/><circle cx="1228.0" cy="178.6" r="0.6" opacity="0.76"/><circle cx="1226.7" cy="178.8" r="0.6" opacity="0.99"/><circle cx="1230.8" cy="183.8" r="0.5" opacity="0.90"/><circle cx="1235.0" cy="184.4" r="0.5" opacity="0.62"/><circle cx="1175.5" cy="453.2" r="1.5" opacity="0.91"/><circle cx="1173.3" cy="444.3" r="1.4" opacity="0.98"/><circle cx="1181.2" cy="447.9" r="1.9" opacity="0.99"/><circle cx="997.3" cy="398.4" r="1.2" opacity="0.86"/><circle cx="984.1" cy="404.8" r="1.4" opacity="0.96"/><circle cx="991.7" cy="416.5" r="1.2" opacity="0.99"/><circle cx="998.8" cy="203.6" r="0.6" opacity="0.98"/><circle cx="998.7" cy="201.4" r="0.6" opacity="0.61"/><circle cx="992.4" cy="203.7" r="0.6" opacity="0.99"/><circle cx="997.2" cy="199.7" r="0.6" opacity="0.71"/><circle cx="1004.7" cy="200.2" r="0.7" opacity="0.89"/><circle cx="1003.2" cy="201.3" r="0.6" opacity="0.57"/><circle cx="1069.1" cy="220.7" r="0.7" opacity="0.51"/><circle cx="1074.8" cy="222.4" r="0.7" opacity="0.61"/><circle cx="1058.6" cy="217.4" r="0.7" opacity="0.90"/><circle cx="1065.5" cy="214.5" r="0.6" opacity="0.81"/><circle cx="1064.5" cy="216.9" r="0.6" opacity="0.86"/><circle cx="974.6" cy="386.6" r="1.3" opacity="0.57"/><circle cx="970.6" cy="385.4" r="1.5" opacity="0.82"/><circle cx="1056.8" cy="379.7" r="1.4" opacity="0.66"/><circle cx="1033.4" cy="383.1" r="1.2" opacity="0.55"/><circle cx="1203.7" cy="401.1" r="1.5" opacity="0.85"/><circle cx="1223.2" cy="409.1" r="1.7" opacity="0.79"/><circle cx="1214.0" cy="421.8" r="1.6" opacity="0.62"/><circle cx="1208.4" cy="411.4" r="1.6" opacity="0.87"/><circle cx="983.0" cy="420.3" r="1.7" opacity="0.82"/><circle cx="977.0" cy="423.5" r="1.2" opacity="0.88"/><circle cx="998.9" cy="424.5" r="1.5" opacity="0.69"/><circle cx="1014.1" cy="402.2" r="1.4" opacity="0.67"/><circle cx="1071.2" cy="219.5" r="0.7" opacity="0.70"/><circle cx="1070.1" cy="213.6" r="0.7" opacity="0.78"/><circle cx="1061.9" cy="213.7" r="0.7" opacity="0.64"/><circle cx="1066.4" cy="214.6" r="0.7" opacity="0.63"/><circle cx="1066.7" cy="212.8" r="0.7" opacity="0.83"/><circle cx="1068.4" cy="212.1" r="0.6" opacity="0.83"/><circle cx="1070.3" cy="214.5" r="0.6" opacity="0.83"/><circle cx="1148.7" cy="409.0" r="1.7" opacity="0.79"/><circle cx="1221.7" cy="375.6" r="1.1" opacity="0.61"/><circle cx="1227.8" cy="370.4" r="1.5" opacity="0.64"/><circle cx="1075.1" cy="411.8" r="1.5" opacity="0.54"/><circle cx="1083.7" cy="414.5" r="1.7" opacity="0.95"/><circle cx="1094.5" cy="411.6" r="1.6" opacity="0.67"/><circle cx="1127.6" cy="218.0" r="0.7" opacity="0.57"/><circle cx="1124.2" cy="214.5" r="0.6" opacity="0.71"/><circle cx="1088.8" cy="384.3" r="1.0" opacity="0.66"/><circle cx="1097.5" cy="367.6" r="1.1" opacity="0.98"/><circle cx="1089.8" cy="384.0" r="1.4" opacity="0.66"/><circle cx="1053.2" cy="385.6" r="1.1" opacity="0.81"/><circle cx="1074.5" cy="386.6" r="1.3" opacity="0.96"/><circle cx="1021.1" cy="240.4" r="0.7" opacity="0.75"/><circle cx="1037.2" cy="250.3" r="0.8" opacity="0.80"/><circle cx="1114.3" cy="310.9" r="1.0" opacity="0.94"/><circle cx="1114.1" cy="315.8" r="1.1" opacity="0.94"/><circle cx="1102.9" cy="312.0" r="1.1" opacity="0.72"/><circle cx="1094.5" cy="317.6" r="1.1" opacity="0.73"/><circle cx="1109.6" cy="322.2" r="1.0" opacity="0.64"/><circle cx="1168.9" cy="270.3" r="0.9" opacity="0.58"/><circle cx="1175.0" cy="278.8" r="0.8" opacity="0.96"/><circle cx="1164.1" cy="274.1" r="0.8" opacity="0.63"/><circle cx="1160.4" cy="275.0" r="0.8" opacity="0.92"/><circle cx="1169.1" cy="278.2" r="0.8" opacity="0.53"/><circle cx="1169.6" cy="273.2" r="0.8" opacity="0.54"/><circle cx="1166.5" cy="273.0" r="0.9" opacity="0.55"/><circle cx="1068.3" cy="415.6" r="1.7" opacity="0.78"/><circle cx="1063.0" cy="397.9" r="1.2" opacity="0.97"/><circle cx="1238.1" cy="258.2" r="0.8" opacity="0.58"/><circle cx="1231.7" cy="267.1" r="0.7" opacity="0.55"/><circle cx="1252.8" cy="258.2" r="0.9" opacity="0.74"/><circle cx="1239.2" cy="266.1" r="0.9" opacity="0.97"/><circle cx="1234.8" cy="261.7" r="0.7" opacity="0.89"/><circle cx="1249.0" cy="264.9" r="0.7" opacity="0.76"/><circle cx="1142.3" cy="298.9" r="0.9" opacity="0.65"/><circle cx="1124.4" cy="306.4" r="0.8" opacity="0.73"/><circle cx="1129.2" cy="289.8" r="1.1" opacity="0.53"/><circle cx="1142.8" cy="309.0" r="1.1" opacity="0.90"/><circle cx="1128.2" cy="298.2" r="0.9" opacity="0.68"/><circle cx="1132.5" cy="299.0" r="0.8" opacity="0.78"/><circle cx="1210.1" cy="235.9" r="0.7" opacity="0.51"/><circle cx="1206.7" cy="237.6" r="0.8" opacity="0.67"/><circle cx="1212.8" cy="237.9" r="0.8" opacity="0.76"/><circle cx="1213.1" cy="240.2" r="0.7" opacity="0.63"/><circle cx="1208.3" cy="231.2" r="0.7" opacity="0.70"/><circle cx="1213.6" cy="237.3" r="0.7" opacity="0.58"/><circle cx="1208.0" cy="233.6" r="0.7" opacity="0.66"/><circle cx="1203.1" cy="234.6" r="0.8" opacity="0.70"/><circle cx="1204.1" cy="237.1" r="0.6" opacity="0.95"/><circle cx="1004.9" cy="272.3" r="0.9" opacity="0.62"/><circle cx="992.9" cy="270.2" r="0.7" opacity="0.54"/><circle cx="1000.3" cy="272.9" r="0.9" opacity="0.86"/><circle cx="999.3" cy="276.4" r="1.0" opacity="0.70"/><circle cx="1004.7" cy="276.3" r="0.8" opacity="0.63"/><circle cx="1001.8" cy="271.8" r="1.0" opacity="0.63"/><circle cx="1210.9" cy="256.6" r="0.7" opacity="0.80"/><circle cx="1206.3" cy="252.8" r="0.7" opacity="0.71"/><circle cx="1162.6" cy="468.2" r="1.3" opacity="0.77"/><circle cx="1165.9" cy="457.4" r="1.9" opacity="0.66"/><circle cx="1143.0" cy="461.0" r="1.7" opacity="0.84"/><circle cx="1149.4" cy="468.9" r="1.8" opacity="0.63"/><circle cx="1219.4" cy="270.0" r="0.8" opacity="0.89"/><circle cx="1207.3" cy="277.6" r="0.8" opacity="0.86"/><circle cx="1220.3" cy="274.0" r="1.0" opacity="0.71"/><circle cx="1225.9" cy="279.5" r="0.8" opacity="0.81"/><circle cx="1224.4" cy="277.8" r="0.8" opacity="0.59"/><circle cx="1130.6" cy="295.6" r="1.1" opacity="0.68"/><circle cx="1136.9" cy="289.7" r="0.8" opacity="0.74"/><circle cx="1136.8" cy="293.2" r="0.8" opacity="0.55"/><circle cx="1138.9" cy="300.5" r="1.1" opacity="0.79"/><circle cx="1146.3" cy="294.2" r="0.9" opacity="0.90"/><circle cx="1126.9" cy="282.9" r="1.1" opacity="0.67"/><circle cx="1128.4" cy="293.7" r="1.1" opacity="0.66"/><circle cx="1167.9" cy="448.8" r="1.5" opacity="0.91"/><circle cx="1144.7" cy="439.8" r="1.3" opacity="0.93"/><circle cx="1145.4" cy="455.0" r="1.3" opacity="0.66"/><circle cx="1161.6" cy="205.4" r="0.6" opacity="0.86"/><circle cx="1154.5" cy="204.7" r="0.7" opacity="0.63"/><circle cx="1156.3" cy="207.6" r="0.7" opacity="0.99"/><circle cx="1161.7" cy="208.4" r="0.7" opacity="0.96"/><circle cx="1159.3" cy="205.8" r="0.7" opacity="0.83"/><circle cx="1155.1" cy="204.2" r="0.6" opacity="0.52"/><circle cx="1159.0" cy="206.3" r="0.7" opacity="0.84"/><circle cx="1113.4" cy="428.0" r="1.2" opacity="0.85"/><circle cx="1131.2" cy="434.1" r="1.5" opacity="0.75"/><circle cx="1109.9" cy="421.6" r="1.8" opacity="0.80"/><circle cx="1118.4" cy="421.2" r="1.6" opacity="0.92"/><circle cx="1138.8" cy="293.0" r="0.9" opacity="0.55"/><circle cx="1135.2" cy="288.5" r="1.1" opacity="0.54"/><circle cx="1134.9" cy="291.1" r="1.0" opacity="0.50"/><circle cx="1150.4" cy="292.1" r="1.0" opacity="0.76"/><circle cx="1141.9" cy="290.2" r="0.8" opacity="0.68"/><circle cx="1136.0" cy="300.9" r="1.1" opacity="0.88"/><circle cx="1135.5" cy="286.1" r="1.1" opacity="0.64"/><circle cx="1135.5" cy="296.1" r="1.1" opacity="0.85"/><circle cx="1234.1" cy="412.6" r="1.3" opacity="0.54"/><circle cx="1235.5" cy="402.1" r="1.7" opacity="0.80"/><circle cx="1249.8" cy="401.3" r="1.5" opacity="0.55"/><circle cx="1237.3" cy="406.5" r="1.2" opacity="0.67"/><circle cx="1230.8" cy="232.1" r="0.6" opacity="0.69"/><circle cx="1219.8" cy="230.3" r="0.6" opacity="0.99"/><circle cx="1232.7" cy="225.2" r="0.7" opacity="0.88"/><circle cx="1224.9" cy="225.6" r="0.6" opacity="0.92"/><circle cx="1232.3" cy="228.7" r="0.7" opacity="0.80"/><circle cx="1222.7" cy="227.3" r="0.7" opacity="0.99"/><circle cx="1223.2" cy="227.6" r="0.7" opacity="0.83"/><circle cx="1039.8" cy="182.7" r="0.5" opacity="0.62"/><circle cx="1040.6" cy="180.6" r="0.5" opacity="0.90"/><circle cx="1042.2" cy="178.6" r="0.5" opacity="0.59"/><circle cx="1041.0" cy="180.4" r="0.5" opacity="0.55"/><circle cx="1039.6" cy="181.1" r="0.5" opacity="0.84"/><circle cx="1041.4" cy="183.9" r="0.6" opacity="0.89"/><circle cx="1043.3" cy="179.4" r="0.6" opacity="0.62"/><circle cx="1079.2" cy="479.4" r="2.0" opacity="0.93"/><circle cx="1101.1" cy="480.3" r="2.0" opacity="0.53"/><circle cx="1079.5" cy="488.8" r="1.9" opacity="0.51"/><circle cx="1104.6" cy="478.9" r="1.2" opacity="0.71"/><circle cx="1014.4" cy="269.1" r="0.8" opacity="0.92"/><circle cx="1018.2" cy="277.4" r="0.7" opacity="0.59"/><circle cx="1021.3" cy="280.6" r="0.8" opacity="0.90"/><circle cx="1021.1" cy="277.2" r="0.9" opacity="0.87"/><circle cx="1019.9" cy="272.1" r="0.8" opacity="0.80"/><circle cx="1022.6" cy="268.4" r="1.0" opacity="0.73"/><circle cx="1020.0" cy="269.9" r="1.0" opacity="0.57"/><circle cx="1021.3" cy="271.7" r="0.9" opacity="0.95"/><circle cx="1018.1" cy="265.1" r="1.0" opacity="0.86"/><circle cx="1227.7" cy="457.3" r="1.5" opacity="0.67"/><circle cx="1236.2" cy="465.5" r="1.6" opacity="0.80"/><circle cx="1238.7" cy="455.0" r="1.9" opacity="0.82"/><circle cx="970.5" cy="383.6" r="1.0" opacity="0.86"/><circle cx="956.0" cy="377.0" r="1.0" opacity="0.77"/><circle cx="962.2" cy="385.8" r="1.6" opacity="0.94"/><circle cx="958.4" cy="375.7" r="1.5" opacity="0.78"/><circle cx="1220.4" cy="496.0" r="1.9" opacity="0.97"/><circle cx="1213.3" cy="505.3" r="1.7" opacity="0.83"/><circle cx="1209.9" cy="509.7" r="2.2" opacity="0.53"/><circle cx="1216.8" cy="519.0" r="1.4" opacity="0.96"/><circle cx="1103.0" cy="392.2" r="1.2" opacity="0.69"/><circle cx="1114.9" cy="391.6" r="1.2" opacity="0.60"/><circle cx="1104.1" cy="387.8" r="1.3" opacity="0.93"/><circle cx="1115.9" cy="384.2" r="1.1" opacity="0.90"/><circle cx="1162.3" cy="467.3" r="1.8" opacity="0.52"/><circle cx="1053.2" cy="343.9" r="1.3" opacity="0.68"/><circle cx="1061.9" cy="348.0" r="1.0" opacity="0.96"/><circle cx="1052.0" cy="347.1" r="1.1" opacity="0.65"/><circle cx="1056.6" cy="349.5" r="1.4" opacity="0.80"/><circle cx="1060.5" cy="353.4" r="1.3" opacity="0.58"/><circle cx="1053.5" cy="354.8" r="1.1" opacity="1.00"/><circle cx="1047.1" cy="354.0" r="0.9" opacity="0.61"/><circle cx="1058.9" cy="347.0" r="0.9" opacity="0.88"/><circle cx="1061.3" cy="348.4" r="1.0" opacity="0.75"/><circle cx="1162.1" cy="352.8" r="1.2" opacity="0.91"/><circle cx="1173.1" cy="357.9" r="1.1" opacity="0.55"/><circle cx="1151.8" cy="353.9" r="1.1" opacity="0.51"/><circle cx="1150.4" cy="356.9" r="1.3" opacity="0.95"/><circle cx="1140.5" cy="349.3" r="1.0" opacity="0.58"/><circle cx="1160.5" cy="345.1" r="1.1" opacity="0.89"/><circle cx="1168.5" cy="355.8" r="1.0" opacity="0.72"/><circle cx="1167.5" cy="357.6" r="1.4" opacity="0.54"/><circle cx="1149.7" cy="350.5" r="1.1" opacity="0.78"/><circle cx="1114.4" cy="215.5" r="0.7" opacity="0.86"/><circle cx="1119.2" cy="213.8" r="0.6" opacity="0.57"/><circle cx="1091.7" cy="348.4" r="1.2" opacity="0.57"/><circle cx="1096.3" cy="360.1" r="1.4" opacity="0.77"/><circle cx="1099.3" cy="354.9" r="1.1" opacity="0.93"/><circle cx="1054.3" cy="199.5" r="0.6" opacity="0.63"/><circle cx="1060.8" cy="200.6" r="0.6" opacity="0.93"/><circle cx="1051.9" cy="199.0" r="0.6" opacity="0.58"/><circle cx="1052.6" cy="201.1" r="0.6" opacity="0.85"/><circle cx="1058.7" cy="201.5" r="0.6" opacity="0.78"/><circle cx="1052.8" cy="198.4" r="0.6" opacity="0.87"/><circle cx="1140.8" cy="373.0" r="1.5" opacity="0.51"/><circle cx="1216.2" cy="407.6" r="1.2" opacity="0.97"/><circle cx="1226.0" cy="411.5" r="1.7" opacity="0.97"/><circle cx="1033.4" cy="439.4" r="1.4" opacity="0.91"/><circle cx="1031.0" cy="436.2" r="1.7" opacity="0.50"/><circle cx="1044.0" cy="430.8" r="1.4" opacity="0.68"/><circle cx="1105.4" cy="278.0" r="1.0" opacity="0.82"/><circle cx="1111.2" cy="268.6" r="1.0" opacity="0.56"/><circle cx="1096.9" cy="274.5" r="1.0" opacity="0.60"/><circle cx="1100.0" cy="268.9" r="0.8" opacity="0.75"/><circle cx="1102.4" cy="271.4" r="0.9" opacity="0.79"/><circle cx="1102.7" cy="269.4" r="0.7" opacity="0.77"/><circle cx="1112.4" cy="271.3" r="0.8" opacity="0.83"/><circle cx="1107.7" cy="271.9" r="0.8" opacity="0.59"/><circle cx="1111.6" cy="269.4" r="0.9" opacity="0.70"/><circle cx="1037.5" cy="200.6" r="0.6" opacity="0.77"/><circle cx="1043.4" cy="200.8" r="0.6" opacity="0.90"/><circle cx="1053.3" cy="201.5" r="0.6" opacity="0.78"/><circle cx="1044.5" cy="199.9" r="0.6" opacity="0.62"/><circle cx="1046.3" cy="200.4" r="0.6" opacity="0.79"/><circle cx="1010.3" cy="349.8" r="1.2" opacity="0.51"/><circle cx="1019.3" cy="339.6" r="1.3" opacity="0.62"/><circle cx="1027.8" cy="340.3" r="1.2" opacity="0.64"/><circle cx="1019.1" cy="340.6" r="1.3" opacity="0.78"/><circle cx="1010.7" cy="344.6" r="0.9" opacity="0.75"/><circle cx="1012.8" cy="342.1" r="1.2" opacity="0.57"/><circle cx="1005.6" cy="340.8" r="1.2" opacity="0.93"/><circle cx="1018.3" cy="350.2" r="1.0" opacity="0.51"/><circle cx="1016.8" cy="342.5" r="1.3" opacity="0.96"/><circle cx="1016.8" cy="345.7" r="1.2" opacity="0.55"/><circle cx="1003.6" cy="333.2" r="1.2" opacity="0.98"/><circle cx="1030.9" cy="335.2" r="0.9" opacity="0.81"/><circle cx="1006.9" cy="342.4" r="1.2" opacity="0.77"/><circle cx="1009.2" cy="345.4" r="1.2" opacity="0.70"/><circle cx="1012.4" cy="252.0" r="0.9" opacity="0.99"/><circle cx="1001.1" cy="255.0" r="0.8" opacity="0.68"/><circle cx="1037.0" cy="298.5" r="0.8" opacity="0.59"/><circle cx="1027.8" cy="296.5" r="0.9" opacity="0.85"/><circle cx="1010.4" cy="292.7" r="0.9" opacity="0.94"/><circle cx="1025.4" cy="300.7" r="1.2" opacity="0.71"/><circle cx="1015.9" cy="292.4" r="1.1" opacity="0.96"/><circle cx="1031.9" cy="297.4" r="1.1" opacity="0.68"/><circle cx="1026.5" cy="299.8" r="1.1" opacity="0.78"/><circle cx="1022.8" cy="298.5" r="0.9" opacity="0.62"/><circle cx="1023.7" cy="296.9" r="1.0" opacity="0.80"/><circle cx="1205.5" cy="445.5" r="1.8" opacity="0.63"/><circle cx="1179.8" cy="439.9" r="1.8" opacity="0.58"/><circle cx="1145.5" cy="183.9" r="0.6" opacity="0.94"/><circle cx="1145.1" cy="179.6" r="0.5" opacity="0.97"/><circle cx="1144.3" cy="180.7" r="0.5" opacity="0.74"/><circle cx="1147.9" cy="181.5" r="0.6" opacity="0.74"/><circle cx="1150.8" cy="179.5" r="0.5" opacity="0.77"/><circle cx="1147.1" cy="184.0" r="0.5" opacity="0.77"/><circle cx="1172.0" cy="223.8" r="0.7" opacity="0.95"/><circle cx="1166.5" cy="218.9" r="0.7" opacity="0.85"/><circle cx="1167.8" cy="221.8" r="0.7" opacity="0.58"/><circle cx="1170.8" cy="230.3" r="0.7" opacity="0.94"/><circle cx="1165.2" cy="225.0" r="0.7" opacity="0.74"/><circle cx="1161.9" cy="226.7" r="0.6" opacity="0.94"/><circle cx="1170.2" cy="222.8" r="0.6" opacity="0.54"/><circle cx="1171.3" cy="222.7" r="0.7" opacity="0.83"/><circle cx="1194.7" cy="314.9" r="1.2" opacity="0.78"/><circle cx="1201.1" cy="319.6" r="0.8" opacity="0.97"/><circle cx="1189.8" cy="308.9" r="1.0" opacity="0.66"/><circle cx="1183.1" cy="319.6" r="0.9" opacity="0.97"/><circle cx="1201.7" cy="317.4" r="0.9" opacity="0.65"/><circle cx="1185.9" cy="317.9" r="1.1" opacity="0.58"/><circle cx="1212.6" cy="315.2" r="1.2" opacity="0.80"/><circle cx="1206.3" cy="224.4" r="0.8" opacity="0.86"/><circle cx="1218.8" cy="229.7" r="0.7" opacity="0.87"/><circle cx="1210.1" cy="229.5" r="0.7" opacity="0.90"/><circle cx="1215.8" cy="225.7" r="0.7" opacity="0.93"/><circle cx="993.2" cy="341.8" r="0.9" opacity="0.58"/><circle cx="1003.7" cy="332.7" r="1.0" opacity="0.73"/><circle cx="985.6" cy="342.5" r="1.0" opacity="0.52"/><circle cx="975.3" cy="335.1" r="1.3" opacity="0.81"/><circle cx="999.3" cy="342.4" r="1.1" opacity="0.99"/><circle cx="984.8" cy="334.2" r="1.1" opacity="0.87"/><circle cx="1002.9" cy="350.7" r="1.4" opacity="0.84"/><circle cx="981.1" cy="344.0" r="0.9" opacity="0.62"/><circle cx="983.0" cy="333.6" r="1.0" opacity="0.85"/><circle cx="1054.6" cy="257.5" r="0.7" opacity="0.96"/><circle cx="1073.7" cy="257.5" r="0.8" opacity="0.90"/><circle cx="1127.2" cy="199.5" r="0.6" opacity="0.99"/><circle cx="1128.9" cy="201.4" r="0.6" opacity="0.62"/><circle cx="1126.1" cy="201.4" r="0.6" opacity="0.55"/><circle cx="1127.5" cy="200.3" r="0.6" opacity="0.91"/><circle cx="1033.6" cy="345.7" r="1.4" opacity="0.94"/><circle cx="1039.7" cy="348.9" r="1.1" opacity="0.68"/><circle cx="1025.0" cy="355.0" r="1.1" opacity="0.73"/><circle cx="1034.9" cy="348.1" r="1.3" opacity="0.80"/><circle cx="1032.1" cy="349.5" r="1.2" opacity="0.75"/><circle cx="959.9" cy="394.1" r="1.6" opacity="0.53"/><circle cx="940.4" cy="396.2" r="1.0" opacity="0.86"/><circle cx="1211.5" cy="342.3" r="1.2" opacity="0.53"/><circle cx="1219.9" cy="340.7" r="1.4" opacity="0.58"/><circle cx="1209.2" cy="341.1" r="1.1" opacity="0.84"/><circle cx="1214.2" cy="330.3" r="1.0" opacity="0.99"/><circle cx="1209.0" cy="333.4" r="1.0" opacity="0.78"/><circle cx="1060.1" cy="177.4" r="0.5" opacity="0.86"/><circle cx="1065.9" cy="182.2" r="0.5" opacity="0.96"/><circle cx="1065.0" cy="178.4" r="0.5" opacity="0.75"/><circle cx="1067.5" cy="179.6" r="0.5" opacity="0.55"/><circle cx="1118.8" cy="435.7" r="1.7" opacity="0.89"/><circle cx="1105.0" cy="419.6" r="1.1" opacity="0.57"/><circle cx="1171.2" cy="195.9" r="0.6" opacity="0.72"/><circle cx="1171.9" cy="194.8" r="0.6" opacity="0.92"/><circle cx="1169.1" cy="194.3" r="0.6" opacity="0.66"/><circle cx="1177.6" cy="196.7" r="0.6" opacity="0.98"/><circle cx="1176.9" cy="195.5" r="0.6" opacity="0.61"/><circle cx="1168.3" cy="197.3" r="0.6" opacity="0.88"/><circle cx="1175.3" cy="196.2" r="0.6" opacity="0.59"/><circle cx="1170.3" cy="197.3" r="0.6" opacity="0.79"/><circle cx="1132.4" cy="273.5" r="0.9" opacity="0.80"/><circle cx="1135.0" cy="273.7" r="0.9" opacity="0.63"/><circle cx="1140.4" cy="273.7" r="1.0" opacity="0.72"/><circle cx="1132.7" cy="269.9" r="0.9" opacity="0.71"/><circle cx="1149.8" cy="274.2" r="0.8" opacity="0.78"/><circle cx="1141.0" cy="268.9" r="0.8" opacity="0.94"/><circle cx="1143.3" cy="270.6" r="1.0" opacity="0.71"/><circle cx="1150.0" cy="275.4" r="0.9" opacity="0.80"/><circle cx="1210.3" cy="418.9" r="1.4" opacity="0.92"/><circle cx="1180.1" cy="250.7" r="0.8" opacity="0.81"/><circle cx="1182.1" cy="260.5" r="0.8" opacity="0.52"/><circle cx="1188.0" cy="250.1" r="0.8" opacity="0.88"/><circle cx="1186.6" cy="246.6" r="0.9" opacity="0.97"/><circle cx="1189.4" cy="250.5" r="0.8" opacity="0.67"/><circle cx="1177.9" cy="247.0" r="0.8" opacity="0.53"/><circle cx="1185.7" cy="270.0" r="1.0" opacity="0.64"/><circle cx="1175.8" cy="264.8" r="0.9" opacity="0.64"/><circle cx="1182.6" cy="270.2" r="0.9" opacity="0.68"/><circle cx="1166.8" cy="273.1" r="0.9" opacity="0.95"/><circle cx="1178.9" cy="270.6" r="1.0" opacity="0.97"/><circle cx="1179.3" cy="277.8" r="0.9" opacity="0.82"/><circle cx="1183.1" cy="278.1" r="0.8" opacity="0.73"/><circle cx="1181.2" cy="272.1" r="1.0" opacity="0.65"/><circle cx="1130.0" cy="425.0" r="1.0" opacity="0.71"/><circle cx="1143.6" cy="407.9" r="1.2" opacity="0.83"/><circle cx="1131.2" cy="413.7" r="1.6" opacity="0.77"/><circle cx="1132.6" cy="407.3" r="1.7" opacity="0.54"/><circle cx="1206.1" cy="226.5" r="0.8" opacity="0.51"/><circle cx="1204.8" cy="226.3" r="0.6" opacity="0.90"/><circle cx="1211.0" cy="230.8" r="0.7" opacity="0.96"/><circle cx="1206.1" cy="233.2" r="0.8" opacity="0.60"/><circle cx="1205.2" cy="232.5" r="0.7" opacity="0.59"/><circle cx="1211.2" cy="232.0" r="0.7" opacity="0.50"/><circle cx="1206.3" cy="228.0" r="0.8" opacity="0.80"/><circle cx="970.8" cy="306.2" r="1.1" opacity="0.97"/><circle cx="976.6" cy="298.2" r="0.9" opacity="0.74"/><circle cx="961.6" cy="300.4" r="1.0" opacity="0.84"/><circle cx="972.1" cy="308.0" r="1.0" opacity="0.55"/><circle cx="1089.1" cy="240.8" r="0.7" opacity="0.93"/><circle cx="1077.9" cy="232.5" r="0.7" opacity="0.72"/><circle cx="1079.5" cy="237.6" r="0.8" opacity="0.89"/><circle cx="1093.9" cy="237.9" r="0.7" opacity="0.82"/><circle cx="1087.5" cy="239.3" r="0.7" opacity="0.74"/><circle cx="1081.3" cy="237.8" r="0.8" opacity="0.82"/><circle cx="1095.3" cy="241.5" r="0.7" opacity="0.56"/><circle cx="1093.7" cy="238.5" r="0.7" opacity="0.66"/><circle cx="1085.9" cy="243.7" r="0.8" opacity="0.92"/><circle cx="1248.4" cy="336.2" r="1.3" opacity="0.90"/><circle cx="1253.5" cy="339.6" r="1.3" opacity="0.79"/><circle cx="1238.4" cy="342.4" r="0.9" opacity="0.76"/><circle cx="1219.5" cy="346.8" r="0.9" opacity="0.82"/><circle cx="1241.1" cy="341.6" r="1.1" opacity="0.88"/><circle cx="1252.1" cy="345.4" r="1.2" opacity="0.55"/><circle cx="1237.6" cy="338.7" r="1.1" opacity="0.60"/><circle cx="1242.1" cy="341.3" r="1.2" opacity="0.60"/><circle cx="1251.9" cy="341.6" r="1.2" opacity="0.52"/><circle cx="1025.8" cy="202.5" r="0.6" opacity="0.68"/><circle cx="1037.1" cy="202.5" r="0.6" opacity="0.90"/><circle cx="1023.6" cy="202.6" r="0.6" opacity="0.93"/><circle cx="1072.1" cy="221.9" r="0.8" opacity="0.82"/><circle cx="1065.2" cy="228.7" r="0.6" opacity="0.82"/><circle cx="1063.2" cy="222.4" r="0.7" opacity="0.94"/><circle cx="1077.5" cy="219.7" r="0.6" opacity="0.67"/><circle cx="1070.4" cy="225.3" r="0.7" opacity="0.68"/><circle cx="1067.9" cy="224.4" r="0.8" opacity="0.99"/><circle cx="1068.0" cy="224.7" r="0.7" opacity="0.62"/><circle cx="1069.0" cy="223.7" r="0.7" opacity="0.82"/><circle cx="1228.5" cy="402.8" r="1.3" opacity="0.63"/><circle cx="1227.5" cy="385.4" r="1.3" opacity="0.69"/><circle cx="1216.3" cy="388.5" r="1.6" opacity="0.97"/><circle cx="1067.7" cy="219.9" r="0.6" opacity="0.98"/><circle cx="1072.1" cy="214.3" r="0.6" opacity="0.98"/><circle cx="1073.7" cy="215.8" r="0.6" opacity="0.82"/><circle cx="1064.8" cy="212.6" r="0.7" opacity="0.73"/><circle cx="1069.7" cy="215.0" r="0.7" opacity="0.53"/><circle cx="1061.3" cy="213.9" r="0.6" opacity="0.96"/><circle cx="1074.5" cy="219.9" r="0.6" opacity="0.89"/><circle cx="1064.9" cy="213.7" r="0.7" opacity="0.75"/><circle cx="1222.5" cy="250.7" r="0.7" opacity="0.87"/><circle cx="1214.6" cy="251.9" r="0.8" opacity="0.50"/><circle cx="1222.5" cy="249.5" r="0.9" opacity="0.74"/><circle cx="1219.6" cy="250.7" r="0.8" opacity="0.75"/><circle cx="1223.0" cy="249.9" r="0.9" opacity="0.73"/><circle cx="1222.0" cy="182.6" r="0.6" opacity="0.74"/><circle cx="1218.4" cy="181.1" r="0.5" opacity="0.92"/><circle cx="1104.6" cy="298.7" r="0.9" opacity="0.72"/><circle cx="1107.2" cy="300.8" r="0.8" opacity="0.97"/><circle cx="1106.6" cy="301.6" r="1.2" opacity="0.70"/><circle cx="1100.5" cy="297.4" r="1.1" opacity="0.65"/><circle cx="1225.8" cy="208.6" r="0.7" opacity="0.85"/><circle cx="1219.2" cy="213.9" r="0.7" opacity="1.00"/><circle cx="1233.6" cy="212.5" r="0.6" opacity="0.59"/><circle cx="1226.4" cy="213.7" r="0.7" opacity="0.94"/><circle cx="1233.7" cy="212.0" r="0.7" opacity="0.84"/><circle cx="1224.1" cy="216.2" r="0.7" opacity="0.75"/><circle cx="1226.1" cy="269.9" r="0.8" opacity="0.76"/><circle cx="1216.7" cy="265.8" r="0.9" opacity="0.77"/><circle cx="1227.7" cy="267.8" r="0.9" opacity="0.78"/><circle cx="1221.0" cy="270.1" r="0.9" opacity="0.66"/><circle cx="1023.0" cy="281.9" r="1.0" opacity="0.72"/><circle cx="1024.6" cy="287.8" r="1.1" opacity="0.80"/><circle cx="1028.5" cy="291.1" r="1.1" opacity="0.52"/><circle cx="1018.7" cy="288.9" r="1.0" opacity="0.53"/><circle cx="1024.9" cy="291.2" r="0.8" opacity="0.95"/><circle cx="1020.4" cy="286.5" r="0.9" opacity="0.55"/><circle cx="1027.1" cy="287.1" r="0.8" opacity="0.93"/><circle cx="1021.5" cy="285.9" r="0.8" opacity="0.61"/><circle cx="1151.3" cy="363.5" r="1.2" opacity="0.56"/><circle cx="1170.4" cy="356.0" r="1.2" opacity="0.52"/><circle cx="1238.6" cy="256.2" r="0.9" opacity="0.68"/><circle cx="1228.6" cy="261.3" r="0.9" opacity="0.66"/><circle cx="1233.9" cy="258.8" r="0.7" opacity="0.57"/><circle cx="1226.0" cy="258.0" r="1.0" opacity="0.67"/><circle cx="1233.4" cy="259.7" r="0.7" opacity="0.85"/><circle cx="1228.2" cy="261.4" r="0.8" opacity="0.74"/><circle cx="1113.4" cy="303.9" r="1.1" opacity="0.94"/><circle cx="1103.6" cy="304.3" r="1.0" opacity="0.54"/><circle cx="1108.6" cy="300.5" r="0.8" opacity="0.68"/><circle cx="1113.5" cy="300.1" r="0.8" opacity="0.66"/><circle cx="1106.1" cy="299.8" r="1.1" opacity="0.73"/><circle cx="1094.6" cy="302.7" r="1.0" opacity="0.55"/><circle cx="1122.7" cy="309.5" r="1.0" opacity="0.73"/><circle cx="962.4" cy="266.2" r="0.7" opacity="0.89"/><circle cx="952.1" cy="256.1" r="0.8" opacity="0.62"/><circle cx="957.6" cy="262.0" r="0.8" opacity="0.65"/><circle cx="1254.5" cy="213.1" r="0.7" opacity="0.60"/><circle cx="1250.7" cy="209.9" r="0.6" opacity="0.56"/><circle cx="1247.7" cy="210.8" r="0.7" opacity="0.98"/><circle cx="1030.7" cy="196.0" r="0.6" opacity="0.97"/><circle cx="1030.6" cy="197.6" r="0.6" opacity="0.92"/><circle cx="1022.9" cy="195.7" r="0.6" opacity="0.91"/><circle cx="1025.2" cy="199.5" r="0.6" opacity="0.80"/><circle cx="1089.4" cy="171.8" r="0.5" opacity="0.84"/><circle cx="1089.9" cy="173.8" r="0.5" opacity="0.78"/><circle cx="1166.7" cy="226.9" r="0.7" opacity="0.58"/><circle cx="1168.8" cy="225.5" r="0.7" opacity="0.65"/><circle cx="1161.5" cy="221.1" r="0.8" opacity="0.68"/><circle cx="1161.6" cy="226.6" r="0.7" opacity="0.75"/><circle cx="1165.7" cy="226.9" r="0.7" opacity="0.59"/><circle cx="1083.4" cy="378.9" r="1.1" opacity="0.59"/><circle cx="1090.2" cy="379.4" r="1.1" opacity="0.54"/><circle cx="1090.2" cy="378.0" r="1.0" opacity="0.51"/><circle cx="1082.6" cy="389.3" r="1.2" opacity="0.75"/><circle cx="1202.5" cy="335.3" r="1.3" opacity="0.82"/><circle cx="1210.7" cy="332.1" r="0.9" opacity="0.65"/><circle cx="1219.0" cy="329.7" r="0.9" opacity="0.79"/><circle cx="995.2" cy="269.6" r="1.0" opacity="0.89"/><circle cx="993.1" cy="270.7" r="0.8" opacity="0.96"/><circle cx="986.5" cy="271.4" r="0.8" opacity="0.83"/><circle cx="990.3" cy="269.0" r="0.8" opacity="0.74"/><circle cx="991.4" cy="278.0" r="0.8" opacity="0.51"/><circle cx="993.7" cy="269.3" r="0.9" opacity="0.95"/><circle cx="1129.3" cy="212.9" r="0.6" opacity="0.75"/><circle cx="1136.1" cy="211.3" r="0.6" opacity="0.91"/><circle cx="1131.7" cy="214.7" r="0.6" opacity="0.65"/><circle cx="1069.4" cy="174.1" r="0.5" opacity="0.92"/><circle cx="1071.1" cy="176.1" r="0.5" opacity="0.71"/><circle cx="1078.0" cy="172.8" r="0.5" opacity="0.52"/><circle cx="975.2" cy="238.2" r="0.7" opacity="0.93"/><circle cx="965.8" cy="240.6" r="0.8" opacity="0.66"/><circle cx="981.6" cy="234.3" r="0.8" opacity="0.68"/><circle cx="976.2" cy="240.5" r="0.8" opacity="0.56"/><circle cx="979.7" cy="237.7" r="0.7" opacity="0.78"/><circle cx="1220.3" cy="245.7" r="0.9" opacity="0.65"/><circle cx="1216.2" cy="248.5" r="0.9" opacity="0.82"/><circle cx="1078.2" cy="503.2" r="1.7" opacity="0.62"/><circle cx="1018.5" cy="236.9" r="0.8" opacity="0.63"/><circle cx="1021.8" cy="236.5" r="0.7" opacity="0.70"/><circle cx="1021.1" cy="237.0" r="0.7" opacity="0.99"/><circle cx="1016.8" cy="228.3" r="0.7" opacity="0.76"/><circle cx="1014.0" cy="233.2" r="0.7" opacity="0.95"/><circle cx="1015.4" cy="232.3" r="0.8" opacity="0.55"/><circle cx="1015.4" cy="233.9" r="0.8" opacity="0.70"/><circle cx="1021.0" cy="229.9" r="0.8" opacity="0.71"/><circle cx="1011.2" cy="236.4" r="0.8" opacity="0.81"/><circle cx="1077.3" cy="210.5" r="0.7" opacity="0.55"/><circle cx="1075.5" cy="209.1" r="0.6" opacity="0.56"/><circle cx="1072.8" cy="213.9" r="0.7" opacity="0.82"/><circle cx="1071.9" cy="215.0" r="0.6" opacity="0.60"/><circle cx="1080.7" cy="215.8" r="0.6" opacity="0.68"/><circle cx="1077.8" cy="209.4" r="0.6" opacity="0.84"/><circle cx="1235.2" cy="209.6" r="0.7" opacity="0.67"/><circle cx="1240.4" cy="208.4" r="0.6" opacity="0.53"/><circle cx="1024.3" cy="344.3" r="0.9" opacity="0.79"/><circle cx="1025.9" cy="350.7" r="1.2" opacity="0.52"/><circle cx="1028.7" cy="344.0" r="1.2" opacity="0.72"/><circle cx="1024.2" cy="337.5" r="1.2" opacity="0.74"/><circle cx="1027.0" cy="346.3" r="1.2" opacity="0.62"/><circle cx="1015.3" cy="344.6" r="1.3" opacity="0.61"/><circle cx="1035.1" cy="342.1" r="1.4" opacity="0.82"/><circle cx="1041.3" cy="348.2" r="1.0" opacity="0.79"/><circle cx="1019.8" cy="346.3" r="1.4" opacity="0.78"/><circle cx="1160.8" cy="220.7" r="0.7" opacity="0.57"/><circle cx="1163.5" cy="219.6" r="0.6" opacity="0.87"/><circle cx="1164.0" cy="218.8" r="0.6" opacity="0.95"/><circle cx="1161.9" cy="216.4" r="0.7" opacity="0.78"/><circle cx="1152.9" cy="216.1" r="0.7" opacity="0.79"/><circle cx="1165.4" cy="218.6" r="0.7" opacity="0.74"/><circle cx="1158.3" cy="216.6" r="0.7" opacity="0.75"/><circle cx="1170.9" cy="215.0" r="0.6" opacity="0.56"/><circle cx="1150.3" cy="215.9" r="0.7" opacity="0.96"/><circle cx="1227.1" cy="457.6" r="1.3" opacity="0.63"/><circle cx="1193.8" cy="451.2" r="1.7" opacity="0.95"/><circle cx="1145.9" cy="286.4" r="1.0" opacity="0.65"/><circle cx="1098.6" cy="182.5" r="1.0" opacity="0.76"/><circle cx="1118.7" cy="233.7" r="0.5" opacity="0.88"/><circle cx="1070.5" cy="202.8" r="0.6" opacity="0.41"/><circle cx="1109.4" cy="176.8" r="0.7" opacity="0.41"/><circle cx="1176.1" cy="188.7" r="0.5" opacity="0.75"/><circle cx="1114.8" cy="221.7" r="0.8" opacity="0.55"/><circle cx="1019.1" cy="265.0" r="0.7" opacity="0.67"/><circle cx="1108.2" cy="221.0" r="0.9" opacity="0.67"/><circle cx="993.5" cy="186.3" r="0.7" opacity="0.70"/><circle cx="984.3" cy="249.4" r="0.9" opacity="0.86"/><circle cx="1037.9" cy="217.9" r="0.6" opacity="0.71"/><circle cx="993.0" cy="173.7" r="1.0" opacity="0.64"/><circle cx="1241.8" cy="274.1" r="0.7" opacity="0.79"/><circle cx="1096.6" cy="180.7" r="0.9" opacity="0.83"/><circle cx="1134.0" cy="274.6" r="0.8" opacity="0.58"/><circle cx="1124.4" cy="286.7" r="0.6" opacity="0.65"/><circle cx="985.8" cy="188.8" r="0.5" opacity="0.65"/><circle cx="1041.1" cy="183.9" r="0.7" opacity="0.87"/><circle cx="989.6" cy="296.4" r="0.9" opacity="0.63"/><circle cx="1097.3" cy="265.3" r="0.6" opacity="0.60"/><circle cx="1169.4" cy="249.6" r="0.9" opacity="0.55"/><circle cx="1243.8" cy="293.3" r="0.5" opacity="0.63"/><circle cx="1085.4" cy="195.2" r="0.5" opacity="0.86"/><circle cx="1013.5" cy="296.3" r="0.6" opacity="0.64"/><circle cx="1041.7" cy="267.0" r="0.8" opacity="0.77"/><circle cx="1086.9" cy="197.1" r="1.0" opacity="0.48"/><circle cx="1094.4" cy="228.3" r="0.5" opacity="0.90"/><circle cx="1132.3" cy="204.8" r="1.0" opacity="0.40"/><circle cx="1122.2" cy="269.9" r="1.0" opacity="0.77"/><circle cx="960.4" cy="192.8" r="0.9" opacity="0.59"/><circle cx="1017.0" cy="244.2" r="0.8" opacity="0.66"/><circle cx="1033.0" cy="292.2" r="1.0" opacity="0.51"/><circle cx="1022.4" cy="278.8" r="1.0" opacity="0.77"/><circle cx="1191.3" cy="198.4" r="1.0" opacity="0.77"/><circle cx="1012.8" cy="228.8" r="0.6" opacity="0.67"/><circle cx="1012.3" cy="216.9" r="0.9" opacity="0.48"/><circle cx="1212.7" cy="187.7" r="0.5" opacity="0.51"/><circle cx="1188.2" cy="207.8" r="0.7" opacity="0.71"/><circle cx="1039.7" cy="219.6" r="0.9" opacity="0.44"/><circle cx="961.4" cy="217.2" r="0.8" opacity="0.53"/><circle cx="1163.2" cy="289.8" r="0.9" opacity="0.63"/><circle cx="1118.1" cy="244.0" r="0.5" opacity="0.85"/><circle cx="1088.5" cy="188.7" r="0.8" opacity="0.69"/><circle cx="1063.3" cy="205.1" r="0.9" opacity="0.65"/><circle cx="1162.3" cy="267.3" r="0.9" opacity="0.70"/><circle cx="1210.8" cy="258.8" r="0.8" opacity="0.59"/><circle cx="1058.7" cy="290.4" r="0.8" opacity="0.47"/><circle cx="974.2" cy="272.9" r="0.8" opacity="0.65"/><circle cx="1181.6" cy="275.2" r="0.7" opacity="0.84"/><circle cx="1041.4" cy="264.8" r="0.8" opacity="0.74"/><circle cx="1109.2" cy="289.1" r="0.6" opacity="0.85"/><circle cx="1016.2" cy="295.8" r="0.7" opacity="0.76"/><circle cx="1076.3" cy="293.3" r="0.5" opacity="0.58"/><circle cx="1195.4" cy="182.1" r="0.6" opacity="0.52"/><circle cx="1075.7" cy="264.4" r="0.8" opacity="0.47"/><circle cx="1104.4" cy="173.2" r="0.9" opacity="0.58"/><circle cx="1058.0" cy="287.0" r="0.7" opacity="0.76"/><circle cx="1135.0" cy="200.3" r="1.0" opacity="0.78"/><circle cx="1237.7" cy="256.9" r="0.9" opacity="0.69"/><circle cx="1140.9" cy="179.1" r="0.8" opacity="0.86"/><circle cx="1194.1" cy="184.5" r="0.6" opacity="0.80"/><circle cx="1048.4" cy="281.2" r="0.5" opacity="0.41"/><circle cx="998.5" cy="240.5" r="0.8" opacity="0.89"/><circle cx="1226.9" cy="266.0" r="0.9" opacity="0.50"/><circle cx="1245.9" cy="182.4" r="1.0" opacity="0.58"/><circle cx="1227.3" cy="246.7" r="0.7" opacity="0.59"/><circle cx="1215.8" cy="238.0" r="0.5" opacity="0.69"/><circle cx="1068.5" cy="239.5" r="0.6" opacity="0.62"/><circle cx="987.3" cy="247.2" r="0.9" opacity="0.64"/><circle cx="1049.3" cy="218.6" r="0.8" opacity="0.51"/><circle cx="1086.3" cy="253.3" r="0.5" opacity="0.53"/><circle cx="979.2" cy="179.2" r="0.6" opacity="0.49"/><circle cx="1030.4" cy="245.7" r="0.7" opacity="0.77"/><circle cx="1024.0" cy="173.6" r="0.6" opacity="0.53"/><circle cx="1054.9" cy="185.6" r="0.9" opacity="0.40"/><circle cx="1105.9" cy="184.2" r="0.6" opacity="0.64"/><circle cx="1022.8" cy="235.7" r="0.7" opacity="0.74"/><circle cx="1013.3" cy="172.7" r="0.8" opacity="0.45"/><circle cx="1243.1" cy="229.9" r="0.6" opacity="0.55"/><circle cx="1044.9" cy="245.5" r="0.8" opacity="0.45"/><circle cx="1086.7" cy="255.2" r="1.0" opacity="0.82"/><circle cx="978.5" cy="192.8" r="0.6" opacity="0.79"/><circle cx="1012.5" cy="214.0" r="0.5" opacity="0.58"/><circle cx="1243.6" cy="251.0" r="0.7" opacity="0.80"/><circle cx="1070.9" cy="296.8" r="0.6" opacity="0.42"/><circle cx="1015.5" cy="203.7" r="0.8" opacity="0.56"/><circle cx="1121.6" cy="264.7" r="0.8" opacity="0.73"/><circle cx="1148.1" cy="224.2" r="0.5" opacity="0.63"/><circle cx="1087.2" cy="230.5" r="0.9" opacity="0.71"/><circle cx="1102.1" cy="179.1" r="0.9" opacity="0.86"/><circle cx="1226.8" cy="212.8" r="0.7" opacity="0.81"/><circle cx="1021.1" cy="281.0" r="0.8" opacity="0.65"/><circle cx="1233.8" cy="264.0" r="0.6" opacity="0.89"/><circle cx="955.6" cy="175.1" r="0.8" opacity="0.49"/><circle cx="1104.1" cy="213.5" r="0.8" opacity="0.54"/><circle cx="1211.1" cy="187.4" r="0.8" opacity="0.82"/><circle cx="1211.8" cy="291.0" r="0.7" opacity="0.43"/><circle cx="1053.5" cy="288.1" r="0.8" opacity="0.48"/><circle cx="1153.4" cy="222.0" r="0.7" opacity="0.46"/><circle cx="1082.1" cy="218.7" r="1.0" opacity="0.84"/><circle cx="951.0" cy="280.8" r="1.0" opacity="0.75"/><circle cx="1096.1" cy="176.7" r="1.0" opacity="0.61"/><circle cx="1038.7" cy="244.1" r="1.0" opacity="0.56"/><circle cx="1180.2" cy="194.3" r="0.8" opacity="0.82"/><circle cx="1053.2" cy="253.3" r="0.9" opacity="0.67"/><circle cx="1049.0" cy="239.6" r="0.7" opacity="0.40"/><circle cx="1166.1" cy="267.5" r="0.7" opacity="0.51"/><circle cx="981.5" cy="190.7" r="0.8" opacity="0.69"/><circle cx="1191.6" cy="239.4" r="0.7" opacity="0.64"/><circle cx="1095.1" cy="210.0" r="0.5" opacity="0.85"/><circle cx="1121.4" cy="274.4" r="0.9" opacity="0.88"/><circle cx="1233.3" cy="210.1" r="0.6" opacity="0.71"/><circle cx="972.8" cy="254.4" r="0.9" opacity="0.46"/><circle cx="1026.5" cy="190.5" r="0.8" opacity="0.88"/><circle cx="967.6" cy="251.1" r="0.7" opacity="0.76"/><circle cx="1139.6" cy="179.3" r="0.7" opacity="0.72"/><circle cx="1131.1" cy="220.4" r="0.6" opacity="0.45"/><circle cx="1070.8" cy="184.3" r="1.0" opacity="0.89"/><circle cx="1034.4" cy="201.2" r="0.9" opacity="0.89"/><circle cx="1097.0" cy="290.8" r="0.7" opacity="0.83"/><circle cx="1023.5" cy="209.1" r="0.6" opacity="0.53"/><circle cx="1083.3" cy="177.9" r="1.0" opacity="0.67"/><circle cx="1175.8" cy="215.9" r="0.6" opacity="0.52"/><circle cx="1247.8" cy="257.3" r="0.6" opacity="0.42"/><circle cx="1207.4" cy="285.6" r="0.7" opacity="0.57"/><circle cx="1104.9" cy="176.3" r="0.6" opacity="0.58"/><circle cx="1240.0" cy="184.1" r="0.9" opacity="0.77"/><circle cx="1188.9" cy="239.8" r="0.7" opacity="0.58"/><circle cx="1230.7" cy="266.4" r="0.5" opacity="0.63"/><circle cx="1165.7" cy="256.1" r="0.5" opacity="0.72"/><circle cx="1074.2" cy="262.6" r="0.7" opacity="0.78"/><circle cx="1024.4" cy="237.2" r="0.8" opacity="0.45"/><circle cx="1184.3" cy="220.3" r="0.6" opacity="0.53"/><circle cx="1074.6" cy="240.2" r="1.0" opacity="0.83"/><circle cx="1151.9" cy="261.6" r="0.7" opacity="0.55"/><circle cx="1037.0" cy="255.2" r="0.6" opacity="0.82"/><circle cx="1243.0" cy="205.0" r="0.8" opacity="0.48"/><circle cx="1202.2" cy="247.3" r="0.7" opacity="0.88"/><circle cx="1097.7" cy="237.8" r="0.6" opacity="0.45"/><circle cx="1229.9" cy="238.0" r="0.8" opacity="0.67"/><circle cx="1213.3" cy="240.7" r="0.9" opacity="0.66"/><circle cx="969.1" cy="197.8" r="0.9" opacity="0.72"/><circle cx="1131.1" cy="236.4" r="0.9" opacity="0.49"/><circle cx="1179.3" cy="236.6" r="0.9" opacity="0.72"/><circle cx="1134.1" cy="275.6" r="0.9" opacity="0.75"/><circle cx="1069.4" cy="297.8" r="1.0" opacity="0.64"/><circle cx="1185.1" cy="248.6" r="0.7" opacity="0.62"/><circle cx="1042.8" cy="222.9" r="0.9" opacity="0.47"/><circle cx="1007.4" cy="246.2" r="0.6" opacity="0.70"/><circle cx="989.2" cy="235.8" r="0.6" opacity="0.77"/><circle cx="1157.8" cy="254.9" r="0.7" opacity="0.70"/><circle cx="1074.3" cy="214.0" r="0.7" opacity="0.48"/><circle cx="975.7" cy="292.7" r="0.7" opacity="0.50"/><circle cx="1240.1" cy="291.6" r="1.0" opacity="0.53"/><circle cx="1135.1" cy="238.0" r="0.9" opacity="0.74"/><circle cx="1130.6" cy="224.7" r="0.7" opacity="0.80"/><circle cx="1120.9" cy="288.3" r="0.6" opacity="0.64"/><circle cx="1225.1" cy="276.3" r="0.7" opacity="0.74"/><circle cx="1199.9" cy="191.4" r="1.0" opacity="0.44"/><circle cx="1092.2" cy="222.7" r="0.6" opacity="0.82"/><circle cx="1214.5" cy="179.9" r="0.8" opacity="0.55"/><circle cx="1087.4" cy="176.9" r="0.9" opacity="0.53"/><circle cx="1236.2" cy="230.0" r="1.0" opacity="0.81"/><circle cx="1196.6" cy="270.2" r="0.6" opacity="0.89"/><circle cx="1182.4" cy="286.9" r="0.6" opacity="0.41"/><circle cx="1012.2" cy="278.8" r="0.5" opacity="0.45"/><circle cx="1159.7" cy="250.3" r="0.5" opacity="0.78"/><circle cx="1217.0" cy="199.6" r="0.7" opacity="0.71"/><circle cx="1128.5" cy="288.5" r="0.7" opacity="0.43"/><circle cx="1230.3" cy="252.7" r="0.7" opacity="0.72"/><circle cx="1166.2" cy="207.3" r="0.8" opacity="0.79"/><circle cx="1098.5" cy="198.0" r="0.6" opacity="0.69"/><circle cx="1018.2" cy="176.8" r="0.5" opacity="0.79"/><circle cx="1084.8" cy="217.0" r="0.5" opacity="0.49"/><circle cx="1006.9" cy="291.7" r="0.9" opacity="0.77"/><circle cx="1146.7" cy="209.9" r="0.8" opacity="0.88"/><circle cx="1048.5" cy="188.6" r="0.8" opacity="0.76"/><circle cx="1086.2" cy="199.6" r="0.9" opacity="0.49"/><circle cx="996.2" cy="176.4" r="0.7" opacity="0.63"/><circle cx="961.8" cy="294.9" r="0.8" opacity="0.45"/><circle cx="1017.6" cy="201.8" r="0.8" opacity="0.66"/><circle cx="1023.7" cy="287.7" r="0.8" opacity="0.75"/><circle cx="1183.3" cy="248.0" r="0.6" opacity="0.49"/><circle cx="956.4" cy="189.4" r="1.0" opacity="0.48"/><circle cx="1123.9" cy="234.5" r="0.6" opacity="0.84"/><circle cx="1217.8" cy="204.0" r="0.9" opacity="0.70"/><circle cx="970.6" cy="250.7" r="0.8" opacity="0.43"/><circle cx="1232.4" cy="174.7" r="0.8" opacity="0.41"/><circle cx="1081.0" cy="204.9" r="0.6" opacity="0.58"/><circle cx="1069.2" cy="231.1" r="0.7" opacity="0.41"/><circle cx="1131.3" cy="245.6" r="0.7" opacity="0.77"/><circle cx="1112.5" cy="299.6" r="0.8" opacity="0.73"/><circle cx="1203.7" cy="280.0" r="0.7" opacity="0.43"/><circle cx="993.4" cy="226.0" r="0.6" opacity="0.47"/><circle cx="1130.2" cy="189.7" r="0.8" opacity="0.82"/><circle cx="960.1" cy="228.3" r="0.9" opacity="0.64"/><circle cx="1222.0" cy="216.9" r="0.6" opacity="0.43"/><circle cx="1239.1" cy="283.2" r="0.9" opacity="0.42"/><circle cx="1134.4" cy="206.0" r="0.9" opacity="0.71"/><circle cx="1184.7" cy="252.8" r="1.0" opacity="0.68"/><circle cx="1101.0" cy="239.2" r="0.7" opacity="0.73"/><circle cx="958.4" cy="196.3" r="1.0" opacity="0.65"/><circle cx="1197.6" cy="278.1" r="0.6" opacity="0.83"/><circle cx="1096.3" cy="220.8" r="0.7" opacity="0.61"/><circle cx="1017.8" cy="283.7" r="0.8" opacity="0.63"/><circle cx="973.2" cy="208.6" r="0.9" opacity="0.78"/><circle cx="1099.0" cy="180.6" r="0.8" opacity="0.74"/><circle cx="1230.9" cy="194.6" r="0.9" opacity="0.47"/><circle cx="1109.0" cy="299.3" r="0.9" opacity="0.75"/><circle cx="1093.1" cy="228.6" r="0.5" opacity="0.81"/><circle cx="972.6" cy="258.1" r="0.8" opacity="0.77"/><circle cx="1208.2" cy="196.2" r="0.8" opacity="0.56"/><circle cx="1174.3" cy="241.4" r="0.9" opacity="0.82"/><circle cx="1113.3" cy="209.2" r="1.0" opacity="0.78"/><circle cx="991.3" cy="194.7" r="1.0" opacity="0.41"/><circle cx="960.1" cy="188.9" r="0.8" opacity="0.42"/><circle cx="1230.0" cy="207.4" r="0.6" opacity="0.62"/><circle cx="1182.9" cy="215.5" r="0.5" opacity="0.61"/><circle cx="1241.0" cy="178.6" r="1.0" opacity="0.84"/><circle cx="1233.7" cy="229.5" r="0.9" opacity="0.49"/><circle cx="1102.1" cy="226.2" r="0.6" opacity="0.71"/><circle cx="973.3" cy="265.6" r="0.8" opacity="0.78"/><circle cx="1198.0" cy="284.5" r="0.9" opacity="0.45"/><circle cx="1143.3" cy="257.4" r="0.7" opacity="0.49"/><circle cx="978.3" cy="219.0" r="0.8" opacity="0.66"/><circle cx="1031.5" cy="297.2" r="0.7" opacity="0.48"/><circle cx="1086.5" cy="289.6" r="0.9" opacity="0.41"/><circle cx="1198.3" cy="284.3" r="0.8" opacity="0.52"/><circle cx="1247.0" cy="247.0" r="0.6" opacity="0.65"/><circle cx="1174.9" cy="296.5" r="0.5" opacity="0.46"/><circle cx="1037.4" cy="229.9" r="0.6" opacity="0.68"/><circle cx="1138.6" cy="264.0" r="0.9" opacity="0.49"/><circle cx="973.9" cy="198.8" r="0.8" opacity="0.87"/><circle cx="1046.1" cy="196.2" r="0.8" opacity="0.49"/><circle cx="1020.7" cy="281.9" r="0.9" opacity="0.46"/><circle cx="1068.3" cy="299.6" r="0.7" opacity="0.60"/><circle cx="1035.4" cy="243.8" r="0.8" opacity="0.68"/><circle cx="1074.0" cy="186.9" r="0.9" opacity="0.60"/><circle cx="950.5" cy="248.7" r="0.8" opacity="0.44"/><circle cx="1234.5" cy="218.1" r="0.7" opacity="0.53"/><circle cx="1083.9" cy="271.0" r="0.7" opacity="0.52"/><circle cx="988.2" cy="206.3" r="0.8" opacity="0.61"/><circle cx="1064.6" cy="235.6" r="0.8" opacity="0.55"/><circle cx="1108.7" cy="194.3" r="0.7" opacity="0.42"/><circle cx="1085.0" cy="245.2" r="0.7" opacity="0.48"/><circle cx="1237.9" cy="283.3" r="0.6" opacity="0.79"/><circle cx="1006.9" cy="289.5" r="0.9" opacity="0.76"/><circle cx="1135.5" cy="233.6" r="0.7" opacity="0.58"/><circle cx="1212.2" cy="258.4" r="0.7" opacity="0.48"/><circle cx="1154.8" cy="234.9" r="0.6" opacity="0.44"/><circle cx="1037.3" cy="178.8" r="0.8" opacity="0.73"/><circle cx="1007.9" cy="291.8" r="0.6" opacity="0.73"/><circle cx="1038.2" cy="250.2" r="0.5" opacity="0.67"/><circle cx="1096.0" cy="239.0" r="0.7" opacity="0.68"/><circle cx="1144.6" cy="245.3" r="0.6" opacity="0.64"/><circle cx="989.9" cy="275.9" r="0.8" opacity="0.89"/><circle cx="1018.2" cy="180.2" r="0.9" opacity="0.67"/><circle cx="1197.1" cy="240.4" r="0.7" opacity="0.68"/><circle cx="1243.4" cy="289.4" r="0.7" opacity="0.64"/><circle cx="1111.1" cy="186.1" r="0.8" opacity="0.46"/><circle cx="1139.8" cy="261.2" r="0.8" opacity="0.61"/><circle cx="1190.0" cy="190.2" r="0.9" opacity="0.75"/><circle cx="991.4" cy="260.4" r="0.9" opacity="0.74"/><circle cx="971.9" cy="297.2" r="1.0" opacity="0.59"/><circle cx="1174.7" cy="176.1" r="0.8" opacity="0.42"/><circle cx="1100.9" cy="212.7" r="1.0" opacity="0.54"/><circle cx="1246.4" cy="175.4" r="0.6" opacity="0.80"/><circle cx="1103.1" cy="180.0" r="0.8" opacity="0.69"/><circle cx="1028.8" cy="297.9" r="0.6" opacity="0.68"/><circle cx="1166.3" cy="194.6" r="0.9" opacity="0.60"/><circle cx="1047.6" cy="206.9" r="0.8" opacity="0.62"/><circle cx="1005.6" cy="179.3" r="0.9" opacity="0.88"/><circle cx="1085.6" cy="194.1" r="0.7" opacity="0.59"/><circle cx="950.2" cy="244.2" r="1.0" opacity="0.90"/><circle cx="1150.0" cy="247.0" r="0.7" opacity="0.51"/><circle cx="1001.2" cy="282.1" r="0.5" opacity="0.87"/><circle cx="967.6" cy="269.0" r="0.9" opacity="0.56"/><circle cx="993.2" cy="260.3" r="0.9" opacity="0.62"/><circle cx="1110.6" cy="242.9" r="0.5" opacity="0.64"/><circle cx="978.4" cy="240.3" r="0.8" opacity="0.64"/><circle cx="1019.2" cy="276.4" r="0.8" opacity="0.58"/><circle cx="991.0" cy="202.7" r="0.7" opacity="0.47"/><circle cx="1187.1" cy="199.3" r="0.9" opacity="0.85"/><circle cx="1079.5" cy="273.7" r="0.5" opacity="0.43"/><circle cx="1239.7" cy="259.1" r="0.9" opacity="0.58"/><circle cx="1184.3" cy="281.0" r="0.8" opacity="0.83"/><circle cx="1147.6" cy="200.7" r="0.9" opacity="0.66"/><circle cx="1158.1" cy="275.6" r="0.6" opacity="0.73"/><circle cx="1143.0" cy="266.7" r="0.6" opacity="0.43"/><circle cx="1173.4" cy="230.2" r="0.9" opacity="0.86"/><circle cx="1097.2" cy="276.9" r="0.7" opacity="0.66"/><circle cx="1039.0" cy="285.0" r="0.6" opacity="0.84"/><circle cx="1169.3" cy="293.1" r="1.0" opacity="0.80"/><circle cx="1152.9" cy="250.2" r="0.8" opacity="0.84"/><circle cx="1186.2" cy="205.9" r="0.8" opacity="0.60"/><circle cx="972.7" cy="175.0" r="0.9" opacity="0.75"/><circle cx="1114.5" cy="280.5" r="0.7" opacity="0.61"/><circle cx="1023.8" cy="222.0" r="0.7" opacity="0.61"/><circle cx="992.4" cy="192.0" r="1.0" opacity="0.83"/><circle cx="1027.6" cy="177.2" r="0.8" opacity="0.62"/><circle cx="1100.1" cy="273.6" r="0.7" opacity="0.70"/><circle cx="1139.3" cy="262.8" r="0.5" opacity="0.89"/><circle cx="1006.0" cy="222.2" r="0.7" opacity="0.46"/><circle cx="1229.8" cy="197.7" r="0.6" opacity="0.85"/><circle cx="1021.3" cy="274.0" r="1.0" opacity="0.43"/><circle cx="1248.0" cy="226.2" r="0.7" opacity="0.82"/><circle cx="1149.0" cy="242.1" r="1.0" opacity="0.81"/><circle cx="1154.3" cy="202.8" r="0.7" opacity="0.71"/><circle cx="1030.5" cy="274.0" r="0.6" opacity="0.47"/><circle cx="1248.4" cy="190.6" r="0.9" opacity="0.48"/><circle cx="978.9" cy="185.6" r="0.8" opacity="0.78"/><circle cx="1031.3" cy="238.2" r="0.6" opacity="0.52"/><circle cx="962.8" cy="241.6" r="0.9" opacity="0.78"/><circle cx="1228.8" cy="222.6" r="0.9" opacity="0.68"/><circle cx="1120.1" cy="177.1" r="0.7" opacity="0.80"/><circle cx="1187.9" cy="245.2" r="0.6" opacity="0.53"/><circle cx="1058.3" cy="202.0" r="0.8" opacity="0.63"/><circle cx="1144.9" cy="295.7" r="0.8" opacity="0.54"/><circle cx="958.5" cy="266.9" r="0.8" opacity="0.89"/><circle cx="1211.4" cy="186.3" r="0.6" opacity="0.57"/><circle cx="1060.8" cy="221.6" r="1.0" opacity="0.63"/><circle cx="972.8" cy="218.6" r="1.0" opacity="0.65"/><circle cx="1017.9" cy="299.0" r="0.7" opacity="0.68"/><circle cx="1202.4" cy="285.9" r="0.9" opacity="0.43"/><circle cx="1103.8" cy="234.2" r="0.9" opacity="0.48"/><circle cx="1159.8" cy="225.5" r="0.5" opacity="0.63"/><circle cx="1225.1" cy="229.9" r="1.0" opacity="0.77"/><circle cx="1215.7" cy="249.1" r="0.9" opacity="0.44"/><circle cx="965.4" cy="237.6" r="0.6" opacity="0.78"/><circle cx="984.2" cy="290.6" r="0.8" opacity="0.77"/><circle cx="1150.0" cy="295.1" r="0.9" opacity="0.71"/><circle cx="974.1" cy="295.9" r="0.7" opacity="0.57"/><circle cx="1233.3" cy="297.7" r="0.7" opacity="0.49"/><circle cx="1025.5" cy="244.3" r="1.0" opacity="0.75"/><circle cx="1053.7" cy="271.8" r="0.8" opacity="0.69"/><circle cx="1103.7" cy="265.8" r="0.7" opacity="0.49"/><circle cx="1178.2" cy="201.6" r="0.8" opacity="0.71"/><circle cx="994.0" cy="285.1" r="0.9" opacity="0.58"/><circle cx="1241.5" cy="220.2" r="0.7" opacity="0.53"/><circle cx="1171.9" cy="294.2" r="0.7" opacity="0.72"/><circle cx="1038.0" cy="185.4" r="0.8" opacity="0.79"/><circle cx="1239.0" cy="289.5" r="0.9" opacity="0.83"/><circle cx="1137.6" cy="258.3" r="0.6" opacity="0.73"/><circle cx="1068.4" cy="279.8" r="0.6" opacity="0.50"/><circle cx="1212.3" cy="286.4" r="0.6" opacity="0.49"/><circle cx="1072.5" cy="264.6" r="0.6" opacity="0.85"/><circle cx="1139.2" cy="190.8" r="1.0" opacity="0.45"/><circle cx="975.1" cy="248.1" r="0.8" opacity="0.44"/><circle cx="1126.4" cy="242.9" r="0.9" opacity="0.60"/><circle cx="1220.8" cy="188.9" r="0.8" opacity="0.73"/><circle cx="1230.1" cy="235.9" r="0.8" opacity="0.52"/><circle cx="1166.9" cy="232.7" r="0.7" opacity="0.62"/><circle cx="1033.8" cy="212.4" r="0.7" opacity="0.57"/><circle cx="1127.7" cy="260.8" r="0.5" opacity="0.58"/><circle cx="1166.0" cy="172.0" r="0.6" opacity="0.83"/><circle cx="1150.3" cy="255.4" r="0.9" opacity="0.70"/><circle cx="1186.1" cy="266.4" r="0.5" opacity="0.74"/><circle cx="1027.9" cy="280.0" r="0.7" opacity="0.83"/><circle cx="1021.6" cy="291.0" r="0.7" opacity="0.64"/><circle cx="1011.6" cy="246.3" r="0.7" opacity="0.83"/><circle cx="1209.5" cy="202.5" r="1.0" opacity="0.44"/><circle cx="1030.2" cy="288.7" r="0.6" opacity="0.64"/><circle cx="1129.5" cy="299.9" r="0.6" opacity="0.69"/><circle cx="1001.6" cy="262.7" r="1.0" opacity="0.63"/><circle cx="1147.2" cy="190.6" r="0.8" opacity="0.54"/><circle cx="955.0" cy="284.4" r="0.6" opacity="0.70"/><circle cx="957.3" cy="191.4" r="0.9" opacity="0.47"/><circle cx="1067.6" cy="196.4" r="0.7" opacity="0.64"/><circle cx="1181.8" cy="182.0" r="0.5" opacity="0.72"/><circle cx="1019.4" cy="251.4" r="0.6" opacity="0.86"/><circle cx="1033.1" cy="265.3" r="0.6" opacity="0.78"/><circle cx="1004.2" cy="188.0" r="0.8" opacity="0.69"/><circle cx="978.7" cy="261.7" r="0.7" opacity="0.89"/><circle cx="1058.7" cy="261.3" r="0.7" opacity="0.45"/><circle cx="1136.2" cy="202.7" r="0.6" opacity="0.75"/><circle cx="951.4" cy="214.1" r="0.5" opacity="0.41"/><circle cx="1200.6" cy="258.3" r="0.8" opacity="0.79"/><circle cx="997.4" cy="242.9" r="0.6" opacity="0.59"/><circle cx="1197.9" cy="244.3" r="0.9" opacity="0.60"/><circle cx="1042.7" cy="277.3" r="0.8" opacity="0.74"/><circle cx="1169.1" cy="261.9" r="0.9" opacity="0.53"/><circle cx="1173.8" cy="281.3" r="0.9" opacity="0.54"/><circle cx="1052.4" cy="222.4" r="0.9" opacity="0.66"/><circle cx="1211.8" cy="253.4" r="0.7" opacity="0.66"/><circle cx="1044.0" cy="234.5" r="0.8" opacity="0.69"/><circle cx="1124.0" cy="182.6" r="0.7" opacity="0.50"/><circle cx="1205.0" cy="257.8" r="0.8" opacity="0.82"/><circle cx="1073.2" cy="194.5" r="0.6" opacity="0.43"/><circle cx="992.8" cy="257.2" r="0.9" opacity="0.65"/><circle cx="1208.8" cy="228.5" r="0.7" opacity="0.84"/><circle cx="1150.2" cy="263.0" r="0.9" opacity="0.65"/><circle cx="1160.2" cy="219.5" r="0.6" opacity="0.76"/><circle cx="1228.3" cy="185.8" r="1.0" opacity="0.55"/><circle cx="1157.4" cy="215.1" r="1.0" opacity="0.64"/><circle cx="1104.8" cy="229.3" r="0.6" opacity="0.83"/><circle cx="1169.5" cy="254.9" r="0.9" opacity="0.46"/><circle cx="1159.9" cy="209.6" r="0.6" opacity="0.68"/><circle cx="1040.8" cy="237.6" r="0.5" opacity="0.69"/><circle cx="1176.1" cy="186.0" r="0.9" opacity="0.47"/><circle cx="1129.1" cy="255.5" r="0.8" opacity="0.55"/><circle cx="1234.6" cy="203.7" r="0.9" opacity="0.45"/><circle cx="1062.6" cy="199.0" r="0.7" opacity="0.46"/><circle cx="1162.2" cy="286.6" r="0.7" opacity="0.60"/><circle cx="1022.6" cy="193.7" r="0.6" opacity="0.84"/><circle cx="971.9" cy="241.3" r="0.9" opacity="0.56"/><circle cx="1176.2" cy="176.7" r="0.9" opacity="0.80"/><circle cx="1221.5" cy="186.8" r="0.6" opacity="0.71"/><circle cx="1163.4" cy="298.5" r="0.7" opacity="0.72"/><circle cx="1145.9" cy="238.7" r="0.8" opacity="0.86"/><circle cx="1067.5" cy="268.5" r="0.9" opacity="0.74"/><circle cx="1157.9" cy="204.7" r="0.8" opacity="0.49"/><circle cx="1113.7" cy="244.0" r="0.8" opacity="0.81"/><circle cx="1220.8" cy="261.6" r="0.6" opacity="0.83"/><circle cx="952.3" cy="282.3" r="0.7" opacity="0.84"/><circle cx="1232.2" cy="207.9" r="0.5" opacity="0.81"/><circle cx="1134.6" cy="297.9" r="0.8" opacity="0.67"/><circle cx="1044.7" cy="222.1" r="0.9" opacity="0.60"/><circle cx="965.9" cy="249.3" r="1.0" opacity="0.89"/><circle cx="1175.9" cy="207.2" r="0.8" opacity="0.78"/><circle cx="1200.5" cy="197.3" r="0.7" opacity="0.71"/><circle cx="961.5" cy="254.5" r="0.8" opacity="0.76"/><circle cx="1080.9" cy="191.7" r="0.8" opacity="0.50"/><circle cx="1027.2" cy="271.9" r="0.7" opacity="0.68"/><circle cx="1191.4" cy="192.9" r="0.5" opacity="0.48"/><circle cx="1147.5" cy="271.2" r="0.9" opacity="0.84"/><circle cx="1189.8" cy="261.6" r="0.6" opacity="0.87"/><circle cx="1063.0" cy="262.7" r="0.9" opacity="0.52"/><circle cx="1160.3" cy="276.5" r="0.6" opacity="0.84"/><circle cx="1088.2" cy="264.9" r="0.9" opacity="0.64"/><circle cx="962.1" cy="287.0" r="0.5" opacity="0.74"/><circle cx="1103.8" cy="235.7" r="0.7" opacity="0.74"/><circle cx="1089.9" cy="298.6" r="0.9" opacity="0.60"/><circle cx="1106.1" cy="231.8" r="0.9" opacity="0.57"/><circle cx="1183.6" cy="177.7" r="0.9" opacity="0.87"/><circle cx="1002.6" cy="217.7" r="0.5" opacity="0.53"/><circle cx="1045.5" cy="243.0" r="0.7" opacity="0.75"/><circle cx="1059.2" cy="232.0" r="0.6" opacity="0.82"/><circle cx="1107.0" cy="175.2" r="0.8" opacity="0.86"/><circle cx="1148.6" cy="220.5" r="0.8" opacity="0.80"/><circle cx="1236.5" cy="238.9" r="0.8" opacity="0.46"/><circle cx="978.0" cy="292.0" r="0.5" opacity="0.58"/><circle cx="1137.8" cy="255.8" r="0.5" opacity="0.71"/><circle cx="1160.3" cy="261.8" r="0.8" opacity="0.57"/><circle cx="985.3" cy="180.8" r="0.6" opacity="0.64"/><circle cx="1112.8" cy="254.6" r="0.8" opacity="0.58"/><circle cx="1127.4" cy="195.8" r="0.9" opacity="0.59"/><circle cx="1226.2" cy="192.1" r="0.6" opacity="0.73"/><circle cx="1081.3" cy="222.6" r="0.9" opacity="0.51"/><circle cx="1226.7" cy="276.3" r="0.9" opacity="0.89"/><circle cx="974.0" cy="272.6" r="0.7" opacity="0.45"/><circle cx="1090.7" cy="208.7" r="0.7" opacity="0.85"/><circle cx="1164.3" cy="294.0" r="0.8" opacity="0.84"/><circle cx="962.9" cy="181.8" r="0.9" opacity="0.67"/><circle cx="1154.5" cy="281.9" r="0.8" opacity="0.59"/><circle cx="1235.3" cy="267.3" r="0.8" opacity="0.52"/><circle cx="1039.3" cy="223.8" r="0.9" opacity="0.57"/><circle cx="1070.8" cy="242.2" r="0.5" opacity="0.86"/><circle cx="1169.7" cy="257.3" r="0.7" opacity="0.88"/><circle cx="1069.9" cy="232.1" r="0.5" opacity="0.74"/><circle cx="1144.6" cy="255.2" r="0.6" opacity="0.62"/><circle cx="958.4" cy="230.3" r="0.5" opacity="0.66"/><circle cx="1155.4" cy="185.9" r="0.6" opacity="0.80"/><circle cx="1060.4" cy="213.2" r="0.7" opacity="0.76"/><circle cx="1214.8" cy="248.5" r="0.7" opacity="0.85"/><circle cx="1204.9" cy="200.3" r="0.9" opacity="0.75"/><circle cx="975.7" cy="202.0" r="0.7" opacity="0.63"/><circle cx="1022.9" cy="296.4" r="0.8" opacity="0.62"/><circle cx="1247.9" cy="183.2" r="0.6" opacity="0.46"/><circle cx="962.9" cy="189.7" r="0.8" opacity="0.41"/><circle cx="1013.6" cy="266.5" r="0.6" opacity="0.82"/><circle cx="1186.7" cy="190.1" r="1.0" opacity="0.81"/><circle cx="1001.4" cy="209.0" r="0.9" opacity="0.44"/><circle cx="1136.4" cy="219.3" r="0.9" opacity="0.70"/><circle cx="1045.0" cy="235.2" r="0.9" opacity="0.76"/><circle cx="1083.9" cy="276.2" r="0.9" opacity="0.60"/><circle cx="1132.8" cy="191.9" r="0.5" opacity="0.47"/><circle cx="1056.4" cy="299.6" r="1.0" opacity="0.88"/><circle cx="1217.4" cy="214.6" r="1.0" opacity="0.80"/><circle cx="1088.7" cy="209.5" r="0.8" opacity="0.76"/><circle cx="1086.7" cy="289.0" r="0.9" opacity="0.43"/><circle cx="1041.2" cy="281.7" r="0.9" opacity="0.41"/><circle cx="1094.8" cy="223.8" r="0.7" opacity="0.66"/><circle cx="1205.2" cy="298.5" r="0.7" opacity="0.43"/><circle cx="1195.9" cy="198.2" r="0.9" opacity="0.67"/><circle cx="1012.3" cy="266.6" r="0.7" opacity="0.63"/><circle cx="1093.2" cy="214.7" r="0.6" opacity="0.69"/><circle cx="1114.0" cy="254.7" r="0.9" opacity="0.82"/><circle cx="1086.5" cy="254.1" r="0.7" opacity="0.57"/><circle cx="969.9" cy="290.6" r="0.6" opacity="0.59"/><circle cx="1147.3" cy="195.8" r="1.0" opacity="0.74"/><circle cx="1106.0" cy="242.1" r="0.7" opacity="0.65"/><circle cx="1050.0" cy="263.1" r="0.6" opacity="0.50"/><circle cx="1120.7" cy="175.5" r="0.8" opacity="0.49"/><circle cx="1091.9" cy="245.7" r="0.6" opacity="0.47"/><circle cx="1227.8" cy="270.4" r="0.6" opacity="0.70"/><circle cx="1109.8" cy="227.4" r="0.7" opacity="0.66"/><circle cx="1027.4" cy="191.7" r="0.6" opacity="0.66"/><circle cx="1123.1" cy="250.9" r="0.7" opacity="0.72"/><circle cx="1230.7" cy="227.2" r="0.7" opacity="0.47"/></g>
<path d="M1108,175 C1150,172 1200,178 1250,176 L1250,205 C1220,200 1190,192 1160,188 C1140,185 1120,181 1108,179 Z" fill="#56463f" filter="url(#b1)"/>
<ellipse cx="1130" cy="177.5" rx="12" ry="3" fill="#9b8878" filter="url(#b1)"/>
<ellipse cx="1225" cy="190" rx="12" ry="3" fill="#a08c7c" filter="url(#b1)"/>
<path d="M940,200 L952,205 C954,220 958,238 964,250 C970,270 972,285 976,300 C980,320 985,335 990,350 C995,362 999,372 1003,380 C1007,388 1009,393 1012,400 C1020,415 1028,425 1035,435 C1040,448 1044,460 1046,470 C1049,482 1051,492 1052,500 C1055,515 1058,528 1060,540 L940,540 Z" fill="#42302a" filter="url(#b2)"/>
<clipPath id="sc"><path d="M940,200 L952,205 C954,220 958,238 964,250 C970,270 972,285 976,300 C980,320 985,335 990,350 C995,362 999,372 1003,380 C1007,388 1009,393 1012,400 C1020,415 1028,425 1035,435 C1040,448 1044,460 1046,470 C1049,482 1051,492 1052,500 C1055,515 1058,528 1060,540 L940,540 Z"/></clipPath>
<g clip-path="url(#sc)"><rect x="940" y="186" width="120" height="354" filter="url(#snoise)"/></g>
<path d="M1005,400 C1018,418 1030,435 1040,455 C1048,480 1054,510 1058,540 L1010,540 C1010,505 1006,470 1000,440 Z" fill="#1e1917" opacity="0.75" filter="url(#b4)"/>
<g opacity="0.85" filter="url(#b05)"><ellipse cx="1002.5" cy="431.2" rx="2.9" ry="1.8" fill="#7fa266" transform="rotate(72 1002.5 431.2)"/><ellipse cx="998.0" cy="431.4" rx="2.8" ry="1.7" fill="#7fa266" transform="rotate(-23 998.0 431.4)"/><ellipse cx="1010.0" cy="432.8" rx="1.9" ry="1.1" fill="#7fa266" transform="rotate(65 1010.0 432.8)"/><ellipse cx="1007.3" cy="431.4" rx="1.8" ry="0.9" fill="#7fa266" transform="rotate(-41 1007.3 431.4)"/><ellipse cx="1013.0" cy="430.4" rx="1.8" ry="0.9" fill="#7fa266" transform="rotate(24 1013.0 430.4)"/><ellipse cx="1010.4" cy="426.5" rx="2.8" ry="1.1" fill="#5f8a4a" transform="rotate(-75 1010.4 426.5)"/><ellipse cx="999.9" cy="430.6" rx="1.6" ry="1.0" fill="#5f8a4a" transform="rotate(-24 999.9 430.6)"/><ellipse cx="1022.1" cy="424.8" rx="1.8" ry="1.1" fill="#6e9658" transform="rotate(-21 1022.1 424.8)"/><ellipse cx="1015.8" cy="424.0" rx="2.7" ry="1.2" fill="#6e9658" transform="rotate(0 1015.8 424.0)"/><ellipse cx="1004.5" cy="440.0" rx="3.2" ry="2.1" fill="#4f7440" transform="rotate(-51 1004.5 440.0)"/><ellipse cx="1012.5" cy="426.6" rx="2.8" ry="1.3" fill="#4f7440" transform="rotate(-2 1012.5 426.6)"/><ellipse cx="988.0" cy="430.5" rx="1.6" ry="1.0" fill="#6e9658" transform="rotate(-40 988.0 430.5)"/><ellipse cx="986.0" cy="486.7" rx="1.7" ry="1.0" fill="#7fa266" transform="rotate(11 986.0 486.7)"/><ellipse cx="990.5" cy="488.5" rx="1.6" ry="1.1" fill="#7fa266" transform="rotate(-26 990.5 488.5)"/><ellipse cx="998.0" cy="485.8" rx="3.2" ry="2.0" fill="#6e9658" transform="rotate(18 998.0 485.8)"/><ellipse cx="982.9" cy="487.1" rx="3.1" ry="2.0" fill="#7fa266" transform="rotate(13 982.9 487.1)"/><ellipse cx="994.6" cy="484.3" rx="2.5" ry="1.0" fill="#5f8a4a" transform="rotate(-45 994.6 484.3)"/><ellipse cx="984.2" cy="486.3" rx="2.4" ry="1.6" fill="#6e9658" transform="rotate(66 984.2 486.3)"/><ellipse cx="1026.5" cy="453.9" rx="2.2" ry="1.3" fill="#4f7440" transform="rotate(-55 1026.5 453.9)"/><ellipse cx="1024.5" cy="454.8" rx="2.9" ry="1.2" fill="#6e9658" transform="rotate(-36 1024.5 454.8)"/><ellipse cx="1018.9" cy="457.0" rx="2.7" ry="1.8" fill="#6e9658" transform="rotate(43 1018.9 457.0)"/><ellipse cx="1016.5" cy="453.0" rx="1.9" ry="1.3" fill="#5f8a4a" transform="rotate(20 1016.5 453.0)"/><ellipse cx="1026.0" cy="458.7" rx="2.8" ry="1.3" fill="#6e9658" transform="rotate(42 1026.0 458.7)"/></g>
<ellipse cx="965" cy="510" rx="10" ry="14" fill="#4a5a40" opacity="0.5" filter="url(#b2)"/>
</g>
<g filter="url(#b05)"><circle cx="1169.8" cy="152.8" r="4.5" fill="#5d6c47" opacity="0.75"/><circle cx="1172.0" cy="152.9" r="3.2" fill="#6b7b52" opacity="0.75"/><circle cx="1165.5" cy="155.3" r="4.6" fill="#55643f" opacity="0.75"/><circle cx="1166.6" cy="163.3" r="2.9" fill="#55643f" opacity="0.75"/><circle cx="1172.3" cy="158.4" r="3.1" fill="#6b7b52" opacity="0.75"/><circle cx="1177.9" cy="164.2" r="4.8" fill="#5d6c47" opacity="0.75"/><circle cx="1165.7" cy="161.9" r="4.2" fill="#7a8a60" opacity="0.75"/><circle cx="1168.4" cy="156.5" r="3.4" fill="#6b7b52" opacity="0.75"/><circle cx="1172.9" cy="164.9" r="4.0" fill="#55643f" opacity="0.75"/><circle cx="1177.1" cy="151.1" r="4.1" fill="#7a8a60" opacity="0.75"/><circle cx="1165.2" cy="156.0" r="3.9" fill="#5d6c47" opacity="0.75"/><circle cx="1168.0" cy="163.6" r="4.0" fill="#7a8a60" opacity="0.75"/><circle cx="1169.8" cy="157.3" r="4.5" fill="#6b7b52" opacity="0.75"/><circle cx="1174.2" cy="159.8" r="3.6" fill="#6b7b52" opacity="0.75"/><circle cx="1193.1" cy="158.6" r="2.8" fill="#5d6c47" opacity="0.75"/><circle cx="1185.0" cy="159.6" r="3.7" fill="#55643f" opacity="0.75"/><circle cx="1195.2" cy="154.6" r="4.0" fill="#55643f" opacity="0.75"/><circle cx="1195.2" cy="163.1" r="4.9" fill="#5d6c47" opacity="0.75"/><circle cx="1192.1" cy="157.3" r="2.8" fill="#55643f" opacity="0.75"/><circle cx="1184.2" cy="150.8" r="3.4" fill="#7a8a60" opacity="0.75"/><circle cx="1191.4" cy="152.7" r="4.1" fill="#7a8a60" opacity="0.75"/><circle cx="1191.8" cy="161.1" r="4.0" fill="#7a8a60" opacity="0.75"/><circle cx="1184.5" cy="162.5" r="3.3" fill="#5d6c47" opacity="0.75"/><circle cx="1188.7" cy="162.5" r="4.4" fill="#7a8a60" opacity="0.75"/><circle cx="1185.2" cy="158.2" r="3.3" fill="#55643f" opacity="0.75"/><circle cx="1195.3" cy="154.3" r="4.5" fill="#6b7b52" opacity="0.75"/><circle cx="1193.5" cy="152.5" r="3.3" fill="#7a8a60" opacity="0.75"/><circle cx="1194.6" cy="154.3" r="4.3" fill="#6b7b52" opacity="0.75"/><circle cx="1209.9" cy="161.8" r="2.7" fill="#6b7b52" opacity="0.75"/><circle cx="1203.9" cy="161.0" r="3.9" fill="#55643f" opacity="0.75"/><circle cx="1203.8" cy="162.8" r="3.7" fill="#5d6c47" opacity="0.75"/><circle cx="1204.3" cy="161.5" r="3.5" fill="#7a8a60" opacity="0.75"/><circle cx="1204.3" cy="162.2" r="3.7" fill="#7a8a60" opacity="0.75"/><circle cx="1202.3" cy="161.6" r="3.9" fill="#6b7b52" opacity="0.75"/><circle cx="1208.6" cy="158.4" r="4.8" fill="#55643f" opacity="0.75"/><circle cx="1207.9" cy="162.1" r="2.8" fill="#55643f" opacity="0.75"/><circle cx="1205.1" cy="162.5" r="3.6" fill="#55643f" opacity="0.75"/><circle cx="1206.7" cy="165.2" r="2.7" fill="#55643f" opacity="0.75"/><circle cx="1208.3" cy="160.8" r="3.6" fill="#55643f" opacity="0.75"/><circle cx="1203.6" cy="159.9" r="3.4" fill="#5d6c47" opacity="0.75"/><circle cx="1204.3" cy="160.8" r="3.7" fill="#6b7b52" opacity="0.75"/><circle cx="1204.4" cy="164.3" r="4.2" fill="#6b7b52" opacity="0.75"/><circle cx="1236.7" cy="158.1" r="4.5" fill="#7a8a60" opacity="0.75"/><circle cx="1227.9" cy="147.4" r="2.7" fill="#5d6c47" opacity="0.75"/><circle cx="1231.6" cy="157.9" r="3.3" fill="#7a8a60" opacity="0.75"/><circle cx="1232.2" cy="156.8" r="4.6" fill="#6b7b52" opacity="0.75"/><circle cx="1240.2" cy="146.8" r="4.4" fill="#7a8a60" opacity="0.75"/><circle cx="1233.2" cy="148.6" r="4.1" fill="#7a8a60" opacity="0.75"/><circle cx="1228.7" cy="157.5" r="4.3" fill="#55643f" opacity="0.75"/><circle cx="1236.4" cy="157.6" r="4.0" fill="#5d6c47" opacity="0.75"/><circle cx="1239.8" cy="154.4" r="4.8" fill="#5d6c47" opacity="0.75"/><circle cx="1228.5" cy="158.2" r="2.5" fill="#7a8a60" opacity="0.75"/><circle cx="1236.7" cy="157.1" r="3.9" fill="#7a8a60" opacity="0.75"/><circle cx="1234.5" cy="149.3" r="4.4" fill="#6b7b52" opacity="0.75"/><circle cx="1231.7" cy="156.1" r="4.4" fill="#7a8a60" opacity="0.75"/><circle cx="1230.9" cy="159.7" r="3.2" fill="#5d6c47" opacity="0.75"/><circle cx="1243.6" cy="166.3" r="4.9" fill="#7a8a60" opacity="0.75"/><circle cx="1249.0" cy="166.6" r="2.6" fill="#6b7b52" opacity="0.75"/><circle cx="1246.5" cy="166.0" r="3.7" fill="#6b7b52" opacity="0.75"/><circle cx="1246.8" cy="165.6" r="3.9" fill="#7a8a60" opacity="0.75"/><circle cx="1248.0" cy="164.7" r="4.9" fill="#5d6c47" opacity="0.75"/><circle cx="1242.3" cy="162.6" r="4.2" fill="#6b7b52" opacity="0.75"/><circle cx="1248.5" cy="164.7" r="2.6" fill="#6b7b52" opacity="0.75"/><circle cx="1249.3" cy="158.8" r="4.8" fill="#5d6c47" opacity="0.75"/><circle cx="1248.7" cy="164.2" r="4.0" fill="#7a8a60" opacity="0.75"/><circle cx="1247.9" cy="161.1" r="3.5" fill="#6b7b52" opacity="0.75"/><circle cx="1242.0" cy="161.1" r="3.4" fill="#6b7b52" opacity="0.75"/><circle cx="1245.2" cy="161.0" r="3.2" fill="#5d6c47" opacity="0.75"/><circle cx="1250.0" cy="163.2" r="3.0" fill="#5d6c47" opacity="0.75"/><circle cx="1247.9" cy="163.2" r="4.2" fill="#6b7b52" opacity="0.75"/></g>
<path d="M1170,163 L1171,176 M1186,164 L1188,178 M1198,166 L1199,178 M1236,160 L1240,170 L1241,183" stroke="#3e3c32" stroke-width="1.3" fill="none"/>
<path d="M1075,162 C1077,158 1086,157 1091,160 L1092,163 L1088,166 L1087,175 L1083,175 L1082,169 L1079,175 L1076,175 Z" fill="#2e2d40"/>
<ellipse cx="1096.5" cy="145.5" rx="2.3" ry="2.6" fill="#4a3832"/>
<path d="M1093.5,148.5 L1099.5,148.5 L1100.5,162 L1098.5,163 L1098.5,176 L1095,176 L1094.5,163 L1093,162 Z" fill="#8895a2"/>
</g>
<g><line x1="113.75" y1="27.5" x2="895.8" y2="27.5" stroke="#d9d9d9" stroke-width="1"/><line x1="113.75" y1="87.5" x2="895.8" y2="87.5" stroke="#d9d9d9" stroke-width="1"/><line x1="113.75" y1="147.5" x2="895.8" y2="147.5" stroke="#d9d9d9" stroke-width="1"/><line x1="113.75" y1="207.5" x2="895.8" y2="207.5" stroke="#d9d9d9" stroke-width="1"/><line x1="113.75" y1="267.5" x2="895.8" y2="267.5" stroke="#d9d9d9" stroke-width="1"/><line x1="113.75" y1="327.5" x2="895.8" y2="327.5" stroke="#d9d9d9" stroke-width="1"/><line x1="113.75" y1="387.5" x2="895.8" y2="387.5" stroke="#d9d9d9" stroke-width="1"/><line x1="113.75" y1="447.5" x2="895.8" y2="447.5" stroke="#d9d9d9" stroke-width="1"/></g>
<g font-family="'Liberation Sans', Arial, sans-serif" stroke="#595959" stroke-width="0.3"><text x="55.80" y="35.40" font-size="23" fill="#595959" textLength="33.40" lengthAdjust="spacingAndGlyphs">3,5</text><text x="55.80" y="95.40" font-size="23" fill="#595959" textLength="33.40" lengthAdjust="spacingAndGlyphs">3,0</text><text x="55.80" y="155.40" font-size="23" fill="#595959" textLength="33.40" lengthAdjust="spacingAndGlyphs">2,5</text><text x="55.80" y="215.40" font-size="23" fill="#595959" textLength="33.40" lengthAdjust="spacingAndGlyphs">2,0</text><text x="55.80" y="275.40" font-size="23" fill="#595959" textLength="33.40" lengthAdjust="spacingAndGlyphs">1,5</text><text x="55.80" y="335.40" font-size="23" fill="#595959" textLength="33.40" lengthAdjust="spacingAndGlyphs">1,0</text><text x="55.80" y="395.40" font-size="23" fill="#595959" textLength="33.40" lengthAdjust="spacingAndGlyphs">0,5</text><text x="55.80" y="455.40" font-size="23" fill="#595959" textLength="33.40" lengthAdjust="spacingAndGlyphs">0,0</text><text x="158.05" y="488.90" font-size="23" fill="#595959" textLength="69.60" lengthAdjust="spacingAndGlyphs">12(13)</text><text x="313.45" y="488.90" font-size="23" fill="#595959" textLength="70.40" lengthAdjust="spacingAndGlyphs">15(16)</text><text x="470.25" y="488.90" font-size="23" fill="#595959" textLength="70.00" lengthAdjust="spacingAndGlyphs">51(55)</text><text x="625.85" y="488.90" font-size="23" fill="#595959" textLength="69.20" lengthAdjust="spacingAndGlyphs">61(65)</text><text x="782.25" y="488.90" font-size="23" fill="#595959" textLength="69.20" lengthAdjust="spacingAndGlyphs">75(79)</text><text x="446.60" y="525.70" font-size="23" fill="#595959" textLength="117.80" lengthAdjust="spacingAndGlyphs">BBCH code</text><text transform="translate(45,300.00) rotate(-90)" x="-2.00" y="0" font-size="22.5" fill="#595959" textLength="128.00" lengthAdjust="spacingAndGlyphs">LAI, m2/m2</text><text x="176.50" y="56.70" font-size="24" fill="#595959" textLength="77.10" lengthAdjust="spacingAndGlyphs">control</text><text x="176.10" y="99.60" font-size="24" fill="#595959" textLength="126.70" lengthAdjust="spacingAndGlyphs">Rhizogumin</text><text x="175.30" y="141.70" font-size="24" fill="#595959" textLength="78.00" lengthAdjust="spacingAndGlyphs">Stimpo</text><text x="175.20" y="184.60" font-size="24" fill="#595959" textLength="110.10" lengthAdjust="spacingAndGlyphs">Regoplant</text><text x="175.40" y="227.40" font-size="24" fill="#595959" textLength="53.00" lengthAdjust="spacingAndGlyphs">S+Rg</text><text x="176.30" y="269.60" font-size="24" fill="#595959" textLength="68.50" lengthAdjust="spacingAndGlyphs">Rp+Rg</text></g>
<g><path d="M191.95,423.50 C235.74,401.32 304.56,361.00 348.35,344.30 C392.14,327.60 460.96,315.64 504.75,304.22 C548.54,292.80 617.36,278.07 661.15,262.70 C704.94,247.33 773.76,213.54 817.55,194.42" fill="none" stroke="#000" stroke-width="3"/><path d="M191.95,423.50 C235.74,386.54 304.56,311.41 348.35,291.50 C392.14,271.59 460.96,290.54 504.75,281.30 C548.54,272.06 617.36,241.09 661.15,225.50 C704.94,209.91 773.76,185.50 817.55,169.94" fill="none" stroke="#000" stroke-width="3" stroke-dasharray="12 9 3 9"/><path d="M191.95,423.50 C235.74,392.35 304.56,330.74 348.35,312.26 C392.14,293.78 460.96,312.89 504.75,291.50 C548.54,270.11 617.36,184.87 661.15,159.50 C704.94,134.13 773.76,124.08 817.55,110.30" fill="none" stroke="#000" stroke-width="3" stroke-dasharray="0.1 5.9" stroke-linecap="round"/><path d="M191.95,423.50 C235.74,386.04 304.56,310.15 348.35,289.70 C392.14,269.25 460.96,291.99 504.75,277.46 C548.54,262.93 617.36,203.25 661.15,185.90 C704.94,168.55 773.76,162.57 817.55,153.50" fill="none" stroke="#a5a5a5" stroke-width="3"/><path d="M191.95,423.50 C235.74,381.87 304.56,304.35 348.35,274.82 C392.14,245.29 460.96,223.22 504.75,212.54 C548.54,201.86 617.36,213.37 661.15,198.50 C704.94,183.63 773.76,132.14 817.55,106.34" fill="none" stroke="#f00" stroke-width="3"/><path d="M191.95,423.50 C235.74,379.01 304.56,288.56 348.35,264.62 C392.14,240.68 460.96,266.96 504.75,252.50 C548.54,238.04 617.36,178.82 661.15,161.30 C704.94,143.78 773.76,136.85 817.55,127.34" fill="none" stroke="#f00" stroke-width="3" stroke-dasharray="9 3"/></g>
<g stroke="#595959" stroke-width="1" fill="none"><path d="M504.75,304.22 V300.00 M501.25,300.00 H508.25"/><path d="M661.15,262.70 V258.70 M657.65,258.70 H664.65"/><path d="M817.55,194.42 V187.40 M814.05,187.40 H821.05"/><path d="M661.15,225.50 V220.70 M657.65,220.70 H664.65"/><path d="M817.55,169.94 V162.70 M814.05,162.70 H821.05"/><path d="M348.35,312.26 V308.80 M344.85,308.80 H351.85"/><path d="M504.75,291.50 V289.50 M501.25,289.50 H508.25"/><path d="M661.15,159.50 V151.70 M657.65,151.70 H664.65"/><path d="M817.55,110.30 V100.40 M814.05,100.40 H821.05"/><path d="M348.35,289.70 V287.80 M344.85,287.80 H351.85"/><path d="M504.75,277.46 V273.30 M501.25,273.30 H508.25"/><path d="M661.15,185.90 V180.90 M657.65,180.90 H664.65"/><path d="M817.55,153.50 V147.10 M814.05,147.10 H821.05"/><path d="M348.35,274.82 V272.50 M344.85,272.50 H351.85"/><path d="M504.75,212.54 V207.20 M501.25,207.20 H508.25"/><path d="M661.15,198.50 V192.50 M657.65,192.50 H664.65"/><path d="M817.55,106.34 V98.50 M814.05,98.50 H821.05"/><path d="M348.35,264.62 V261.70 M344.85,261.70 H351.85"/><path d="M504.75,252.50 V248.70 M501.25,248.70 H508.25"/><path d="M661.15,161.30 V153.20 M657.65,153.20 H664.65"/><path d="M817.55,127.34 V118.50 M814.05,118.50 H821.05"/></g>
<g><line x1="137" y1="49.4" x2="173" y2="49.4" fill="none" stroke="#000" stroke-width="3"/><line x1="137" y1="92.2" x2="173" y2="92.2" fill="none" stroke="#000" stroke-width="3" stroke-dasharray="12 9 3 9"/><line x1="137" y1="135.4" x2="173" y2="135.4" fill="none" stroke="#000" stroke-width="3" stroke-dasharray="0.1 5.9" stroke-linecap="round"/><line x1="137" y1="177.3" x2="173" y2="177.3" fill="none" stroke="#a5a5a5" stroke-width="3"/><line x1="137" y1="220.7" x2="173" y2="220.7" fill="none" stroke="#f00" stroke-width="3"/><line x1="137" y1="263.3" x2="173" y2="263.3" fill="none" stroke="#f00" stroke-width="3" stroke-dasharray="9 3"/></g>
<g font-family="'Liberation Sans', Arial, sans-serif" stroke="#000" stroke-width="0.35"><text x="60.20" y="600.40" font-size="35.5" fill="#000" textLength="1130.80" lengthAdjust="spacingAndGlyphs">Changes in the leaf area index of pea crops under the Rhizogumin and</text><text x="75.00" y="651.00" font-size="35.5" fill="#000" textLength="1099.00" lengthAdjust="spacingAndGlyphs">biostimulants (Stimpo, Regoplant) treatment during <tspan font-size="38.5">the vegetation</tspan></text><text x="569.00" y="702.30" font-size="38.5" fill="#000" textLength="113.80" lengthAdjust="spacingAndGlyphs">period</text></g>
<text x="1179" y="691.9" font-family="'Liberation Sans', Arial, sans-serif" font-size="14" fill="#8c8c8c" text-anchor="middle">6</text>
</svg>
</body></html>
